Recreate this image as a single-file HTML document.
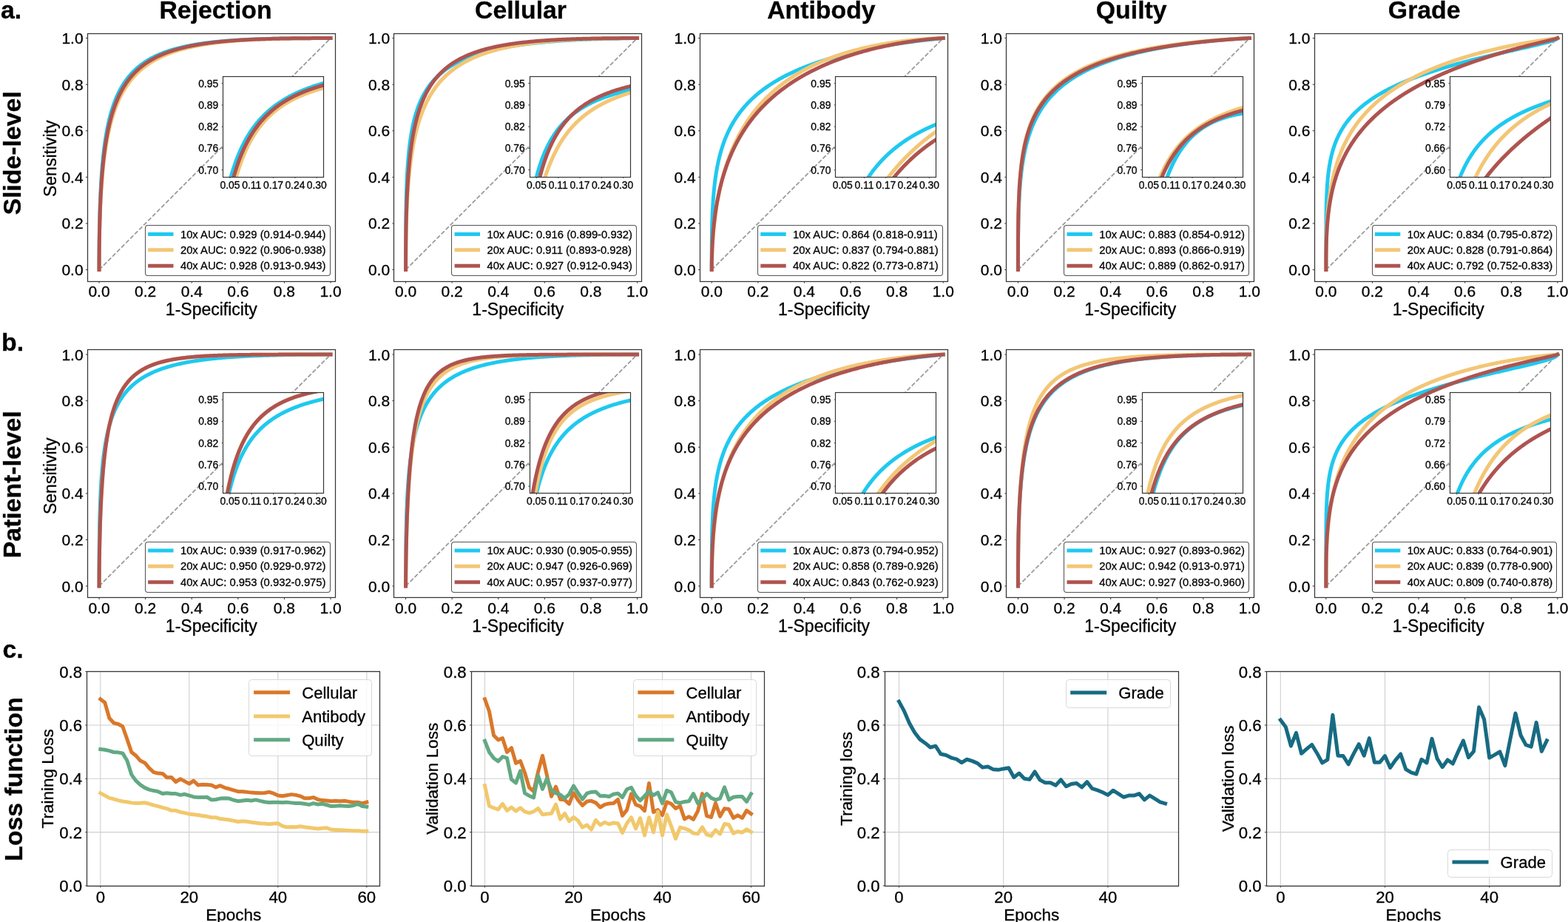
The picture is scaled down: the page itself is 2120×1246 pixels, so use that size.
<!DOCTYPE html>
<html><head><meta charset="utf-8"><title>Figure</title>
<style>html,body{margin:0;padding:0;background:#fff;}body{width:2120px;height:1246px;overflow:hidden;}svg{display:block;}</style>
</head><body>
<svg width="2120" height="1246" viewBox="0 0 2120 1246" font-family="'Liberation Sans', Arial, Helvetica, sans-serif">
<style>text{stroke:#000;stroke-width:0.3px;paint-order:stroke;}</style>
<rect width="2120" height="1246" fill="#fff"/>
<clipPath id="c00"><rect x="118.40" y="45.30" width="334.91" height="334.91"/></clipPath>
<line x1="134.05" y1="380.21" x2="134.05" y2="382.71" stroke="#363636" stroke-width="1"/>
<line x1="118.40" y1="364.56" x2="115.90" y2="364.56" stroke="#363636" stroke-width="1"/>
<text x="134.05" y="401.41" font-size="21" text-anchor="middle" fill="#000">0.0</text>
<text x="112.60" y="372.06" font-size="21" text-anchor="end" fill="#000">0.0</text>
<line x1="196.65" y1="380.21" x2="196.65" y2="382.71" stroke="#363636" stroke-width="1"/>
<line x1="118.40" y1="301.96" x2="115.90" y2="301.96" stroke="#363636" stroke-width="1"/>
<text x="196.65" y="401.41" font-size="21" text-anchor="middle" fill="#000">0.2</text>
<text x="112.60" y="309.46" font-size="21" text-anchor="end" fill="#000">0.2</text>
<line x1="259.25" y1="380.21" x2="259.25" y2="382.71" stroke="#363636" stroke-width="1"/>
<line x1="118.40" y1="239.36" x2="115.90" y2="239.36" stroke="#363636" stroke-width="1"/>
<text x="259.25" y="401.41" font-size="21" text-anchor="middle" fill="#000">0.4</text>
<text x="112.60" y="246.86" font-size="21" text-anchor="end" fill="#000">0.4</text>
<line x1="321.85" y1="380.21" x2="321.85" y2="382.71" stroke="#363636" stroke-width="1"/>
<line x1="118.40" y1="176.76" x2="115.90" y2="176.76" stroke="#363636" stroke-width="1"/>
<text x="321.85" y="401.41" font-size="21" text-anchor="middle" fill="#000">0.6</text>
<text x="112.60" y="184.26" font-size="21" text-anchor="end" fill="#000">0.6</text>
<line x1="384.45" y1="380.21" x2="384.45" y2="382.71" stroke="#363636" stroke-width="1"/>
<line x1="118.40" y1="114.16" x2="115.90" y2="114.16" stroke="#363636" stroke-width="1"/>
<text x="384.45" y="401.41" font-size="21" text-anchor="middle" fill="#000">0.8</text>
<text x="112.60" y="121.66" font-size="21" text-anchor="end" fill="#000">0.8</text>
<line x1="447.05" y1="380.21" x2="447.05" y2="382.71" stroke="#363636" stroke-width="1"/>
<line x1="118.40" y1="51.56" x2="115.90" y2="51.56" stroke="#363636" stroke-width="1"/>
<text x="447.05" y="401.41" font-size="21" text-anchor="middle" fill="#000">1.0</text>
<text x="112.60" y="59.06" font-size="21" text-anchor="end" fill="#000">1.0</text>
<text x="285.86" y="426.21" font-size="23" text-anchor="middle" fill="#000">1-Specificity</text>
<text x="76.40" y="214.26" font-size="23" text-anchor="middle" transform="rotate(-90 76.40 214.26)" fill="#000">Sensitivity</text>
<line x1="134.05" y1="364.56" x2="447.05" y2="51.56" stroke="#9a9a9a" stroke-width="1.75" stroke-dasharray="5.9,2.6"/>
<polyline points="134.05,364.56 134.05,363.58 134.05,363.43 134.05,363.25 134.05,363.04 134.05,362.80 134.05,362.53 134.05,362.22 134.05,361.86 134.05,361.45 134.05,360.98 134.05,360.44 134.05,359.82 134.06,359.13 134.06,358.33 134.06,357.43 134.06,356.41 134.06,355.25 134.07,353.94 134.07,352.46 134.08,350.79 134.09,348.91 134.09,346.81 134.11,344.45 134.12,341.81 134.14,338.87 134.16,335.60 134.20,331.96 134.23,327.93 134.28,323.47 134.35,318.57 134.42,313.17 134.52,307.26 134.65,300.81 134.81,293.79 135.01,286.18 135.27,277.96 135.59,269.12 136.00,259.66 136.52,249.57 137.18,238.88 137.24,237.96 138.28,224.43 139.31,213.37 140.35,204.00 141.39,195.87 142.42,188.70 143.46,182.29 144.50,176.51 145.53,171.23 146.57,166.40 147.60,161.94 148.64,157.81 149.68,153.96 150.71,150.36 151.75,146.99 152.78,143.82 153.82,140.83 154.86,138.00 155.89,135.32 156.93,132.78 157.97,130.37 159.00,128.06 160.04,125.87 161.07,123.77 162.11,121.77 163.15,119.85 164.18,118.00 165.22,116.24 166.25,114.54 167.29,112.91 168.33,111.34 169.36,109.82 170.40,108.37 171.44,106.96 172.47,105.60 173.51,104.29 174.54,103.02 175.58,101.80 176.62,100.61 177.65,99.46 178.69,98.35 179.72,97.27 180.76,96.23 181.80,95.21 182.83,94.23 183.87,93.27 184.91,92.34 185.94,91.44 186.98,90.56 188.01,89.71 189.05,88.88 190.09,88.08 191.12,87.29 192.16,86.53 193.19,85.78 194.23,85.06 195.27,84.35 196.30,83.66 197.34,82.99 198.38,82.34 199.41,81.70 200.45,81.08 201.48,80.47 202.52,79.87 203.56,79.30 204.59,78.73 205.63,78.18 206.66,77.64 207.70,77.11 208.74,76.60 209.77,76.09 210.81,75.60 211.85,75.12 212.88,74.65 213.92,74.19 214.95,73.74 215.99,73.30 217.03,72.87 218.06,72.45 219.10,72.04 220.13,71.63 221.17,71.24 222.21,70.85 223.24,70.47 224.28,70.10 225.31,69.74 226.35,69.39 227.39,69.04 228.42,68.70 229.46,68.36 230.50,68.03 231.53,67.71 232.57,67.40 233.60,67.09 234.64,66.79 235.68,66.49 236.71,66.20 237.75,65.92 238.78,65.64 239.82,65.37 240.86,65.10 241.89,64.84 242.93,64.58 243.97,64.33 245.00,64.08 246.04,63.83 247.07,63.59 248.11,63.36 249.15,63.13 250.18,62.91 251.22,62.68 252.25,62.47 253.29,62.25 254.33,62.05 255.36,61.84 256.40,61.64 257.44,61.44 258.47,61.25 259.51,61.06 260.54,60.87 261.58,60.69 262.62,60.51 263.65,60.33 264.69,60.16 265.72,59.99 266.76,59.82 267.80,59.66 268.83,59.49 269.87,59.34 270.91,59.18 271.94,59.03 272.98,58.88 274.01,58.73 275.05,58.59 276.09,58.44 277.12,58.31 278.16,58.17 279.19,58.03 280.23,57.90 281.27,57.77 282.30,57.65 283.34,57.52 284.38,57.40 285.41,57.28 286.45,57.16 287.48,57.04 288.52,56.93 289.56,56.82 290.59,56.71 291.63,56.60 292.66,56.49 293.70,56.39 294.74,56.29 295.77,56.19 296.81,56.09 297.85,55.99 298.88,55.90 299.92,55.80 300.95,55.71 301.99,55.62 303.03,55.53 304.06,55.45 305.10,55.36 306.13,55.28 307.17,55.19 308.21,55.11 309.24,55.03 310.28,54.96 311.31,54.88 312.35,54.80 313.39,54.73 314.42,54.66 315.46,54.59 316.50,54.52 317.53,54.45 318.57,54.38 319.60,54.32 320.64,54.25 321.68,54.19 322.71,54.13 323.75,54.07 324.78,54.01 325.82,53.95 326.86,53.89 327.89,53.83 328.93,53.78 329.97,53.72 331.00,53.67 332.04,53.62 333.07,53.57 334.11,53.52 335.15,53.47 336.18,53.42 337.22,53.37 338.25,53.32 339.29,53.28 340.33,53.23 341.36,53.19 342.40,53.15 343.44,53.10 344.47,53.06 345.51,53.02 346.54,52.98 347.58,52.94 348.62,52.90 349.65,52.87 350.69,52.83 351.72,52.79 352.76,52.76 353.80,52.73 354.83,52.69 355.87,52.66 356.91,52.63 357.94,52.59 358.98,52.56 360.01,52.53 361.05,52.50 362.09,52.48 363.12,52.45 364.16,52.42 365.19,52.39 366.23,52.37 367.27,52.34 368.30,52.31 369.34,52.29 370.38,52.27 371.41,52.24 372.45,52.22 373.48,52.20 374.52,52.17 375.56,52.15 376.59,52.13 377.63,52.11 378.66,52.09 379.70,52.07 380.74,52.05 381.77,52.04 382.81,52.02 383.85,52.00 384.88,51.98 385.92,51.97 386.95,51.95 387.99,51.93 389.03,51.92 390.06,51.90 391.10,51.89 392.13,51.87 393.17,51.86 394.21,51.85 395.24,51.83 396.28,51.82 397.32,51.81 398.35,51.80 399.39,51.79 400.42,51.78 401.46,51.77 402.50,51.75 403.53,51.74 404.57,51.73 405.60,51.73 406.64,51.72 407.68,51.71 408.71,51.70 409.75,51.69 410.78,51.68 411.82,51.68 412.86,51.67 413.89,51.66 414.93,51.65 415.97,51.65 417.00,51.64 418.04,51.64 419.07,51.63 420.11,51.62 421.15,51.62 422.18,51.61 423.22,51.61 424.25,51.61 425.29,51.60 426.33,51.60 427.36,51.59 428.40,51.59 429.44,51.59 430.47,51.58 431.51,51.58 432.54,51.58 433.58,51.58 434.62,51.57 435.65,51.57 436.69,51.57 437.72,51.57 438.76,51.57 439.80,51.56 440.83,51.56 441.87,51.56 442.91,51.56 443.94,51.56 444.98,51.56 446.01,51.56 447.05,51.56" fill="none" stroke="#1fc9ef" stroke-width="5.0" stroke-linejoin="round" stroke-linecap="square" clip-path="url(#c00)"/>
<polyline points="134.05,364.56 134.05,363.93 134.05,363.83 134.05,363.70 134.05,363.56 134.05,363.39 134.05,363.20 134.05,362.98 134.05,362.72 134.05,362.43 134.05,362.08 134.05,361.69 134.05,361.23 134.06,360.71 134.06,360.11 134.06,359.42 134.06,358.64 134.06,357.74 134.07,356.71 134.07,355.54 134.08,354.22 134.09,352.71 134.09,351.00 134.11,349.07 134.12,346.89 134.14,344.43 134.16,341.68 134.20,338.58 134.23,335.12 134.28,331.26 134.35,326.96 134.42,322.19 134.52,316.92 134.65,311.10 134.81,304.71 135.01,297.70 135.27,290.06 135.59,281.76 136.00,272.77 136.52,263.10 137.18,252.73 137.24,251.83 138.28,238.54 139.31,227.54 140.35,218.14 141.39,209.92 142.42,202.61 143.46,196.05 144.50,190.08 145.53,184.62 146.57,179.59 147.60,174.93 148.64,170.60 149.68,166.54 150.71,162.74 151.75,159.17 152.78,155.80 153.82,152.61 154.86,149.58 155.89,146.71 156.93,143.98 157.97,141.38 159.00,138.89 160.04,136.51 161.07,134.24 162.11,132.05 163.15,129.96 164.18,127.95 165.22,126.02 166.25,124.16 167.29,122.37 168.33,120.64 169.36,118.97 170.40,117.36 171.44,115.80 172.47,114.30 173.51,112.85 174.54,111.44 175.58,110.07 176.62,108.75 177.65,107.47 178.69,106.23 179.72,105.02 180.76,103.85 181.80,102.71 182.83,101.60 183.87,100.53 184.91,99.48 185.94,98.46 186.98,97.47 188.01,96.51 189.05,95.57 190.09,94.66 191.12,93.77 192.16,92.90 193.19,92.05 194.23,91.23 195.27,90.42 196.30,89.64 197.34,88.87 198.38,88.12 199.41,87.39 200.45,86.68 201.48,85.98 202.52,85.30 203.56,84.63 204.59,83.98 205.63,83.34 206.66,82.72 207.70,82.11 208.74,81.52 209.77,80.94 210.81,80.37 211.85,79.81 212.88,79.27 213.92,78.73 214.95,78.21 215.99,77.70 217.03,77.20 218.06,76.71 219.10,76.23 220.13,75.76 221.17,75.30 222.21,74.85 223.24,74.40 224.28,73.97 225.31,73.55 226.35,73.13 227.39,72.72 228.42,72.32 229.46,71.93 230.50,71.54 231.53,71.17 232.57,70.80 233.60,70.43 234.64,70.08 235.68,69.73 236.71,69.38 237.75,69.05 238.78,68.72 239.82,68.40 240.86,68.08 241.89,67.77 242.93,67.46 243.97,67.16 245.00,66.86 246.04,66.58 247.07,66.29 248.11,66.01 249.15,65.74 250.18,65.47 251.22,65.21 252.25,64.95 253.29,64.69 254.33,64.44 255.36,64.20 256.40,63.96 257.44,63.72 258.47,63.49 259.51,63.26 260.54,63.04 261.58,62.82 262.62,62.60 263.65,62.39 264.69,62.18 265.72,61.97 266.76,61.77 267.80,61.57 268.83,61.38 269.87,61.19 270.91,61.00 271.94,60.82 272.98,60.63 274.01,60.46 275.05,60.28 276.09,60.11 277.12,59.94 278.16,59.78 279.19,59.61 280.23,59.45 281.27,59.29 282.30,59.14 283.34,58.99 284.38,58.84 285.41,58.69 286.45,58.55 287.48,58.41 288.52,58.27 289.56,58.13 290.59,58.00 291.63,57.86 292.66,57.73 293.70,57.61 294.74,57.48 295.77,57.36 296.81,57.24 297.85,57.12 298.88,57.00 299.92,56.89 300.95,56.77 301.99,56.66 303.03,56.55 304.06,56.45 305.10,56.34 306.13,56.24 307.17,56.14 308.21,56.04 309.24,55.94 310.28,55.84 311.31,55.75 312.35,55.66 313.39,55.57 314.42,55.48 315.46,55.39 316.50,55.30 317.53,55.22 318.57,55.13 319.60,55.05 320.64,54.97 321.68,54.89 322.71,54.82 323.75,54.74 324.78,54.67 325.82,54.59 326.86,54.52 327.89,54.45 328.93,54.38 329.97,54.31 331.00,54.25 332.04,54.18 333.07,54.12 334.11,54.05 335.15,53.99 336.18,53.93 337.22,53.87 338.25,53.81 339.29,53.75 340.33,53.70 341.36,53.64 342.40,53.59 343.44,53.54 344.47,53.48 345.51,53.43 346.54,53.38 347.58,53.33 348.62,53.28 349.65,53.24 350.69,53.19 351.72,53.15 352.76,53.10 353.80,53.06 354.83,53.02 355.87,52.97 356.91,52.93 357.94,52.89 358.98,52.85 360.01,52.82 361.05,52.78 362.09,52.74 363.12,52.71 364.16,52.67 365.19,52.64 366.23,52.60 367.27,52.57 368.30,52.54 369.34,52.51 370.38,52.47 371.41,52.44 372.45,52.41 373.48,52.39 374.52,52.36 375.56,52.33 376.59,52.30 377.63,52.28 378.66,52.25 379.70,52.23 380.74,52.20 381.77,52.18 382.81,52.16 383.85,52.13 384.88,52.11 385.92,52.09 386.95,52.07 387.99,52.05 389.03,52.03 390.06,52.01 391.10,51.99 392.13,51.97 393.17,51.95 394.21,51.94 395.24,51.92 396.28,51.90 397.32,51.89 398.35,51.87 399.39,51.86 400.42,51.84 401.46,51.83 402.50,51.82 403.53,51.80 404.57,51.79 405.60,51.78 406.64,51.77 407.68,51.75 408.71,51.74 409.75,51.73 410.78,51.72 411.82,51.71 412.86,51.70 413.89,51.69 414.93,51.69 415.97,51.68 417.00,51.67 418.04,51.66 419.07,51.65 420.11,51.65 421.15,51.64 422.18,51.63 423.22,51.63 424.25,51.62 425.29,51.62 426.33,51.61 427.36,51.60 428.40,51.60 429.44,51.60 430.47,51.59 431.51,51.59 432.54,51.58 433.58,51.58 434.62,51.58 435.65,51.58 436.69,51.57 437.72,51.57 438.76,51.57 439.80,51.57 440.83,51.56 441.87,51.56 442.91,51.56 443.94,51.56 444.98,51.56 446.01,51.56 447.05,51.56" fill="none" stroke="#f3c676" stroke-width="5.0" stroke-linejoin="round" stroke-linecap="square" clip-path="url(#c00)"/>
<polyline points="134.05,364.56 134.05,363.87 134.05,363.75 134.05,363.62 134.05,363.46 134.05,363.28 134.05,363.07 134.05,362.83 134.05,362.55 134.05,362.22 134.05,361.85 134.05,361.42 134.05,360.93 134.06,360.36 134.06,359.71 134.06,358.96 134.06,358.11 134.06,357.14 134.07,356.03 134.07,354.78 134.08,353.35 134.09,351.73 134.09,349.90 134.11,347.83 134.12,345.50 134.14,342.88 134.16,339.94 134.20,336.65 134.23,332.98 134.28,328.89 134.35,324.36 134.42,319.34 134.52,313.79 134.65,307.70 134.81,301.02 135.01,293.72 135.27,285.78 135.59,277.18 136.00,267.91 136.52,257.97 137.18,247.35 137.24,246.43 138.28,232.88 139.31,221.72 140.35,212.22 141.39,203.94 142.42,196.60 143.46,190.02 144.50,184.06 145.53,178.62 146.57,173.62 147.60,168.99 148.64,164.70 149.68,160.69 150.71,156.94 151.75,153.41 152.78,150.09 153.82,146.96 154.86,143.99 155.89,141.18 156.93,138.51 157.97,135.96 159.00,133.54 160.04,131.22 161.07,129.01 162.11,126.89 163.15,124.86 164.18,122.91 165.22,121.03 166.25,119.23 167.29,117.50 168.33,115.83 169.36,114.23 170.40,112.67 171.44,111.18 172.47,109.73 173.51,108.33 174.54,106.98 175.58,105.68 176.62,104.41 177.65,103.18 178.69,101.99 179.72,100.84 180.76,99.72 181.80,98.64 182.83,97.59 183.87,96.56 184.91,95.57 185.94,94.60 186.98,93.66 188.01,92.75 189.05,91.86 190.09,90.99 191.12,90.15 192.16,89.33 193.19,88.53 194.23,87.75 195.27,86.99 196.30,86.25 197.34,85.53 198.38,84.82 199.41,84.14 200.45,83.47 201.48,82.81 202.52,82.17 203.56,81.55 204.59,80.94 205.63,80.34 206.66,79.76 207.70,79.19 208.74,78.64 209.77,78.10 210.81,77.57 211.85,77.05 212.88,76.54 213.92,76.04 214.95,75.56 215.99,75.08 217.03,74.62 218.06,74.16 219.10,73.72 220.13,73.28 221.17,72.85 222.21,72.44 223.24,72.03 224.28,71.63 225.31,71.23 226.35,70.85 227.39,70.47 228.42,70.10 229.46,69.74 230.50,69.39 231.53,69.04 232.57,68.70 233.60,68.37 234.64,68.04 235.68,67.72 236.71,67.41 237.75,67.10 238.78,66.80 239.82,66.50 240.86,66.21 241.89,65.92 242.93,65.64 243.97,65.37 245.00,65.10 246.04,64.84 247.07,64.58 248.11,64.32 249.15,64.08 250.18,63.83 251.22,63.59 252.25,63.36 253.29,63.13 254.33,62.90 255.36,62.68 256.40,62.46 257.44,62.24 258.47,62.03 259.51,61.83 260.54,61.62 261.58,61.43 262.62,61.23 263.65,61.04 264.69,60.85 265.72,60.67 266.76,60.48 267.80,60.31 268.83,60.13 269.87,59.96 270.91,59.79 271.94,59.63 272.98,59.46 274.01,59.30 275.05,59.15 276.09,58.99 277.12,58.84 278.16,58.69 279.19,58.55 280.23,58.41 281.27,58.26 282.30,58.13 283.34,57.99 284.38,57.86 285.41,57.73 286.45,57.60 287.48,57.47 288.52,57.35 289.56,57.23 290.59,57.11 291.63,56.99 292.66,56.88 293.70,56.76 294.74,56.65 295.77,56.54 296.81,56.44 297.85,56.33 298.88,56.23 299.92,56.13 300.95,56.03 301.99,55.93 303.03,55.83 304.06,55.74 305.10,55.65 306.13,55.56 307.17,55.47 308.21,55.38 309.24,55.30 310.28,55.21 311.31,55.13 312.35,55.05 313.39,54.97 314.42,54.89 315.46,54.81 316.50,54.74 317.53,54.66 318.57,54.59 319.60,54.52 320.64,54.45 321.68,54.38 322.71,54.31 323.75,54.25 324.78,54.18 325.82,54.12 326.86,54.06 327.89,54.00 328.93,53.94 329.97,53.88 331.00,53.82 332.04,53.76 333.07,53.71 334.11,53.65 335.15,53.60 336.18,53.55 337.22,53.50 338.25,53.44 339.29,53.40 340.33,53.35 341.36,53.30 342.40,53.25 343.44,53.21 344.47,53.16 345.51,53.12 346.54,53.08 347.58,53.03 348.62,52.99 349.65,52.95 350.69,52.91 351.72,52.88 352.76,52.84 353.80,52.80 354.83,52.76 355.87,52.73 356.91,52.69 357.94,52.66 358.98,52.63 360.01,52.59 361.05,52.56 362.09,52.53 363.12,52.50 364.16,52.47 365.19,52.44 366.23,52.41 367.27,52.39 368.30,52.36 369.34,52.33 370.38,52.31 371.41,52.28 372.45,52.26 373.48,52.23 374.52,52.21 375.56,52.19 376.59,52.16 377.63,52.14 378.66,52.12 379.70,52.10 380.74,52.08 381.77,52.06 382.81,52.04 383.85,52.02 384.88,52.00 385.92,51.99 386.95,51.97 387.99,51.95 389.03,51.94 390.06,51.92 391.10,51.91 392.13,51.89 393.17,51.88 394.21,51.86 395.24,51.85 396.28,51.83 397.32,51.82 398.35,51.81 399.39,51.80 400.42,51.79 401.46,51.77 402.50,51.76 403.53,51.75 404.57,51.74 405.60,51.73 406.64,51.72 407.68,51.71 408.71,51.70 409.75,51.70 410.78,51.69 411.82,51.68 412.86,51.67 413.89,51.66 414.93,51.66 415.97,51.65 417.00,51.64 418.04,51.64 419.07,51.63 420.11,51.63 421.15,51.62 422.18,51.62 423.22,51.61 424.25,51.61 425.29,51.60 426.33,51.60 427.36,51.59 428.40,51.59 429.44,51.59 430.47,51.58 431.51,51.58 432.54,51.58 433.58,51.58 434.62,51.57 435.65,51.57 436.69,51.57 437.72,51.57 438.76,51.57 439.80,51.56 440.83,51.56 441.87,51.56 442.91,51.56 443.94,51.56 444.98,51.56 446.01,51.56 447.05,51.56" fill="none" stroke="#ae5450" stroke-width="5.0" stroke-linejoin="round" stroke-linecap="square" clip-path="url(#c00)"/>
<rect x="118.50" y="45.50" width="335.00" height="335.00" fill="none" stroke="#363636" stroke-width="1.25"/>
<rect x="301.60" y="103.30" width="136.00" height="135.70" fill="#fff" stroke="none"/>
<clipPath id="i00"><rect x="301.60" y="103.30" width="136.00" height="135.70"/></clipPath>
<polyline points="296.91,324.75 297.66,318.07 298.42,311.81 299.17,305.94 299.93,300.40 300.68,295.17 301.44,290.22 302.19,285.51 302.94,281.03 303.70,276.76 304.45,272.68 305.21,268.78 305.96,265.04 306.71,261.45 307.47,258.00 308.22,254.69 308.98,251.50 309.73,248.42 310.48,245.45 311.24,242.59 311.99,239.81 312.75,237.14 313.50,234.54 314.25,232.03 315.01,229.59 315.76,227.23 316.52,224.94 317.27,222.71 318.03,220.54 318.78,218.44 319.53,216.39 320.29,214.40 321.04,212.46 321.80,210.57 322.55,208.73 323.30,206.93 324.06,205.18 324.81,203.47 325.57,201.81 326.32,200.18 327.07,198.59 327.83,197.03 328.58,195.51 329.34,194.03 330.09,192.57 330.85,191.15 331.60,189.76 332.35,188.40 333.11,187.07 333.86,185.76 334.62,184.48 335.37,183.23 336.12,182.00 336.88,180.80 337.63,179.62 338.39,178.46 339.14,177.33 339.89,176.21 340.65,175.12 341.40,174.05 342.16,173.00 342.91,171.96 343.67,170.95 344.42,169.95 345.17,168.97 345.93,168.01 346.68,167.06 347.44,166.13 348.19,165.22 348.94,164.32 349.70,163.44 350.45,162.57 351.21,161.72 351.96,160.88 352.71,160.05 353.47,159.24 354.22,158.44 354.98,157.65 355.73,156.87 356.49,156.11 357.24,155.36 357.99,154.62 358.75,153.89 359.50,153.17 360.26,152.47 361.01,151.77 361.76,151.09 362.52,150.41 363.27,149.74 364.03,149.09 364.78,148.44 365.53,147.80 366.29,147.18 367.04,146.56 367.80,145.95 368.55,145.34 369.31,144.75 370.06,144.16 370.81,143.59 371.57,143.02 372.32,142.46 373.08,141.90 373.83,141.35 374.58,140.81 375.34,140.28 376.09,139.76 376.85,139.24 377.60,138.73 378.35,138.22 379.11,137.72 379.86,137.23 380.62,136.75 381.37,136.27 382.13,135.79 382.88,135.33 383.63,134.86 384.39,134.41 385.14,133.96 385.90,133.51 386.65,133.07 387.40,132.64 388.16,132.21 388.91,131.79 389.67,131.37 390.42,130.96 391.17,130.55 391.93,130.14 392.68,129.75 393.44,129.35 394.19,128.96 394.95,128.58 395.70,128.20 396.45,127.82 397.21,127.45 397.96,127.08 398.72,126.72 399.47,126.36 400.22,126.01 400.98,125.65 401.73,125.31 402.49,124.96 403.24,124.63 403.99,124.29 404.75,123.96 405.50,123.63 406.26,123.31 407.01,122.99 407.77,122.67 408.52,122.35 409.27,122.04 410.03,121.74 410.78,121.43 411.54,121.13 412.29,120.84 413.04,120.54 413.80,120.25 414.55,119.96 415.31,119.68 416.06,119.40 416.81,119.12 417.57,118.84 418.32,118.57 419.08,118.30 419.83,118.03 420.59,117.77 421.34,117.50 422.09,117.25 422.85,116.99 423.60,116.73 424.36,116.48 425.11,116.23 425.86,115.99 426.62,115.74 427.37,115.50 428.13,115.26 428.88,115.03 429.63,114.79 430.39,114.56 431.14,114.33 431.90,114.11 432.65,113.88 433.41,113.66 434.16,113.44 434.91,113.22 435.67,113.00 436.42,112.79 437.18,112.58 437.93,112.37 438.68,112.16 439.44,111.95 440.19,111.75 440.95,111.55 441.70,111.35 442.45,111.15 443.21,110.95 443.96,110.76 444.72,110.56 445.47,110.37 446.23,110.19 446.98,110.00" fill="none" stroke="#1fc9ef" stroke-width="5.0" stroke-linejoin="round" stroke-linecap="square" clip-path="url(#i00)"/>
<polyline points="296.91,385.51 297.66,376.59 298.42,368.19 299.17,360.24 299.93,352.73 300.68,345.60 301.44,338.83 302.19,332.39 302.94,326.25 303.70,320.40 304.45,314.81 305.21,309.47 305.96,304.35 306.71,299.45 307.47,294.74 308.22,290.23 308.98,285.89 309.73,281.72 310.48,277.70 311.24,273.83 311.99,270.10 312.75,266.50 313.50,263.02 314.25,259.67 315.01,256.42 315.76,253.28 316.52,250.24 317.27,247.30 318.03,244.45 318.78,241.69 319.53,239.01 320.29,236.42 321.04,233.89 321.80,231.45 322.55,229.07 323.30,226.75 324.06,224.51 324.81,222.32 325.57,220.19 326.32,218.12 327.07,216.10 327.83,214.14 328.58,212.22 329.34,210.36 330.09,208.54 330.85,206.77 331.60,205.04 332.35,203.35 333.11,201.70 333.86,200.09 334.62,198.52 335.37,196.98 336.12,195.48 336.88,194.02 337.63,192.58 338.39,191.18 339.14,189.81 339.89,188.47 340.65,187.16 341.40,185.87 342.16,184.61 342.91,183.38 343.67,182.18 344.42,181.00 345.17,179.84 345.93,178.71 346.68,177.59 347.44,176.51 348.19,175.44 348.94,174.39 349.70,173.36 350.45,172.36 351.21,171.37 351.96,170.40 352.71,169.45 353.47,168.52 354.22,167.60 354.98,166.70 355.73,165.82 356.49,164.95 357.24,164.10 357.99,163.26 358.75,162.44 359.50,161.63 360.26,160.83 361.01,160.05 361.76,159.29 362.52,158.53 363.27,157.79 364.03,157.06 364.78,156.34 365.53,155.64 366.29,154.94 367.04,154.26 367.80,153.59 368.55,152.93 369.31,152.28 370.06,151.64 370.81,151.01 371.57,150.39 372.32,149.78 373.08,149.18 373.83,148.58 374.58,148.00 375.34,147.43 376.09,146.86 376.85,146.30 377.60,145.76 378.35,145.22 379.11,144.68 379.86,144.16 380.62,143.64 381.37,143.13 382.13,142.63 382.88,142.13 383.63,141.64 384.39,141.16 385.14,140.69 385.90,140.22 386.65,139.76 387.40,139.30 388.16,138.85 388.91,138.41 389.67,137.97 390.42,137.54 391.17,137.12 391.93,136.70 392.68,136.28 393.44,135.87 394.19,135.47 394.95,135.07 395.70,134.68 396.45,134.29 397.21,133.91 397.96,133.53 398.72,133.16 399.47,132.79 400.22,132.43 400.98,132.07 401.73,131.72 402.49,131.37 403.24,131.02 403.99,130.68 404.75,130.34 405.50,130.01 406.26,129.68 407.01,129.35 407.77,129.03 408.52,128.72 409.27,128.40 410.03,128.09 410.78,127.79 411.54,127.48 412.29,127.19 413.04,126.89 413.80,126.60 414.55,126.31 415.31,126.02 416.06,125.74 416.81,125.46 417.57,125.19 418.32,124.92 419.08,124.65 419.83,124.38 420.59,124.12 421.34,123.86 422.09,123.60 422.85,123.35 423.60,123.09 424.36,122.85 425.11,122.60 425.86,122.36 426.62,122.11 427.37,121.88 428.13,121.64 428.88,121.41 429.63,121.18 430.39,120.95 431.14,120.72 431.90,120.50 432.65,120.28 433.41,120.06 434.16,119.84 434.91,119.63 435.67,119.42 436.42,119.21 437.18,119.00 437.93,118.80 438.68,118.59 439.44,118.39 440.19,118.19 440.95,117.99 441.70,117.80 442.45,117.61 443.21,117.42 443.96,117.23 444.72,117.04 445.47,116.85 446.23,116.67 446.98,116.49" fill="none" stroke="#f3c676" stroke-width="5.0" stroke-linejoin="round" stroke-linecap="square" clip-path="url(#i00)"/>
<polyline points="296.91,355.39 297.66,347.47 298.42,340.04 299.17,333.05 299.93,326.46 300.68,320.23 301.44,314.32 302.19,308.71 302.94,303.38 303.70,298.29 304.45,293.44 305.21,288.80 305.96,284.36 306.71,280.10 307.47,276.02 308.22,272.10 308.98,268.33 309.73,264.70 310.48,261.21 311.24,257.84 311.99,254.58 312.75,251.44 313.50,248.41 314.25,245.47 315.01,242.63 315.76,239.88 316.52,237.22 317.27,234.64 318.03,232.13 318.78,229.70 319.53,227.34 320.29,225.04 321.04,222.81 321.80,220.64 322.55,218.53 323.30,216.48 324.06,214.48 324.81,212.53 325.57,210.63 326.32,208.78 327.07,206.98 327.83,205.22 328.58,203.51 329.34,201.83 330.09,200.19 330.85,198.60 331.60,197.04 332.35,195.51 333.11,194.02 333.86,192.56 334.62,191.14 335.37,189.74 336.12,188.38 336.88,187.04 337.63,185.73 338.39,184.45 339.14,183.20 339.89,181.97 340.65,180.77 341.40,179.59 342.16,178.43 342.91,177.30 343.67,176.18 344.42,175.09 345.17,174.03 345.93,172.98 346.68,171.95 347.44,170.94 348.19,169.94 348.94,168.97 349.70,168.01 350.45,167.08 351.21,166.15 351.96,165.25 352.71,164.36 353.47,163.48 354.22,162.62 354.98,161.78 355.73,160.95 356.49,160.13 357.24,159.33 357.99,158.54 358.75,157.76 359.50,156.99 360.26,156.24 361.01,155.50 361.76,154.77 362.52,154.06 363.27,153.35 364.03,152.66 364.78,151.97 365.53,151.30 366.29,150.64 367.04,149.99 367.80,149.34 368.55,148.71 369.31,148.09 370.06,147.47 370.81,146.87 371.57,146.27 372.32,145.68 373.08,145.10 373.83,144.53 374.58,143.97 375.34,143.42 376.09,142.87 376.85,142.33 377.60,141.80 378.35,141.27 379.11,140.76 379.86,140.25 380.62,139.74 381.37,139.25 382.13,138.76 382.88,138.27 383.63,137.80 384.39,137.33 385.14,136.86 385.90,136.41 386.65,135.95 387.40,135.51 388.16,135.07 388.91,134.63 389.67,134.20 390.42,133.78 391.17,133.36 391.93,132.95 392.68,132.54 393.44,132.14 394.19,131.74 394.95,131.35 395.70,130.96 396.45,130.58 397.21,130.20 397.96,129.82 398.72,129.45 399.47,129.09 400.22,128.73 400.98,128.37 401.73,128.02 402.49,127.67 403.24,127.33 403.99,126.99 404.75,126.65 405.50,126.32 406.26,125.99 407.01,125.67 407.77,125.35 408.52,125.03 409.27,124.72 410.03,124.41 410.78,124.10 411.54,123.80 412.29,123.50 413.04,123.20 413.80,122.91 414.55,122.62 415.31,122.33 416.06,122.05 416.81,121.77 417.57,121.49 418.32,121.22 419.08,120.95 419.83,120.68 420.59,120.41 421.34,120.15 422.09,119.89 422.85,119.64 423.60,119.38 424.36,119.13 425.11,118.88 425.86,118.63 426.62,118.39 427.37,118.15 428.13,117.91 428.88,117.67 429.63,117.44 430.39,117.21 431.14,116.98 431.90,116.75 432.65,116.53 433.41,116.31 434.16,116.09 434.91,115.87 435.67,115.65 436.42,115.44 437.18,115.23 437.93,115.02 438.68,114.81 439.44,114.61 440.19,114.40 440.95,114.20 441.70,114.00 442.45,113.81 443.21,113.61 443.96,113.42 444.72,113.23 445.47,113.04 446.23,112.85 446.98,112.66" fill="none" stroke="#ae5450" stroke-width="5.0" stroke-linejoin="round" stroke-linecap="square" clip-path="url(#i00)"/>
<rect x="301.50" y="103.50" width="136.00" height="136.00" fill="none" stroke="#363636" stroke-width="1.2"/>
<line x1="310.98" y1="239.00" x2="310.98" y2="241.00" stroke="#363636" stroke-width="0.9"/>
<text x="310.98" y="254.50" font-size="13.9" text-anchor="middle" fill="#000">0.05</text>
<line x1="340.29" y1="239.00" x2="340.29" y2="241.00" stroke="#363636" stroke-width="0.9"/>
<text x="340.29" y="254.50" font-size="13.9" text-anchor="middle" fill="#000">0.11</text>
<line x1="369.60" y1="239.00" x2="369.60" y2="241.00" stroke="#363636" stroke-width="0.9"/>
<text x="369.60" y="254.50" font-size="13.9" text-anchor="middle" fill="#000">0.17</text>
<line x1="398.91" y1="239.00" x2="398.91" y2="241.00" stroke="#363636" stroke-width="0.9"/>
<text x="398.91" y="254.50" font-size="13.9" text-anchor="middle" fill="#000">0.24</text>
<line x1="428.22" y1="239.00" x2="428.22" y2="241.00" stroke="#363636" stroke-width="0.9"/>
<text x="428.22" y="254.50" font-size="13.9" text-anchor="middle" fill="#000">0.30</text>
<line x1="301.60" y1="229.64" x2="299.60" y2="229.64" stroke="#363636" stroke-width="0.9"/>
<text x="295.20" y="234.54" font-size="13.9" text-anchor="end" fill="#000">0.70</text>
<line x1="301.60" y1="200.40" x2="299.60" y2="200.40" stroke="#363636" stroke-width="0.9"/>
<text x="295.20" y="205.30" font-size="13.9" text-anchor="end" fill="#000">0.76</text>
<line x1="301.60" y1="171.15" x2="299.60" y2="171.15" stroke="#363636" stroke-width="0.9"/>
<text x="295.20" y="176.05" font-size="13.9" text-anchor="end" fill="#000">0.82</text>
<line x1="301.60" y1="141.90" x2="299.60" y2="141.90" stroke="#363636" stroke-width="0.9"/>
<text x="295.20" y="146.80" font-size="13.9" text-anchor="end" fill="#000">0.89</text>
<line x1="301.60" y1="112.66" x2="299.60" y2="112.66" stroke="#363636" stroke-width="0.9"/>
<text x="295.20" y="117.56" font-size="13.9" text-anchor="end" fill="#000">0.95</text>
<rect x="196.50" y="304.50" width="250.00" height="68.00" rx="3.5" fill="#fff" fill-opacity="0.85" stroke="#555" stroke-width="1.05"/>
<line x1="200.11" y1="316.51" x2="234.51" y2="316.51" stroke="#1fc9ef" stroke-width="5"/>
<text x="243.91" y="321.51" font-size="14.8" text-anchor="start" fill="#000">10x AUC: 0.929 (0.914-0.944)</text>
<line x1="200.11" y1="337.86" x2="234.51" y2="337.86" stroke="#f3c676" stroke-width="5"/>
<text x="243.91" y="342.86" font-size="14.8" text-anchor="start" fill="#000">20x AUC: 0.922 (0.906-0.938)</text>
<line x1="200.11" y1="359.21" x2="234.51" y2="359.21" stroke="#ae5450" stroke-width="5"/>
<text x="243.91" y="364.21" font-size="14.8" text-anchor="start" fill="#000">40x AUC: 0.928 (0.913-0.943)</text>
<clipPath id="c01"><rect x="532.90" y="45.30" width="334.91" height="334.91"/></clipPath>
<line x1="548.55" y1="380.21" x2="548.55" y2="382.71" stroke="#363636" stroke-width="1"/>
<line x1="532.90" y1="364.56" x2="530.40" y2="364.56" stroke="#363636" stroke-width="1"/>
<text x="548.55" y="401.41" font-size="21" text-anchor="middle" fill="#000">0.0</text>
<text x="527.10" y="372.06" font-size="21" text-anchor="end" fill="#000">0.0</text>
<line x1="611.15" y1="380.21" x2="611.15" y2="382.71" stroke="#363636" stroke-width="1"/>
<line x1="532.90" y1="301.96" x2="530.40" y2="301.96" stroke="#363636" stroke-width="1"/>
<text x="611.15" y="401.41" font-size="21" text-anchor="middle" fill="#000">0.2</text>
<text x="527.10" y="309.46" font-size="21" text-anchor="end" fill="#000">0.2</text>
<line x1="673.75" y1="380.21" x2="673.75" y2="382.71" stroke="#363636" stroke-width="1"/>
<line x1="532.90" y1="239.36" x2="530.40" y2="239.36" stroke="#363636" stroke-width="1"/>
<text x="673.75" y="401.41" font-size="21" text-anchor="middle" fill="#000">0.4</text>
<text x="527.10" y="246.86" font-size="21" text-anchor="end" fill="#000">0.4</text>
<line x1="736.35" y1="380.21" x2="736.35" y2="382.71" stroke="#363636" stroke-width="1"/>
<line x1="532.90" y1="176.76" x2="530.40" y2="176.76" stroke="#363636" stroke-width="1"/>
<text x="736.35" y="401.41" font-size="21" text-anchor="middle" fill="#000">0.6</text>
<text x="527.10" y="184.26" font-size="21" text-anchor="end" fill="#000">0.6</text>
<line x1="798.95" y1="380.21" x2="798.95" y2="382.71" stroke="#363636" stroke-width="1"/>
<line x1="532.90" y1="114.16" x2="530.40" y2="114.16" stroke="#363636" stroke-width="1"/>
<text x="798.95" y="401.41" font-size="21" text-anchor="middle" fill="#000">0.8</text>
<text x="527.10" y="121.66" font-size="21" text-anchor="end" fill="#000">0.8</text>
<line x1="861.55" y1="380.21" x2="861.55" y2="382.71" stroke="#363636" stroke-width="1"/>
<line x1="532.90" y1="51.56" x2="530.40" y2="51.56" stroke="#363636" stroke-width="1"/>
<text x="861.55" y="401.41" font-size="21" text-anchor="middle" fill="#000">1.0</text>
<text x="527.10" y="59.06" font-size="21" text-anchor="end" fill="#000">1.0</text>
<text x="700.36" y="426.21" font-size="23" text-anchor="middle" fill="#000">1-Specificity</text>
<line x1="548.55" y1="364.56" x2="861.55" y2="51.56" stroke="#9a9a9a" stroke-width="1.75" stroke-dasharray="5.9,2.6"/>
<polyline points="548.55,364.56 548.55,359.56 548.55,359.03 548.55,358.44 548.55,357.80 548.55,357.09 548.55,356.31 548.55,355.45 548.55,354.51 548.55,353.48 548.55,352.36 548.55,351.13 548.55,349.78 548.56,348.31 548.56,346.71 548.56,344.97 548.56,343.07 548.56,341.00 548.57,338.76 548.57,336.32 548.58,333.68 548.59,330.83 548.59,327.74 548.61,324.41 548.62,320.81 548.64,316.94 548.66,312.79 548.70,308.33 548.73,303.54 548.78,298.43 548.85,292.97 548.92,287.16 549.02,280.98 549.15,274.42 549.31,267.47 549.51,260.14 549.77,252.41 550.09,244.30 550.50,235.80 551.02,226.93 551.68,217.71 551.74,216.92 552.78,205.47 553.81,196.24 554.85,188.51 555.89,181.85 556.92,176.00 557.96,170.79 559.00,166.09 560.03,161.82 561.07,157.91 562.10,154.30 563.14,150.95 564.18,147.83 565.21,144.92 566.25,142.18 567.28,139.60 568.32,137.16 569.36,134.86 570.39,132.67 571.43,130.59 572.47,128.60 573.50,126.71 574.54,124.90 575.57,123.16 576.61,121.50 577.65,119.90 578.68,118.37 579.72,116.89 580.75,115.47 581.79,114.10 582.83,112.77 583.86,111.50 584.90,110.26 585.94,109.06 586.97,107.90 588.01,106.78 589.04,105.69 590.08,104.64 591.12,103.61 592.15,102.62 593.19,101.65 594.22,100.71 595.26,99.80 596.30,98.91 597.33,98.04 598.37,97.20 599.41,96.38 600.44,95.57 601.48,94.79 602.51,94.03 603.55,93.29 604.59,92.56 605.62,91.85 606.66,91.16 607.69,90.48 608.73,89.82 609.77,89.17 610.80,88.54 611.84,87.92 612.88,87.31 613.91,86.72 614.95,86.14 615.98,85.57 617.02,85.01 618.06,84.47 619.09,83.93 620.13,83.41 621.16,82.90 622.20,82.39 623.24,81.90 624.27,81.42 625.31,80.94 626.35,80.48 627.38,80.02 628.42,79.57 629.45,79.13 630.49,78.70 631.53,78.27 632.56,77.86 633.60,77.45 634.63,77.04 635.67,76.65 636.71,76.26 637.74,75.88 638.78,75.50 639.81,75.14 640.85,74.77 641.89,74.42 642.92,74.07 643.96,73.72 645.00,73.38 646.03,73.05 647.07,72.72 648.10,72.40 649.14,72.08 650.18,71.77 651.21,71.47 652.25,71.16 653.28,70.87 654.32,70.57 655.36,70.28 656.39,70.00 657.43,69.72 658.47,69.45 659.50,69.18 660.54,68.91 661.57,68.65 662.61,68.39 663.65,68.13 664.68,67.88 665.72,67.63 666.75,67.39 667.79,67.15 668.83,66.91 669.86,66.68 670.90,66.45 671.94,66.23 672.97,66.00 674.01,65.78 675.04,65.57 676.08,65.35 677.12,65.14 678.15,64.93 679.19,64.73 680.22,64.53 681.26,64.33 682.30,64.13 683.33,63.94 684.37,63.75 685.41,63.56 686.44,63.38 687.48,63.19 688.51,63.01 689.55,62.84 690.59,62.66 691.62,62.49 692.66,62.32 693.69,62.15 694.73,61.98 695.77,61.82 696.80,61.66 697.84,61.50 698.88,61.34 699.91,61.19 700.95,61.03 701.98,60.88 703.02,60.74 704.06,60.59 705.09,60.44 706.13,60.30 707.16,60.16 708.20,60.02 709.24,59.88 710.27,59.75 711.31,59.61 712.35,59.48 713.38,59.35 714.42,59.22 715.45,59.10 716.49,58.97 717.53,58.85 718.56,58.73 719.60,58.61 720.63,58.49 721.67,58.37 722.71,58.26 723.74,58.14 724.78,58.03 725.81,57.92 726.85,57.81 727.89,57.70 728.92,57.60 729.96,57.49 731.00,57.39 732.03,57.29 733.07,57.18 734.10,57.08 735.14,56.99 736.18,56.89 737.21,56.79 738.25,56.70 739.28,56.61 740.32,56.51 741.36,56.42 742.39,56.33 743.43,56.24 744.47,56.16 745.50,56.07 746.54,55.99 747.57,55.90 748.61,55.82 749.65,55.74 750.68,55.66 751.72,55.58 752.75,55.50 753.79,55.42 754.83,55.35 755.86,55.27 756.90,55.20 757.94,55.12 758.97,55.05 760.01,54.98 761.04,54.91 762.08,54.84 763.12,54.77 764.15,54.71 765.19,54.64 766.22,54.57 767.26,54.51 768.30,54.45 769.33,54.38 770.37,54.32 771.41,54.26 772.44,54.20 773.48,54.14 774.51,54.08 775.55,54.02 776.59,53.97 777.62,53.91 778.66,53.86 779.69,53.80 780.73,53.75 781.77,53.70 782.80,53.64 783.84,53.59 784.88,53.54 785.91,53.49 786.95,53.44 787.98,53.39 789.02,53.35 790.06,53.30 791.09,53.25 792.13,53.21 793.16,53.16 794.20,53.12 795.24,53.08 796.27,53.04 797.31,52.99 798.35,52.95 799.38,52.91 800.42,52.87 801.45,52.83 802.49,52.79 803.53,52.76 804.56,52.72 805.60,52.68 806.63,52.65 807.67,52.61 808.71,52.58 809.74,52.54 810.78,52.51 811.82,52.48 812.85,52.44 813.89,52.41 814.92,52.38 815.96,52.35 817.00,52.32 818.03,52.29 819.07,52.26 820.10,52.23 821.14,52.21 822.18,52.18 823.21,52.15 824.25,52.13 825.28,52.10 826.32,52.08 827.36,52.05 828.39,52.03 829.43,52.01 830.47,51.98 831.50,51.96 832.54,51.94 833.57,51.92 834.61,51.90 835.65,51.88 836.68,51.86 837.72,51.84 838.75,51.82 839.79,51.80 840.83,51.79 841.86,51.77 842.90,51.75 843.94,51.74 844.97,51.72 846.01,51.71 847.04,51.69 848.08,51.68 849.12,51.67 850.15,51.65 851.19,51.64 852.22,51.63 853.26,51.62 854.30,51.61 855.33,51.60 856.37,51.59 857.41,51.58 858.44,51.58 859.48,51.57 860.51,51.56 861.55,51.56" fill="none" stroke="#1fc9ef" stroke-width="5.0" stroke-linejoin="round" stroke-linecap="square" clip-path="url(#c01)"/>
<polyline points="548.55,364.56 548.55,363.66 548.55,363.52 548.55,363.36 548.55,363.18 548.55,362.97 548.55,362.73 548.55,362.46 548.55,362.14 548.55,361.79 548.55,361.38 548.55,360.91 548.55,360.39 548.56,359.79 548.56,359.10 548.56,358.33 548.56,357.45 548.56,356.46 548.57,355.35 548.57,354.08 548.58,352.66 548.59,351.07 548.59,349.27 548.61,347.26 548.62,345.01 548.64,342.50 548.66,339.70 548.70,336.58 548.73,333.12 548.78,329.28 548.85,325.05 548.92,320.37 549.02,315.23 549.15,309.60 549.31,303.43 549.51,296.71 549.77,289.41 550.09,281.50 550.50,272.96 551.02,263.79 551.68,253.98 551.74,253.13 552.78,240.57 553.81,230.16 554.85,221.26 555.89,213.47 556.92,206.53 557.96,200.29 559.00,194.60 560.03,189.39 561.07,184.58 562.10,180.11 563.14,175.95 564.18,172.05 565.21,168.38 566.25,164.93 567.28,161.66 568.32,158.56 569.36,155.62 570.39,152.83 571.43,150.16 572.47,147.61 573.50,145.17 574.54,142.84 575.57,140.60 576.61,138.45 577.65,136.38 578.68,134.39 579.72,132.48 580.75,130.63 581.79,128.84 582.83,127.12 583.86,125.45 584.90,123.84 585.94,122.28 586.97,120.77 588.01,119.31 589.04,117.89 590.08,116.51 591.12,115.17 592.15,113.87 593.19,112.60 594.22,111.38 595.26,110.18 596.30,109.02 597.33,107.89 598.37,106.78 599.41,105.71 600.44,104.66 601.48,103.64 602.51,102.65 603.55,101.68 604.59,100.73 605.62,99.80 606.66,98.90 607.69,98.02 608.73,97.16 609.77,96.32 610.80,95.49 611.84,94.69 612.88,93.90 613.91,93.13 614.95,92.38 615.98,91.64 617.02,90.92 618.06,90.22 619.09,89.52 620.13,88.85 621.16,88.19 622.20,87.54 623.24,86.90 624.27,86.28 625.31,85.67 626.35,85.07 627.38,84.48 628.42,83.91 629.45,83.34 630.49,82.79 631.53,82.25 632.56,81.71 633.60,81.19 634.63,80.68 635.67,80.17 636.71,79.68 637.74,79.20 638.78,78.72 639.81,78.25 640.85,77.79 641.89,77.34 642.92,76.90 643.96,76.47 645.00,76.04 646.03,75.62 647.07,75.21 648.10,74.80 649.14,74.41 650.18,74.02 651.21,73.63 652.25,73.26 653.28,72.88 654.32,72.52 655.36,72.16 656.39,71.81 657.43,71.46 658.47,71.12 659.50,70.79 660.54,70.46 661.57,70.13 662.61,69.82 663.65,69.50 664.68,69.19 665.72,68.89 666.75,68.59 667.79,68.30 668.83,68.01 669.86,67.73 670.90,67.45 671.94,67.17 672.97,66.90 674.01,66.64 675.04,66.38 676.08,66.12 677.12,65.87 678.15,65.62 679.19,65.37 680.22,65.13 681.26,64.89 682.30,64.66 683.33,64.43 684.37,64.20 685.41,63.98 686.44,63.76 687.48,63.54 688.51,63.33 689.55,63.12 690.59,62.92 691.62,62.71 692.66,62.51 693.69,62.32 694.73,62.12 695.77,61.93 696.80,61.74 697.84,61.56 698.88,61.38 699.91,61.20 700.95,61.02 701.98,60.85 703.02,60.68 704.06,60.51 705.09,60.34 706.13,60.18 707.16,60.02 708.20,59.86 709.24,59.71 710.27,59.55 711.31,59.40 712.35,59.25 713.38,59.11 714.42,58.96 715.45,58.82 716.49,58.68 717.53,58.55 718.56,58.41 719.60,58.28 720.63,58.15 721.67,58.02 722.71,57.89 723.74,57.77 724.78,57.64 725.81,57.52 726.85,57.40 727.89,57.28 728.92,57.17 729.96,57.06 731.00,56.94 732.03,56.83 733.07,56.72 734.10,56.62 735.14,56.51 736.18,56.41 737.21,56.31 738.25,56.21 739.28,56.11 740.32,56.01 741.36,55.92 742.39,55.82 743.43,55.73 744.47,55.64 745.50,55.55 746.54,55.46 747.57,55.38 748.61,55.29 749.65,55.21 750.68,55.12 751.72,55.04 752.75,54.96 753.79,54.89 754.83,54.81 755.86,54.73 756.90,54.66 757.94,54.58 758.97,54.51 760.01,54.44 761.04,54.37 762.08,54.30 763.12,54.24 764.15,54.17 765.19,54.11 766.22,54.04 767.26,53.98 768.30,53.92 769.33,53.86 770.37,53.80 771.41,53.74 772.44,53.68 773.48,53.63 774.51,53.57 775.55,53.52 776.59,53.46 777.62,53.41 778.66,53.36 779.69,53.31 780.73,53.26 781.77,53.21 782.80,53.16 783.84,53.12 784.88,53.07 785.91,53.03 786.95,52.98 787.98,52.94 789.02,52.90 790.06,52.85 791.09,52.81 792.13,52.77 793.16,52.73 794.20,52.70 795.24,52.66 796.27,52.62 797.31,52.59 798.35,52.55 799.38,52.52 800.42,52.48 801.45,52.45 802.49,52.42 803.53,52.39 804.56,52.36 805.60,52.33 806.63,52.30 807.67,52.27 808.71,52.24 809.74,52.21 810.78,52.19 811.82,52.16 812.85,52.13 813.89,52.11 814.92,52.09 815.96,52.06 817.00,52.04 818.03,52.02 819.07,52.00 820.10,51.97 821.14,51.95 822.18,51.93 823.21,51.92 824.25,51.90 825.28,51.88 826.32,51.86 827.36,51.84 828.39,51.83 829.43,51.81 830.47,51.80 831.50,51.78 832.54,51.77 833.57,51.75 834.61,51.74 835.65,51.73 836.68,51.71 837.72,51.70 838.75,51.69 839.79,51.68 840.83,51.67 841.86,51.66 842.90,51.65 843.94,51.64 844.97,51.63 846.01,51.63 847.04,51.62 848.08,51.61 849.12,51.60 850.15,51.60 851.19,51.59 852.22,51.59 853.26,51.58 854.30,51.58 855.33,51.57 856.37,51.57 857.41,51.57 858.44,51.56 859.48,51.56 860.51,51.56 861.55,51.56" fill="none" stroke="#f3c676" stroke-width="5.0" stroke-linejoin="round" stroke-linecap="square" clip-path="url(#c01)"/>
<polyline points="548.55,364.56 548.55,363.48 548.55,363.32 548.55,363.12 548.55,362.91 548.55,362.65 548.55,362.37 548.55,362.04 548.55,361.66 548.55,361.23 548.55,360.75 548.55,360.19 548.55,359.56 548.56,358.85 548.56,358.03 548.56,357.12 548.56,356.08 548.56,354.90 548.57,353.58 548.57,352.10 548.58,350.42 548.59,348.55 548.59,346.45 548.61,344.11 548.62,341.49 548.64,338.58 548.66,335.34 548.70,331.76 548.73,327.79 548.78,323.42 548.85,318.61 548.92,313.33 549.02,307.55 549.15,301.25 549.31,294.40 549.51,286.98 549.77,278.97 550.09,270.36 550.50,261.13 551.02,251.30 551.68,240.87 551.74,239.97 552.78,226.76 553.81,215.93 554.85,206.75 555.89,198.77 556.92,191.73 557.96,185.42 559.00,179.71 560.03,174.51 561.07,169.73 562.10,165.32 563.14,161.22 564.18,157.40 565.21,153.83 566.25,150.47 567.28,147.31 568.32,144.33 569.36,141.51 570.39,138.83 571.43,136.29 572.47,133.86 573.50,131.56 574.54,129.35 575.57,127.24 576.61,125.22 577.65,123.29 578.68,121.43 579.72,119.65 580.75,117.93 581.79,116.28 582.83,114.69 583.86,113.16 584.90,111.68 585.94,110.25 586.97,108.87 588.01,107.53 589.04,106.24 590.08,104.99 591.12,103.78 592.15,102.61 593.19,101.47 594.22,100.37 595.26,99.30 596.30,98.26 597.33,97.25 598.37,96.27 599.41,95.31 600.44,94.38 601.48,93.48 602.51,92.60 603.55,91.75 604.59,90.91 605.62,90.10 606.66,89.31 607.69,88.54 608.73,87.79 609.77,87.06 610.80,86.34 611.84,85.64 612.88,84.96 613.91,84.30 614.95,83.65 615.98,83.02 617.02,82.40 618.06,81.79 619.09,81.20 620.13,80.62 621.16,80.06 622.20,79.51 623.24,78.97 624.27,78.44 625.31,77.92 626.35,77.42 627.38,76.92 628.42,76.44 629.45,75.96 630.49,75.50 631.53,75.05 632.56,74.60 633.60,74.16 634.63,73.74 635.67,73.32 636.71,72.91 637.74,72.51 638.78,72.12 639.81,71.73 640.85,71.35 641.89,70.98 642.92,70.62 643.96,70.26 645.00,69.91 646.03,69.57 647.07,69.23 648.10,68.90 649.14,68.58 650.18,68.26 651.21,67.95 652.25,67.65 653.28,67.35 654.32,67.05 655.36,66.77 656.39,66.48 657.43,66.21 658.47,65.93 659.50,65.67 660.54,65.40 661.57,65.14 662.61,64.89 663.65,64.64 664.68,64.40 665.72,64.16 666.75,63.92 667.79,63.69 668.83,63.46 669.86,63.24 670.90,63.02 671.94,62.81 672.97,62.59 674.01,62.39 675.04,62.18 676.08,61.98 677.12,61.79 678.15,61.59 679.19,61.40 680.22,61.21 681.26,61.03 682.30,60.85 683.33,60.67 684.37,60.50 685.41,60.33 686.44,60.16 687.48,59.99 688.51,59.83 689.55,59.67 690.59,59.52 691.62,59.36 692.66,59.21 693.69,59.06 694.73,58.91 695.77,58.77 696.80,58.63 697.84,58.49 698.88,58.35 699.91,58.22 700.95,58.09 701.98,57.96 703.02,57.83 704.06,57.70 705.09,57.58 706.13,57.46 707.16,57.34 708.20,57.22 709.24,57.11 710.27,57.00 711.31,56.89 712.35,56.78 713.38,56.67 714.42,56.56 715.45,56.46 716.49,56.36 717.53,56.26 718.56,56.16 719.60,56.06 720.63,55.97 721.67,55.87 722.71,55.78 723.74,55.69 724.78,55.60 725.81,55.52 726.85,55.43 727.89,55.35 728.92,55.26 729.96,55.18 731.00,55.10 732.03,55.02 733.07,54.95 734.10,54.87 735.14,54.80 736.18,54.72 737.21,54.65 738.25,54.58 739.28,54.51 740.32,54.44 741.36,54.38 742.39,54.31 743.43,54.25 744.47,54.18 745.50,54.12 746.54,54.06 747.57,54.00 748.61,53.94 749.65,53.88 750.68,53.83 751.72,53.77 752.75,53.72 753.79,53.66 754.83,53.61 755.86,53.56 756.90,53.51 757.94,53.46 758.97,53.41 760.01,53.36 761.04,53.32 762.08,53.27 763.12,53.22 764.15,53.18 765.19,53.14 766.22,53.09 767.26,53.05 768.30,53.01 769.33,52.97 770.37,52.93 771.41,52.89 772.44,52.86 773.48,52.82 774.51,52.78 775.55,52.75 776.59,52.71 777.62,52.68 778.66,52.64 779.69,52.61 780.73,52.58 781.77,52.55 782.80,52.52 783.84,52.49 784.88,52.46 785.91,52.43 786.95,52.40 787.98,52.37 789.02,52.35 790.06,52.32 791.09,52.29 792.13,52.27 793.16,52.24 794.20,52.22 795.24,52.20 796.27,52.17 797.31,52.15 798.35,52.13 799.38,52.11 800.42,52.09 801.45,52.07 802.49,52.05 803.53,52.03 804.56,52.01 805.60,51.99 806.63,51.97 807.67,51.96 808.71,51.94 809.74,51.92 810.78,51.91 811.82,51.89 812.85,51.88 813.89,51.86 814.92,51.85 815.96,51.83 817.00,51.82 818.03,51.81 819.07,51.80 820.10,51.78 821.14,51.77 822.18,51.76 823.21,51.75 824.25,51.74 825.28,51.73 826.32,51.72 827.36,51.71 828.39,51.70 829.43,51.69 830.47,51.68 831.50,51.67 832.54,51.67 833.57,51.66 834.61,51.65 835.65,51.64 836.68,51.64 837.72,51.63 838.75,51.63 839.79,51.62 840.83,51.61 841.86,51.61 842.90,51.60 843.94,51.60 844.97,51.59 846.01,51.59 847.04,51.59 848.08,51.58 849.12,51.58 850.15,51.58 851.19,51.57 852.22,51.57 853.26,51.57 854.30,51.57 855.33,51.57 856.37,51.56 857.41,51.56 858.44,51.56 859.48,51.56 860.51,51.56 861.55,51.56" fill="none" stroke="#ae5450" stroke-width="5.0" stroke-linejoin="round" stroke-linecap="square" clip-path="url(#c01)"/>
<rect x="532.50" y="45.50" width="335.00" height="335.00" fill="none" stroke="#363636" stroke-width="1.25"/>
<rect x="716.10" y="103.30" width="136.00" height="135.70" fill="#fff" stroke="none"/>
<clipPath id="i01"><rect x="716.10" y="103.30" width="136.00" height="135.70"/></clipPath>
<polyline points="711.41,326.94 712.16,319.29 712.92,312.19 713.67,305.57 714.43,299.38 715.18,293.57 715.94,288.11 716.69,282.96 717.44,278.09 718.20,273.48 718.95,269.11 719.71,264.95 720.46,261.00 721.21,257.22 721.97,253.62 722.72,250.18 723.48,246.88 724.23,243.72 724.98,240.69 725.74,237.78 726.49,234.98 727.25,232.28 728.00,229.69 728.75,227.19 729.51,224.77 730.26,222.44 731.02,220.19 731.77,218.02 732.53,215.91 733.28,213.87 734.03,211.90 734.79,209.98 735.54,208.13 736.30,206.33 737.05,204.58 737.80,202.88 738.56,201.23 739.31,199.63 740.07,198.07 740.82,196.55 741.57,195.07 742.33,193.63 743.08,192.23 743.84,190.86 744.59,189.53 745.35,188.23 746.10,186.96 746.85,185.72 747.61,184.51 748.36,183.33 749.12,182.18 749.87,181.06 750.62,179.96 751.38,178.88 752.13,177.83 752.89,176.80 753.64,175.79 754.39,174.80 755.15,173.84 755.90,172.89 756.66,171.97 757.41,171.06 758.17,170.17 758.92,169.30 759.67,168.45 760.43,167.61 761.18,166.79 761.94,165.98 762.69,165.19 763.44,164.42 764.20,163.66 764.95,162.91 765.71,162.18 766.46,161.46 767.21,160.75 767.97,160.06 768.72,159.37 769.48,158.70 770.23,158.04 770.99,157.40 771.74,156.76 772.49,156.13 773.25,155.52 774.00,154.91 774.76,154.32 775.51,153.73 776.26,153.15 777.02,152.59 777.77,152.03 778.53,151.48 779.28,150.94 780.03,150.41 780.79,149.88 781.54,149.37 782.30,148.86 783.05,148.36 783.81,147.86 784.56,147.38 785.31,146.90 786.07,146.43 786.82,145.96 787.58,145.50 788.33,145.05 789.08,144.61 789.84,144.17 790.59,143.73 791.35,143.31 792.10,142.89 792.85,142.47 793.61,142.06 794.36,141.66 795.12,141.26 795.87,140.87 796.63,140.48 797.38,140.10 798.13,139.72 798.89,139.34 799.64,138.98 800.40,138.61 801.15,138.25 801.90,137.90 802.66,137.55 803.41,137.21 804.17,136.87 804.92,136.53 805.67,136.20 806.43,135.87 807.18,135.54 807.94,135.22 808.69,134.91 809.45,134.59 810.20,134.29 810.95,133.98 811.71,133.68 812.46,133.38 813.22,133.09 813.97,132.79 814.72,132.51 815.48,132.22 816.23,131.94 816.99,131.66 817.74,131.39 818.49,131.12 819.25,130.85 820.00,130.58 820.76,130.32 821.51,130.06 822.27,129.80 823.02,129.55 823.77,129.30 824.53,129.05 825.28,128.80 826.04,128.56 826.79,128.32 827.54,128.08 828.30,127.84 829.05,127.61 829.81,127.38 830.56,127.15 831.31,126.93 832.07,126.70 832.82,126.48 833.58,126.26 834.33,126.04 835.09,125.83 835.84,125.62 836.59,125.41 837.35,125.20 838.10,124.99 838.86,124.79 839.61,124.59 840.36,124.39 841.12,124.19 841.87,123.99 842.63,123.80 843.38,123.61 844.13,123.42 844.89,123.23 845.64,123.04 846.40,122.86 847.15,122.67 847.91,122.49 848.66,122.31 849.41,122.13 850.17,121.96 850.92,121.78 851.68,121.61 852.43,121.44 853.18,121.27 853.94,121.10 854.69,120.93 855.45,120.77 856.20,120.60 856.95,120.44 857.71,120.28 858.46,120.12 859.22,119.96 859.97,119.80 860.73,119.65 861.48,119.50" fill="none" stroke="#1fc9ef" stroke-width="5.0" stroke-linejoin="round" stroke-linecap="square" clip-path="url(#i01)"/>
<polyline points="711.41,390.26 712.16,381.78 712.92,373.78 713.67,366.21 714.43,359.05 715.18,352.24 715.94,345.77 716.69,339.61 717.44,333.74 718.20,328.13 718.95,322.76 719.71,317.62 720.46,312.70 721.21,307.97 721.97,303.44 722.72,299.08 723.48,294.88 724.23,290.84 724.98,286.94 725.74,283.18 726.49,279.55 727.25,276.05 728.00,272.66 728.75,269.39 729.51,266.22 730.26,263.15 731.02,260.17 731.77,257.29 732.53,254.49 733.28,251.78 734.03,249.14 734.79,246.58 735.54,244.09 736.30,241.67 737.05,239.32 737.80,237.03 738.56,234.80 739.31,232.63 740.07,230.52 740.82,228.46 741.57,226.45 742.33,224.49 743.08,222.58 743.84,220.72 744.59,218.90 745.35,217.12 746.10,215.39 746.85,213.69 747.61,212.04 748.36,210.42 749.12,208.84 749.87,207.29 750.62,205.78 751.38,204.30 752.13,202.85 752.89,201.43 753.64,200.04 754.39,198.68 755.15,197.35 755.90,196.05 756.66,194.77 757.41,193.51 758.17,192.29 758.92,191.08 759.67,189.90 760.43,188.74 761.18,187.61 761.94,186.49 762.69,185.40 763.44,184.32 764.20,183.27 764.95,182.24 765.71,181.22 766.46,180.22 767.21,179.24 767.97,178.28 768.72,177.33 769.48,176.40 770.23,175.49 770.99,174.59 771.74,173.71 772.49,172.84 773.25,171.99 774.00,171.15 774.76,170.32 775.51,169.51 776.26,168.71 777.02,167.93 777.77,167.15 778.53,166.39 779.28,165.64 780.03,164.91 780.79,164.18 781.54,163.46 782.30,162.76 783.05,162.07 783.81,161.39 784.56,160.71 785.31,160.05 786.07,159.40 786.82,158.75 787.58,158.12 788.33,157.50 789.08,156.88 789.84,156.27 790.59,155.68 791.35,155.09 792.10,154.51 792.85,153.93 793.61,153.37 794.36,152.81 795.12,152.26 795.87,151.72 796.63,151.18 797.38,150.66 798.13,150.14 798.89,149.62 799.64,149.12 800.40,148.62 801.15,148.12 801.90,147.64 802.66,147.16 803.41,146.68 804.17,146.21 804.92,145.75 805.67,145.30 806.43,144.85 807.18,144.40 807.94,143.96 808.69,143.53 809.45,143.10 810.20,142.68 810.95,142.26 811.71,141.84 812.46,141.44 813.22,141.03 813.97,140.64 814.72,140.24 815.48,139.85 816.23,139.47 816.99,139.09 817.74,138.72 818.49,138.35 819.25,137.98 820.00,137.62 820.76,137.26 821.51,136.91 822.27,136.56 823.02,136.21 823.77,135.87 824.53,135.53 825.28,135.20 826.04,134.87 826.79,134.54 827.54,134.22 828.30,133.90 829.05,133.58 829.81,133.27 830.56,132.96 831.31,132.65 832.07,132.35 832.82,132.05 833.58,131.76 834.33,131.46 835.09,131.17 835.84,130.89 836.59,130.60 837.35,130.32 838.10,130.05 838.86,129.77 839.61,129.50 840.36,129.23 841.12,128.96 841.87,128.70 842.63,128.44 843.38,128.18 844.13,127.92 844.89,127.67 845.64,127.42 846.40,127.17 847.15,126.93 847.91,126.68 848.66,126.44 849.41,126.21 850.17,125.97 850.92,125.74 851.68,125.50 852.43,125.28 853.18,125.05 853.94,124.82 854.69,124.60 855.45,124.38 856.20,124.16 856.95,123.95 857.71,123.73 858.46,123.52 859.22,123.31 859.97,123.10 860.73,122.90 861.48,122.69" fill="none" stroke="#f3c676" stroke-width="5.0" stroke-linejoin="round" stroke-linecap="square" clip-path="url(#i01)"/>
<polyline points="711.41,365.46 712.16,356.54 712.92,348.19 713.67,340.34 714.43,332.94 715.18,325.96 715.94,319.36 716.69,313.10 717.44,307.17 718.20,301.53 718.95,296.15 719.71,291.03 720.46,286.14 721.21,281.47 721.97,277.00 722.72,272.72 723.48,268.62 724.23,264.68 724.98,260.89 725.74,257.25 726.49,253.75 727.25,250.38 728.00,247.13 728.75,244.00 729.51,240.98 730.26,238.06 731.02,235.23 731.77,232.51 732.53,229.87 733.28,227.31 734.03,224.84 734.79,222.44 735.54,220.11 736.30,217.86 737.05,215.67 737.80,213.55 738.56,211.48 739.31,209.48 740.07,207.53 740.82,205.64 741.57,203.79 742.33,202.00 743.08,200.25 743.84,198.55 744.59,196.89 745.35,195.28 746.10,193.70 746.85,192.17 747.61,190.67 748.36,189.21 749.12,187.78 749.87,186.39 750.62,185.03 751.38,183.71 752.13,182.41 752.89,181.14 753.64,179.90 754.39,178.69 755.15,177.50 755.90,176.35 756.66,175.21 757.41,174.10 758.17,173.02 758.92,171.95 759.67,170.91 760.43,169.89 761.18,168.89 761.94,167.91 762.69,166.95 763.44,166.01 764.20,165.09 764.95,164.19 765.71,163.30 766.46,162.43 767.21,161.58 767.97,160.74 768.72,159.92 769.48,159.12 770.23,158.33 770.99,157.55 771.74,156.79 772.49,156.04 773.25,155.30 774.00,154.58 774.76,153.87 775.51,153.17 776.26,152.49 777.02,151.81 777.77,151.15 778.53,150.50 779.28,149.86 780.03,149.23 780.79,148.61 781.54,148.01 782.30,147.41 783.05,146.82 783.81,146.24 784.56,145.67 785.31,145.11 786.07,144.55 786.82,144.01 787.58,143.48 788.33,142.95 789.08,142.43 789.84,141.92 790.59,141.42 791.35,140.92 792.10,140.43 792.85,139.95 793.61,139.48 794.36,139.01 795.12,138.55 795.87,138.10 796.63,137.65 797.38,137.21 798.13,136.78 798.89,136.35 799.64,135.93 800.40,135.51 801.15,135.10 801.90,134.70 802.66,134.30 803.41,133.91 804.17,133.52 804.92,133.14 805.67,132.76 806.43,132.39 807.18,132.02 807.94,131.66 808.69,131.30 809.45,130.95 810.20,130.60 810.95,130.26 811.71,129.92 812.46,129.58 813.22,129.25 813.97,128.93 814.72,128.60 815.48,128.29 816.23,127.97 816.99,127.66 817.74,127.36 818.49,127.05 819.25,126.75 820.00,126.46 820.76,126.17 821.51,125.88 822.27,125.60 823.02,125.31 823.77,125.04 824.53,124.76 825.28,124.49 826.04,124.22 826.79,123.96 827.54,123.70 828.30,123.44 829.05,123.18 829.81,122.93 830.56,122.68 831.31,122.44 832.07,122.19 832.82,121.95 833.58,121.71 834.33,121.48 835.09,121.24 835.84,121.01 836.59,120.79 837.35,120.56 838.10,120.34 838.86,120.12 839.61,119.90 840.36,119.68 841.12,119.47 841.87,119.26 842.63,119.05 843.38,118.84 844.13,118.64 844.89,118.44 845.64,118.24 846.40,118.04 847.15,117.85 847.91,117.65 848.66,117.46 849.41,117.27 850.17,117.08 850.92,116.90 851.68,116.71 852.43,116.53 853.18,116.35 853.94,116.17 854.69,116.00 855.45,115.82 856.20,115.65 856.95,115.48 857.71,115.31 858.46,115.14 859.22,114.98 859.97,114.81 860.73,114.65 861.48,114.49" fill="none" stroke="#ae5450" stroke-width="5.0" stroke-linejoin="round" stroke-linecap="square" clip-path="url(#i01)"/>
<rect x="716.50" y="103.50" width="136.00" height="136.00" fill="none" stroke="#363636" stroke-width="1.2"/>
<line x1="725.48" y1="239.00" x2="725.48" y2="241.00" stroke="#363636" stroke-width="0.9"/>
<text x="725.48" y="254.50" font-size="13.9" text-anchor="middle" fill="#000">0.05</text>
<line x1="754.79" y1="239.00" x2="754.79" y2="241.00" stroke="#363636" stroke-width="0.9"/>
<text x="754.79" y="254.50" font-size="13.9" text-anchor="middle" fill="#000">0.11</text>
<line x1="784.10" y1="239.00" x2="784.10" y2="241.00" stroke="#363636" stroke-width="0.9"/>
<text x="784.10" y="254.50" font-size="13.9" text-anchor="middle" fill="#000">0.17</text>
<line x1="813.41" y1="239.00" x2="813.41" y2="241.00" stroke="#363636" stroke-width="0.9"/>
<text x="813.41" y="254.50" font-size="13.9" text-anchor="middle" fill="#000">0.24</text>
<line x1="842.72" y1="239.00" x2="842.72" y2="241.00" stroke="#363636" stroke-width="0.9"/>
<text x="842.72" y="254.50" font-size="13.9" text-anchor="middle" fill="#000">0.30</text>
<line x1="716.10" y1="229.64" x2="714.10" y2="229.64" stroke="#363636" stroke-width="0.9"/>
<text x="709.70" y="234.54" font-size="13.9" text-anchor="end" fill="#000">0.70</text>
<line x1="716.10" y1="200.40" x2="714.10" y2="200.40" stroke="#363636" stroke-width="0.9"/>
<text x="709.70" y="205.30" font-size="13.9" text-anchor="end" fill="#000">0.76</text>
<line x1="716.10" y1="171.15" x2="714.10" y2="171.15" stroke="#363636" stroke-width="0.9"/>
<text x="709.70" y="176.05" font-size="13.9" text-anchor="end" fill="#000">0.82</text>
<line x1="716.10" y1="141.90" x2="714.10" y2="141.90" stroke="#363636" stroke-width="0.9"/>
<text x="709.70" y="146.80" font-size="13.9" text-anchor="end" fill="#000">0.89</text>
<line x1="716.10" y1="112.66" x2="714.10" y2="112.66" stroke="#363636" stroke-width="0.9"/>
<text x="709.70" y="117.56" font-size="13.9" text-anchor="end" fill="#000">0.95</text>
<rect x="610.50" y="304.50" width="250.00" height="68.00" rx="3.5" fill="#fff" fill-opacity="0.85" stroke="#555" stroke-width="1.05"/>
<line x1="614.61" y1="316.51" x2="649.01" y2="316.51" stroke="#1fc9ef" stroke-width="5"/>
<text x="658.41" y="321.51" font-size="14.8" text-anchor="start" fill="#000">10x AUC: 0.916 (0.899-0.932)</text>
<line x1="614.61" y1="337.86" x2="649.01" y2="337.86" stroke="#f3c676" stroke-width="5"/>
<text x="658.41" y="342.86" font-size="14.8" text-anchor="start" fill="#000">20x AUC: 0.911 (0.893-0.928)</text>
<line x1="614.61" y1="359.21" x2="649.01" y2="359.21" stroke="#ae5450" stroke-width="5"/>
<text x="658.41" y="364.21" font-size="14.8" text-anchor="start" fill="#000">40x AUC: 0.927 (0.912-0.943)</text>
<clipPath id="c02"><rect x="946.60" y="45.30" width="334.91" height="334.91"/></clipPath>
<line x1="962.25" y1="380.21" x2="962.25" y2="382.71" stroke="#363636" stroke-width="1"/>
<line x1="946.60" y1="364.56" x2="944.10" y2="364.56" stroke="#363636" stroke-width="1"/>
<text x="962.25" y="401.41" font-size="21" text-anchor="middle" fill="#000">0.0</text>
<text x="940.80" y="372.06" font-size="21" text-anchor="end" fill="#000">0.0</text>
<line x1="1024.85" y1="380.21" x2="1024.85" y2="382.71" stroke="#363636" stroke-width="1"/>
<line x1="946.60" y1="301.96" x2="944.10" y2="301.96" stroke="#363636" stroke-width="1"/>
<text x="1024.85" y="401.41" font-size="21" text-anchor="middle" fill="#000">0.2</text>
<text x="940.80" y="309.46" font-size="21" text-anchor="end" fill="#000">0.2</text>
<line x1="1087.45" y1="380.21" x2="1087.45" y2="382.71" stroke="#363636" stroke-width="1"/>
<line x1="946.60" y1="239.36" x2="944.10" y2="239.36" stroke="#363636" stroke-width="1"/>
<text x="1087.45" y="401.41" font-size="21" text-anchor="middle" fill="#000">0.4</text>
<text x="940.80" y="246.86" font-size="21" text-anchor="end" fill="#000">0.4</text>
<line x1="1150.05" y1="380.21" x2="1150.05" y2="382.71" stroke="#363636" stroke-width="1"/>
<line x1="946.60" y1="176.76" x2="944.10" y2="176.76" stroke="#363636" stroke-width="1"/>
<text x="1150.05" y="401.41" font-size="21" text-anchor="middle" fill="#000">0.6</text>
<text x="940.80" y="184.26" font-size="21" text-anchor="end" fill="#000">0.6</text>
<line x1="1212.65" y1="380.21" x2="1212.65" y2="382.71" stroke="#363636" stroke-width="1"/>
<line x1="946.60" y1="114.16" x2="944.10" y2="114.16" stroke="#363636" stroke-width="1"/>
<text x="1212.65" y="401.41" font-size="21" text-anchor="middle" fill="#000">0.8</text>
<text x="940.80" y="121.66" font-size="21" text-anchor="end" fill="#000">0.8</text>
<line x1="1275.25" y1="380.21" x2="1275.25" y2="382.71" stroke="#363636" stroke-width="1"/>
<line x1="946.60" y1="51.56" x2="944.10" y2="51.56" stroke="#363636" stroke-width="1"/>
<text x="1275.25" y="401.41" font-size="21" text-anchor="middle" fill="#000">1.0</text>
<text x="940.80" y="59.06" font-size="21" text-anchor="end" fill="#000">1.0</text>
<text x="1114.06" y="426.21" font-size="23" text-anchor="middle" fill="#000">1-Specificity</text>
<line x1="962.25" y1="364.56" x2="1275.25" y2="51.56" stroke="#9a9a9a" stroke-width="1.75" stroke-dasharray="5.9,2.6"/>
<polyline points="962.25,364.56 962.25,360.33 962.25,359.92 962.25,359.48 962.25,359.00 962.25,358.48 962.25,357.90 962.25,357.28 962.25,356.60 962.25,355.86 962.25,355.06 962.25,354.18 962.25,353.23 962.26,352.20 962.26,351.07 962.26,349.85 962.26,348.53 962.26,347.09 962.27,345.54 962.27,343.85 962.28,342.03 962.29,340.05 962.29,337.92 962.31,335.61 962.32,333.12 962.34,330.44 962.36,327.55 962.40,324.43 962.43,321.07 962.48,317.47 962.55,313.60 962.62,309.44 962.72,304.99 962.85,300.22 963.01,295.12 963.21,289.67 963.47,283.87 963.79,277.68 964.20,271.10 964.72,264.11 965.38,256.70 965.44,256.06 966.48,246.64 967.51,238.87 968.55,232.20 969.59,226.36 970.62,221.13 971.66,216.40 972.70,212.08 973.73,208.09 974.77,204.38 975.80,200.92 976.84,197.67 977.88,194.61 978.91,191.71 979.95,188.96 980.98,186.35 982.02,183.85 983.06,181.46 984.09,179.18 985.13,176.98 986.17,174.87 987.20,172.84 988.24,170.87 989.27,168.98 990.31,167.15 991.35,165.38 992.38,163.66 993.42,161.99 994.45,160.38 995.49,158.80 996.53,157.28 997.56,155.79 998.60,154.34 999.64,152.93 1000.67,151.55 1001.71,150.21 1002.74,148.90 1003.78,147.62 1004.82,146.37 1005.85,145.14 1006.89,143.95 1007.92,142.78 1008.96,141.63 1010.00,140.51 1011.03,139.41 1012.07,138.33 1013.11,137.27 1014.14,136.23 1015.18,135.22 1016.21,134.22 1017.25,133.24 1018.29,132.27 1019.32,131.33 1020.36,130.40 1021.39,129.48 1022.43,128.58 1023.47,127.70 1024.50,126.83 1025.54,125.98 1026.58,125.13 1027.61,124.31 1028.65,123.49 1029.68,122.69 1030.72,121.90 1031.76,121.12 1032.79,120.35 1033.83,119.59 1034.86,118.85 1035.90,118.11 1036.94,117.39 1037.97,116.67 1039.01,115.97 1040.05,115.27 1041.08,114.59 1042.12,113.91 1043.15,113.24 1044.19,112.58 1045.23,111.93 1046.26,111.29 1047.30,110.66 1048.33,110.03 1049.37,109.41 1050.41,108.80 1051.44,108.20 1052.48,107.60 1053.51,107.01 1054.55,106.43 1055.59,105.86 1056.62,105.29 1057.66,104.73 1058.70,104.17 1059.73,103.62 1060.77,103.08 1061.80,102.55 1062.84,102.01 1063.88,101.49 1064.91,100.97 1065.95,100.46 1066.98,99.95 1068.02,99.45 1069.06,98.95 1070.09,98.46 1071.13,97.97 1072.17,97.49 1073.20,97.01 1074.24,96.54 1075.27,96.08 1076.31,95.61 1077.35,95.16 1078.38,94.70 1079.42,94.26 1080.45,93.81 1081.49,93.37 1082.53,92.94 1083.56,92.51 1084.60,92.08 1085.64,91.66 1086.67,91.24 1087.71,90.82 1088.74,90.41 1089.78,90.01 1090.82,89.60 1091.85,89.20 1092.89,88.81 1093.92,88.42 1094.96,88.03 1096.00,87.64 1097.03,87.26 1098.07,86.88 1099.11,86.51 1100.14,86.14 1101.18,85.77 1102.21,85.41 1103.25,85.04 1104.29,84.69 1105.32,84.33 1106.36,83.98 1107.39,83.63 1108.43,83.28 1109.47,82.94 1110.50,82.60 1111.54,82.26 1112.58,81.93 1113.61,81.60 1114.65,81.27 1115.68,80.94 1116.72,80.62 1117.76,80.30 1118.79,79.98 1119.83,79.66 1120.86,79.35 1121.90,79.04 1122.94,78.73 1123.97,78.43 1125.01,78.13 1126.05,77.82 1127.08,77.53 1128.12,77.23 1129.15,76.94 1130.19,76.65 1131.23,76.36 1132.26,76.07 1133.30,75.79 1134.33,75.51 1135.37,75.23 1136.41,74.95 1137.44,74.67 1138.48,74.40 1139.51,74.13 1140.55,73.86 1141.59,73.59 1142.62,73.33 1143.66,73.07 1144.70,72.81 1145.73,72.55 1146.77,72.29 1147.80,72.04 1148.84,71.78 1149.88,71.53 1150.91,71.28 1151.95,71.04 1152.98,70.79 1154.02,70.55 1155.06,70.31 1156.09,70.07 1157.13,69.83 1158.17,69.59 1159.20,69.36 1160.24,69.12 1161.27,68.89 1162.31,68.66 1163.35,68.44 1164.38,68.21 1165.42,67.99 1166.45,67.76 1167.49,67.54 1168.53,67.32 1169.56,67.11 1170.60,66.89 1171.64,66.67 1172.67,66.46 1173.71,66.25 1174.74,66.04 1175.78,65.83 1176.82,65.62 1177.85,65.42 1178.89,65.22 1179.92,65.01 1180.96,64.81 1182.00,64.61 1183.03,64.41 1184.07,64.22 1185.11,64.02 1186.14,63.83 1187.18,63.64 1188.21,63.45 1189.25,63.26 1190.29,63.07 1191.32,62.88 1192.36,62.69 1193.39,62.51 1194.43,62.33 1195.47,62.15 1196.50,61.97 1197.54,61.79 1198.58,61.61 1199.61,61.43 1200.65,61.26 1201.68,61.08 1202.72,60.91 1203.76,60.74 1204.79,60.57 1205.83,60.40 1206.86,60.23 1207.90,60.07 1208.94,59.90 1209.97,59.74 1211.01,59.58 1212.05,59.41 1213.08,59.25 1214.12,59.09 1215.15,58.94 1216.19,58.78 1217.23,58.62 1218.26,58.47 1219.30,58.32 1220.33,58.16 1221.37,58.01 1222.41,57.86 1223.44,57.71 1224.48,57.57 1225.52,57.42 1226.55,57.27 1227.59,57.13 1228.62,56.99 1229.66,56.84 1230.70,56.70 1231.73,56.56 1232.77,56.42 1233.80,56.29 1234.84,56.15 1235.88,56.01 1236.91,55.88 1237.95,55.74 1238.98,55.61 1240.02,55.48 1241.06,55.35 1242.09,55.22 1243.13,55.09 1244.17,54.96 1245.20,54.84 1246.24,54.71 1247.27,54.59 1248.31,54.46 1249.35,54.34 1250.38,54.22 1251.42,54.10 1252.45,53.98 1253.49,53.86 1254.53,53.75 1255.56,53.63 1256.60,53.51 1257.64,53.40 1258.67,53.29 1259.71,53.17 1260.74,53.06 1261.78,52.95 1262.82,52.84 1263.85,52.73 1264.89,52.63 1265.92,52.52 1266.96,52.41 1268.00,52.31 1269.03,52.20 1270.07,52.10 1271.11,51.99 1272.14,51.89 1273.18,51.79 1274.21,51.68 1275.25,51.56" fill="none" stroke="#1fc9ef" stroke-width="5.0" stroke-linejoin="round" stroke-linecap="square" clip-path="url(#c02)"/>
<polyline points="962.25,364.56 962.25,364.34 962.25,364.30 962.25,364.26 962.25,364.21 962.25,364.15 962.25,364.08 962.25,364.00 962.25,363.91 962.25,363.80 962.25,363.67 962.25,363.53 962.25,363.36 962.26,363.16 962.26,362.94 962.26,362.67 962.26,362.37 962.26,362.02 962.27,361.61 962.27,361.15 962.28,360.61 962.29,359.99 962.29,359.28 962.31,358.46 962.32,357.52 962.34,356.45 962.36,355.22 962.40,353.82 962.43,352.21 962.48,350.39 962.55,348.31 962.62,345.96 962.72,343.28 962.85,340.25 963.01,336.83 963.21,332.98 963.47,328.64 963.79,323.77 964.20,318.32 964.72,312.23 965.38,305.45 965.44,304.85 966.48,295.72 967.51,287.81 968.55,280.77 969.59,274.40 970.62,268.57 971.66,263.17 972.70,258.13 973.73,253.41 974.77,248.96 975.80,244.76 976.84,240.76 977.88,236.95 978.91,233.31 979.95,229.83 980.98,226.48 982.02,223.27 983.06,220.17 984.09,217.19 985.13,214.31 986.17,211.52 987.20,208.82 988.24,206.20 989.27,203.67 990.31,201.20 991.35,198.81 992.38,196.48 993.42,194.21 994.45,192.00 995.49,189.85 996.53,187.75 997.56,185.70 998.60,183.70 999.64,181.75 1000.67,179.84 1001.71,177.97 1002.74,176.14 1003.78,174.36 1004.82,172.61 1005.85,170.89 1006.89,169.21 1007.92,167.57 1008.96,165.95 1010.00,164.37 1011.03,162.82 1012.07,161.30 1013.11,159.80 1014.14,158.33 1015.18,156.89 1016.21,155.48 1017.25,154.08 1018.29,152.72 1019.32,151.37 1020.36,150.05 1021.39,148.75 1022.43,147.47 1023.47,146.22 1024.50,144.98 1025.54,143.76 1026.58,142.56 1027.61,141.38 1028.65,140.22 1029.68,139.08 1030.72,137.95 1031.76,136.84 1032.79,135.75 1033.83,134.67 1034.86,133.61 1035.90,132.56 1036.94,131.53 1037.97,130.51 1039.01,129.51 1040.05,128.52 1041.08,127.55 1042.12,126.59 1043.15,125.64 1044.19,124.70 1045.23,123.78 1046.26,122.87 1047.30,121.97 1048.33,121.08 1049.37,120.21 1050.41,119.34 1051.44,118.49 1052.48,117.65 1053.51,116.82 1054.55,116.00 1055.59,115.19 1056.62,114.39 1057.66,113.60 1058.70,112.82 1059.73,112.05 1060.77,111.29 1061.80,110.54 1062.84,109.79 1063.88,109.06 1064.91,108.33 1065.95,107.62 1066.98,106.91 1068.02,106.21 1069.06,105.52 1070.09,104.84 1071.13,104.16 1072.17,103.49 1073.20,102.83 1074.24,102.18 1075.27,101.54 1076.31,100.90 1077.35,100.27 1078.38,99.65 1079.42,99.03 1080.45,98.43 1081.49,97.82 1082.53,97.23 1083.56,96.64 1084.60,96.06 1085.64,95.48 1086.67,94.92 1087.71,94.35 1088.74,93.80 1089.78,93.25 1090.82,92.70 1091.85,92.16 1092.89,91.63 1093.92,91.11 1094.96,90.58 1096.00,90.07 1097.03,89.56 1098.07,89.06 1099.11,88.56 1100.14,88.06 1101.18,87.58 1102.21,87.09 1103.25,86.62 1104.29,86.14 1105.32,85.68 1106.36,85.21 1107.39,84.76 1108.43,84.30 1109.47,83.85 1110.50,83.41 1111.54,82.97 1112.58,82.54 1113.61,82.11 1114.65,81.69 1115.68,81.26 1116.72,80.85 1117.76,80.44 1118.79,80.03 1119.83,79.63 1120.86,79.23 1121.90,78.83 1122.94,78.44 1123.97,78.06 1125.01,77.68 1126.05,77.30 1127.08,76.92 1128.12,76.55 1129.15,76.19 1130.19,75.82 1131.23,75.46 1132.26,75.11 1133.30,74.76 1134.33,74.41 1135.37,74.07 1136.41,73.73 1137.44,73.39 1138.48,73.06 1139.51,72.73 1140.55,72.40 1141.59,72.08 1142.62,71.76 1143.66,71.44 1144.70,71.13 1145.73,70.82 1146.77,70.51 1147.80,70.21 1148.84,69.91 1149.88,69.61 1150.91,69.32 1151.95,69.03 1152.98,68.74 1154.02,68.46 1155.06,68.18 1156.09,67.90 1157.13,67.62 1158.17,67.35 1159.20,67.08 1160.24,66.82 1161.27,66.55 1162.31,66.29 1163.35,66.03 1164.38,65.78 1165.42,65.53 1166.45,65.28 1167.49,65.03 1168.53,64.79 1169.56,64.55 1170.60,64.31 1171.64,64.07 1172.67,63.84 1173.71,63.61 1174.74,63.38 1175.78,63.15 1176.82,62.93 1177.85,62.71 1178.89,62.49 1179.92,62.28 1180.96,62.07 1182.00,61.86 1183.03,61.65 1184.07,61.44 1185.11,61.24 1186.14,61.04 1187.18,60.84 1188.21,60.64 1189.25,60.45 1190.29,60.26 1191.32,60.07 1192.36,59.88 1193.39,59.70 1194.43,59.52 1195.47,59.34 1196.50,59.16 1197.54,58.98 1198.58,58.81 1199.61,58.64 1200.65,58.47 1201.68,58.30 1202.72,58.14 1203.76,57.98 1204.79,57.82 1205.83,57.66 1206.86,57.50 1207.90,57.35 1208.94,57.20 1209.97,57.05 1211.01,56.90 1212.05,56.75 1213.08,56.61 1214.12,56.47 1215.15,56.33 1216.19,56.19 1217.23,56.05 1218.26,55.92 1219.30,55.79 1220.33,55.66 1221.37,55.53 1222.41,55.40 1223.44,55.28 1224.48,55.16 1225.52,55.04 1226.55,54.92 1227.59,54.80 1228.62,54.69 1229.66,54.58 1230.70,54.47 1231.73,54.36 1232.77,54.25 1233.80,54.15 1234.84,54.04 1235.88,53.94 1236.91,53.84 1237.95,53.75 1238.98,53.65 1240.02,53.56 1241.06,53.47 1242.09,53.38 1243.13,53.29 1244.17,53.20 1245.20,53.12 1246.24,53.03 1247.27,52.95 1248.31,52.87 1249.35,52.80 1250.38,52.72 1251.42,52.65 1252.45,52.58 1253.49,52.51 1254.53,52.44 1255.56,52.38 1256.60,52.31 1257.64,52.25 1258.67,52.19 1259.71,52.13 1260.74,52.08 1261.78,52.03 1262.82,51.97 1263.85,51.93 1264.89,51.88 1265.92,51.83 1266.96,51.79 1268.00,51.75 1269.03,51.71 1270.07,51.68 1271.11,51.65 1272.14,51.62 1273.18,51.59 1274.21,51.57 1275.25,51.56" fill="none" stroke="#f3c676" stroke-width="5.0" stroke-linejoin="round" stroke-linecap="square" clip-path="url(#c02)"/>
<polyline points="962.25,364.56 962.25,364.15 962.25,364.09 962.25,364.02 962.25,363.93 962.25,363.84 962.25,363.73 962.25,363.61 962.25,363.47 962.25,363.31 962.25,363.13 962.25,362.93 962.25,362.69 962.26,362.42 962.26,362.11 962.26,361.76 962.26,361.36 962.26,360.91 962.27,360.40 962.27,359.81 962.28,359.15 962.29,358.40 962.29,357.54 962.31,356.58 962.32,355.49 962.34,354.26 962.36,352.87 962.40,351.30 962.43,349.54 962.48,347.55 962.55,345.32 962.62,342.82 962.72,340.02 962.85,336.89 963.01,333.38 963.21,329.48 963.47,325.13 963.79,320.30 964.20,314.93 964.72,309.00 965.38,302.45 965.44,301.87 966.48,293.13 967.51,285.60 968.55,278.95 969.59,272.94 970.62,267.46 971.66,262.39 972.70,257.68 973.73,253.27 974.77,249.11 975.80,245.18 976.84,241.45 977.88,237.90 978.91,234.51 979.95,231.26 980.98,228.15 982.02,225.15 983.06,222.27 984.09,219.48 985.13,216.79 986.17,214.19 987.20,211.67 988.24,209.23 989.27,206.86 990.31,204.55 991.35,202.31 992.38,200.13 993.42,198.01 994.45,195.94 995.49,193.92 996.53,191.95 997.56,190.03 998.60,188.15 999.64,186.31 1000.67,184.51 1001.71,182.76 1002.74,181.03 1003.78,179.35 1004.82,177.70 1005.85,176.08 1006.89,174.49 1007.92,172.93 1008.96,171.40 1010.00,169.90 1011.03,168.43 1012.07,166.98 1013.11,165.56 1014.14,164.16 1015.18,162.79 1016.21,161.44 1017.25,160.11 1018.29,158.80 1019.32,157.52 1020.36,156.25 1021.39,155.01 1022.43,153.78 1023.47,152.57 1024.50,151.38 1025.54,150.21 1026.58,149.06 1027.61,147.92 1028.65,146.80 1029.68,145.69 1030.72,144.60 1031.76,143.53 1032.79,142.47 1033.83,141.42 1034.86,140.39 1035.90,139.38 1036.94,138.37 1037.97,137.38 1039.01,136.40 1040.05,135.44 1041.08,134.49 1042.12,133.55 1043.15,132.62 1044.19,131.70 1045.23,130.79 1046.26,129.90 1047.30,129.01 1048.33,128.14 1049.37,127.28 1050.41,126.43 1051.44,125.58 1052.48,124.75 1053.51,123.93 1054.55,123.11 1055.59,122.31 1056.62,121.51 1057.66,120.73 1058.70,119.95 1059.73,119.18 1060.77,118.42 1061.80,117.67 1062.84,116.93 1063.88,116.19 1064.91,115.46 1065.95,114.74 1066.98,114.03 1068.02,113.33 1069.06,112.63 1070.09,111.94 1071.13,111.26 1072.17,110.58 1073.20,109.91 1074.24,109.25 1075.27,108.60 1076.31,107.95 1077.35,107.31 1078.38,106.68 1079.42,106.05 1080.45,105.42 1081.49,104.81 1082.53,104.20 1083.56,103.60 1084.60,103.00 1085.64,102.41 1086.67,101.82 1087.71,101.24 1088.74,100.67 1089.78,100.10 1090.82,99.53 1091.85,98.97 1092.89,98.42 1093.92,97.87 1094.96,97.33 1096.00,96.79 1097.03,96.26 1098.07,95.74 1099.11,95.21 1100.14,94.70 1101.18,94.18 1102.21,93.68 1103.25,93.17 1104.29,92.68 1105.32,92.18 1106.36,91.69 1107.39,91.21 1108.43,90.73 1109.47,90.25 1110.50,89.78 1111.54,89.31 1112.58,88.85 1113.61,88.39 1114.65,87.94 1115.68,87.49 1116.72,87.04 1117.76,86.60 1118.79,86.16 1119.83,85.73 1120.86,85.30 1121.90,84.87 1122.94,84.45 1123.97,84.03 1125.01,83.61 1126.05,83.20 1127.08,82.79 1128.12,82.39 1129.15,81.99 1130.19,81.59 1131.23,81.20 1132.26,80.81 1133.30,80.42 1134.33,80.04 1135.37,79.66 1136.41,79.28 1137.44,78.91 1138.48,78.54 1139.51,78.17 1140.55,77.81 1141.59,77.45 1142.62,77.09 1143.66,76.74 1144.70,76.39 1145.73,76.04 1146.77,75.70 1147.80,75.36 1148.84,75.02 1149.88,74.68 1150.91,74.35 1151.95,74.02 1152.98,73.69 1154.02,73.37 1155.06,73.05 1156.09,72.73 1157.13,72.42 1158.17,72.10 1159.20,71.79 1160.24,71.49 1161.27,71.18 1162.31,70.88 1163.35,70.58 1164.38,70.29 1165.42,69.99 1166.45,69.70 1167.49,69.42 1168.53,69.13 1169.56,68.85 1170.60,68.57 1171.64,68.29 1172.67,68.01 1173.71,67.74 1174.74,67.47 1175.78,67.20 1176.82,66.94 1177.85,66.67 1178.89,66.41 1179.92,66.16 1180.96,65.90 1182.00,65.65 1183.03,65.40 1184.07,65.15 1185.11,64.90 1186.14,64.66 1187.18,64.41 1188.21,64.18 1189.25,63.94 1190.29,63.70 1191.32,63.47 1192.36,63.24 1193.39,63.01 1194.43,62.79 1195.47,62.56 1196.50,62.34 1197.54,62.12 1198.58,61.90 1199.61,61.69 1200.65,61.48 1201.68,61.26 1202.72,61.06 1203.76,60.85 1204.79,60.64 1205.83,60.44 1206.86,60.24 1207.90,60.04 1208.94,59.85 1209.97,59.65 1211.01,59.46 1212.05,59.27 1213.08,59.08 1214.12,58.90 1215.15,58.71 1216.19,58.53 1217.23,58.35 1218.26,58.17 1219.30,58.00 1220.33,57.82 1221.37,57.65 1222.41,57.48 1223.44,57.31 1224.48,57.15 1225.52,56.98 1226.55,56.82 1227.59,56.66 1228.62,56.50 1229.66,56.35 1230.70,56.19 1231.73,56.04 1232.77,55.89 1233.80,55.74 1234.84,55.59 1235.88,55.45 1236.91,55.31 1237.95,55.17 1238.98,55.03 1240.02,54.89 1241.06,54.76 1242.09,54.62 1243.13,54.49 1244.17,54.36 1245.20,54.24 1246.24,54.11 1247.27,53.99 1248.31,53.87 1249.35,53.75 1250.38,53.63 1251.42,53.52 1252.45,53.41 1253.49,53.29 1254.53,53.19 1255.56,53.08 1256.60,52.98 1257.64,52.87 1258.67,52.77 1259.71,52.68 1260.74,52.58 1261.78,52.49 1262.82,52.40 1263.85,52.31 1264.89,52.23 1265.92,52.14 1266.96,52.06 1268.00,51.99 1269.03,51.91 1270.07,51.84 1271.11,51.78 1272.14,51.71 1273.18,51.66 1274.21,51.60 1275.25,51.56" fill="none" stroke="#ae5450" stroke-width="5.0" stroke-linejoin="round" stroke-linecap="square" clip-path="url(#c02)"/>
<rect x="946.50" y="45.50" width="335.00" height="335.00" fill="none" stroke="#363636" stroke-width="1.25"/>
<rect x="1129.80" y="103.30" width="136.00" height="135.70" fill="#fff" stroke="none"/>
<clipPath id="i02"><rect x="1129.80" y="103.30" width="136.00" height="135.70"/></clipPath>
<polyline points="1125.11,405.89 1125.86,399.42 1126.62,393.30 1127.37,387.52 1128.13,382.02 1128.88,376.80 1129.64,371.81 1130.39,367.05 1131.14,362.50 1131.90,358.14 1132.65,353.95 1133.41,349.93 1134.16,346.05 1134.91,342.32 1135.67,338.73 1136.42,335.25 1137.18,331.90 1137.93,328.66 1138.68,325.52 1139.44,322.47 1140.19,319.52 1140.95,316.66 1141.70,313.89 1142.45,311.19 1143.21,308.57 1143.96,306.01 1144.72,303.53 1145.47,301.12 1146.23,298.76 1146.98,296.47 1147.73,294.23 1148.49,292.05 1149.24,289.92 1150.00,287.84 1150.75,285.81 1151.50,283.82 1152.26,281.88 1153.01,279.98 1153.77,278.13 1154.52,276.31 1155.27,274.53 1156.03,272.79 1156.78,271.09 1157.54,269.42 1158.29,267.78 1159.05,266.17 1159.80,264.60 1160.55,263.06 1161.31,261.54 1162.06,260.06 1162.82,258.60 1163.57,257.17 1164.32,255.76 1165.08,254.38 1165.83,253.03 1166.59,251.69 1167.34,250.38 1168.09,249.10 1168.85,247.83 1169.60,246.59 1170.36,245.36 1171.11,244.16 1171.87,242.97 1172.62,241.81 1173.37,240.66 1174.13,239.53 1174.88,238.42 1175.64,237.32 1176.39,236.24 1177.14,235.18 1177.90,234.13 1178.65,233.10 1179.41,232.09 1180.16,231.09 1180.91,230.10 1181.67,229.13 1182.42,228.17 1183.18,227.22 1183.93,226.29 1184.69,225.37 1185.44,224.46 1186.19,223.57 1186.95,222.69 1187.70,221.81 1188.46,220.95 1189.21,220.11 1189.96,219.27 1190.72,218.44 1191.47,217.63 1192.23,216.82 1192.98,216.02 1193.73,215.24 1194.49,214.46 1195.24,213.70 1196.00,212.94 1196.75,212.19 1197.51,211.45 1198.26,210.72 1199.01,210.00 1199.77,209.29 1200.52,208.58 1201.28,207.89 1202.03,207.20 1202.78,206.52 1203.54,205.85 1204.29,205.18 1205.05,204.52 1205.80,203.87 1206.55,203.23 1207.31,202.59 1208.06,201.96 1208.82,201.34 1209.57,200.73 1210.33,200.12 1211.08,199.51 1211.83,198.92 1212.59,198.33 1213.34,197.74 1214.10,197.17 1214.85,196.60 1215.60,196.03 1216.36,195.47 1217.11,194.92 1217.87,194.37 1218.62,193.82 1219.37,193.29 1220.13,192.75 1220.88,192.23 1221.64,191.70 1222.39,191.19 1223.15,190.68 1223.90,190.17 1224.65,189.67 1225.41,189.17 1226.16,188.68 1226.92,188.19 1227.67,187.71 1228.42,187.23 1229.18,186.75 1229.93,186.28 1230.69,185.82 1231.44,185.36 1232.19,184.90 1232.95,184.45 1233.70,184.00 1234.46,183.55 1235.21,183.11 1235.97,182.68 1236.72,182.24 1237.47,181.81 1238.23,181.39 1238.98,180.97 1239.74,180.55 1240.49,180.14 1241.24,179.72 1242.00,179.32 1242.75,178.91 1243.51,178.51 1244.26,178.12 1245.01,177.72 1245.77,177.33 1246.52,176.95 1247.28,176.56 1248.03,176.18 1248.79,175.80 1249.54,175.43 1250.29,175.06 1251.05,174.69 1251.80,174.32 1252.56,173.96 1253.31,173.60 1254.06,173.25 1254.82,172.89 1255.57,172.54 1256.33,172.19 1257.08,171.85 1257.83,171.51 1258.59,171.17 1259.34,170.83 1260.10,170.49 1260.85,170.16 1261.61,169.83 1262.36,169.50 1263.11,169.18 1263.87,168.86 1264.62,168.54 1265.38,168.22 1266.13,167.91 1266.88,167.59 1267.64,167.28 1268.39,166.98 1269.15,166.67 1269.90,166.37 1270.65,166.07 1271.41,165.77 1272.16,165.47 1272.92,165.18 1273.67,164.88 1274.43,164.59 1275.18,164.30" fill="none" stroke="#1fc9ef" stroke-width="5.0" stroke-linejoin="round" stroke-linecap="square" clip-path="url(#i02)"/>
<polyline points="1125.11,441.96 1125.86,436.97 1126.62,432.19 1127.37,427.60 1128.13,423.19 1128.88,418.94 1129.64,414.84 1130.39,410.87 1131.14,407.03 1131.90,403.32 1132.65,399.71 1133.41,396.20 1134.16,392.79 1134.91,389.48 1135.67,386.25 1136.42,383.10 1137.18,380.03 1137.93,377.03 1138.68,374.10 1139.44,371.24 1140.19,368.44 1140.95,365.70 1141.70,363.02 1142.45,360.39 1143.21,357.82 1143.96,355.29 1144.72,352.82 1145.47,350.39 1146.23,348.01 1146.98,345.67 1147.73,343.37 1148.49,341.12 1149.24,338.90 1150.00,336.72 1150.75,334.57 1151.50,332.47 1152.26,330.39 1153.01,328.35 1153.77,326.34 1154.52,324.36 1155.27,322.41 1156.03,320.49 1156.78,318.60 1157.54,316.73 1158.29,314.90 1159.05,313.09 1159.80,311.30 1160.55,309.54 1161.31,307.80 1162.06,306.09 1162.82,304.40 1163.57,302.73 1164.32,301.08 1165.08,299.45 1165.83,297.85 1166.59,296.26 1167.34,294.70 1168.09,293.15 1168.85,291.62 1169.60,290.11 1170.36,288.62 1171.11,287.15 1171.87,285.69 1172.62,284.25 1173.37,282.83 1174.13,281.42 1174.88,280.03 1175.64,278.66 1176.39,277.30 1177.14,275.95 1177.90,274.62 1178.65,273.31 1179.41,272.00 1180.16,270.71 1180.91,269.44 1181.67,268.18 1182.42,266.93 1183.18,265.69 1183.93,264.47 1184.69,263.26 1185.44,262.06 1186.19,260.87 1186.95,259.70 1187.70,258.53 1188.46,257.38 1189.21,256.24 1189.96,255.11 1190.72,253.99 1191.47,252.88 1192.23,251.78 1192.98,250.69 1193.73,249.61 1194.49,248.54 1195.24,247.48 1196.00,246.43 1196.75,245.40 1197.51,244.36 1198.26,243.34 1199.01,242.33 1199.77,241.33 1200.52,240.33 1201.28,239.35 1202.03,238.37 1202.78,237.40 1203.54,236.44 1204.29,235.49 1205.05,234.54 1205.80,233.60 1206.55,232.68 1207.31,231.75 1208.06,230.84 1208.82,229.93 1209.57,229.04 1210.33,228.14 1211.08,227.26 1211.83,226.38 1212.59,225.51 1213.34,224.65 1214.10,223.79 1214.85,222.94 1215.60,222.10 1216.36,221.26 1217.11,220.43 1217.87,219.61 1218.62,218.79 1219.37,217.98 1220.13,217.18 1220.88,216.38 1221.64,215.59 1222.39,214.80 1223.15,214.02 1223.90,213.24 1224.65,212.47 1225.41,211.71 1226.16,210.95 1226.92,210.20 1227.67,209.45 1228.42,208.71 1229.18,207.98 1229.93,207.24 1230.69,206.52 1231.44,205.80 1232.19,205.08 1232.95,204.37 1233.70,203.67 1234.46,202.97 1235.21,202.27 1235.97,201.58 1236.72,200.90 1237.47,200.21 1238.23,199.54 1238.98,198.87 1239.74,198.20 1240.49,197.54 1241.24,196.88 1242.00,196.23 1242.75,195.58 1243.51,194.93 1244.26,194.29 1245.01,193.66 1245.77,193.02 1246.52,192.40 1247.28,191.77 1248.03,191.15 1248.79,190.54 1249.54,189.93 1250.29,189.32 1251.05,188.71 1251.80,188.12 1252.56,187.52 1253.31,186.93 1254.06,186.34 1254.82,185.76 1255.57,185.17 1256.33,184.60 1257.08,184.02 1257.83,183.46 1258.59,182.89 1259.34,182.33 1260.10,181.77 1260.85,181.21 1261.61,180.66 1262.36,180.11 1263.11,179.57 1263.87,179.02 1264.62,178.49 1265.38,177.95 1266.13,177.42 1266.88,176.89 1267.64,176.37 1268.39,175.84 1269.15,175.32 1269.90,174.81 1270.65,174.30 1271.41,173.79 1272.16,173.28 1272.92,172.78 1273.67,172.28 1274.43,171.78 1275.18,171.28" fill="none" stroke="#f3c676" stroke-width="5.0" stroke-linejoin="round" stroke-linecap="square" clip-path="url(#i02)"/>
<polyline points="1125.11,481.28 1125.86,475.86 1126.62,470.60 1127.37,465.49 1128.13,460.52 1128.88,455.69 1129.64,451.00 1130.39,446.43 1131.14,441.99 1131.90,437.66 1132.65,433.44 1133.41,429.32 1134.16,425.31 1134.91,421.40 1135.67,417.57 1136.42,413.84 1137.18,410.20 1137.93,406.63 1138.68,403.15 1139.44,399.74 1140.19,396.41 1140.95,393.15 1141.70,389.95 1142.45,386.82 1143.21,383.76 1143.96,380.76 1144.72,377.81 1145.47,374.93 1146.23,372.10 1146.98,369.32 1147.73,366.60 1148.49,363.92 1149.24,361.30 1150.00,358.72 1150.75,356.19 1151.50,353.70 1152.26,351.26 1153.01,348.86 1153.77,346.50 1154.52,344.18 1155.27,341.90 1156.03,339.65 1156.78,337.45 1157.54,335.27 1158.29,333.14 1159.05,331.03 1159.80,328.96 1160.55,326.93 1161.31,324.92 1162.06,322.94 1162.82,321.00 1163.57,319.08 1164.32,317.19 1165.08,315.33 1165.83,313.50 1166.59,311.69 1167.34,309.91 1168.09,308.15 1168.85,306.42 1169.60,304.71 1170.36,303.03 1171.11,301.36 1171.87,299.73 1172.62,298.11 1173.37,296.51 1174.13,294.94 1174.88,293.39 1175.64,291.85 1176.39,290.34 1177.14,288.85 1177.90,287.37 1178.65,285.91 1179.41,284.48 1180.16,283.06 1180.91,281.65 1181.67,280.27 1182.42,278.90 1183.18,277.55 1183.93,276.21 1184.69,274.89 1185.44,273.59 1186.19,272.30 1186.95,271.02 1187.70,269.77 1188.46,268.52 1189.21,267.29 1189.96,266.08 1190.72,264.87 1191.47,263.68 1192.23,262.51 1192.98,261.35 1193.73,260.20 1194.49,259.06 1195.24,257.94 1196.00,256.82 1196.75,255.72 1197.51,254.63 1198.26,253.56 1199.01,252.49 1199.77,251.44 1200.52,250.39 1201.28,249.36 1202.03,248.34 1202.78,247.33 1203.54,246.33 1204.29,245.34 1205.05,244.36 1205.80,243.39 1206.55,242.43 1207.31,241.47 1208.06,240.53 1208.82,239.60 1209.57,238.68 1210.33,237.76 1211.08,236.86 1211.83,235.96 1212.59,235.07 1213.34,234.19 1214.10,233.32 1214.85,232.46 1215.60,231.60 1216.36,230.75 1217.11,229.92 1217.87,229.08 1218.62,228.26 1219.37,227.44 1220.13,226.64 1220.88,225.84 1221.64,225.04 1222.39,224.25 1223.15,223.48 1223.90,222.70 1224.65,221.94 1225.41,221.18 1226.16,220.43 1226.92,219.68 1227.67,218.94 1228.42,218.21 1229.18,217.48 1229.93,216.76 1230.69,216.05 1231.44,215.34 1232.19,214.64 1232.95,213.94 1233.70,213.25 1234.46,212.57 1235.21,211.89 1235.97,211.22 1236.72,210.55 1237.47,209.89 1238.23,209.23 1238.98,208.58 1239.74,207.94 1240.49,207.30 1241.24,206.66 1242.00,206.03 1242.75,205.41 1243.51,204.79 1244.26,204.18 1245.01,203.57 1245.77,202.96 1246.52,202.36 1247.28,201.77 1248.03,201.18 1248.79,200.59 1249.54,200.01 1250.29,199.43 1251.05,198.86 1251.80,198.29 1252.56,197.73 1253.31,197.17 1254.06,196.61 1254.82,196.06 1255.57,195.51 1256.33,194.97 1257.08,194.43 1257.83,193.90 1258.59,193.37 1259.34,192.84 1260.10,192.32 1260.85,191.80 1261.61,191.29 1262.36,190.77 1263.11,190.27 1263.87,189.76 1264.62,189.26 1265.38,188.77 1266.13,188.27 1266.88,187.79 1267.64,187.30 1268.39,186.82 1269.15,186.34 1269.90,185.86 1270.65,185.39 1271.41,184.92 1272.16,184.46 1272.92,183.99 1273.67,183.54 1274.43,183.08 1275.18,182.63" fill="none" stroke="#ae5450" stroke-width="5.0" stroke-linejoin="round" stroke-linecap="square" clip-path="url(#i02)"/>
<rect x="1129.50" y="103.50" width="136.00" height="136.00" fill="none" stroke="#363636" stroke-width="1.2"/>
<line x1="1139.18" y1="239.00" x2="1139.18" y2="241.00" stroke="#363636" stroke-width="0.9"/>
<text x="1139.18" y="254.50" font-size="13.9" text-anchor="middle" fill="#000">0.05</text>
<line x1="1168.49" y1="239.00" x2="1168.49" y2="241.00" stroke="#363636" stroke-width="0.9"/>
<text x="1168.49" y="254.50" font-size="13.9" text-anchor="middle" fill="#000">0.11</text>
<line x1="1197.80" y1="239.00" x2="1197.80" y2="241.00" stroke="#363636" stroke-width="0.9"/>
<text x="1197.80" y="254.50" font-size="13.9" text-anchor="middle" fill="#000">0.17</text>
<line x1="1227.11" y1="239.00" x2="1227.11" y2="241.00" stroke="#363636" stroke-width="0.9"/>
<text x="1227.11" y="254.50" font-size="13.9" text-anchor="middle" fill="#000">0.24</text>
<line x1="1256.42" y1="239.00" x2="1256.42" y2="241.00" stroke="#363636" stroke-width="0.9"/>
<text x="1256.42" y="254.50" font-size="13.9" text-anchor="middle" fill="#000">0.30</text>
<line x1="1129.80" y1="229.64" x2="1127.80" y2="229.64" stroke="#363636" stroke-width="0.9"/>
<text x="1123.40" y="234.54" font-size="13.9" text-anchor="end" fill="#000">0.70</text>
<line x1="1129.80" y1="200.40" x2="1127.80" y2="200.40" stroke="#363636" stroke-width="0.9"/>
<text x="1123.40" y="205.30" font-size="13.9" text-anchor="end" fill="#000">0.76</text>
<line x1="1129.80" y1="171.15" x2="1127.80" y2="171.15" stroke="#363636" stroke-width="0.9"/>
<text x="1123.40" y="176.05" font-size="13.9" text-anchor="end" fill="#000">0.82</text>
<line x1="1129.80" y1="141.90" x2="1127.80" y2="141.90" stroke="#363636" stroke-width="0.9"/>
<text x="1123.40" y="146.80" font-size="13.9" text-anchor="end" fill="#000">0.89</text>
<line x1="1129.80" y1="112.66" x2="1127.80" y2="112.66" stroke="#363636" stroke-width="0.9"/>
<text x="1123.40" y="117.56" font-size="13.9" text-anchor="end" fill="#000">0.95</text>
<rect x="1024.50" y="304.50" width="250.00" height="68.00" rx="3.5" fill="#fff" fill-opacity="0.85" stroke="#555" stroke-width="1.05"/>
<line x1="1028.31" y1="316.51" x2="1062.71" y2="316.51" stroke="#1fc9ef" stroke-width="5"/>
<text x="1072.11" y="321.51" font-size="14.8" text-anchor="start" fill="#000">10x AUC: 0.864 (0.818-0.911)</text>
<line x1="1028.31" y1="337.86" x2="1062.71" y2="337.86" stroke="#f3c676" stroke-width="5"/>
<text x="1072.11" y="342.86" font-size="14.8" text-anchor="start" fill="#000">20x AUC: 0.837 (0.794-0.881)</text>
<line x1="1028.31" y1="359.21" x2="1062.71" y2="359.21" stroke="#ae5450" stroke-width="5"/>
<text x="1072.11" y="364.21" font-size="14.8" text-anchor="start" fill="#000">40x AUC: 0.822 (0.773-0.871)</text>
<clipPath id="c03"><rect x="1360.80" y="45.30" width="334.91" height="334.91"/></clipPath>
<line x1="1376.45" y1="380.21" x2="1376.45" y2="382.71" stroke="#363636" stroke-width="1"/>
<line x1="1360.80" y1="364.56" x2="1358.30" y2="364.56" stroke="#363636" stroke-width="1"/>
<text x="1376.45" y="401.41" font-size="21" text-anchor="middle" fill="#000">0.0</text>
<text x="1355.00" y="372.06" font-size="21" text-anchor="end" fill="#000">0.0</text>
<line x1="1439.05" y1="380.21" x2="1439.05" y2="382.71" stroke="#363636" stroke-width="1"/>
<line x1="1360.80" y1="301.96" x2="1358.30" y2="301.96" stroke="#363636" stroke-width="1"/>
<text x="1439.05" y="401.41" font-size="21" text-anchor="middle" fill="#000">0.2</text>
<text x="1355.00" y="309.46" font-size="21" text-anchor="end" fill="#000">0.2</text>
<line x1="1501.65" y1="380.21" x2="1501.65" y2="382.71" stroke="#363636" stroke-width="1"/>
<line x1="1360.80" y1="239.36" x2="1358.30" y2="239.36" stroke="#363636" stroke-width="1"/>
<text x="1501.65" y="401.41" font-size="21" text-anchor="middle" fill="#000">0.4</text>
<text x="1355.00" y="246.86" font-size="21" text-anchor="end" fill="#000">0.4</text>
<line x1="1564.25" y1="380.21" x2="1564.25" y2="382.71" stroke="#363636" stroke-width="1"/>
<line x1="1360.80" y1="176.76" x2="1358.30" y2="176.76" stroke="#363636" stroke-width="1"/>
<text x="1564.25" y="401.41" font-size="21" text-anchor="middle" fill="#000">0.6</text>
<text x="1355.00" y="184.26" font-size="21" text-anchor="end" fill="#000">0.6</text>
<line x1="1626.85" y1="380.21" x2="1626.85" y2="382.71" stroke="#363636" stroke-width="1"/>
<line x1="1360.80" y1="114.16" x2="1358.30" y2="114.16" stroke="#363636" stroke-width="1"/>
<text x="1626.85" y="401.41" font-size="21" text-anchor="middle" fill="#000">0.8</text>
<text x="1355.00" y="121.66" font-size="21" text-anchor="end" fill="#000">0.8</text>
<line x1="1689.45" y1="380.21" x2="1689.45" y2="382.71" stroke="#363636" stroke-width="1"/>
<line x1="1360.80" y1="51.56" x2="1358.30" y2="51.56" stroke="#363636" stroke-width="1"/>
<text x="1689.45" y="401.41" font-size="21" text-anchor="middle" fill="#000">1.0</text>
<text x="1355.00" y="59.06" font-size="21" text-anchor="end" fill="#000">1.0</text>
<text x="1528.26" y="426.21" font-size="23" text-anchor="middle" fill="#000">1-Specificity</text>
<line x1="1376.45" y1="364.56" x2="1689.45" y2="51.56" stroke="#9a9a9a" stroke-width="1.75" stroke-dasharray="5.9,2.6"/>
<polyline points="1376.45,364.56 1376.45,360.12 1376.45,359.69 1376.45,359.21 1376.45,358.68 1376.45,358.11 1376.45,357.48 1376.45,356.80 1376.45,356.05 1376.45,355.24 1376.45,354.35 1376.45,353.38 1376.45,352.32 1376.46,351.18 1376.46,349.93 1376.46,348.57 1376.46,347.10 1376.46,345.50 1376.47,343.76 1376.47,341.88 1376.48,339.84 1376.49,337.63 1376.49,335.25 1376.51,332.67 1376.52,329.89 1376.54,326.89 1376.56,323.65 1376.60,320.17 1376.63,316.43 1376.68,312.42 1376.75,308.11 1376.82,303.49 1376.92,298.56 1377.05,293.28 1377.21,287.66 1377.41,281.67 1377.67,275.30 1377.99,268.53 1378.40,261.37 1378.92,253.80 1379.58,245.81 1379.64,245.12 1380.68,235.02 1381.71,226.74 1382.75,219.68 1383.79,213.52 1384.82,208.04 1385.86,203.09 1386.90,198.59 1387.93,194.45 1388.97,190.63 1390.00,187.06 1391.04,183.73 1392.08,180.59 1393.11,177.64 1394.15,174.84 1395.18,172.18 1396.22,169.66 1397.26,167.25 1398.29,164.95 1399.33,162.74 1400.37,160.62 1401.40,158.59 1402.44,156.64 1403.47,154.75 1404.51,152.93 1405.55,151.18 1406.58,149.48 1407.62,147.84 1408.65,146.24 1409.69,144.70 1410.73,143.20 1411.76,141.74 1412.80,140.33 1413.84,138.95 1414.87,137.62 1415.91,136.31 1416.94,135.04 1417.98,133.80 1419.02,132.59 1420.05,131.41 1421.09,130.26 1422.12,129.14 1423.16,128.04 1424.20,126.96 1425.23,125.91 1426.27,124.88 1427.31,123.87 1428.34,122.89 1429.38,121.92 1430.41,120.97 1431.45,120.05 1432.49,119.13 1433.52,118.24 1434.56,117.37 1435.59,116.51 1436.63,115.66 1437.67,114.83 1438.70,114.02 1439.74,113.22 1440.78,112.44 1441.81,111.66 1442.85,110.90 1443.88,110.16 1444.92,109.42 1445.96,108.70 1446.99,107.99 1448.03,107.29 1449.06,106.61 1450.10,105.93 1451.14,105.26 1452.17,104.61 1453.21,103.96 1454.25,103.33 1455.28,102.70 1456.32,102.08 1457.35,101.47 1458.39,100.87 1459.43,100.28 1460.46,99.70 1461.50,99.12 1462.53,98.56 1463.57,98.00 1464.61,97.45 1465.64,96.90 1466.68,96.37 1467.71,95.84 1468.75,95.31 1469.79,94.80 1470.82,94.29 1471.86,93.79 1472.90,93.29 1473.93,92.80 1474.97,92.32 1476.00,91.84 1477.04,91.37 1478.08,90.91 1479.11,90.45 1480.15,89.99 1481.18,89.55 1482.22,89.10 1483.26,88.66 1484.29,88.23 1485.33,87.80 1486.37,87.38 1487.40,86.97 1488.44,86.55 1489.47,86.14 1490.51,85.74 1491.55,85.34 1492.58,84.95 1493.62,84.56 1494.65,84.17 1495.69,83.79 1496.73,83.42 1497.76,83.04 1498.80,82.68 1499.84,82.31 1500.87,81.95 1501.91,81.60 1502.94,81.24 1503.98,80.89 1505.02,80.55 1506.05,80.21 1507.09,79.87 1508.12,79.53 1509.16,79.20 1510.20,78.88 1511.23,78.55 1512.27,78.23 1513.31,77.91 1514.34,77.60 1515.38,77.29 1516.41,76.98 1517.45,76.68 1518.49,76.38 1519.52,76.08 1520.56,75.78 1521.59,75.49 1522.63,75.20 1523.67,74.91 1524.70,74.63 1525.74,74.35 1526.78,74.07 1527.81,73.80 1528.85,73.52 1529.88,73.25 1530.92,72.98 1531.96,72.72 1532.99,72.46 1534.03,72.20 1535.06,71.94 1536.10,71.68 1537.14,71.43 1538.17,71.18 1539.21,70.93 1540.25,70.69 1541.28,70.45 1542.32,70.21 1543.35,69.97 1544.39,69.73 1545.43,69.50 1546.46,69.26 1547.50,69.03 1548.53,68.81 1549.57,68.58 1550.61,68.36 1551.64,68.14 1552.68,67.92 1553.71,67.70 1554.75,67.49 1555.79,67.27 1556.82,67.06 1557.86,66.85 1558.90,66.64 1559.93,66.44 1560.97,66.23 1562.00,66.03 1563.04,65.83 1564.08,65.63 1565.11,65.44 1566.15,65.24 1567.18,65.05 1568.22,64.86 1569.26,64.67 1570.29,64.48 1571.33,64.30 1572.37,64.11 1573.40,63.93 1574.44,63.75 1575.47,63.57 1576.51,63.39 1577.55,63.22 1578.58,63.04 1579.62,62.87 1580.65,62.70 1581.69,62.53 1582.73,62.36 1583.76,62.19 1584.80,62.03 1585.84,61.86 1586.87,61.70 1587.91,61.54 1588.94,61.38 1589.98,61.22 1591.02,61.07 1592.05,60.91 1593.09,60.76 1594.12,60.60 1595.16,60.45 1596.20,60.30 1597.23,60.16 1598.27,60.01 1599.31,59.86 1600.34,59.72 1601.38,59.58 1602.41,59.43 1603.45,59.29 1604.49,59.15 1605.52,59.02 1606.56,58.88 1607.59,58.75 1608.63,58.61 1609.67,58.48 1610.70,58.35 1611.74,58.22 1612.78,58.09 1613.81,57.96 1614.85,57.83 1615.88,57.71 1616.92,57.58 1617.96,57.46 1618.99,57.34 1620.03,57.22 1621.06,57.10 1622.10,56.98 1623.14,56.86 1624.17,56.75 1625.21,56.63 1626.25,56.52 1627.28,56.40 1628.32,56.29 1629.35,56.18 1630.39,56.07 1631.43,55.96 1632.46,55.86 1633.50,55.75 1634.53,55.64 1635.57,55.54 1636.61,55.44 1637.64,55.34 1638.68,55.23 1639.72,55.13 1640.75,55.04 1641.79,54.94 1642.82,54.84 1643.86,54.75 1644.90,54.65 1645.93,54.56 1646.97,54.46 1648.00,54.37 1649.04,54.28 1650.08,54.19 1651.11,54.10 1652.15,54.02 1653.18,53.93 1654.22,53.84 1655.26,53.76 1656.29,53.68 1657.33,53.59 1658.37,53.51 1659.40,53.43 1660.44,53.35 1661.47,53.27 1662.51,53.19 1663.55,53.12 1664.58,53.04 1665.62,52.97 1666.65,52.89 1667.69,52.82 1668.73,52.75 1669.76,52.68 1670.80,52.61 1671.84,52.54 1672.87,52.48 1673.91,52.41 1674.94,52.34 1675.98,52.28 1677.02,52.22 1678.05,52.16 1679.09,52.10 1680.12,52.04 1681.16,51.98 1682.20,51.92 1683.23,51.87 1684.27,51.81 1685.31,51.76 1686.34,51.71 1687.38,51.66 1688.41,51.61 1689.45,51.56" fill="none" stroke="#1fc9ef" stroke-width="5.0" stroke-linejoin="round" stroke-linecap="square" clip-path="url(#c03)"/>
<polyline points="1376.45,364.56 1376.45,358.75 1376.45,358.20 1376.45,357.61 1376.45,356.97 1376.45,356.27 1376.45,355.50 1376.45,354.68 1376.45,353.78 1376.45,352.80 1376.45,351.74 1376.45,350.59 1376.45,349.35 1376.46,348.00 1376.46,346.54 1376.46,344.96 1376.46,343.26 1376.46,341.42 1376.47,339.43 1376.47,337.29 1376.48,334.98 1376.49,332.49 1376.49,329.82 1376.51,326.95 1376.52,323.86 1376.54,320.56 1376.56,317.01 1376.60,313.22 1376.63,309.16 1376.68,304.83 1376.75,300.21 1376.82,295.28 1376.92,290.05 1377.05,284.48 1377.21,278.58 1377.41,272.33 1377.67,265.72 1377.99,258.75 1378.40,251.41 1378.92,243.69 1379.58,235.60 1379.64,234.90 1380.68,224.75 1381.71,216.47 1382.75,209.46 1383.79,203.36 1384.82,197.95 1385.86,193.10 1386.90,188.69 1387.93,184.64 1388.97,180.91 1390.00,177.44 1391.04,174.21 1392.08,171.17 1393.11,168.31 1394.15,165.61 1395.18,163.06 1396.22,160.63 1397.26,158.31 1398.29,156.10 1399.33,153.99 1400.37,151.97 1401.40,150.03 1402.44,148.16 1403.47,146.36 1404.51,144.63 1405.55,142.96 1406.58,141.35 1407.62,139.79 1408.65,138.28 1409.69,136.82 1410.73,135.40 1411.76,134.02 1412.80,132.69 1413.84,131.39 1414.87,130.13 1415.91,128.90 1416.94,127.70 1417.98,126.54 1419.02,125.40 1420.05,124.29 1421.09,123.21 1422.12,122.16 1423.16,121.12 1424.20,120.12 1425.23,119.13 1426.27,118.17 1427.31,117.23 1428.34,116.31 1429.38,115.40 1430.41,114.52 1431.45,113.66 1432.49,112.81 1433.52,111.98 1434.56,111.16 1435.59,110.36 1436.63,109.58 1437.67,108.81 1438.70,108.05 1439.74,107.31 1440.78,106.58 1441.81,105.86 1442.85,105.16 1443.88,104.47 1444.92,103.79 1445.96,103.12 1446.99,102.47 1448.03,101.82 1449.06,101.19 1450.10,100.56 1451.14,99.95 1452.17,99.34 1453.21,98.74 1454.25,98.16 1455.28,97.58 1456.32,97.01 1457.35,96.45 1458.39,95.90 1459.43,95.36 1460.46,94.82 1461.50,94.29 1462.53,93.77 1463.57,93.26 1464.61,92.75 1465.64,92.25 1466.68,91.76 1467.71,91.28 1468.75,90.80 1469.79,90.33 1470.82,89.86 1471.86,89.40 1472.90,88.95 1473.93,88.50 1474.97,88.06 1476.00,87.62 1477.04,87.19 1478.08,86.77 1479.11,86.35 1480.15,85.93 1481.18,85.52 1482.22,85.12 1483.26,84.72 1484.29,84.33 1485.33,83.94 1486.37,83.55 1487.40,83.17 1488.44,82.80 1489.47,82.43 1490.51,82.06 1491.55,81.70 1492.58,81.34 1493.62,80.99 1494.65,80.64 1495.69,80.29 1496.73,79.95 1497.76,79.61 1498.80,79.28 1499.84,78.95 1500.87,78.62 1501.91,78.30 1502.94,77.98 1503.98,77.66 1505.02,77.35 1506.05,77.04 1507.09,76.74 1508.12,76.43 1509.16,76.13 1510.20,75.84 1511.23,75.55 1512.27,75.26 1513.31,74.97 1514.34,74.69 1515.38,74.41 1516.41,74.13 1517.45,73.85 1518.49,73.58 1519.52,73.31 1520.56,73.05 1521.59,72.78 1522.63,72.52 1523.67,72.26 1524.70,72.01 1525.74,71.76 1526.78,71.51 1527.81,71.26 1528.85,71.01 1529.88,70.77 1530.92,70.53 1531.96,70.29 1532.99,70.06 1534.03,69.82 1535.06,69.59 1536.10,69.36 1537.14,69.14 1538.17,68.91 1539.21,68.69 1540.25,68.47 1541.28,68.25 1542.32,68.04 1543.35,67.82 1544.39,67.61 1545.43,67.40 1546.46,67.19 1547.50,66.99 1548.53,66.78 1549.57,66.58 1550.61,66.38 1551.64,66.19 1552.68,65.99 1553.71,65.80 1554.75,65.60 1555.79,65.41 1556.82,65.22 1557.86,65.04 1558.90,64.85 1559.93,64.67 1560.97,64.49 1562.00,64.31 1563.04,64.13 1564.08,63.95 1565.11,63.78 1566.15,63.60 1567.18,63.43 1568.22,63.26 1569.26,63.09 1570.29,62.93 1571.33,62.76 1572.37,62.60 1573.40,62.44 1574.44,62.27 1575.47,62.12 1576.51,61.96 1577.55,61.80 1578.58,61.65 1579.62,61.49 1580.65,61.34 1581.69,61.19 1582.73,61.04 1583.76,60.89 1584.80,60.75 1585.84,60.60 1586.87,60.46 1587.91,60.31 1588.94,60.17 1589.98,60.03 1591.02,59.89 1592.05,59.76 1593.09,59.62 1594.12,59.49 1595.16,59.35 1596.20,59.22 1597.23,59.09 1598.27,58.96 1599.31,58.83 1600.34,58.70 1601.38,58.58 1602.41,58.45 1603.45,58.33 1604.49,58.21 1605.52,58.08 1606.56,57.96 1607.59,57.84 1608.63,57.73 1609.67,57.61 1610.70,57.49 1611.74,57.38 1612.78,57.27 1613.81,57.15 1614.85,57.04 1615.88,56.93 1616.92,56.82 1617.96,56.71 1618.99,56.61 1620.03,56.50 1621.06,56.39 1622.10,56.29 1623.14,56.19 1624.17,56.08 1625.21,55.98 1626.25,55.88 1627.28,55.78 1628.32,55.69 1629.35,55.59 1630.39,55.49 1631.43,55.40 1632.46,55.30 1633.50,55.21 1634.53,55.12 1635.57,55.03 1636.61,54.94 1637.64,54.85 1638.68,54.76 1639.72,54.67 1640.75,54.59 1641.79,54.50 1642.82,54.41 1643.86,54.33 1644.90,54.25 1645.93,54.17 1646.97,54.09 1648.00,54.01 1649.04,53.93 1650.08,53.85 1651.11,53.77 1652.15,53.69 1653.18,53.62 1654.22,53.54 1655.26,53.47 1656.29,53.40 1657.33,53.33 1658.37,53.25 1659.40,53.18 1660.44,53.11 1661.47,53.05 1662.51,52.98 1663.55,52.91 1664.58,52.85 1665.62,52.78 1666.65,52.72 1667.69,52.65 1668.73,52.59 1669.76,52.53 1670.80,52.47 1671.84,52.41 1672.87,52.35 1673.91,52.30 1674.94,52.24 1675.98,52.18 1677.02,52.13 1678.05,52.08 1679.09,52.02 1680.12,51.97 1681.16,51.92 1682.20,51.87 1683.23,51.82 1684.27,51.78 1685.31,51.73 1686.34,51.69 1687.38,51.64 1688.41,51.60 1689.45,51.56" fill="none" stroke="#f3c676" stroke-width="5.0" stroke-linejoin="round" stroke-linecap="square" clip-path="url(#c03)"/>
<polyline points="1376.45,364.56 1376.45,358.32 1376.45,357.75 1376.45,357.13 1376.45,356.47 1376.45,355.74 1376.45,354.96 1376.45,354.10 1376.45,353.18 1376.45,352.18 1376.45,351.10 1376.45,349.93 1376.45,348.66 1376.46,347.29 1376.46,345.81 1376.46,344.22 1376.46,342.50 1376.46,340.65 1376.47,338.65 1376.47,336.50 1376.48,334.19 1376.49,331.71 1376.49,329.04 1376.51,326.18 1376.52,323.11 1376.54,319.83 1376.56,316.31 1376.60,312.56 1376.63,308.55 1376.68,304.27 1376.75,299.71 1376.82,294.86 1376.92,289.71 1377.05,284.24 1377.21,278.44 1377.41,272.31 1377.67,265.83 1377.99,258.99 1378.40,251.80 1378.92,244.23 1379.58,236.30 1379.64,235.62 1380.68,225.67 1381.71,217.56 1382.75,210.68 1383.79,204.69 1384.82,199.39 1385.86,194.62 1386.90,190.28 1387.93,186.31 1388.97,182.63 1390.00,179.22 1391.04,176.04 1392.08,173.04 1393.11,170.23 1394.15,167.56 1395.18,165.04 1396.22,162.64 1397.26,160.35 1398.29,158.17 1399.33,156.08 1400.37,154.08 1401.40,152.16 1402.44,150.31 1403.47,148.53 1404.51,146.82 1405.55,145.16 1406.58,143.56 1407.62,142.01 1408.65,140.51 1409.69,139.06 1410.73,137.65 1411.76,136.28 1412.80,134.95 1413.84,133.66 1414.87,132.40 1415.91,131.18 1416.94,129.99 1417.98,128.82 1419.02,127.69 1420.05,126.59 1421.09,125.51 1422.12,124.45 1423.16,123.42 1424.20,122.42 1425.23,121.43 1426.27,120.47 1427.31,119.53 1428.34,118.60 1429.38,117.70 1430.41,116.81 1431.45,115.95 1432.49,115.10 1433.52,114.26 1434.56,113.44 1435.59,112.64 1436.63,111.85 1437.67,111.08 1438.70,110.32 1439.74,109.57 1440.78,108.84 1441.81,108.12 1442.85,107.41 1443.88,106.72 1444.92,106.03 1445.96,105.36 1446.99,104.70 1448.03,104.05 1449.06,103.40 1450.10,102.77 1451.14,102.15 1452.17,101.54 1453.21,100.94 1454.25,100.34 1455.28,99.76 1456.32,99.18 1457.35,98.62 1458.39,98.06 1459.43,97.51 1460.46,96.96 1461.50,96.43 1462.53,95.90 1463.57,95.38 1464.61,94.87 1465.64,94.36 1466.68,93.86 1467.71,93.37 1468.75,92.88 1469.79,92.40 1470.82,91.93 1471.86,91.46 1472.90,91.00 1473.93,90.54 1474.97,90.09 1476.00,89.65 1477.04,89.21 1478.08,88.77 1479.11,88.35 1480.15,87.92 1481.18,87.51 1482.22,87.09 1483.26,86.69 1484.29,86.28 1485.33,85.88 1486.37,85.49 1487.40,85.10 1488.44,84.72 1489.47,84.34 1490.51,83.96 1491.55,83.59 1492.58,83.22 1493.62,82.86 1494.65,82.50 1495.69,82.15 1496.73,81.79 1497.76,81.45 1498.80,81.10 1499.84,80.76 1500.87,80.43 1501.91,80.09 1502.94,79.77 1503.98,79.44 1505.02,79.12 1506.05,78.80 1507.09,78.48 1508.12,78.17 1509.16,77.86 1510.20,77.56 1511.23,77.26 1512.27,76.96 1513.31,76.66 1514.34,76.37 1515.38,76.08 1516.41,75.79 1517.45,75.50 1518.49,75.22 1519.52,74.94 1520.56,74.67 1521.59,74.39 1522.63,74.12 1523.67,73.86 1524.70,73.59 1525.74,73.33 1526.78,73.07 1527.81,72.81 1528.85,72.55 1529.88,72.30 1530.92,72.05 1531.96,71.80 1532.99,71.56 1534.03,71.31 1535.06,71.07 1536.10,70.83 1537.14,70.60 1538.17,70.36 1539.21,70.13 1540.25,69.90 1541.28,69.67 1542.32,69.45 1543.35,69.22 1544.39,69.00 1545.43,68.78 1546.46,68.56 1547.50,68.35 1548.53,68.13 1549.57,67.92 1550.61,67.71 1551.64,67.51 1552.68,67.30 1553.71,67.10 1554.75,66.89 1555.79,66.69 1556.82,66.49 1557.86,66.30 1558.90,66.10 1559.93,65.91 1560.97,65.72 1562.00,65.53 1563.04,65.34 1564.08,65.15 1565.11,64.97 1566.15,64.78 1567.18,64.60 1568.22,64.42 1569.26,64.24 1570.29,64.07 1571.33,63.89 1572.37,63.72 1573.40,63.54 1574.44,63.37 1575.47,63.20 1576.51,63.04 1577.55,62.87 1578.58,62.70 1579.62,62.54 1580.65,62.38 1581.69,62.22 1582.73,62.06 1583.76,61.90 1584.80,61.74 1585.84,61.59 1586.87,61.43 1587.91,61.28 1588.94,61.13 1589.98,60.98 1591.02,60.83 1592.05,60.69 1593.09,60.54 1594.12,60.39 1595.16,60.25 1596.20,60.11 1597.23,59.97 1598.27,59.83 1599.31,59.69 1600.34,59.55 1601.38,59.42 1602.41,59.28 1603.45,59.15 1604.49,59.02 1605.52,58.88 1606.56,58.75 1607.59,58.62 1608.63,58.50 1609.67,58.37 1610.70,58.24 1611.74,58.12 1612.78,58.00 1613.81,57.87 1614.85,57.75 1615.88,57.63 1616.92,57.51 1617.96,57.39 1618.99,57.28 1620.03,57.16 1621.06,57.05 1622.10,56.93 1623.14,56.82 1624.17,56.71 1625.21,56.60 1626.25,56.49 1627.28,56.38 1628.32,56.27 1629.35,56.16 1630.39,56.06 1631.43,55.95 1632.46,55.85 1633.50,55.75 1634.53,55.64 1635.57,55.54 1636.61,55.44 1637.64,55.34 1638.68,55.25 1639.72,55.15 1640.75,55.05 1641.79,54.96 1642.82,54.86 1643.86,54.77 1644.90,54.68 1645.93,54.59 1646.97,54.50 1648.00,54.41 1649.04,54.32 1650.08,54.23 1651.11,54.14 1652.15,54.06 1653.18,53.97 1654.22,53.89 1655.26,53.80 1656.29,53.72 1657.33,53.64 1658.37,53.56 1659.40,53.48 1660.44,53.40 1661.47,53.32 1662.51,53.24 1663.55,53.17 1664.58,53.09 1665.62,53.02 1666.65,52.95 1667.69,52.87 1668.73,52.80 1669.76,52.73 1670.80,52.66 1671.84,52.59 1672.87,52.52 1673.91,52.46 1674.94,52.39 1675.98,52.32 1677.02,52.26 1678.05,52.20 1679.09,52.13 1680.12,52.07 1681.16,52.01 1682.20,51.95 1683.23,51.89 1684.27,51.84 1685.31,51.78 1686.34,51.73 1687.38,51.67 1688.41,51.62 1689.45,51.56" fill="none" stroke="#ae5450" stroke-width="5.0" stroke-linejoin="round" stroke-linecap="square" clip-path="url(#c03)"/>
<rect x="1360.50" y="45.50" width="335.00" height="335.00" fill="none" stroke="#363636" stroke-width="1.25"/>
<rect x="1544.00" y="103.30" width="136.00" height="135.70" fill="#fff" stroke="none"/>
<clipPath id="i03"><rect x="1544.00" y="103.30" width="136.00" height="135.70"/></clipPath>
<polyline points="1539.31,482.35 1540.06,473.38 1540.82,464.53 1541.57,455.85 1542.33,447.35 1543.08,439.05 1543.84,430.97 1544.59,423.11 1545.34,415.49 1546.10,408.09 1546.85,400.93 1547.61,393.99 1548.36,387.27 1549.11,380.77 1549.87,374.48 1550.62,368.40 1551.38,362.52 1552.13,356.84 1552.88,351.33 1553.64,346.01 1554.39,340.87 1555.15,335.89 1555.90,331.07 1556.65,326.41 1557.41,321.90 1558.16,317.53 1558.92,313.31 1559.67,309.21 1560.43,305.24 1561.18,301.40 1561.93,297.67 1562.69,294.06 1563.44,290.56 1564.20,287.16 1564.95,283.86 1565.70,280.66 1566.46,277.56 1567.21,274.54 1567.97,271.62 1568.72,268.77 1569.47,266.01 1570.23,263.33 1570.98,260.72 1571.74,258.18 1572.49,255.71 1573.25,253.31 1574.00,250.98 1574.75,248.70 1575.51,246.49 1576.26,244.34 1577.02,242.24 1577.77,240.20 1578.52,238.21 1579.28,236.27 1580.03,234.38 1580.79,232.54 1581.54,230.74 1582.29,228.99 1583.05,227.28 1583.80,225.62 1584.56,223.99 1585.31,222.41 1586.07,220.86 1586.82,219.35 1587.57,217.87 1588.33,216.43 1589.08,215.02 1589.84,213.65 1590.59,212.30 1591.34,210.99 1592.10,209.71 1592.85,208.46 1593.61,207.23 1594.36,206.03 1595.11,204.86 1595.87,203.71 1596.62,202.59 1597.38,201.50 1598.13,200.43 1598.89,199.38 1599.64,198.35 1600.39,197.34 1601.15,196.36 1601.90,195.40 1602.66,194.45 1603.41,193.53 1604.16,192.63 1604.92,191.74 1605.67,190.88 1606.43,190.03 1607.18,189.19 1607.93,188.38 1608.69,187.58 1609.44,186.80 1610.20,186.03 1610.95,185.28 1611.71,184.54 1612.46,183.82 1613.21,183.11 1613.97,182.42 1614.72,181.74 1615.48,181.07 1616.23,180.42 1616.98,179.78 1617.74,179.15 1618.49,178.53 1619.25,177.92 1620.00,177.33 1620.75,176.75 1621.51,176.18 1622.26,175.62 1623.02,175.07 1623.77,174.53 1624.53,174.00 1625.28,173.48 1626.03,172.97 1626.79,172.47 1627.54,171.98 1628.30,171.50 1629.05,171.03 1629.80,170.56 1630.56,170.11 1631.31,169.66 1632.07,169.22 1632.82,168.79 1633.57,168.37 1634.33,167.96 1635.08,167.55 1635.84,167.15 1636.59,166.76 1637.35,166.37 1638.10,166.00 1638.85,165.63 1639.61,165.26 1640.36,164.91 1641.12,164.56 1641.87,164.21 1642.62,163.87 1643.38,163.54 1644.13,163.22 1644.89,162.90 1645.64,162.59 1646.39,162.28 1647.15,161.98 1647.90,161.68 1648.66,161.39 1649.41,161.11 1650.17,160.83 1650.92,160.56 1651.67,160.29 1652.43,160.03 1653.18,159.77 1653.94,159.52 1654.69,159.27 1655.44,159.02 1656.20,158.79 1656.95,158.55 1657.71,158.32 1658.46,158.10 1659.21,157.88 1659.97,157.66 1660.72,157.45 1661.48,157.24 1662.23,157.04 1662.99,156.84 1663.74,156.65 1664.49,156.46 1665.25,156.27 1666.00,156.09 1666.76,155.91 1667.51,155.74 1668.26,155.57 1669.02,155.40 1669.77,155.24 1670.53,155.08 1671.28,154.92 1672.03,154.77 1672.79,154.62 1673.54,154.47 1674.30,154.33 1675.05,154.19 1675.81,154.06 1676.56,153.93 1677.31,153.80 1678.07,153.68 1678.82,153.55 1679.58,153.44 1680.33,153.32 1681.08,153.21 1681.84,153.10 1682.59,152.99 1683.35,152.89 1684.10,152.79 1684.85,152.70 1685.61,152.60 1686.36,152.51 1687.12,152.42 1687.87,152.34 1688.63,152.26 1689.38,152.18" fill="none" stroke="#1fc9ef" stroke-width="5.0" stroke-linejoin="round" stroke-linecap="square" clip-path="url(#i03)"/>
<polyline points="1539.31,381.36 1540.06,373.64 1540.82,366.39 1541.57,359.57 1542.33,353.14 1543.08,347.06 1543.84,341.29 1544.59,335.82 1545.34,330.62 1546.10,325.66 1546.85,320.93 1547.61,316.41 1548.36,312.08 1549.11,307.94 1549.87,303.96 1550.62,300.15 1551.38,296.48 1552.13,292.95 1552.88,289.55 1553.64,286.28 1554.39,283.11 1555.15,280.06 1555.90,277.11 1556.65,274.26 1557.41,271.50 1558.16,268.83 1558.92,266.25 1559.67,263.74 1560.43,261.30 1561.18,258.94 1561.93,256.65 1562.69,254.42 1563.44,252.26 1564.20,250.15 1564.95,248.10 1565.70,246.11 1566.46,244.17 1567.21,242.28 1567.97,240.44 1568.72,238.64 1569.47,236.89 1570.23,235.18 1570.98,233.51 1571.74,231.88 1572.49,230.29 1573.25,228.74 1574.00,227.22 1574.75,225.74 1575.51,224.29 1576.26,222.87 1577.02,221.48 1577.77,220.12 1578.52,218.79 1579.28,217.49 1580.03,216.22 1580.79,214.97 1581.54,213.74 1582.29,212.55 1583.05,211.37 1583.80,210.22 1584.56,209.09 1585.31,207.98 1586.07,206.89 1586.82,205.83 1587.57,204.78 1588.33,203.75 1589.08,202.75 1589.84,201.76 1590.59,200.78 1591.34,199.83 1592.10,198.89 1592.85,197.97 1593.61,197.06 1594.36,196.17 1595.11,195.29 1595.87,194.43 1596.62,193.59 1597.38,192.75 1598.13,191.94 1598.89,191.13 1599.64,190.34 1600.39,189.56 1601.15,188.79 1601.90,188.04 1602.66,187.29 1603.41,186.56 1604.16,185.84 1604.92,185.13 1605.67,184.43 1606.43,183.74 1607.18,183.06 1607.93,182.39 1608.69,181.74 1609.44,181.09 1610.20,180.45 1610.95,179.82 1611.71,179.19 1612.46,178.58 1613.21,177.98 1613.97,177.38 1614.72,176.80 1615.48,176.22 1616.23,175.64 1616.98,175.08 1617.74,174.53 1618.49,173.98 1619.25,173.44 1620.00,172.90 1620.75,172.38 1621.51,171.86 1622.26,171.34 1623.02,170.84 1623.77,170.34 1624.53,169.84 1625.28,169.36 1626.03,168.87 1626.79,168.40 1627.54,167.93 1628.30,167.47 1629.05,167.01 1629.80,166.56 1630.56,166.11 1631.31,165.67 1632.07,165.23 1632.82,164.80 1633.57,164.38 1634.33,163.96 1635.08,163.54 1635.84,163.13 1636.59,162.73 1637.35,162.33 1638.10,161.93 1638.85,161.54 1639.61,161.15 1640.36,160.77 1641.12,160.39 1641.87,160.02 1642.62,159.65 1643.38,159.28 1644.13,158.92 1644.89,158.56 1645.64,158.21 1646.39,157.86 1647.15,157.51 1647.90,157.17 1648.66,156.83 1649.41,156.50 1650.17,156.16 1650.92,155.84 1651.67,155.51 1652.43,155.19 1653.18,154.87 1653.94,154.56 1654.69,154.25 1655.44,153.94 1656.20,153.64 1656.95,153.34 1657.71,153.04 1658.46,152.74 1659.21,152.45 1659.97,152.16 1660.72,151.88 1661.48,151.59 1662.23,151.31 1662.99,151.04 1663.74,150.76 1664.49,150.49 1665.25,150.22 1666.00,149.95 1666.76,149.69 1667.51,149.43 1668.26,149.17 1669.02,148.91 1669.77,148.66 1670.53,148.41 1671.28,148.16 1672.03,147.91 1672.79,147.67 1673.54,147.43 1674.30,147.19 1675.05,146.95 1675.81,146.71 1676.56,146.48 1677.31,146.25 1678.07,146.02 1678.82,145.80 1679.58,145.57 1680.33,145.35 1681.08,145.13 1681.84,144.91 1682.59,144.69 1683.35,144.48 1684.10,144.27 1684.85,144.06 1685.61,143.85 1686.36,143.64 1687.12,143.44 1687.87,143.24 1688.63,143.04 1689.38,142.84" fill="none" stroke="#f3c676" stroke-width="5.0" stroke-linejoin="round" stroke-linecap="square" clip-path="url(#i03)"/>
<polyline points="1539.31,403.62 1540.06,395.18 1540.82,387.21 1541.57,379.68 1542.33,372.55 1543.08,365.79 1543.84,359.37 1544.59,353.26 1545.34,347.45 1546.10,341.90 1546.85,336.60 1547.61,331.53 1548.36,326.68 1549.11,322.03 1549.87,317.57 1550.62,313.29 1551.38,309.18 1552.13,305.23 1552.88,301.42 1553.64,297.75 1554.39,294.21 1555.15,290.80 1555.90,287.51 1556.65,284.32 1557.41,281.25 1558.16,278.27 1558.92,275.39 1559.67,272.60 1560.43,269.90 1561.18,267.28 1561.93,264.74 1562.69,262.27 1563.44,259.88 1564.20,257.55 1564.95,255.29 1565.70,253.10 1566.46,250.96 1567.21,248.88 1567.97,246.86 1568.72,244.89 1569.47,242.97 1570.23,241.10 1570.98,239.28 1571.74,237.51 1572.49,235.77 1573.25,234.09 1574.00,232.44 1574.75,230.83 1575.51,229.26 1576.26,227.72 1577.02,226.22 1577.77,224.76 1578.52,223.32 1579.28,221.92 1580.03,220.55 1580.79,219.21 1581.54,217.90 1582.29,216.62 1583.05,215.36 1583.80,214.14 1584.56,212.93 1585.31,211.75 1586.07,210.60 1586.82,209.46 1587.57,208.36 1588.33,207.27 1589.08,206.20 1589.84,205.16 1590.59,204.13 1591.34,203.13 1592.10,202.14 1592.85,201.17 1593.61,200.22 1594.36,199.29 1595.11,198.37 1595.87,197.47 1596.62,196.59 1597.38,195.72 1598.13,194.87 1598.89,194.03 1599.64,193.21 1600.39,192.40 1601.15,191.61 1601.90,190.83 1602.66,190.06 1603.41,189.31 1604.16,188.56 1604.92,187.84 1605.67,187.12 1606.43,186.41 1607.18,185.72 1607.93,185.03 1608.69,184.36 1609.44,183.70 1610.20,183.05 1610.95,182.41 1611.71,181.78 1612.46,181.16 1613.21,180.54 1613.97,179.94 1614.72,179.35 1615.48,178.76 1616.23,178.19 1616.98,177.62 1617.74,177.06 1618.49,176.51 1619.25,175.97 1620.00,175.44 1620.75,174.91 1621.51,174.39 1622.26,173.88 1623.02,173.38 1623.77,172.88 1624.53,172.39 1625.28,171.91 1626.03,171.43 1626.79,170.96 1627.54,170.50 1628.30,170.04 1629.05,169.59 1629.80,169.15 1630.56,168.71 1631.31,168.28 1632.07,167.85 1632.82,167.43 1633.57,167.02 1634.33,166.61 1635.08,166.20 1635.84,165.80 1636.59,165.41 1637.35,165.02 1638.10,164.64 1638.85,164.26 1639.61,163.89 1640.36,163.52 1641.12,163.15 1641.87,162.79 1642.62,162.44 1643.38,162.09 1644.13,161.74 1644.89,161.40 1645.64,161.06 1646.39,160.73 1647.15,160.40 1647.90,160.08 1648.66,159.76 1649.41,159.44 1650.17,159.13 1650.92,158.82 1651.67,158.51 1652.43,158.21 1653.18,157.91 1653.94,157.62 1654.69,157.33 1655.44,157.04 1656.20,156.76 1656.95,156.48 1657.71,156.20 1658.46,155.93 1659.21,155.66 1659.97,155.39 1660.72,155.12 1661.48,154.86 1662.23,154.61 1662.99,154.35 1663.74,154.10 1664.49,153.85 1665.25,153.60 1666.00,153.36 1666.76,153.12 1667.51,152.88 1668.26,152.65 1669.02,152.42 1669.77,152.19 1670.53,151.96 1671.28,151.74 1672.03,151.51 1672.79,151.30 1673.54,151.08 1674.30,150.87 1675.05,150.65 1675.81,150.44 1676.56,150.24 1677.31,150.03 1678.07,149.83 1678.82,149.63 1679.58,149.43 1680.33,149.24 1681.08,149.05 1681.84,148.86 1682.59,148.67 1683.35,148.48 1684.10,148.30 1684.85,148.11 1685.61,147.93 1686.36,147.76 1687.12,147.58 1687.87,147.41 1688.63,147.23 1689.38,147.06" fill="none" stroke="#ae5450" stroke-width="5.0" stroke-linejoin="round" stroke-linecap="square" clip-path="url(#i03)"/>
<rect x="1544.50" y="103.50" width="136.00" height="136.00" fill="none" stroke="#363636" stroke-width="1.2"/>
<line x1="1553.38" y1="239.00" x2="1553.38" y2="241.00" stroke="#363636" stroke-width="0.9"/>
<text x="1553.38" y="254.50" font-size="13.9" text-anchor="middle" fill="#000">0.05</text>
<line x1="1582.69" y1="239.00" x2="1582.69" y2="241.00" stroke="#363636" stroke-width="0.9"/>
<text x="1582.69" y="254.50" font-size="13.9" text-anchor="middle" fill="#000">0.11</text>
<line x1="1612.00" y1="239.00" x2="1612.00" y2="241.00" stroke="#363636" stroke-width="0.9"/>
<text x="1612.00" y="254.50" font-size="13.9" text-anchor="middle" fill="#000">0.17</text>
<line x1="1641.31" y1="239.00" x2="1641.31" y2="241.00" stroke="#363636" stroke-width="0.9"/>
<text x="1641.31" y="254.50" font-size="13.9" text-anchor="middle" fill="#000">0.24</text>
<line x1="1670.62" y1="239.00" x2="1670.62" y2="241.00" stroke="#363636" stroke-width="0.9"/>
<text x="1670.62" y="254.50" font-size="13.9" text-anchor="middle" fill="#000">0.30</text>
<line x1="1544.00" y1="229.64" x2="1542.00" y2="229.64" stroke="#363636" stroke-width="0.9"/>
<text x="1537.60" y="234.54" font-size="13.9" text-anchor="end" fill="#000">0.70</text>
<line x1="1544.00" y1="200.40" x2="1542.00" y2="200.40" stroke="#363636" stroke-width="0.9"/>
<text x="1537.60" y="205.30" font-size="13.9" text-anchor="end" fill="#000">0.76</text>
<line x1="1544.00" y1="171.15" x2="1542.00" y2="171.15" stroke="#363636" stroke-width="0.9"/>
<text x="1537.60" y="176.05" font-size="13.9" text-anchor="end" fill="#000">0.82</text>
<line x1="1544.00" y1="141.90" x2="1542.00" y2="141.90" stroke="#363636" stroke-width="0.9"/>
<text x="1537.60" y="146.80" font-size="13.9" text-anchor="end" fill="#000">0.89</text>
<line x1="1544.00" y1="112.66" x2="1542.00" y2="112.66" stroke="#363636" stroke-width="0.9"/>
<text x="1537.60" y="117.56" font-size="13.9" text-anchor="end" fill="#000">0.95</text>
<rect x="1438.50" y="304.50" width="250.00" height="68.00" rx="3.5" fill="#fff" fill-opacity="0.85" stroke="#555" stroke-width="1.05"/>
<line x1="1442.51" y1="316.51" x2="1476.91" y2="316.51" stroke="#1fc9ef" stroke-width="5"/>
<text x="1486.31" y="321.51" font-size="14.8" text-anchor="start" fill="#000">10x AUC: 0.883 (0.854-0.912)</text>
<line x1="1442.51" y1="337.86" x2="1476.91" y2="337.86" stroke="#f3c676" stroke-width="5"/>
<text x="1486.31" y="342.86" font-size="14.8" text-anchor="start" fill="#000">20x AUC: 0.893 (0.866-0.919)</text>
<line x1="1442.51" y1="359.21" x2="1476.91" y2="359.21" stroke="#ae5450" stroke-width="5"/>
<text x="1486.31" y="364.21" font-size="14.8" text-anchor="start" fill="#000">40x AUC: 0.889 (0.862-0.917)</text>
<clipPath id="c04"><rect x="1777.20" y="45.30" width="334.91" height="334.91"/></clipPath>
<line x1="1792.85" y1="380.21" x2="1792.85" y2="382.71" stroke="#363636" stroke-width="1"/>
<line x1="1777.20" y1="364.56" x2="1774.70" y2="364.56" stroke="#363636" stroke-width="1"/>
<text x="1792.85" y="401.41" font-size="21" text-anchor="middle" fill="#000">0.0</text>
<text x="1771.40" y="372.06" font-size="21" text-anchor="end" fill="#000">0.0</text>
<line x1="1855.45" y1="380.21" x2="1855.45" y2="382.71" stroke="#363636" stroke-width="1"/>
<line x1="1777.20" y1="301.96" x2="1774.70" y2="301.96" stroke="#363636" stroke-width="1"/>
<text x="1855.45" y="401.41" font-size="21" text-anchor="middle" fill="#000">0.2</text>
<text x="1771.40" y="309.46" font-size="21" text-anchor="end" fill="#000">0.2</text>
<line x1="1918.05" y1="380.21" x2="1918.05" y2="382.71" stroke="#363636" stroke-width="1"/>
<line x1="1777.20" y1="239.36" x2="1774.70" y2="239.36" stroke="#363636" stroke-width="1"/>
<text x="1918.05" y="401.41" font-size="21" text-anchor="middle" fill="#000">0.4</text>
<text x="1771.40" y="246.86" font-size="21" text-anchor="end" fill="#000">0.4</text>
<line x1="1980.65" y1="380.21" x2="1980.65" y2="382.71" stroke="#363636" stroke-width="1"/>
<line x1="1777.20" y1="176.76" x2="1774.70" y2="176.76" stroke="#363636" stroke-width="1"/>
<text x="1980.65" y="401.41" font-size="21" text-anchor="middle" fill="#000">0.6</text>
<text x="1771.40" y="184.26" font-size="21" text-anchor="end" fill="#000">0.6</text>
<line x1="2043.25" y1="380.21" x2="2043.25" y2="382.71" stroke="#363636" stroke-width="1"/>
<line x1="1777.20" y1="114.16" x2="1774.70" y2="114.16" stroke="#363636" stroke-width="1"/>
<text x="2043.25" y="401.41" font-size="21" text-anchor="middle" fill="#000">0.8</text>
<text x="1771.40" y="121.66" font-size="21" text-anchor="end" fill="#000">0.8</text>
<line x1="2105.85" y1="380.21" x2="2105.85" y2="382.71" stroke="#363636" stroke-width="1"/>
<line x1="1777.20" y1="51.56" x2="1774.70" y2="51.56" stroke="#363636" stroke-width="1"/>
<text x="2105.85" y="401.41" font-size="21" text-anchor="middle" fill="#000">1.0</text>
<text x="1771.40" y="59.06" font-size="21" text-anchor="end" fill="#000">1.0</text>
<text x="1944.66" y="426.21" font-size="23" text-anchor="middle" fill="#000">1-Specificity</text>
<line x1="1792.85" y1="364.56" x2="2105.85" y2="51.56" stroke="#9a9a9a" stroke-width="1.75" stroke-dasharray="5.9,2.6"/>
<polyline points="1792.85,364.56 1792.85,347.57 1792.85,346.60 1792.85,345.58 1792.85,344.50 1792.85,343.37 1792.85,342.17 1792.85,340.91 1792.85,339.58 1792.85,338.18 1792.85,336.71 1792.85,335.15 1792.85,333.52 1792.86,331.80 1792.86,329.99 1792.86,328.09 1792.86,326.09 1792.86,323.99 1792.87,321.78 1792.87,319.45 1792.88,317.01 1792.89,314.45 1792.89,311.76 1792.91,308.93 1792.92,305.97 1792.94,302.86 1792.96,299.60 1793.00,296.18 1793.03,292.60 1793.08,288.85 1793.15,284.92 1793.22,280.80 1793.32,276.50 1793.45,272.00 1793.61,267.29 1793.81,262.38 1794.07,257.24 1794.39,251.88 1794.80,246.29 1795.32,240.45 1795.98,234.37 1796.04,233.85 1797.08,226.26 1798.11,220.08 1799.15,214.84 1800.19,210.28 1801.22,206.24 1802.26,202.59 1803.30,199.26 1804.33,196.20 1805.37,193.37 1806.40,190.73 1807.44,188.25 1808.48,185.92 1809.51,183.71 1810.55,181.62 1811.58,179.63 1812.62,177.73 1813.66,175.92 1814.69,174.18 1815.73,172.51 1816.77,170.90 1817.80,169.35 1818.84,167.85 1819.87,166.41 1820.91,165.01 1821.95,163.65 1822.98,162.34 1824.02,161.06 1825.05,159.82 1826.09,158.62 1827.13,157.44 1828.16,156.30 1829.20,155.18 1830.24,154.09 1831.27,153.03 1832.31,151.99 1833.34,150.97 1834.38,149.98 1835.42,149.00 1836.45,148.05 1837.49,147.12 1838.52,146.20 1839.56,145.30 1840.60,144.42 1841.63,143.56 1842.67,142.71 1843.71,141.88 1844.74,141.06 1845.78,140.25 1846.81,139.46 1847.85,138.68 1848.89,137.92 1849.92,137.16 1850.96,136.42 1851.99,135.69 1853.03,134.97 1854.07,134.26 1855.10,133.56 1856.14,132.88 1857.18,132.20 1858.21,131.53 1859.25,130.87 1860.28,130.21 1861.32,129.57 1862.36,128.94 1863.39,128.31 1864.43,127.69 1865.46,127.08 1866.50,126.48 1867.54,125.88 1868.57,125.29 1869.61,124.71 1870.65,124.13 1871.68,123.56 1872.72,123.00 1873.75,122.44 1874.79,121.89 1875.83,121.35 1876.86,120.81 1877.90,120.28 1878.93,119.75 1879.97,119.23 1881.01,118.71 1882.04,118.20 1883.08,117.70 1884.11,117.19 1885.15,116.70 1886.19,116.21 1887.22,115.72 1888.26,115.24 1889.30,114.76 1890.33,114.29 1891.37,113.82 1892.40,113.35 1893.44,112.89 1894.48,112.43 1895.51,111.98 1896.55,111.53 1897.58,111.09 1898.62,110.65 1899.66,110.21 1900.69,109.77 1901.73,109.34 1902.77,108.92 1903.80,108.49 1904.84,108.07 1905.87,107.66 1906.91,107.24 1907.95,106.83 1908.98,106.42 1910.02,106.02 1911.05,105.62 1912.09,105.22 1913.13,104.82 1914.16,104.43 1915.20,104.04 1916.24,103.65 1917.27,103.27 1918.31,102.89 1919.34,102.51 1920.38,102.13 1921.42,101.76 1922.45,101.39 1923.49,101.02 1924.52,100.65 1925.56,100.29 1926.60,99.93 1927.63,99.57 1928.67,99.21 1929.71,98.86 1930.74,98.51 1931.78,98.16 1932.81,97.81 1933.85,97.46 1934.89,97.12 1935.92,96.78 1936.96,96.44 1937.99,96.10 1939.03,95.76 1940.07,95.43 1941.10,95.10 1942.14,94.77 1943.18,94.44 1944.21,94.11 1945.25,93.79 1946.28,93.47 1947.32,93.14 1948.36,92.83 1949.39,92.51 1950.43,92.19 1951.46,91.88 1952.50,91.57 1953.54,91.25 1954.57,90.95 1955.61,90.64 1956.65,90.33 1957.68,90.03 1958.72,89.72 1959.75,89.42 1960.79,89.12 1961.83,88.82 1962.86,88.53 1963.90,88.23 1964.93,87.94 1965.97,87.64 1967.01,87.35 1968.04,87.06 1969.08,86.77 1970.11,86.49 1971.15,86.20 1972.19,85.91 1973.22,85.63 1974.26,85.35 1975.30,85.07 1976.33,84.79 1977.37,84.51 1978.40,84.23 1979.44,83.95 1980.48,83.68 1981.51,83.40 1982.55,83.13 1983.58,82.86 1984.62,82.58 1985.66,82.31 1986.69,82.05 1987.73,81.78 1988.77,81.51 1989.80,81.24 1990.84,80.98 1991.87,80.72 1992.91,80.45 1993.95,80.19 1994.98,79.93 1996.02,79.67 1997.05,79.41 1998.09,79.15 1999.13,78.89 2000.16,78.64 2001.20,78.38 2002.24,78.12 2003.27,77.87 2004.31,77.62 2005.34,77.36 2006.38,77.11 2007.42,76.86 2008.45,76.61 2009.49,76.36 2010.52,76.11 2011.56,75.86 2012.60,75.61 2013.63,75.37 2014.67,75.12 2015.71,74.88 2016.74,74.63 2017.78,74.39 2018.81,74.14 2019.85,73.90 2020.89,73.66 2021.92,73.41 2022.96,73.17 2023.99,72.93 2025.03,72.69 2026.07,72.45 2027.10,72.21 2028.14,71.97 2029.18,71.74 2030.21,71.50 2031.25,71.26 2032.28,71.02 2033.32,70.79 2034.36,70.55 2035.39,70.31 2036.43,70.08 2037.46,69.84 2038.50,69.61 2039.54,69.37 2040.57,69.14 2041.61,68.90 2042.65,68.67 2043.68,68.44 2044.72,68.20 2045.75,67.97 2046.79,67.74 2047.83,67.50 2048.86,67.27 2049.90,67.04 2050.93,66.81 2051.97,66.57 2053.01,66.34 2054.04,66.11 2055.08,65.88 2056.12,65.64 2057.15,65.41 2058.19,65.18 2059.22,64.95 2060.26,64.71 2061.30,64.48 2062.33,64.25 2063.37,64.01 2064.40,63.78 2065.44,63.54 2066.48,63.31 2067.51,63.07 2068.55,62.84 2069.58,62.60 2070.62,62.36 2071.66,62.13 2072.69,61.89 2073.73,61.65 2074.77,61.41 2075.80,61.17 2076.84,60.92 2077.87,60.68 2078.91,60.43 2079.95,60.19 2080.98,59.94 2082.02,59.69 2083.05,59.44 2084.09,59.18 2085.13,58.93 2086.16,58.67 2087.20,58.41 2088.24,58.15 2089.27,57.88 2090.31,57.61 2091.34,57.33 2092.38,57.06 2093.42,56.77 2094.45,56.48 2095.49,56.18 2096.52,55.88 2097.56,55.56 2098.60,55.24 2099.63,54.90 2100.67,54.54 2101.71,54.16 2102.74,53.74 2103.78,53.28 2104.81,52.71 2105.85,51.56" fill="none" stroke="#1fc9ef" stroke-width="5.0" stroke-linejoin="round" stroke-linecap="square" clip-path="url(#c04)"/>
<polyline points="1792.85,364.56 1792.85,362.52 1792.85,362.30 1792.85,362.06 1792.85,361.78 1792.85,361.48 1792.85,361.15 1792.85,360.79 1792.85,360.38 1792.85,359.94 1792.85,359.45 1792.85,358.90 1792.85,358.31 1792.86,357.65 1792.86,356.92 1792.86,356.13 1792.86,355.25 1792.86,354.29 1792.87,353.23 1792.87,352.07 1792.88,350.79 1792.89,349.40 1792.89,347.86 1792.91,346.19 1792.92,344.35 1792.94,342.34 1792.96,340.14 1793.00,337.75 1793.03,335.13 1793.08,332.28 1793.15,329.17 1793.22,325.79 1793.32,322.11 1793.45,318.12 1793.61,313.79 1793.81,309.09 1794.07,304.01 1794.39,298.52 1794.80,292.59 1795.32,286.20 1795.98,279.33 1796.04,278.73 1797.08,269.83 1798.11,262.37 1799.15,255.89 1800.19,250.14 1801.22,244.96 1802.26,240.22 1803.30,235.86 1804.33,231.81 1805.37,228.03 1806.40,224.48 1807.44,221.12 1808.48,217.95 1809.51,214.93 1810.55,212.05 1811.58,209.30 1812.62,206.67 1813.66,204.14 1814.69,201.71 1815.73,199.37 1816.77,197.11 1817.80,194.93 1818.84,192.82 1819.87,190.78 1820.91,188.80 1821.95,186.87 1822.98,185.00 1824.02,183.19 1825.05,181.42 1826.09,179.70 1827.13,178.02 1828.16,176.39 1829.20,174.79 1830.24,173.23 1831.27,171.71 1832.31,170.22 1833.34,168.76 1834.38,167.34 1835.42,165.94 1836.45,164.57 1837.49,163.23 1838.52,161.92 1839.56,160.63 1840.60,159.37 1841.63,158.13 1842.67,156.91 1843.71,155.71 1844.74,154.54 1845.78,153.39 1846.81,152.25 1847.85,151.13 1848.89,150.04 1849.92,148.96 1850.96,147.90 1851.99,146.85 1853.03,145.82 1854.07,144.81 1855.10,143.81 1856.14,142.83 1857.18,141.86 1858.21,140.90 1859.25,139.96 1860.28,139.03 1861.32,138.12 1862.36,137.22 1863.39,136.32 1864.43,135.45 1865.46,134.58 1866.50,133.72 1867.54,132.88 1868.57,132.05 1869.61,131.22 1870.65,130.41 1871.68,129.61 1872.72,128.82 1873.75,128.03 1874.79,127.26 1875.83,126.50 1876.86,125.74 1877.90,125.00 1878.93,124.26 1879.97,123.53 1881.01,122.81 1882.04,122.10 1883.08,121.39 1884.11,120.69 1885.15,120.00 1886.19,119.32 1887.22,118.65 1888.26,117.98 1889.30,117.32 1890.33,116.67 1891.37,116.02 1892.40,115.38 1893.44,114.75 1894.48,114.12 1895.51,113.50 1896.55,112.89 1897.58,112.28 1898.62,111.68 1899.66,111.08 1900.69,110.49 1901.73,109.91 1902.77,109.33 1903.80,108.75 1904.84,108.19 1905.87,107.62 1906.91,107.07 1907.95,106.51 1908.98,105.97 1910.02,105.42 1911.05,104.89 1912.09,104.36 1913.13,103.83 1914.16,103.31 1915.20,102.79 1916.24,102.27 1917.27,101.77 1918.31,101.26 1919.34,100.76 1920.38,100.27 1921.42,99.78 1922.45,99.29 1923.49,98.81 1924.52,98.33 1925.56,97.85 1926.60,97.38 1927.63,96.91 1928.67,96.45 1929.71,95.99 1930.74,95.54 1931.78,95.09 1932.81,94.64 1933.85,94.19 1934.89,93.75 1935.92,93.32 1936.96,92.88 1937.99,92.45 1939.03,92.03 1940.07,91.60 1941.10,91.18 1942.14,90.77 1943.18,90.35 1944.21,89.94 1945.25,89.54 1946.28,89.13 1947.32,88.73 1948.36,88.34 1949.39,87.94 1950.43,87.55 1951.46,87.16 1952.50,86.78 1953.54,86.39 1954.57,86.01 1955.61,85.64 1956.65,85.26 1957.68,84.89 1958.72,84.52 1959.75,84.16 1960.79,83.79 1961.83,83.43 1962.86,83.07 1963.90,82.72 1964.93,82.37 1965.97,82.02 1967.01,81.67 1968.04,81.32 1969.08,80.98 1970.11,80.64 1971.15,80.30 1972.19,79.97 1973.22,79.64 1974.26,79.31 1975.30,78.98 1976.33,78.65 1977.37,78.33 1978.40,78.01 1979.44,77.69 1980.48,77.37 1981.51,77.06 1982.55,76.75 1983.58,76.44 1984.62,76.13 1985.66,75.82 1986.69,75.52 1987.73,75.22 1988.77,74.92 1989.80,74.62 1990.84,74.33 1991.87,74.03 1992.91,73.74 1993.95,73.45 1994.98,73.17 1996.02,72.88 1997.05,72.60 1998.09,72.32 1999.13,72.04 2000.16,71.76 2001.20,71.48 2002.24,71.21 2003.27,70.94 2004.31,70.67 2005.34,70.40 2006.38,70.13 2007.42,69.87 2008.45,69.61 2009.49,69.34 2010.52,69.08 2011.56,68.83 2012.60,68.57 2013.63,68.32 2014.67,68.07 2015.71,67.81 2016.74,67.57 2017.78,67.32 2018.81,67.07 2019.85,66.83 2020.89,66.59 2021.92,66.35 2022.96,66.11 2023.99,65.87 2025.03,65.63 2026.07,65.40 2027.10,65.17 2028.14,64.94 2029.18,64.71 2030.21,64.48 2031.25,64.25 2032.28,64.03 2033.32,63.81 2034.36,63.58 2035.39,63.36 2036.43,63.14 2037.46,62.93 2038.50,62.71 2039.54,62.50 2040.57,62.28 2041.61,62.07 2042.65,61.86 2043.68,61.66 2044.72,61.45 2045.75,61.24 2046.79,61.04 2047.83,60.84 2048.86,60.63 2049.90,60.43 2050.93,60.24 2051.97,60.04 2053.01,59.84 2054.04,59.65 2055.08,59.46 2056.12,59.26 2057.15,59.07 2058.19,58.89 2059.22,58.70 2060.26,58.51 2061.30,58.33 2062.33,58.14 2063.37,57.96 2064.40,57.78 2065.44,57.60 2066.48,57.42 2067.51,57.25 2068.55,57.07 2069.58,56.90 2070.62,56.72 2071.66,56.55 2072.69,56.38 2073.73,56.21 2074.77,56.04 2075.80,55.88 2076.84,55.71 2077.87,55.55 2078.91,55.39 2079.95,55.22 2080.98,55.06 2082.02,54.91 2083.05,54.75 2084.09,54.59 2085.13,54.44 2086.16,54.28 2087.20,54.13 2088.24,53.98 2089.27,53.83 2090.31,53.68 2091.34,53.53 2092.38,53.39 2093.42,53.24 2094.45,53.10 2095.49,52.96 2096.52,52.82 2097.56,52.68 2098.60,52.54 2099.63,52.40 2100.67,52.26 2101.71,52.12 2102.74,51.99 2103.78,51.85 2104.81,51.71 2105.85,51.56" fill="none" stroke="#f3c676" stroke-width="5.0" stroke-linejoin="round" stroke-linecap="square" clip-path="url(#c04)"/>
<polyline points="1792.85,364.56 1792.85,362.55 1792.85,362.34 1792.85,362.11 1792.85,361.86 1792.85,361.58 1792.85,361.27 1792.85,360.93 1792.85,360.56 1792.85,360.16 1792.85,359.71 1792.85,359.22 1792.85,358.67 1792.86,358.08 1792.86,357.43 1792.86,356.71 1792.86,355.93 1792.86,355.07 1792.87,354.13 1792.87,353.10 1792.88,351.97 1792.89,350.73 1792.89,349.38 1792.91,347.90 1792.92,346.28 1792.94,344.51 1792.96,342.58 1793.00,340.48 1793.03,338.18 1793.08,335.68 1793.15,332.95 1793.22,329.98 1793.32,326.76 1793.45,323.25 1793.61,319.44 1793.81,315.30 1794.07,310.82 1794.39,305.96 1794.80,300.71 1795.32,295.02 1795.98,288.89 1796.04,288.35 1797.08,280.36 1798.11,273.63 1799.15,267.76 1800.19,262.52 1801.22,257.79 1802.26,253.45 1803.30,249.43 1804.33,245.69 1805.37,242.19 1806.40,238.88 1807.44,235.76 1808.48,232.79 1809.51,229.96 1810.55,227.26 1811.58,224.67 1812.62,222.18 1813.66,219.78 1814.69,217.48 1815.73,215.25 1816.77,213.10 1817.80,211.01 1818.84,208.99 1819.87,207.03 1820.91,205.12 1821.95,203.27 1822.98,201.47 1824.02,199.71 1825.05,197.99 1826.09,196.32 1827.13,194.69 1828.16,193.09 1829.20,191.53 1830.24,190.00 1831.27,188.51 1832.31,187.05 1833.34,185.61 1834.38,184.20 1835.42,182.83 1836.45,181.47 1837.49,180.14 1838.52,178.84 1839.56,177.56 1840.60,176.30 1841.63,175.06 1842.67,173.84 1843.71,172.64 1844.74,171.46 1845.78,170.30 1846.81,169.16 1847.85,168.04 1848.89,166.93 1849.92,165.84 1850.96,164.76 1851.99,163.70 1853.03,162.65 1854.07,161.62 1855.10,160.60 1856.14,159.60 1857.18,158.61 1858.21,157.63 1859.25,156.66 1860.28,155.71 1861.32,154.77 1862.36,153.84 1863.39,152.92 1864.43,152.01 1865.46,151.11 1866.50,150.23 1867.54,149.35 1868.57,148.48 1869.61,147.63 1870.65,146.78 1871.68,145.94 1872.72,145.11 1873.75,144.29 1874.79,143.48 1875.83,142.68 1876.86,141.88 1877.90,141.10 1878.93,140.32 1879.97,139.55 1881.01,138.79 1882.04,138.03 1883.08,137.28 1884.11,136.54 1885.15,135.81 1886.19,135.08 1887.22,134.36 1888.26,133.65 1889.30,132.94 1890.33,132.24 1891.37,131.55 1892.40,130.86 1893.44,130.18 1894.48,129.50 1895.51,128.83 1896.55,128.17 1897.58,127.51 1898.62,126.86 1899.66,126.21 1900.69,125.57 1901.73,124.93 1902.77,124.30 1903.80,123.68 1904.84,123.06 1905.87,122.44 1906.91,121.83 1907.95,121.23 1908.98,120.62 1910.02,120.03 1911.05,119.44 1912.09,118.85 1913.13,118.27 1914.16,117.69 1915.20,117.11 1916.24,116.54 1917.27,115.98 1918.31,115.42 1919.34,114.86 1920.38,114.31 1921.42,113.76 1922.45,113.21 1923.49,112.67 1924.52,112.13 1925.56,111.60 1926.60,111.07 1927.63,110.54 1928.67,110.02 1929.71,109.50 1930.74,108.99 1931.78,108.48 1932.81,107.97 1933.85,107.46 1934.89,106.96 1935.92,106.46 1936.96,105.97 1937.99,105.48 1939.03,104.99 1940.07,104.50 1941.10,104.02 1942.14,103.54 1943.18,103.07 1944.21,102.59 1945.25,102.12 1946.28,101.66 1947.32,101.19 1948.36,100.73 1949.39,100.27 1950.43,99.82 1951.46,99.36 1952.50,98.91 1953.54,98.47 1954.57,98.02 1955.61,97.58 1956.65,97.14 1957.68,96.70 1958.72,96.27 1959.75,95.84 1960.79,95.41 1961.83,94.98 1962.86,94.56 1963.90,94.14 1964.93,93.72 1965.97,93.30 1967.01,92.89 1968.04,92.48 1969.08,92.07 1970.11,91.66 1971.15,91.25 1972.19,90.85 1973.22,90.45 1974.26,90.05 1975.30,89.66 1976.33,89.26 1977.37,88.87 1978.40,88.48 1979.44,88.09 1980.48,87.71 1981.51,87.33 1982.55,86.94 1983.58,86.57 1984.62,86.19 1985.66,85.81 1986.69,85.44 1987.73,85.07 1988.77,84.70 1989.80,84.33 1990.84,83.97 1991.87,83.60 1992.91,83.24 1993.95,82.88 1994.98,82.52 1996.02,82.17 1997.05,81.81 1998.09,81.46 1999.13,81.11 2000.16,80.76 2001.20,80.41 2002.24,80.07 2003.27,79.72 2004.31,79.38 2005.34,79.04 2006.38,78.70 2007.42,78.36 2008.45,78.03 2009.49,77.70 2010.52,77.36 2011.56,77.03 2012.60,76.70 2013.63,76.38 2014.67,76.05 2015.71,75.73 2016.74,75.40 2017.78,75.08 2018.81,74.76 2019.85,74.44 2020.89,74.13 2021.92,73.81 2022.96,73.50 2023.99,73.19 2025.03,72.87 2026.07,72.56 2027.10,72.26 2028.14,71.95 2029.18,71.64 2030.21,71.34 2031.25,71.04 2032.28,70.74 2033.32,70.44 2034.36,70.14 2035.39,69.84 2036.43,69.54 2037.46,69.25 2038.50,68.96 2039.54,68.66 2040.57,68.37 2041.61,68.08 2042.65,67.80 2043.68,67.51 2044.72,67.22 2045.75,66.94 2046.79,66.65 2047.83,66.37 2048.86,66.09 2049.90,65.81 2050.93,65.53 2051.97,65.25 2053.01,64.98 2054.04,64.70 2055.08,64.43 2056.12,64.15 2057.15,63.88 2058.19,63.61 2059.22,63.34 2060.26,63.07 2061.30,62.80 2062.33,62.54 2063.37,62.27 2064.40,62.01 2065.44,61.74 2066.48,61.48 2067.51,61.22 2068.55,60.95 2069.58,60.69 2070.62,60.43 2071.66,60.18 2072.69,59.92 2073.73,59.66 2074.77,59.40 2075.80,59.15 2076.84,58.89 2077.87,58.64 2078.91,58.39 2079.95,58.13 2080.98,57.88 2082.02,57.63 2083.05,57.38 2084.09,57.13 2085.13,56.88 2086.16,56.63 2087.20,56.38 2088.24,56.13 2089.27,55.88 2090.31,55.63 2091.34,55.38 2092.38,55.13 2093.42,54.88 2094.45,54.63 2095.49,54.38 2096.52,54.13 2097.56,53.88 2098.60,53.62 2099.63,53.36 2100.67,53.10 2101.71,52.83 2102.74,52.56 2103.78,52.27 2104.81,51.97 2105.85,51.56" fill="none" stroke="#ae5450" stroke-width="5.0" stroke-linejoin="round" stroke-linecap="square" clip-path="url(#c04)"/>
<rect x="1777.50" y="45.50" width="335.00" height="335.00" fill="none" stroke="#363636" stroke-width="1.25"/>
<rect x="1960.40" y="103.30" width="136.00" height="135.70" fill="#fff" stroke="none"/>
<clipPath id="i04"><rect x="1960.40" y="103.30" width="136.00" height="135.70"/></clipPath>
<polyline points="1955.71,314.72 1956.46,309.42 1957.22,304.46 1957.97,299.82 1958.73,295.45 1959.48,291.33 1960.24,287.43 1960.99,283.73 1961.74,280.21 1962.50,276.86 1963.25,273.66 1964.01,270.60 1964.76,267.66 1965.51,264.85 1966.27,262.15 1967.02,259.55 1967.78,257.04 1968.53,254.63 1969.28,252.29 1970.04,250.04 1970.79,247.86 1971.55,245.75 1972.30,243.71 1973.05,241.73 1973.81,239.80 1974.56,237.93 1975.32,236.12 1976.07,234.35 1976.83,232.64 1977.58,230.97 1978.33,229.34 1979.09,227.75 1979.84,226.20 1980.60,224.70 1981.35,223.22 1982.10,221.78 1982.86,220.38 1983.61,219.01 1984.37,217.66 1985.12,216.35 1985.87,215.07 1986.63,213.81 1987.38,212.58 1988.14,211.37 1988.89,210.19 1989.65,209.03 1990.40,207.90 1991.15,206.78 1991.91,205.69 1992.66,204.62 1993.42,203.57 1994.17,202.54 1994.92,201.52 1995.68,200.53 1996.43,199.55 1997.19,198.59 1997.94,197.64 1998.69,196.72 1999.45,195.80 2000.20,194.91 2000.96,194.02 2001.71,193.15 2002.47,192.30 2003.22,191.46 2003.97,190.63 2004.73,189.81 2005.48,189.01 2006.24,188.22 2006.99,187.44 2007.74,186.67 2008.50,185.91 2009.25,185.17 2010.01,184.43 2010.76,183.71 2011.51,182.99 2012.27,182.29 2013.02,181.59 2013.78,180.91 2014.53,180.23 2015.29,179.56 2016.04,178.91 2016.79,178.26 2017.55,177.62 2018.30,176.98 2019.06,176.36 2019.81,175.74 2020.56,175.13 2021.32,174.53 2022.07,173.94 2022.83,173.35 2023.58,172.77 2024.33,172.20 2025.09,171.63 2025.84,171.07 2026.60,170.52 2027.35,169.97 2028.11,169.43 2028.86,168.90 2029.61,168.37 2030.37,167.85 2031.12,167.33 2031.88,166.82 2032.63,166.32 2033.38,165.82 2034.14,165.32 2034.89,164.84 2035.65,164.35 2036.40,163.87 2037.15,163.40 2037.91,162.93 2038.66,162.47 2039.42,162.01 2040.17,161.56 2040.93,161.11 2041.68,160.67 2042.43,160.23 2043.19,159.79 2043.94,159.36 2044.70,158.93 2045.45,158.51 2046.20,158.09 2046.96,157.68 2047.71,157.27 2048.47,156.86 2049.22,156.46 2049.97,156.06 2050.73,155.66 2051.48,155.27 2052.24,154.89 2052.99,154.50 2053.75,154.12 2054.50,153.74 2055.25,153.37 2056.01,153.00 2056.76,152.63 2057.52,152.27 2058.27,151.91 2059.02,151.55 2059.78,151.20 2060.53,150.85 2061.29,150.50 2062.04,150.15 2062.79,149.81 2063.55,149.47 2064.30,149.14 2065.06,148.80 2065.81,148.47 2066.57,148.15 2067.32,147.82 2068.07,147.50 2068.83,147.18 2069.58,146.86 2070.34,146.55 2071.09,146.24 2071.84,145.93 2072.60,145.62 2073.35,145.32 2074.11,145.02 2074.86,144.72 2075.61,144.42 2076.37,144.13 2077.12,143.83 2077.88,143.54 2078.63,143.26 2079.39,142.97 2080.14,142.69 2080.89,142.41 2081.65,142.13 2082.40,141.85 2083.16,141.58 2083.91,141.30 2084.66,141.03 2085.42,140.77 2086.17,140.50 2086.93,140.23 2087.68,139.97 2088.43,139.71 2089.19,139.45 2089.94,139.20 2090.70,138.94 2091.45,138.69 2092.21,138.44 2092.96,138.19 2093.71,137.94 2094.47,137.70 2095.22,137.45 2095.98,137.21 2096.73,136.97 2097.48,136.73 2098.24,136.49 2098.99,136.26 2099.75,136.02 2100.50,135.79 2101.25,135.56 2102.01,135.33 2102.76,135.10 2103.52,134.88 2104.27,134.65 2105.03,134.43 2105.78,134.21" fill="none" stroke="#1fc9ef" stroke-width="5.0" stroke-linejoin="round" stroke-linecap="square" clip-path="url(#i04)"/>
<polyline points="1955.71,400.52 1956.46,394.18 1957.22,388.13 1957.97,382.34 1958.73,376.80 1959.48,371.48 1960.24,366.37 1960.99,361.45 1961.74,356.72 1962.50,352.16 1963.25,347.76 1964.01,343.51 1964.76,339.40 1965.51,335.43 1966.27,331.58 1967.02,327.85 1967.78,324.24 1968.53,320.73 1969.28,317.33 1970.04,314.02 1970.79,310.80 1971.55,307.68 1972.30,304.63 1973.05,301.67 1973.81,298.79 1974.56,295.98 1975.32,293.23 1976.07,290.56 1976.83,287.95 1977.58,285.40 1978.33,282.92 1979.09,280.49 1979.84,278.11 1980.60,275.79 1981.35,273.52 1982.10,271.30 1982.86,269.12 1983.61,267.00 1984.37,264.91 1985.12,262.87 1985.87,260.87 1986.63,258.91 1987.38,256.99 1988.14,255.11 1988.89,253.26 1989.65,251.45 1990.40,249.68 1991.15,247.93 1991.91,246.22 1992.66,244.54 1993.42,242.89 1994.17,241.27 1994.92,239.67 1995.68,238.11 1996.43,236.57 1997.19,235.06 1997.94,233.57 1998.69,232.11 1999.45,230.67 2000.20,229.26 2000.96,227.87 2001.71,226.50 2002.47,225.15 2003.22,223.83 2003.97,222.52 2004.73,221.24 2005.48,219.97 2006.24,218.73 2006.99,217.50 2007.74,216.29 2008.50,215.10 2009.25,213.92 2010.01,212.77 2010.76,211.63 2011.51,210.50 2012.27,209.40 2013.02,208.30 2013.78,207.23 2014.53,206.16 2015.29,205.12 2016.04,204.08 2016.79,203.06 2017.55,202.06 2018.30,201.07 2019.06,200.09 2019.81,199.12 2020.56,198.17 2021.32,197.23 2022.07,196.30 2022.83,195.38 2023.58,194.47 2024.33,193.58 2025.09,192.70 2025.84,191.82 2026.60,190.96 2027.35,190.11 2028.11,189.27 2028.86,188.44 2029.61,187.62 2030.37,186.81 2031.12,186.01 2031.88,185.22 2032.63,184.43 2033.38,183.66 2034.14,182.90 2034.89,182.14 2035.65,181.39 2036.40,180.66 2037.15,179.92 2037.91,179.20 2038.66,178.49 2039.42,177.78 2040.17,177.08 2040.93,176.39 2041.68,175.71 2042.43,175.04 2043.19,174.37 2043.94,173.71 2044.70,173.05 2045.45,172.40 2046.20,171.76 2046.96,171.13 2047.71,170.50 2048.47,169.88 2049.22,169.27 2049.97,168.66 2050.73,168.06 2051.48,167.46 2052.24,166.87 2052.99,166.29 2053.75,165.71 2054.50,165.14 2055.25,164.58 2056.01,164.01 2056.76,163.46 2057.52,162.91 2058.27,162.37 2059.02,161.83 2059.78,161.29 2060.53,160.76 2061.29,160.24 2062.04,159.72 2062.79,159.21 2063.55,158.70 2064.30,158.20 2065.06,157.70 2065.81,157.20 2066.57,156.71 2067.32,156.23 2068.07,155.74 2068.83,155.27 2069.58,154.80 2070.34,154.33 2071.09,153.86 2071.84,153.40 2072.60,152.95 2073.35,152.50 2074.11,152.05 2074.86,151.61 2075.61,151.17 2076.37,150.73 2077.12,150.30 2077.88,149.87 2078.63,149.45 2079.39,149.03 2080.14,148.61 2080.89,148.20 2081.65,147.79 2082.40,147.38 2083.16,146.98 2083.91,146.58 2084.66,146.18 2085.42,145.79 2086.17,145.40 2086.93,145.02 2087.68,144.63 2088.43,144.25 2089.19,143.88 2089.94,143.50 2090.70,143.13 2091.45,142.77 2092.21,142.40 2092.96,142.04 2093.71,141.68 2094.47,141.33 2095.22,140.97 2095.98,140.62 2096.73,140.28 2097.48,139.93 2098.24,139.59 2098.99,139.25 2099.75,138.92 2100.50,138.58 2101.25,138.25 2102.01,137.93 2102.76,137.60 2103.52,137.28 2104.27,136.96 2105.03,136.64 2105.78,136.32" fill="none" stroke="#f3c676" stroke-width="5.0" stroke-linejoin="round" stroke-linecap="square" clip-path="url(#i04)"/>
<polyline points="1955.71,357.31 1956.46,353.77 1957.22,350.41 1957.97,347.20 1958.73,344.13 1959.48,341.19 1960.24,338.36 1960.99,335.63 1961.74,333.00 1962.50,330.45 1963.25,327.98 1964.01,325.59 1964.76,323.27 1965.51,321.01 1966.27,318.81 1967.02,316.66 1967.78,314.57 1968.53,312.53 1969.28,310.54 1970.04,308.59 1970.79,306.69 1971.55,304.82 1972.30,302.99 1973.05,301.20 1973.81,299.44 1974.56,297.72 1975.32,296.02 1976.07,294.36 1976.83,292.72 1977.58,291.12 1978.33,289.54 1979.09,287.98 1979.84,286.45 1980.60,284.95 1981.35,283.46 1982.10,282.00 1982.86,280.56 1983.61,279.14 1984.37,277.74 1985.12,276.36 1985.87,275.00 1986.63,273.66 1987.38,272.33 1988.14,271.02 1988.89,269.72 1989.65,268.45 1990.40,267.19 1991.15,265.94 1991.91,264.71 1992.66,263.49 1993.42,262.28 1994.17,261.09 1994.92,259.91 1995.68,258.75 1996.43,257.60 1997.19,256.45 1997.94,255.33 1998.69,254.21 1999.45,253.10 2000.20,252.01 2000.96,250.92 2001.71,249.85 2002.47,248.79 2003.22,247.73 2003.97,246.69 2004.73,245.66 2005.48,244.63 2006.24,243.62 2006.99,242.61 2007.74,241.61 2008.50,240.62 2009.25,239.64 2010.01,238.67 2010.76,237.71 2011.51,236.75 2012.27,235.81 2013.02,234.87 2013.78,233.93 2014.53,233.01 2015.29,232.09 2016.04,231.18 2016.79,230.28 2017.55,229.38 2018.30,228.49 2019.06,227.61 2019.81,226.73 2020.56,225.86 2021.32,225.00 2022.07,224.14 2022.83,223.29 2023.58,222.44 2024.33,221.60 2025.09,220.77 2025.84,219.94 2026.60,219.12 2027.35,218.30 2028.11,217.49 2028.86,216.68 2029.61,215.88 2030.37,215.09 2031.12,214.30 2031.88,213.51 2032.63,212.73 2033.38,211.96 2034.14,211.19 2034.89,210.43 2035.65,209.66 2036.40,208.91 2037.15,208.16 2037.91,207.41 2038.66,206.67 2039.42,205.93 2040.17,205.20 2040.93,204.47 2041.68,203.75 2042.43,203.03 2043.19,202.31 2043.94,201.60 2044.70,200.89 2045.45,200.18 2046.20,199.48 2046.96,198.79 2047.71,198.10 2048.47,197.41 2049.22,196.72 2049.97,196.04 2050.73,195.36 2051.48,194.69 2052.24,194.02 2052.99,193.35 2053.75,192.69 2054.50,192.03 2055.25,191.38 2056.01,190.72 2056.76,190.07 2057.52,189.43 2058.27,188.78 2059.02,188.15 2059.78,187.51 2060.53,186.88 2061.29,186.25 2062.04,185.62 2062.79,185.00 2063.55,184.37 2064.30,183.76 2065.06,183.14 2065.81,182.53 2066.57,181.92 2067.32,181.32 2068.07,180.71 2068.83,180.11 2069.58,179.52 2070.34,178.92 2071.09,178.33 2071.84,177.74 2072.60,177.15 2073.35,176.57 2074.11,175.99 2074.86,175.41 2075.61,174.83 2076.37,174.26 2077.12,173.69 2077.88,173.12 2078.63,172.56 2079.39,171.99 2080.14,171.43 2080.89,170.87 2081.65,170.32 2082.40,169.76 2083.16,169.21 2083.91,168.66 2084.66,168.12 2085.42,167.57 2086.17,167.03 2086.93,166.49 2087.68,165.96 2088.43,165.42 2089.19,164.89 2089.94,164.36 2090.70,163.83 2091.45,163.30 2092.21,162.78 2092.96,162.26 2093.71,161.74 2094.47,161.22 2095.22,160.70 2095.98,160.19 2096.73,159.68 2097.48,159.17 2098.24,158.66 2098.99,158.15 2099.75,157.65 2100.50,157.15 2101.25,156.65 2102.01,156.15 2102.76,155.66 2103.52,155.16 2104.27,154.67 2105.03,154.18 2105.78,153.69" fill="none" stroke="#ae5450" stroke-width="5.0" stroke-linejoin="round" stroke-linecap="square" clip-path="url(#i04)"/>
<rect x="1960.50" y="103.50" width="136.00" height="136.00" fill="none" stroke="#363636" stroke-width="1.2"/>
<line x1="1969.78" y1="239.00" x2="1969.78" y2="241.00" stroke="#363636" stroke-width="0.9"/>
<text x="1969.78" y="254.50" font-size="13.9" text-anchor="middle" fill="#000">0.05</text>
<line x1="1999.09" y1="239.00" x2="1999.09" y2="241.00" stroke="#363636" stroke-width="0.9"/>
<text x="1999.09" y="254.50" font-size="13.9" text-anchor="middle" fill="#000">0.11</text>
<line x1="2028.40" y1="239.00" x2="2028.40" y2="241.00" stroke="#363636" stroke-width="0.9"/>
<text x="2028.40" y="254.50" font-size="13.9" text-anchor="middle" fill="#000">0.17</text>
<line x1="2057.71" y1="239.00" x2="2057.71" y2="241.00" stroke="#363636" stroke-width="0.9"/>
<text x="2057.71" y="254.50" font-size="13.9" text-anchor="middle" fill="#000">0.24</text>
<line x1="2087.02" y1="239.00" x2="2087.02" y2="241.00" stroke="#363636" stroke-width="0.9"/>
<text x="2087.02" y="254.50" font-size="13.9" text-anchor="middle" fill="#000">0.30</text>
<line x1="1960.40" y1="229.64" x2="1958.40" y2="229.64" stroke="#363636" stroke-width="0.9"/>
<text x="1954.00" y="234.54" font-size="13.9" text-anchor="end" fill="#000">0.60</text>
<line x1="1960.40" y1="200.40" x2="1958.40" y2="200.40" stroke="#363636" stroke-width="0.9"/>
<text x="1954.00" y="205.30" font-size="13.9" text-anchor="end" fill="#000">0.66</text>
<line x1="1960.40" y1="171.15" x2="1958.40" y2="171.15" stroke="#363636" stroke-width="0.9"/>
<text x="1954.00" y="176.05" font-size="13.9" text-anchor="end" fill="#000">0.72</text>
<line x1="1960.40" y1="141.90" x2="1958.40" y2="141.90" stroke="#363636" stroke-width="0.9"/>
<text x="1954.00" y="146.80" font-size="13.9" text-anchor="end" fill="#000">0.79</text>
<line x1="1960.40" y1="112.66" x2="1958.40" y2="112.66" stroke="#363636" stroke-width="0.9"/>
<text x="1954.00" y="117.56" font-size="13.9" text-anchor="end" fill="#000">0.85</text>
<rect x="1855.50" y="304.50" width="249.00" height="68.00" rx="3.5" fill="#fff" fill-opacity="0.85" stroke="#555" stroke-width="1.05"/>
<line x1="1858.91" y1="316.51" x2="1893.31" y2="316.51" stroke="#1fc9ef" stroke-width="5"/>
<text x="1902.71" y="321.51" font-size="14.8" text-anchor="start" fill="#000">10x AUC: 0.834 (0.795-0.872)</text>
<line x1="1858.91" y1="337.86" x2="1893.31" y2="337.86" stroke="#f3c676" stroke-width="5"/>
<text x="1902.71" y="342.86" font-size="14.8" text-anchor="start" fill="#000">20x AUC: 0.828 (0.791-0.864)</text>
<line x1="1858.91" y1="359.21" x2="1893.31" y2="359.21" stroke="#ae5450" stroke-width="5"/>
<text x="1902.71" y="364.21" font-size="14.8" text-anchor="start" fill="#000">40x AUC: 0.792 (0.752-0.833)</text>
<clipPath id="c10"><rect x="118.40" y="472.80" width="334.91" height="334.91"/></clipPath>
<line x1="134.05" y1="807.71" x2="134.05" y2="810.21" stroke="#363636" stroke-width="1"/>
<line x1="118.40" y1="792.06" x2="115.90" y2="792.06" stroke="#363636" stroke-width="1"/>
<text x="134.05" y="828.91" font-size="21" text-anchor="middle" fill="#000">0.0</text>
<text x="112.60" y="799.56" font-size="21" text-anchor="end" fill="#000">0.0</text>
<line x1="196.65" y1="807.71" x2="196.65" y2="810.21" stroke="#363636" stroke-width="1"/>
<line x1="118.40" y1="729.46" x2="115.90" y2="729.46" stroke="#363636" stroke-width="1"/>
<text x="196.65" y="828.91" font-size="21" text-anchor="middle" fill="#000">0.2</text>
<text x="112.60" y="736.96" font-size="21" text-anchor="end" fill="#000">0.2</text>
<line x1="259.25" y1="807.71" x2="259.25" y2="810.21" stroke="#363636" stroke-width="1"/>
<line x1="118.40" y1="666.86" x2="115.90" y2="666.86" stroke="#363636" stroke-width="1"/>
<text x="259.25" y="828.91" font-size="21" text-anchor="middle" fill="#000">0.4</text>
<text x="112.60" y="674.36" font-size="21" text-anchor="end" fill="#000">0.4</text>
<line x1="321.85" y1="807.71" x2="321.85" y2="810.21" stroke="#363636" stroke-width="1"/>
<line x1="118.40" y1="604.26" x2="115.90" y2="604.26" stroke="#363636" stroke-width="1"/>
<text x="321.85" y="828.91" font-size="21" text-anchor="middle" fill="#000">0.6</text>
<text x="112.60" y="611.76" font-size="21" text-anchor="end" fill="#000">0.6</text>
<line x1="384.45" y1="807.71" x2="384.45" y2="810.21" stroke="#363636" stroke-width="1"/>
<line x1="118.40" y1="541.66" x2="115.90" y2="541.66" stroke="#363636" stroke-width="1"/>
<text x="384.45" y="828.91" font-size="21" text-anchor="middle" fill="#000">0.8</text>
<text x="112.60" y="549.16" font-size="21" text-anchor="end" fill="#000">0.8</text>
<line x1="447.05" y1="807.71" x2="447.05" y2="810.21" stroke="#363636" stroke-width="1"/>
<line x1="118.40" y1="479.06" x2="115.90" y2="479.06" stroke="#363636" stroke-width="1"/>
<text x="447.05" y="828.91" font-size="21" text-anchor="middle" fill="#000">1.0</text>
<text x="112.60" y="486.56" font-size="21" text-anchor="end" fill="#000">1.0</text>
<text x="285.86" y="853.71" font-size="23" text-anchor="middle" fill="#000">1-Specificity</text>
<text x="76.40" y="643.25" font-size="23" text-anchor="middle" transform="rotate(-90 76.40 643.25)" fill="#000">Sensitivity</text>
<line x1="134.05" y1="792.06" x2="447.05" y2="479.06" stroke="#9a9a9a" stroke-width="1.75" stroke-dasharray="5.9,2.6"/>
<polyline points="134.05,792.06 134.05,789.37 134.05,789.02 134.05,788.63 134.05,788.19 134.05,787.69 134.05,787.14 134.05,786.52 134.05,785.83 134.05,785.05 134.05,784.19 134.05,783.23 134.05,782.16 134.06,780.97 134.06,779.66 134.06,778.19 134.06,776.58 134.06,774.79 134.07,772.81 134.07,770.63 134.08,768.24 134.09,765.60 134.09,762.71 134.11,759.55 134.12,756.09 134.14,752.31 134.16,748.20 134.20,743.73 134.23,738.89 134.28,733.64 134.35,727.99 134.42,721.90 134.52,715.36 134.65,708.36 134.81,700.89 135.01,692.94 135.27,684.51 135.59,675.61 136.00,666.24 136.52,656.43 137.18,646.19 137.24,645.32 138.28,632.60 139.31,622.35 140.35,613.78 141.39,606.41 142.42,599.95 143.46,594.22 144.50,589.07 145.53,584.40 146.57,580.13 147.60,576.21 148.64,572.58 149.68,569.21 150.71,566.07 151.75,563.13 152.78,560.38 153.82,557.78 154.86,555.33 155.89,553.01 156.93,550.81 157.97,548.72 159.00,546.74 160.04,544.84 161.07,543.03 162.11,541.31 163.15,539.65 164.18,538.07 165.22,536.55 166.25,535.09 167.29,533.68 168.33,532.33 169.36,531.03 170.40,529.78 171.44,528.57 172.47,527.40 173.51,526.27 174.54,525.18 175.58,524.13 176.62,523.11 177.65,522.12 178.69,521.16 179.72,520.24 180.76,519.33 181.80,518.46 182.83,517.61 183.87,516.79 184.91,515.99 185.94,515.21 186.98,514.46 188.01,513.72 189.05,513.00 190.09,512.31 191.12,511.63 192.16,510.97 193.19,510.32 194.23,509.69 195.27,509.08 196.30,508.49 197.34,507.90 198.38,507.34 199.41,506.78 200.45,506.24 201.48,505.71 202.52,505.19 203.56,504.69 204.59,504.20 205.63,503.72 206.66,503.24 207.70,502.78 208.74,502.33 209.77,501.89 210.81,501.46 211.85,501.04 212.88,500.63 213.92,500.23 214.95,499.83 215.99,499.44 217.03,499.07 218.06,498.70 219.10,498.33 220.13,497.98 221.17,497.63 222.21,497.29 223.24,496.95 224.28,496.62 225.31,496.30 226.35,495.99 227.39,495.68 228.42,495.37 229.46,495.08 230.50,494.79 231.53,494.50 232.57,494.22 233.60,493.94 234.64,493.67 235.68,493.41 236.71,493.15 237.75,492.90 238.78,492.64 239.82,492.40 240.86,492.16 241.89,491.92 242.93,491.69 243.97,491.46 245.00,491.24 246.04,491.02 247.07,490.80 248.11,490.59 249.15,490.38 250.18,490.17 251.22,489.97 252.25,489.78 253.29,489.58 254.33,489.39 255.36,489.20 256.40,489.02 257.44,488.84 258.47,488.66 259.51,488.49 260.54,488.31 261.58,488.15 262.62,487.98 263.65,487.82 264.69,487.66 265.72,487.50 266.76,487.34 267.80,487.19 268.83,487.04 269.87,486.90 270.91,486.75 271.94,486.61 272.98,486.47 274.01,486.33 275.05,486.20 276.09,486.06 277.12,485.93 278.16,485.80 279.19,485.68 280.23,485.55 281.27,485.43 282.30,485.31 283.34,485.19 284.38,485.08 285.41,484.96 286.45,484.85 287.48,484.74 288.52,484.63 289.56,484.52 290.59,484.42 291.63,484.32 292.66,484.21 293.70,484.11 294.74,484.02 295.77,483.92 296.81,483.82 297.85,483.73 298.88,483.64 299.92,483.55 300.95,483.46 301.99,483.37 303.03,483.28 304.06,483.20 305.10,483.12 306.13,483.03 307.17,482.95 308.21,482.87 309.24,482.80 310.28,482.72 311.31,482.64 312.35,482.57 313.39,482.50 314.42,482.43 315.46,482.36 316.50,482.29 317.53,482.22 318.57,482.15 319.60,482.08 320.64,482.02 321.68,481.96 322.71,481.89 323.75,481.83 324.78,481.77 325.82,481.71 326.86,481.65 327.89,481.60 328.93,481.54 329.97,481.48 331.00,481.43 332.04,481.37 333.07,481.32 334.11,481.27 335.15,481.22 336.18,481.17 337.22,481.12 338.25,481.07 339.29,481.02 340.33,480.98 341.36,480.93 342.40,480.89 343.44,480.84 344.47,480.80 345.51,480.76 346.54,480.71 347.58,480.67 348.62,480.63 349.65,480.59 350.69,480.55 351.72,480.51 352.76,480.48 353.80,480.44 354.83,480.40 355.87,480.37 356.91,480.33 357.94,480.30 358.98,480.27 360.01,480.23 361.05,480.20 362.09,480.17 363.12,480.14 364.16,480.11 365.19,480.08 366.23,480.05 367.27,480.02 368.30,479.99 369.34,479.96 370.38,479.94 371.41,479.91 372.45,479.88 373.48,479.86 374.52,479.83 375.56,479.81 376.59,479.78 377.63,479.76 378.66,479.74 379.70,479.72 380.74,479.69 381.77,479.67 382.81,479.65 383.85,479.63 384.88,479.61 385.92,479.59 386.95,479.57 387.99,479.55 389.03,479.53 390.06,479.52 391.10,479.50 392.13,479.48 393.17,479.47 394.21,479.45 395.24,479.43 396.28,479.42 397.32,479.40 398.35,479.39 399.39,479.37 400.42,479.36 401.46,479.35 402.50,479.33 403.53,479.32 404.57,479.31 405.60,479.30 406.64,479.28 407.68,479.27 408.71,479.26 409.75,479.25 410.78,479.24 411.82,479.23 412.86,479.22 413.89,479.21 414.93,479.20 415.97,479.19 417.00,479.19 418.04,479.18 419.07,479.17 420.11,479.16 421.15,479.15 422.18,479.15 423.22,479.14 424.25,479.13 425.29,479.13 426.33,479.12 427.36,479.12 428.40,479.11 429.44,479.11 430.47,479.10 431.51,479.10 432.54,479.09 433.58,479.09 434.62,479.08 435.65,479.08 436.69,479.08 437.72,479.08 438.76,479.07 439.80,479.07 440.83,479.07 441.87,479.07 442.91,479.06 443.94,479.06 444.98,479.06 446.01,479.06 447.05,479.06" fill="none" stroke="#1fc9ef" stroke-width="5.0" stroke-linejoin="round" stroke-linecap="square" clip-path="url(#c10)"/>
<polyline points="134.05,792.06 134.05,791.88 134.05,791.84 134.05,791.79 134.05,791.72 134.05,791.65 134.05,791.56 134.05,791.45 134.05,791.31 134.05,791.15 134.05,790.96 134.05,790.73 134.05,790.44 134.06,790.11 134.06,789.71 134.06,789.23 134.06,788.66 134.06,787.98 134.07,787.18 134.07,786.24 134.08,785.13 134.09,783.82 134.09,782.29 134.11,780.51 134.12,778.43 134.14,776.02 134.16,773.23 134.20,770.03 134.23,766.35 134.28,762.15 134.35,757.37 134.42,751.96 134.52,745.87 134.65,739.04 134.81,731.42 135.01,722.97 135.27,713.67 135.59,703.48 136.00,692.41 136.52,680.47 137.18,667.70 137.24,666.59 138.28,650.33 139.31,637.01 140.35,625.76 141.39,616.04 142.42,607.51 143.46,599.93 144.50,593.14 145.53,587.00 146.57,581.41 147.60,576.29 148.64,571.59 149.68,567.24 150.71,563.21 151.75,559.47 152.78,555.97 153.82,552.70 154.86,549.64 155.89,546.76 156.93,544.05 157.97,541.49 159.00,539.08 160.04,536.80 161.07,534.63 162.11,532.58 163.15,530.63 164.18,528.77 165.22,527.01 166.25,525.32 167.29,523.72 168.33,522.18 169.36,520.72 170.40,519.32 171.44,517.98 172.47,516.69 173.51,515.46 174.54,514.28 175.58,513.15 176.62,512.06 177.65,511.02 178.69,510.01 179.72,509.05 180.76,508.12 181.80,507.22 182.83,506.36 183.87,505.53 184.91,504.73 185.94,503.96 186.98,503.21 188.01,502.49 189.05,501.80 190.09,501.13 191.12,500.48 192.16,499.86 193.19,499.25 194.23,498.67 195.27,498.10 196.30,497.55 197.34,497.02 198.38,496.51 199.41,496.02 200.45,495.54 201.48,495.07 202.52,494.62 203.56,494.18 204.59,493.76 205.63,493.35 206.66,492.95 207.70,492.57 208.74,492.19 209.77,491.83 210.81,491.48 211.85,491.13 212.88,490.80 213.92,490.48 214.95,490.17 215.99,489.86 217.03,489.57 218.06,489.28 219.10,489.00 220.13,488.73 221.17,488.47 222.21,488.21 223.24,487.97 224.28,487.73 225.31,487.49 226.35,487.26 227.39,487.04 228.42,486.83 229.46,486.62 230.50,486.41 231.53,486.21 232.57,486.02 233.60,485.83 234.64,485.65 235.68,485.47 236.71,485.30 237.75,485.13 238.78,484.97 239.82,484.81 240.86,484.65 241.89,484.50 242.93,484.36 243.97,484.21 245.00,484.07 246.04,483.94 247.07,483.81 248.11,483.68 249.15,483.55 250.18,483.43 251.22,483.31 252.25,483.20 253.29,483.08 254.33,482.97 255.36,482.87 256.40,482.76 257.44,482.66 258.47,482.56 259.51,482.47 260.54,482.38 261.58,482.28 262.62,482.20 263.65,482.11 264.69,482.02 265.72,481.94 266.76,481.86 267.80,481.79 268.83,481.71 269.87,481.64 270.91,481.56 271.94,481.49 272.98,481.43 274.01,481.36 275.05,481.29 276.09,481.23 277.12,481.17 278.16,481.11 279.19,481.05 280.23,481.00 281.27,480.94 282.30,480.89 283.34,480.83 284.38,480.78 285.41,480.73 286.45,480.68 287.48,480.64 288.52,480.59 289.56,480.55 290.59,480.50 291.63,480.46 292.66,480.42 293.70,480.38 294.74,480.34 295.77,480.30 296.81,480.26 297.85,480.23 298.88,480.19 299.92,480.16 300.95,480.13 301.99,480.09 303.03,480.06 304.06,480.03 305.10,480.00 306.13,479.97 307.17,479.94 308.21,479.92 309.24,479.89 310.28,479.86 311.31,479.84 312.35,479.81 313.39,479.79 314.42,479.77 315.46,479.74 316.50,479.72 317.53,479.70 318.57,479.68 319.60,479.66 320.64,479.64 321.68,479.62 322.71,479.60 323.75,479.58 324.78,479.57 325.82,479.55 326.86,479.53 327.89,479.52 328.93,479.50 329.97,479.48 331.00,479.47 332.04,479.46 333.07,479.44 334.11,479.43 335.15,479.41 336.18,479.40 337.22,479.39 338.25,479.38 339.29,479.37 340.33,479.35 341.36,479.34 342.40,479.33 343.44,479.32 344.47,479.31 345.51,479.30 346.54,479.29 347.58,479.29 348.62,479.28 349.65,479.27 350.69,479.26 351.72,479.25 352.76,479.24 353.80,479.24 354.83,479.23 355.87,479.22 356.91,479.22 357.94,479.21 358.98,479.20 360.01,479.20 361.05,479.19 362.09,479.19 363.12,479.18 364.16,479.17 365.19,479.17 366.23,479.16 367.27,479.16 368.30,479.16 369.34,479.15 370.38,479.15 371.41,479.14 372.45,479.14 373.48,479.13 374.52,479.13 375.56,479.13 376.59,479.12 377.63,479.12 378.66,479.12 379.70,479.11 380.74,479.11 381.77,479.11 382.81,479.11 383.85,479.10 384.88,479.10 385.92,479.10 386.95,479.10 387.99,479.10 389.03,479.09 390.06,479.09 391.10,479.09 392.13,479.09 393.17,479.09 394.21,479.08 395.24,479.08 396.28,479.08 397.32,479.08 398.35,479.08 399.39,479.08 400.42,479.08 401.46,479.07 402.50,479.07 403.53,479.07 404.57,479.07 405.60,479.07 406.64,479.07 407.68,479.07 408.71,479.07 409.75,479.07 410.78,479.07 411.82,479.07 412.86,479.07 413.89,479.07 414.93,479.06 415.97,479.06 417.00,479.06 418.04,479.06 419.07,479.06 420.11,479.06 421.15,479.06 422.18,479.06 423.22,479.06 424.25,479.06 425.29,479.06 426.33,479.06 427.36,479.06 428.40,479.06 429.44,479.06 430.47,479.06 431.51,479.06 432.54,479.06 433.58,479.06 434.62,479.06 435.65,479.06 436.69,479.06 437.72,479.06 438.76,479.06 439.80,479.06 440.83,479.06 441.87,479.06 442.91,479.06 443.94,479.06 444.98,479.06 446.01,479.06 447.05,479.06" fill="none" stroke="#f3c676" stroke-width="5.0" stroke-linejoin="round" stroke-linecap="square" clip-path="url(#c10)"/>
<polyline points="134.05,792.06 134.05,791.88 134.05,791.84 134.05,791.79 134.05,791.72 134.05,791.65 134.05,791.56 134.05,791.45 134.05,791.31 134.05,791.15 134.05,790.96 134.05,790.73 134.05,790.44 134.06,790.11 134.06,789.71 134.06,789.23 134.06,788.66 134.06,787.98 134.07,787.18 134.07,786.24 134.08,785.13 134.09,783.82 134.09,782.29 134.11,780.51 134.12,778.43 134.14,776.02 134.16,773.23 134.20,770.03 134.23,766.35 134.28,762.15 134.35,757.37 134.42,751.96 134.52,745.87 134.65,739.04 134.81,731.42 135.01,722.97 135.27,713.67 135.59,703.48 136.00,692.41 136.52,680.47 137.18,667.70 137.24,666.59 138.28,650.33 139.31,637.01 140.35,625.76 141.39,616.04 142.42,607.51 143.46,599.93 144.50,593.14 145.53,587.00 146.57,581.41 147.60,576.29 148.64,571.59 149.68,567.24 150.71,563.21 151.75,559.47 152.78,555.97 153.82,552.70 154.86,549.64 155.89,546.76 156.93,544.05 157.97,541.49 159.00,539.08 160.04,536.80 161.07,534.63 162.11,532.58 163.15,530.63 164.18,528.77 165.22,527.01 166.25,525.32 167.29,523.72 168.33,522.18 169.36,520.72 170.40,519.32 171.44,517.98 172.47,516.69 173.51,515.46 174.54,514.28 175.58,513.15 176.62,512.06 177.65,511.02 178.69,510.01 179.72,509.05 180.76,508.12 181.80,507.22 182.83,506.36 183.87,505.53 184.91,504.73 185.94,503.96 186.98,503.21 188.01,502.49 189.05,501.80 190.09,501.13 191.12,500.48 192.16,499.86 193.19,499.25 194.23,498.67 195.27,498.10 196.30,497.55 197.34,497.02 198.38,496.51 199.41,496.02 200.45,495.54 201.48,495.07 202.52,494.62 203.56,494.18 204.59,493.76 205.63,493.35 206.66,492.95 207.70,492.57 208.74,492.19 209.77,491.83 210.81,491.48 211.85,491.13 212.88,490.80 213.92,490.48 214.95,490.17 215.99,489.86 217.03,489.57 218.06,489.28 219.10,489.00 220.13,488.73 221.17,488.47 222.21,488.21 223.24,487.97 224.28,487.73 225.31,487.49 226.35,487.26 227.39,487.04 228.42,486.83 229.46,486.62 230.50,486.41 231.53,486.21 232.57,486.02 233.60,485.83 234.64,485.65 235.68,485.47 236.71,485.30 237.75,485.13 238.78,484.97 239.82,484.81 240.86,484.65 241.89,484.50 242.93,484.36 243.97,484.21 245.00,484.07 246.04,483.94 247.07,483.81 248.11,483.68 249.15,483.55 250.18,483.43 251.22,483.31 252.25,483.20 253.29,483.08 254.33,482.97 255.36,482.87 256.40,482.76 257.44,482.66 258.47,482.56 259.51,482.47 260.54,482.38 261.58,482.28 262.62,482.20 263.65,482.11 264.69,482.02 265.72,481.94 266.76,481.86 267.80,481.79 268.83,481.71 269.87,481.64 270.91,481.56 271.94,481.49 272.98,481.43 274.01,481.36 275.05,481.29 276.09,481.23 277.12,481.17 278.16,481.11 279.19,481.05 280.23,481.00 281.27,480.94 282.30,480.89 283.34,480.83 284.38,480.78 285.41,480.73 286.45,480.68 287.48,480.64 288.52,480.59 289.56,480.55 290.59,480.50 291.63,480.46 292.66,480.42 293.70,480.38 294.74,480.34 295.77,480.30 296.81,480.26 297.85,480.23 298.88,480.19 299.92,480.16 300.95,480.13 301.99,480.09 303.03,480.06 304.06,480.03 305.10,480.00 306.13,479.97 307.17,479.94 308.21,479.92 309.24,479.89 310.28,479.86 311.31,479.84 312.35,479.81 313.39,479.79 314.42,479.77 315.46,479.74 316.50,479.72 317.53,479.70 318.57,479.68 319.60,479.66 320.64,479.64 321.68,479.62 322.71,479.60 323.75,479.58 324.78,479.57 325.82,479.55 326.86,479.53 327.89,479.52 328.93,479.50 329.97,479.48 331.00,479.47 332.04,479.46 333.07,479.44 334.11,479.43 335.15,479.41 336.18,479.40 337.22,479.39 338.25,479.38 339.29,479.37 340.33,479.35 341.36,479.34 342.40,479.33 343.44,479.32 344.47,479.31 345.51,479.30 346.54,479.29 347.58,479.29 348.62,479.28 349.65,479.27 350.69,479.26 351.72,479.25 352.76,479.24 353.80,479.24 354.83,479.23 355.87,479.22 356.91,479.22 357.94,479.21 358.98,479.20 360.01,479.20 361.05,479.19 362.09,479.19 363.12,479.18 364.16,479.17 365.19,479.17 366.23,479.16 367.27,479.16 368.30,479.16 369.34,479.15 370.38,479.15 371.41,479.14 372.45,479.14 373.48,479.13 374.52,479.13 375.56,479.13 376.59,479.12 377.63,479.12 378.66,479.12 379.70,479.11 380.74,479.11 381.77,479.11 382.81,479.11 383.85,479.10 384.88,479.10 385.92,479.10 386.95,479.10 387.99,479.10 389.03,479.09 390.06,479.09 391.10,479.09 392.13,479.09 393.17,479.09 394.21,479.08 395.24,479.08 396.28,479.08 397.32,479.08 398.35,479.08 399.39,479.08 400.42,479.08 401.46,479.07 402.50,479.07 403.53,479.07 404.57,479.07 405.60,479.07 406.64,479.07 407.68,479.07 408.71,479.07 409.75,479.07 410.78,479.07 411.82,479.07 412.86,479.07 413.89,479.07 414.93,479.06 415.97,479.06 417.00,479.06 418.04,479.06 419.07,479.06 420.11,479.06 421.15,479.06 422.18,479.06 423.22,479.06 424.25,479.06 425.29,479.06 426.33,479.06 427.36,479.06 428.40,479.06 429.44,479.06 430.47,479.06 431.51,479.06 432.54,479.06 433.58,479.06 434.62,479.06 435.65,479.06 436.69,479.06 437.72,479.06 438.76,479.06 439.80,479.06 440.83,479.06 441.87,479.06 442.91,479.06 443.94,479.06 444.98,479.06 446.01,479.06 447.05,479.06" fill="none" stroke="#ae5450" stroke-width="5.0" stroke-linejoin="round" stroke-linecap="square" clip-path="url(#c10)"/>
<rect x="118.50" y="472.50" width="335.00" height="335.00" fill="none" stroke="#363636" stroke-width="1.25"/>
<rect x="301.60" y="530.80" width="136.00" height="135.70" fill="#fff" stroke="none"/>
<clipPath id="i10"><rect x="301.60" y="530.80" width="136.00" height="135.70"/></clipPath>
<polyline points="296.91,752.16 297.66,744.32 298.42,737.02 299.17,730.21 299.93,723.83 300.68,717.84 301.44,712.19 302.19,706.86 302.94,701.82 303.70,697.03 304.45,692.49 305.21,688.17 305.96,684.05 306.71,680.12 307.47,676.36 308.22,672.77 308.98,669.33 309.73,666.03 310.48,662.86 311.24,659.81 311.99,656.88 312.75,654.06 313.50,651.35 314.25,648.73 315.01,646.20 315.76,643.76 316.52,641.40 317.27,639.11 318.03,636.90 318.78,634.77 319.53,632.69 320.29,630.68 321.04,628.74 321.80,626.85 322.55,625.01 323.30,623.23 324.06,621.50 324.81,619.81 325.57,618.17 326.32,616.58 327.07,615.03 327.83,613.52 328.58,612.04 329.34,610.61 330.09,609.21 330.85,607.85 331.60,606.52 332.35,605.22 333.11,603.95 333.86,602.72 334.62,601.51 335.37,600.33 336.12,599.18 336.88,598.05 337.63,596.95 338.39,595.87 339.14,594.81 339.89,593.78 340.65,592.77 341.40,591.78 342.16,590.82 342.91,589.87 343.67,588.94 344.42,588.03 345.17,587.14 345.93,586.26 346.68,585.41 347.44,584.57 348.19,583.74 348.94,582.94 349.70,582.14 350.45,581.36 351.21,580.60 351.96,579.85 352.71,579.12 353.47,578.39 354.22,577.69 354.98,576.99 355.73,576.30 356.49,575.63 357.24,574.97 357.99,574.32 358.75,573.68 359.50,573.06 360.26,572.44 361.01,571.83 361.76,571.24 362.52,570.65 363.27,570.07 364.03,569.51 364.78,568.95 365.53,568.40 366.29,567.86 367.04,567.32 367.80,566.80 368.55,566.28 369.31,565.78 370.06,565.28 370.81,564.78 371.57,564.30 372.32,563.82 373.08,563.35 373.83,562.89 374.58,562.43 375.34,561.98 376.09,561.54 376.85,561.10 377.60,560.67 378.35,560.24 379.11,559.83 379.86,559.41 380.62,559.01 381.37,558.60 382.13,558.21 382.88,557.82 383.63,557.43 384.39,557.05 385.14,556.68 385.90,556.31 386.65,555.95 387.40,555.59 388.16,555.23 388.91,554.88 389.67,554.53 390.42,554.19 391.17,553.86 391.93,553.52 392.68,553.20 393.44,552.87 394.19,552.55 394.95,552.24 395.70,551.92 396.45,551.62 397.21,551.31 397.96,551.01 398.72,550.72 399.47,550.42 400.22,550.13 400.98,549.85 401.73,549.56 402.49,549.28 403.24,549.01 403.99,548.74 404.75,548.47 405.50,548.20 406.26,547.94 407.01,547.68 407.77,547.42 408.52,547.17 409.27,546.92 410.03,546.67 410.78,546.42 411.54,546.18 412.29,545.94 413.04,545.70 413.80,545.47 414.55,545.24 415.31,545.01 416.06,544.78 416.81,544.56 417.57,544.33 418.32,544.11 419.08,543.90 419.83,543.68 420.59,543.47 421.34,543.26 422.09,543.05 422.85,542.85 423.60,542.64 424.36,542.44 425.11,542.24 425.86,542.05 426.62,541.85 427.37,541.66 428.13,541.47 428.88,541.28 429.63,541.09 430.39,540.91 431.14,540.72 431.90,540.54 432.65,540.36 433.41,540.18 434.16,540.01 434.91,539.83 435.67,539.66 436.42,539.49 437.18,539.32 437.93,539.16 438.68,538.99 439.44,538.83 440.19,538.66 440.95,538.50 441.70,538.34 442.45,538.18 443.21,538.03 443.96,537.87 444.72,537.72 445.47,537.57 446.23,537.42 446.98,537.27" fill="none" stroke="#1fc9ef" stroke-width="5.0" stroke-linejoin="round" stroke-linecap="square" clip-path="url(#i10)"/>
<polyline points="296.91,741.86 297.66,733.95 298.42,726.57 299.17,719.65 299.93,713.15 300.68,707.04 301.44,701.26 302.19,695.79 302.94,690.61 303.70,685.69 304.45,681.00 305.21,676.54 305.96,672.28 306.71,668.21 307.47,664.31 308.22,660.58 308.98,657.00 309.73,653.57 310.48,650.27 311.24,647.10 311.99,644.04 312.75,641.10 313.50,638.26 314.25,635.52 315.01,632.88 315.76,630.33 316.52,627.86 317.27,625.48 318.03,623.17 318.78,620.93 319.53,618.76 320.29,616.66 321.04,614.63 321.80,612.65 322.55,610.74 323.30,608.87 324.06,607.06 324.81,605.31 325.57,603.60 326.32,601.94 327.07,600.32 327.83,598.75 328.58,597.21 329.34,595.72 330.09,594.27 330.85,592.85 331.60,591.47 332.35,590.13 333.11,588.82 333.86,587.54 334.62,586.29 335.37,585.07 336.12,583.88 336.88,582.72 337.63,581.58 338.39,580.47 339.14,579.39 339.89,578.33 340.65,577.29 341.40,576.28 342.16,575.29 342.91,574.32 343.67,573.38 344.42,572.45 345.17,571.54 345.93,570.66 346.68,569.79 347.44,568.94 348.19,568.10 348.94,567.29 349.70,566.49 350.45,565.70 351.21,564.94 351.96,564.18 352.71,563.45 353.47,562.72 354.22,562.02 354.98,561.32 355.73,560.64 356.49,559.97 357.24,559.32 357.99,558.67 358.75,558.04 359.50,557.42 360.26,556.82 361.01,556.22 361.76,555.63 362.52,555.06 363.27,554.49 364.03,553.94 364.78,553.40 365.53,552.86 366.29,552.34 367.04,551.82 367.80,551.31 368.55,550.82 369.31,550.33 370.06,549.85 370.81,549.37 371.57,548.91 372.32,548.45 373.08,548.00 373.83,547.56 374.58,547.13 375.34,546.70 376.09,546.28 376.85,545.87 377.60,545.47 378.35,545.07 379.11,544.67 379.86,544.29 380.62,543.91 381.37,543.53 382.13,543.17 382.88,542.81 383.63,542.45 384.39,542.10 385.14,541.75 385.90,541.42 386.65,541.08 387.40,540.75 388.16,540.43 388.91,540.11 389.67,539.80 390.42,539.49 391.17,539.18 391.93,538.88 392.68,538.59 393.44,538.30 394.19,538.01 394.95,537.73 395.70,537.45 396.45,537.18 397.21,536.91 397.96,536.65 398.72,536.38 399.47,536.13 400.22,535.87 400.98,535.62 401.73,535.38 402.49,535.13 403.24,534.89 403.99,534.66 404.75,534.43 405.50,534.20 406.26,533.97 407.01,533.75 407.77,533.53 408.52,533.31 409.27,533.10 410.03,532.89 410.78,532.68 411.54,532.48 412.29,532.28 413.04,532.08 413.80,531.88 414.55,531.69 415.31,531.50 416.06,531.31 416.81,531.13 417.57,530.94 418.32,530.76 419.08,530.59 419.83,530.41 420.59,530.24 421.34,530.07 422.09,529.90 422.85,529.73 423.60,529.57 424.36,529.41 425.11,529.25 425.86,529.09 426.62,528.94 427.37,528.78 428.13,528.63 428.88,528.48 429.63,528.34 430.39,528.19 431.14,528.05 431.90,527.91 432.65,527.77 433.41,527.63 434.16,527.50 434.91,527.36 435.67,527.23 436.42,527.10 437.18,526.97 437.93,526.84 438.68,526.72 439.44,526.59 440.19,526.47 440.95,526.35 441.70,526.23 442.45,526.12 443.21,526.00 443.96,525.89 444.72,525.77 445.47,525.66 446.23,525.55 446.98,525.44" fill="none" stroke="#f3c676" stroke-width="5.0" stroke-linejoin="round" stroke-linecap="square" clip-path="url(#i10)"/>
<polyline points="296.91,747.74 297.66,739.43 298.42,731.69 299.17,724.43 299.93,717.62 300.68,711.22 301.44,705.17 302.19,699.45 302.94,694.04 303.70,688.90 304.45,684.01 305.21,679.36 305.96,674.92 306.71,670.69 307.47,666.64 308.22,662.76 308.98,659.05 309.73,655.49 310.48,652.07 311.24,648.79 311.99,645.63 312.75,642.59 313.50,639.67 314.25,636.84 315.01,634.12 315.76,631.50 316.52,628.96 317.27,626.51 318.03,624.13 318.78,621.84 319.53,619.62 320.29,617.47 321.04,615.39 321.80,613.37 322.55,611.41 323.30,609.51 324.06,607.66 324.81,605.87 325.57,604.13 326.32,602.43 327.07,600.79 327.83,599.19 328.58,597.63 329.34,596.12 330.09,594.64 330.85,593.21 331.60,591.81 332.35,590.45 333.11,589.12 333.86,587.82 334.62,586.56 335.37,585.33 336.12,584.13 336.88,582.95 337.63,581.81 338.39,580.69 339.14,579.60 339.89,578.53 340.65,577.49 341.40,576.47 342.16,575.48 342.91,574.50 343.67,573.55 344.42,572.62 345.17,571.71 345.93,570.82 346.68,569.95 347.44,569.10 348.19,568.26 348.94,567.44 349.70,566.64 350.45,565.86 351.21,565.09 351.96,564.34 352.71,563.60 353.47,562.88 354.22,562.17 354.98,561.48 355.73,560.80 356.49,560.13 357.24,559.48 357.99,558.84 358.75,558.21 359.50,557.59 360.26,556.98 361.01,556.39 361.76,555.81 362.52,555.23 363.27,554.67 364.03,554.12 364.78,553.58 365.53,553.05 366.29,552.53 367.04,552.01 367.80,551.51 368.55,551.02 369.31,550.53 370.06,550.05 370.81,549.58 371.57,549.12 372.32,548.67 373.08,548.22 373.83,547.79 374.58,547.36 375.34,546.93 376.09,546.52 376.85,546.11 377.60,545.71 378.35,545.31 379.11,544.92 379.86,544.54 380.62,544.17 381.37,543.80 382.13,543.43 382.88,543.07 383.63,542.72 384.39,542.37 385.14,542.03 385.90,541.70 386.65,541.37 387.40,541.04 388.16,540.72 388.91,540.41 389.67,540.10 390.42,539.79 391.17,539.49 391.93,539.19 392.68,538.90 393.44,538.61 394.19,538.33 394.95,538.05 395.70,537.78 396.45,537.51 397.21,537.24 397.96,536.98 398.72,536.72 399.47,536.47 400.22,536.22 400.98,535.97 401.73,535.72 402.49,535.48 403.24,535.25 403.99,535.01 404.75,534.78 405.50,534.56 406.26,534.34 407.01,534.12 407.77,533.90 408.52,533.68 409.27,533.47 410.03,533.27 410.78,533.06 411.54,532.86 412.29,532.66 413.04,532.46 413.80,532.27 414.55,532.08 415.31,531.89 416.06,531.70 416.81,531.52 417.57,531.34 418.32,531.16 419.08,530.99 419.83,530.81 420.59,530.64 421.34,530.47 422.09,530.31 422.85,530.14 423.60,529.98 424.36,529.82 425.11,529.66 425.86,529.51 426.62,529.35 427.37,529.20 428.13,529.05 428.88,528.90 429.63,528.76 430.39,528.61 431.14,528.47 431.90,528.33 432.65,528.19 433.41,528.06 434.16,527.92 434.91,527.79 435.67,527.66 436.42,527.53 437.18,527.40 437.93,527.28 438.68,527.15 439.44,527.03 440.19,526.91 440.95,526.79 441.70,526.67 442.45,526.55 443.21,526.44 443.96,526.32 444.72,526.21 445.47,526.10 446.23,525.99 446.98,525.88" fill="none" stroke="#ae5450" stroke-width="5.0" stroke-linejoin="round" stroke-linecap="square" clip-path="url(#i10)"/>
<rect x="301.50" y="530.50" width="136.00" height="136.00" fill="none" stroke="#363636" stroke-width="1.2"/>
<line x1="310.98" y1="666.50" x2="310.98" y2="668.50" stroke="#363636" stroke-width="0.9"/>
<text x="310.98" y="682.00" font-size="13.9" text-anchor="middle" fill="#000">0.05</text>
<line x1="340.29" y1="666.50" x2="340.29" y2="668.50" stroke="#363636" stroke-width="0.9"/>
<text x="340.29" y="682.00" font-size="13.9" text-anchor="middle" fill="#000">0.11</text>
<line x1="369.60" y1="666.50" x2="369.60" y2="668.50" stroke="#363636" stroke-width="0.9"/>
<text x="369.60" y="682.00" font-size="13.9" text-anchor="middle" fill="#000">0.17</text>
<line x1="398.91" y1="666.50" x2="398.91" y2="668.50" stroke="#363636" stroke-width="0.9"/>
<text x="398.91" y="682.00" font-size="13.9" text-anchor="middle" fill="#000">0.24</text>
<line x1="428.22" y1="666.50" x2="428.22" y2="668.50" stroke="#363636" stroke-width="0.9"/>
<text x="428.22" y="682.00" font-size="13.9" text-anchor="middle" fill="#000">0.30</text>
<line x1="301.60" y1="657.14" x2="299.60" y2="657.14" stroke="#363636" stroke-width="0.9"/>
<text x="295.20" y="662.04" font-size="13.9" text-anchor="end" fill="#000">0.70</text>
<line x1="301.60" y1="627.90" x2="299.60" y2="627.90" stroke="#363636" stroke-width="0.9"/>
<text x="295.20" y="632.80" font-size="13.9" text-anchor="end" fill="#000">0.76</text>
<line x1="301.60" y1="598.65" x2="299.60" y2="598.65" stroke="#363636" stroke-width="0.9"/>
<text x="295.20" y="603.55" font-size="13.9" text-anchor="end" fill="#000">0.82</text>
<line x1="301.60" y1="569.40" x2="299.60" y2="569.40" stroke="#363636" stroke-width="0.9"/>
<text x="295.20" y="574.30" font-size="13.9" text-anchor="end" fill="#000">0.89</text>
<line x1="301.60" y1="540.16" x2="299.60" y2="540.16" stroke="#363636" stroke-width="0.9"/>
<text x="295.20" y="545.06" font-size="13.9" text-anchor="end" fill="#000">0.95</text>
<rect x="196.50" y="732.50" width="250.00" height="68.00" rx="3.5" fill="#fff" fill-opacity="0.85" stroke="#555" stroke-width="1.05"/>
<line x1="200.11" y1="744.01" x2="234.51" y2="744.01" stroke="#1fc9ef" stroke-width="5"/>
<text x="243.91" y="749.01" font-size="14.8" text-anchor="start" fill="#000">10x AUC: 0.939 (0.917-0.962)</text>
<line x1="200.11" y1="765.36" x2="234.51" y2="765.36" stroke="#f3c676" stroke-width="5"/>
<text x="243.91" y="770.36" font-size="14.8" text-anchor="start" fill="#000">20x AUC: 0.950 (0.929-0.972)</text>
<line x1="200.11" y1="786.71" x2="234.51" y2="786.71" stroke="#ae5450" stroke-width="5"/>
<text x="243.91" y="791.71" font-size="14.8" text-anchor="start" fill="#000">40x AUC: 0.953 (0.932-0.975)</text>
<clipPath id="c11"><rect x="532.90" y="472.80" width="334.91" height="334.91"/></clipPath>
<line x1="548.55" y1="807.71" x2="548.55" y2="810.21" stroke="#363636" stroke-width="1"/>
<line x1="532.90" y1="792.06" x2="530.40" y2="792.06" stroke="#363636" stroke-width="1"/>
<text x="548.55" y="828.91" font-size="21" text-anchor="middle" fill="#000">0.0</text>
<text x="527.10" y="799.56" font-size="21" text-anchor="end" fill="#000">0.0</text>
<line x1="611.15" y1="807.71" x2="611.15" y2="810.21" stroke="#363636" stroke-width="1"/>
<line x1="532.90" y1="729.46" x2="530.40" y2="729.46" stroke="#363636" stroke-width="1"/>
<text x="611.15" y="828.91" font-size="21" text-anchor="middle" fill="#000">0.2</text>
<text x="527.10" y="736.96" font-size="21" text-anchor="end" fill="#000">0.2</text>
<line x1="673.75" y1="807.71" x2="673.75" y2="810.21" stroke="#363636" stroke-width="1"/>
<line x1="532.90" y1="666.86" x2="530.40" y2="666.86" stroke="#363636" stroke-width="1"/>
<text x="673.75" y="828.91" font-size="21" text-anchor="middle" fill="#000">0.4</text>
<text x="527.10" y="674.36" font-size="21" text-anchor="end" fill="#000">0.4</text>
<line x1="736.35" y1="807.71" x2="736.35" y2="810.21" stroke="#363636" stroke-width="1"/>
<line x1="532.90" y1="604.26" x2="530.40" y2="604.26" stroke="#363636" stroke-width="1"/>
<text x="736.35" y="828.91" font-size="21" text-anchor="middle" fill="#000">0.6</text>
<text x="527.10" y="611.76" font-size="21" text-anchor="end" fill="#000">0.6</text>
<line x1="798.95" y1="807.71" x2="798.95" y2="810.21" stroke="#363636" stroke-width="1"/>
<line x1="532.90" y1="541.66" x2="530.40" y2="541.66" stroke="#363636" stroke-width="1"/>
<text x="798.95" y="828.91" font-size="21" text-anchor="middle" fill="#000">0.8</text>
<text x="527.10" y="549.16" font-size="21" text-anchor="end" fill="#000">0.8</text>
<line x1="861.55" y1="807.71" x2="861.55" y2="810.21" stroke="#363636" stroke-width="1"/>
<line x1="532.90" y1="479.06" x2="530.40" y2="479.06" stroke="#363636" stroke-width="1"/>
<text x="861.55" y="828.91" font-size="21" text-anchor="middle" fill="#000">1.0</text>
<text x="527.10" y="486.56" font-size="21" text-anchor="end" fill="#000">1.0</text>
<text x="700.36" y="853.71" font-size="23" text-anchor="middle" fill="#000">1-Specificity</text>
<line x1="548.55" y1="792.06" x2="861.55" y2="479.06" stroke="#9a9a9a" stroke-width="1.75" stroke-dasharray="5.9,2.6"/>
<polyline points="548.55,792.06 548.55,790.15 548.55,789.88 548.55,789.58 548.55,789.24 548.55,788.86 548.55,788.42 548.55,787.93 548.55,787.38 548.55,786.76 548.55,786.06 548.55,785.28 548.55,784.40 548.56,783.41 548.56,782.31 548.56,781.08 548.56,779.70 548.56,778.17 548.57,776.46 548.57,774.57 548.58,772.47 548.59,770.15 548.59,767.57 548.61,764.74 548.62,761.61 548.64,758.18 548.66,754.41 548.70,750.28 548.73,745.77 548.78,740.86 548.85,735.52 548.92,729.73 549.02,723.47 549.15,716.72 549.31,709.46 549.51,701.69 549.77,693.40 550.09,684.57 550.50,675.23 551.02,665.37 551.68,655.03 551.74,654.14 552.78,641.19 553.81,630.69 554.85,621.86 555.89,614.24 556.92,607.54 557.96,601.57 559.00,596.20 560.03,591.31 561.07,586.84 562.10,582.72 563.14,578.91 564.18,575.37 565.21,572.05 566.25,568.95 567.28,566.04 568.32,563.29 569.36,560.69 570.39,558.23 571.43,555.90 572.47,553.68 573.50,551.57 574.54,549.55 575.57,547.63 576.61,545.79 577.65,544.03 578.68,542.34 579.72,540.71 580.75,539.15 581.79,537.65 582.83,536.21 583.86,534.82 584.90,533.48 585.94,532.18 586.97,530.93 588.01,529.73 589.04,528.56 590.08,527.43 591.12,526.33 592.15,525.27 593.19,524.25 594.22,523.25 595.26,522.29 596.30,521.35 597.33,520.44 598.37,519.55 599.41,518.69 600.44,517.86 601.48,517.04 602.51,516.25 603.55,515.48 604.59,514.73 605.62,514.00 606.66,513.29 607.69,512.60 608.73,511.92 609.77,511.26 610.80,510.62 611.84,509.99 612.88,509.38 613.91,508.79 614.95,508.20 615.98,507.63 617.02,507.08 618.06,506.53 619.09,506.00 620.13,505.48 621.16,504.98 622.20,504.48 623.24,504.00 624.27,503.52 625.31,503.06 626.35,502.60 627.38,502.16 628.42,501.72 629.45,501.30 630.49,500.88 631.53,500.47 632.56,500.07 633.60,499.68 634.63,499.30 635.67,498.92 636.71,498.55 637.74,498.19 638.78,497.84 639.81,497.49 640.85,497.15 641.89,496.82 642.92,496.49 643.96,496.17 645.00,495.86 646.03,495.55 647.07,495.25 648.10,494.95 649.14,494.66 650.18,494.38 651.21,494.10 652.25,493.82 653.28,493.55 654.32,493.29 655.36,493.03 656.39,492.77 657.43,492.52 658.47,492.28 659.50,492.04 660.54,491.80 661.57,491.57 662.61,491.34 663.65,491.11 664.68,490.89 665.72,490.68 666.75,490.46 667.79,490.25 668.83,490.05 669.86,489.85 670.90,489.65 671.94,489.46 672.97,489.26 674.01,489.08 675.04,488.89 676.08,488.71 677.12,488.53 678.15,488.36 679.19,488.18 680.22,488.02 681.26,487.85 682.30,487.69 683.33,487.52 684.37,487.37 685.41,487.21 686.44,487.06 687.48,486.91 688.51,486.76 689.55,486.62 690.59,486.47 691.62,486.33 692.66,486.20 693.69,486.06 694.73,485.93 695.77,485.80 696.80,485.67 697.84,485.54 698.88,485.42 699.91,485.29 700.95,485.17 701.98,485.05 703.02,484.94 704.06,484.82 705.09,484.71 706.13,484.60 707.16,484.49 708.20,484.38 709.24,484.28 710.27,484.18 711.31,484.07 712.35,483.97 713.38,483.88 714.42,483.78 715.45,483.68 716.49,483.59 717.53,483.50 718.56,483.41 719.60,483.32 720.63,483.23 721.67,483.15 722.71,483.06 723.74,482.98 724.78,482.90 725.81,482.82 726.85,482.74 727.89,482.66 728.92,482.58 729.96,482.51 731.00,482.43 732.03,482.36 733.07,482.29 734.10,482.22 735.14,482.15 736.18,482.08 737.21,482.02 738.25,481.95 739.28,481.89 740.32,481.82 741.36,481.76 742.39,481.70 743.43,481.64 744.47,481.58 745.50,481.53 746.54,481.47 747.57,481.41 748.61,481.36 749.65,481.30 750.68,481.25 751.72,481.20 752.75,481.15 753.79,481.10 754.83,481.05 755.86,481.00 756.90,480.95 757.94,480.90 758.97,480.86 760.01,480.81 761.04,480.77 762.08,480.73 763.12,480.68 764.15,480.64 765.19,480.60 766.22,480.56 767.26,480.52 768.30,480.48 769.33,480.44 770.37,480.41 771.41,480.37 772.44,480.33 773.48,480.30 774.51,480.26 775.55,480.23 776.59,480.20 777.62,480.16 778.66,480.13 779.69,480.10 780.73,480.07 781.77,480.04 782.80,480.01 783.84,479.98 784.88,479.95 785.91,479.93 786.95,479.90 787.98,479.87 789.02,479.85 790.06,479.82 791.09,479.80 792.13,479.77 793.16,479.75 794.20,479.73 795.24,479.70 796.27,479.68 797.31,479.66 798.35,479.64 799.38,479.62 800.42,479.60 801.45,479.58 802.49,479.56 803.53,479.54 804.56,479.52 805.60,479.50 806.63,479.48 807.67,479.47 808.71,479.45 809.74,479.43 810.78,479.42 811.82,479.40 812.85,479.39 813.89,479.37 814.92,479.36 815.96,479.35 817.00,479.33 818.03,479.32 819.07,479.31 820.10,479.29 821.14,479.28 822.18,479.27 823.21,479.26 824.25,479.25 825.28,479.24 826.32,479.23 827.36,479.22 828.39,479.21 829.43,479.20 830.47,479.19 831.50,479.18 832.54,479.17 833.57,479.17 834.61,479.16 835.65,479.15 836.68,479.14 837.72,479.14 838.75,479.13 839.79,479.13 840.83,479.12 841.86,479.11 842.90,479.11 843.94,479.10 844.97,479.10 846.01,479.09 847.04,479.09 848.08,479.09 849.12,479.08 850.15,479.08 851.19,479.08 852.22,479.07 853.26,479.07 854.30,479.07 855.33,479.07 856.37,479.07 857.41,479.06 858.44,479.06 859.48,479.06 860.51,479.06 861.55,479.06" fill="none" stroke="#1fc9ef" stroke-width="5.0" stroke-linejoin="round" stroke-linecap="square" clip-path="url(#c11)"/>
<polyline points="548.55,792.06 548.55,791.94 548.55,791.91 548.55,791.88 548.55,791.83 548.55,791.78 548.55,791.71 548.55,791.63 548.55,791.53 548.55,791.41 548.55,791.26 548.55,791.08 548.55,790.87 548.56,790.60 548.56,790.28 548.56,789.90 548.56,789.44 548.56,788.88 548.57,788.22 548.57,787.42 548.58,786.48 548.59,785.36 548.59,784.04 548.61,782.48 548.62,780.65 548.64,778.50 548.66,776.00 548.70,773.09 548.73,769.72 548.78,765.84 548.85,761.38 548.92,756.29 549.02,750.50 549.15,743.97 549.31,736.61 549.51,728.40 549.77,719.28 550.09,709.23 550.50,698.22 551.02,686.27 551.68,673.41 551.74,672.29 552.78,655.79 553.81,642.20 554.85,630.67 555.89,620.68 556.92,611.89 557.96,604.07 559.00,597.04 560.03,590.68 561.07,584.88 562.10,579.57 563.14,574.68 564.18,570.16 565.21,565.97 566.25,562.07 567.28,558.43 568.32,555.03 569.36,551.84 570.39,548.84 571.43,546.01 572.47,543.35 573.50,540.83 574.54,538.45 575.57,536.20 576.61,534.06 577.65,532.02 578.68,530.09 579.72,528.25 580.75,526.50 581.79,524.83 582.83,523.23 583.86,521.71 584.90,520.25 585.94,518.85 586.97,517.52 588.01,516.24 589.04,515.01 590.08,513.83 591.12,512.70 592.15,511.62 593.19,510.58 594.22,509.57 595.26,508.61 596.30,507.68 597.33,506.79 598.37,505.93 599.41,505.10 600.44,504.30 601.48,503.53 602.51,502.79 603.55,502.07 604.59,501.38 605.62,500.71 606.66,500.06 607.69,499.44 608.73,498.84 609.77,498.25 610.80,497.69 611.84,497.15 612.88,496.62 613.91,496.11 614.95,495.61 615.98,495.14 617.02,494.67 618.06,494.22 619.09,493.79 620.13,493.37 621.16,492.96 622.20,492.57 623.24,492.18 624.27,491.81 625.31,491.45 626.35,491.10 627.38,490.76 628.42,490.43 629.45,490.11 630.49,489.80 631.53,489.50 632.56,489.21 633.60,488.93 634.63,488.65 635.67,488.39 636.71,488.13 637.74,487.87 638.78,487.63 639.81,487.39 640.85,487.16 641.89,486.94 642.92,486.72 643.96,486.51 645.00,486.30 646.03,486.10 647.07,485.90 648.10,485.72 649.14,485.53 650.18,485.35 651.21,485.18 652.25,485.01 653.28,484.84 654.32,484.68 655.36,484.53 656.39,484.38 657.43,484.23 658.47,484.09 659.50,483.95 660.54,483.81 661.57,483.68 662.61,483.55 663.65,483.42 664.68,483.30 665.72,483.18 666.75,483.07 667.79,482.96 668.83,482.85 669.86,482.74 670.90,482.64 671.94,482.54 672.97,482.44 674.01,482.35 675.04,482.25 676.08,482.16 677.12,482.07 678.15,481.99 679.19,481.91 680.22,481.83 681.26,481.75 682.30,481.67 683.33,481.59 684.37,481.52 685.41,481.45 686.44,481.38 687.48,481.32 688.51,481.25 689.55,481.19 690.59,481.13 691.62,481.07 692.66,481.01 693.69,480.95 694.73,480.89 695.77,480.84 696.80,480.79 697.84,480.74 698.88,480.69 699.91,480.64 700.95,480.59 701.98,480.55 703.02,480.50 704.06,480.46 705.09,480.42 706.13,480.37 707.16,480.33 708.20,480.30 709.24,480.26 710.27,480.22 711.31,480.18 712.35,480.15 713.38,480.12 714.42,480.08 715.45,480.05 716.49,480.02 717.53,479.99 718.56,479.96 719.60,479.93 720.63,479.90 721.67,479.88 722.71,479.85 723.74,479.83 724.78,479.80 725.81,479.78 726.85,479.75 727.89,479.73 728.92,479.71 729.96,479.69 731.00,479.67 732.03,479.65 733.07,479.63 734.10,479.61 735.14,479.59 736.18,479.57 737.21,479.55 738.25,479.54 739.28,479.52 740.32,479.50 741.36,479.49 742.39,479.47 743.43,479.46 744.47,479.44 745.50,479.43 746.54,479.42 747.57,479.40 748.61,479.39 749.65,479.38 750.68,479.37 751.72,479.36 752.75,479.34 753.79,479.33 754.83,479.32 755.86,479.31 756.90,479.30 757.94,479.29 758.97,479.28 760.01,479.28 761.04,479.27 762.08,479.26 763.12,479.25 764.15,479.24 765.19,479.24 766.22,479.23 767.26,479.22 768.30,479.21 769.33,479.21 770.37,479.20 771.41,479.20 772.44,479.19 773.48,479.18 774.51,479.18 775.55,479.17 776.59,479.17 777.62,479.16 778.66,479.16 779.69,479.15 780.73,479.15 781.77,479.15 782.80,479.14 783.84,479.14 784.88,479.13 785.91,479.13 786.95,479.13 787.98,479.12 789.02,479.12 790.06,479.12 791.09,479.11 792.13,479.11 793.16,479.11 794.20,479.11 795.24,479.10 796.27,479.10 797.31,479.10 798.35,479.10 799.38,479.09 800.42,479.09 801.45,479.09 802.49,479.09 803.53,479.09 804.56,479.09 805.60,479.08 806.63,479.08 807.67,479.08 808.71,479.08 809.74,479.08 810.78,479.08 811.82,479.08 812.85,479.07 813.89,479.07 814.92,479.07 815.96,479.07 817.00,479.07 818.03,479.07 819.07,479.07 820.10,479.07 821.14,479.07 822.18,479.07 823.21,479.07 824.25,479.07 825.28,479.07 826.32,479.07 827.36,479.06 828.39,479.06 829.43,479.06 830.47,479.06 831.50,479.06 832.54,479.06 833.57,479.06 834.61,479.06 835.65,479.06 836.68,479.06 837.72,479.06 838.75,479.06 839.79,479.06 840.83,479.06 841.86,479.06 842.90,479.06 843.94,479.06 844.97,479.06 846.01,479.06 847.04,479.06 848.08,479.06 849.12,479.06 850.15,479.06 851.19,479.06 852.22,479.06 853.26,479.06 854.30,479.06 855.33,479.06 856.37,479.06 857.41,479.06 858.44,479.06 859.48,479.06 860.51,479.06 861.55,479.06" fill="none" stroke="#f3c676" stroke-width="5.0" stroke-linejoin="round" stroke-linecap="square" clip-path="url(#c11)"/>
<polyline points="548.55,792.06 548.55,791.99 548.55,791.98 548.55,791.95 548.55,791.92 548.55,791.89 548.55,791.84 548.55,791.79 548.55,791.71 548.55,791.63 548.55,791.52 548.55,791.38 548.55,791.21 548.56,791.00 548.56,790.75 548.56,790.43 548.56,790.05 548.56,789.58 548.57,789.01 548.57,788.31 548.58,787.47 548.59,786.46 548.59,785.25 548.61,783.79 548.62,782.06 548.64,780.00 548.66,777.56 548.70,774.70 548.73,771.35 548.78,767.43 548.85,762.90 548.92,757.67 549.02,751.67 549.15,744.84 549.31,737.10 549.51,728.41 549.77,718.70 550.09,707.96 550.50,696.18 551.02,683.37 551.68,669.58 551.74,668.38 552.78,650.73 553.81,636.25 554.85,624.02 555.89,613.48 556.92,604.25 557.96,596.09 559.00,588.79 560.03,582.21 561.07,576.25 562.10,570.82 563.14,565.85 564.18,561.28 565.21,557.06 566.25,553.15 567.28,549.52 568.32,546.14 569.36,542.99 570.39,540.04 571.43,537.28 572.47,534.69 573.50,532.25 574.54,529.95 575.57,527.79 576.61,525.74 577.65,523.81 578.68,521.97 579.72,520.24 580.75,518.59 581.79,517.03 582.83,515.54 583.86,514.13 584.90,512.78 585.94,511.50 586.97,510.27 588.01,509.11 589.04,507.99 590.08,506.93 591.12,505.91 592.15,504.93 593.19,504.00 594.22,503.11 595.26,502.25 596.30,501.44 597.33,500.65 598.37,499.90 599.41,499.17 600.44,498.48 601.48,497.81 602.51,497.17 603.55,496.55 604.59,495.96 605.62,495.39 606.66,494.84 607.69,494.31 608.73,493.80 609.77,493.31 610.80,492.84 611.84,492.39 612.88,491.95 613.91,491.53 614.95,491.12 615.98,490.73 617.02,490.35 618.06,489.98 619.09,489.63 620.13,489.29 621.16,488.96 622.20,488.64 623.24,488.34 624.27,488.04 625.31,487.76 626.35,487.48 627.38,487.21 628.42,486.95 629.45,486.70 630.49,486.46 631.53,486.23 632.56,486.00 633.60,485.78 634.63,485.57 635.67,485.37 636.71,485.17 637.74,484.98 638.78,484.79 639.81,484.61 640.85,484.44 641.89,484.27 642.92,484.11 643.96,483.95 645.00,483.80 646.03,483.65 647.07,483.51 648.10,483.37 649.14,483.23 650.18,483.10 651.21,482.98 652.25,482.85 653.28,482.73 654.32,482.62 655.36,482.51 656.39,482.40 657.43,482.30 658.47,482.19 659.50,482.10 660.54,482.00 661.57,481.91 662.61,481.82 663.65,481.73 664.68,481.65 665.72,481.57 666.75,481.49 667.79,481.41 668.83,481.34 669.86,481.26 670.90,481.19 671.94,481.13 672.97,481.06 674.01,481.00 675.04,480.94 676.08,480.88 677.12,480.82 678.15,480.76 679.19,480.71 680.22,480.65 681.26,480.60 682.30,480.55 683.33,480.50 684.37,480.46 685.41,480.41 686.44,480.37 687.48,480.33 688.51,480.28 689.55,480.24 690.59,480.21 691.62,480.17 692.66,480.13 693.69,480.10 694.73,480.06 695.77,480.03 696.80,480.00 697.84,479.96 698.88,479.93 699.91,479.91 700.95,479.88 701.98,479.85 703.02,479.82 704.06,479.80 705.09,479.77 706.13,479.75 707.16,479.72 708.20,479.70 709.24,479.68 710.27,479.66 711.31,479.64 712.35,479.62 713.38,479.60 714.42,479.58 715.45,479.56 716.49,479.54 717.53,479.52 718.56,479.51 719.60,479.49 720.63,479.48 721.67,479.46 722.71,479.45 723.74,479.43 724.78,479.42 725.81,479.41 726.85,479.39 727.89,479.38 728.92,479.37 729.96,479.36 731.00,479.35 732.03,479.33 733.07,479.32 734.10,479.31 735.14,479.30 736.18,479.30 737.21,479.29 738.25,479.28 739.28,479.27 740.32,479.26 741.36,479.25 742.39,479.24 743.43,479.24 744.47,479.23 745.50,479.22 746.54,479.22 747.57,479.21 748.61,479.20 749.65,479.20 750.68,479.19 751.72,479.19 752.75,479.18 753.79,479.18 754.83,479.17 755.86,479.17 756.90,479.16 757.94,479.16 758.97,479.15 760.01,479.15 761.04,479.14 762.08,479.14 763.12,479.14 764.15,479.13 765.19,479.13 766.22,479.13 767.26,479.12 768.30,479.12 769.33,479.12 770.37,479.12 771.41,479.11 772.44,479.11 773.48,479.11 774.51,479.11 775.55,479.10 776.59,479.10 777.62,479.10 778.66,479.10 779.69,479.09 780.73,479.09 781.77,479.09 782.80,479.09 783.84,479.09 784.88,479.09 785.91,479.09 786.95,479.08 787.98,479.08 789.02,479.08 790.06,479.08 791.09,479.08 792.13,479.08 793.16,479.08 794.20,479.08 795.24,479.07 796.27,479.07 797.31,479.07 798.35,479.07 799.38,479.07 800.42,479.07 801.45,479.07 802.49,479.07 803.53,479.07 804.56,479.07 805.60,479.07 806.63,479.07 807.67,479.07 808.71,479.07 809.74,479.07 810.78,479.07 811.82,479.06 812.85,479.06 813.89,479.06 814.92,479.06 815.96,479.06 817.00,479.06 818.03,479.06 819.07,479.06 820.10,479.06 821.14,479.06 822.18,479.06 823.21,479.06 824.25,479.06 825.28,479.06 826.32,479.06 827.36,479.06 828.39,479.06 829.43,479.06 830.47,479.06 831.50,479.06 832.54,479.06 833.57,479.06 834.61,479.06 835.65,479.06 836.68,479.06 837.72,479.06 838.75,479.06 839.79,479.06 840.83,479.06 841.86,479.06 842.90,479.06 843.94,479.06 844.97,479.06 846.01,479.06 847.04,479.06 848.08,479.06 849.12,479.06 850.15,479.06 851.19,479.06 852.22,479.06 853.26,479.06 854.30,479.06 855.33,479.06 856.37,479.06 857.41,479.06 858.44,479.06 859.48,479.06 860.51,479.06 861.55,479.06" fill="none" stroke="#ae5450" stroke-width="5.0" stroke-linejoin="round" stroke-linecap="square" clip-path="url(#c11)"/>
<rect x="532.50" y="472.50" width="335.00" height="335.00" fill="none" stroke="#363636" stroke-width="1.25"/>
<rect x="716.10" y="530.80" width="136.00" height="135.70" fill="#fff" stroke="none"/>
<clipPath id="i11"><rect x="716.10" y="530.80" width="136.00" height="135.70"/></clipPath>
<polyline points="711.41,759.72 712.16,751.72 712.92,744.27 713.67,737.31 714.43,730.78 715.18,724.65 715.94,718.86 716.69,713.40 717.44,708.23 718.20,703.32 718.95,698.66 719.71,694.23 720.46,690.00 721.21,685.96 721.97,682.11 722.72,678.41 723.48,674.88 724.23,671.48 724.98,668.23 725.74,665.10 726.49,662.09 727.25,659.19 728.00,656.39 728.75,653.70 729.51,651.10 730.26,648.58 731.02,646.16 731.77,643.81 732.53,641.54 733.28,639.33 734.03,637.20 734.79,635.14 735.54,633.13 736.30,631.19 737.05,629.30 737.80,627.46 738.56,625.68 739.31,623.95 740.07,622.26 740.82,620.62 741.57,619.03 742.33,617.47 743.08,615.96 743.84,614.48 744.59,613.04 745.35,611.64 746.10,610.27 746.85,608.94 747.61,607.63 748.36,606.36 749.12,605.12 749.87,603.90 750.62,602.71 751.38,601.55 752.13,600.42 752.89,599.31 753.64,598.23 754.39,597.16 755.15,596.13 755.90,595.11 756.66,594.11 757.41,593.14 758.17,592.18 758.92,591.25 759.67,590.33 760.43,589.43 761.18,588.55 761.94,587.68 762.69,586.84 763.44,586.00 764.20,585.19 764.95,584.39 765.71,583.60 766.46,582.83 767.21,582.08 767.97,581.33 768.72,580.60 769.48,579.89 770.23,579.18 770.99,578.49 771.74,577.81 772.49,577.14 773.25,576.49 774.00,575.84 774.76,575.21 775.51,574.58 776.26,573.97 777.02,573.37 777.77,572.77 778.53,572.19 779.28,571.61 780.03,571.05 780.79,570.49 781.54,569.94 782.30,569.40 783.05,568.87 783.81,568.35 784.56,567.84 785.31,567.33 786.07,566.83 786.82,566.34 787.58,565.86 788.33,565.38 789.08,564.91 789.84,564.45 790.59,563.99 791.35,563.54 792.10,563.10 792.85,562.66 793.61,562.23 794.36,561.80 795.12,561.38 795.87,560.97 796.63,560.56 797.38,560.16 798.13,559.77 798.89,559.38 799.64,558.99 800.40,558.61 801.15,558.23 801.90,557.86 802.66,557.50 803.41,557.14 804.17,556.78 804.92,556.43 805.67,556.08 806.43,555.74 807.18,555.40 807.94,555.07 808.69,554.74 809.45,554.42 810.20,554.09 810.95,553.78 811.71,553.46 812.46,553.15 813.22,552.85 813.97,552.55 814.72,552.25 815.48,551.95 816.23,551.66 816.99,551.38 817.74,551.09 818.49,550.81 819.25,550.53 820.00,550.26 820.76,549.99 821.51,549.72 822.27,549.46 823.02,549.19 823.77,548.94 824.53,548.68 825.28,548.43 826.04,548.18 826.79,547.93 827.54,547.69 828.30,547.44 829.05,547.20 829.81,546.97 830.56,546.73 831.31,546.50 832.07,546.27 832.82,546.05 833.58,545.82 834.33,545.60 835.09,545.38 835.84,545.17 836.59,544.95 837.35,544.74 838.10,544.53 838.86,544.32 839.61,544.12 840.36,543.92 841.12,543.71 841.87,543.52 842.63,543.32 843.38,543.12 844.13,542.93 844.89,542.74 845.64,542.55 846.40,542.36 847.15,542.18 847.91,542.00 848.66,541.81 849.41,541.63 850.17,541.46 850.92,541.28 851.68,541.10 852.43,540.93 853.18,540.76 853.94,540.59 854.69,540.42 855.45,540.26 856.20,540.09 856.95,539.93 857.71,539.77 858.46,539.61 859.22,539.45 859.97,539.29 860.73,539.14 861.48,538.98" fill="none" stroke="#1fc9ef" stroke-width="5.0" stroke-linejoin="round" stroke-linecap="square" clip-path="url(#i11)"/>
<polyline points="711.41,779.34 712.16,768.95 712.92,759.23 713.67,750.12 714.43,741.57 715.18,733.53 715.94,725.96 716.69,718.80 717.44,712.04 718.20,705.65 718.95,699.58 719.71,693.82 720.46,688.35 721.21,683.15 721.97,678.19 722.72,673.47 723.48,668.96 724.23,664.65 724.98,660.53 725.74,656.59 726.49,652.81 727.25,649.19 728.00,645.72 728.75,642.39 729.51,639.19 730.26,636.11 731.02,633.15 731.77,630.31 732.53,627.56 733.28,624.92 734.03,622.37 734.79,619.92 735.54,617.54 736.30,615.25 737.05,613.04 737.80,610.90 738.56,608.83 739.31,606.83 740.07,604.89 740.82,603.02 741.57,601.20 742.33,599.44 743.08,597.74 743.84,596.08 744.59,594.48 745.35,592.92 746.10,591.41 746.85,589.94 747.61,588.52 748.36,587.13 749.12,585.79 749.87,584.48 750.62,583.20 751.38,581.97 752.13,580.76 752.89,579.59 753.64,578.45 754.39,577.33 755.15,576.25 755.90,575.19 756.66,574.17 757.41,573.16 758.17,572.19 758.92,571.23 759.67,570.30 760.43,569.39 761.18,568.51 761.94,567.64 762.69,566.80 763.44,565.98 764.20,565.17 764.95,564.39 765.71,563.62 766.46,562.87 767.21,562.13 767.97,561.42 768.72,560.71 769.48,560.03 770.23,559.36 770.99,558.70 771.74,558.06 772.49,557.43 773.25,556.82 774.00,556.22 774.76,555.63 775.51,555.05 776.26,554.48 777.02,553.93 777.77,553.39 778.53,552.86 779.28,552.34 780.03,551.83 780.79,551.33 781.54,550.84 782.30,550.36 783.05,549.89 783.81,549.43 784.56,548.97 785.31,548.53 786.07,548.09 786.82,547.66 787.58,547.25 788.33,546.83 789.08,546.43 789.84,546.03 790.59,545.64 791.35,545.26 792.10,544.89 792.85,544.52 793.61,544.16 794.36,543.80 795.12,543.45 795.87,543.11 796.63,542.77 797.38,542.44 798.13,542.12 798.89,541.80 799.64,541.48 800.40,541.17 801.15,540.87 801.90,540.57 802.66,540.28 803.41,539.99 804.17,539.71 804.92,539.43 805.67,539.15 806.43,538.88 807.18,538.62 807.94,538.36 808.69,538.10 809.45,537.85 810.20,537.60 810.95,537.35 811.71,537.11 812.46,536.88 813.22,536.64 813.97,536.41 814.72,536.19 815.48,535.96 816.23,535.74 816.99,535.53 817.74,535.32 818.49,535.11 819.25,534.90 820.00,534.70 820.76,534.50 821.51,534.30 822.27,534.11 823.02,533.92 823.77,533.73 824.53,533.54 825.28,533.36 826.04,533.18 826.79,533.00 827.54,532.83 828.30,532.65 829.05,532.48 829.81,532.32 830.56,532.15 831.31,531.99 832.07,531.83 832.82,531.67 833.58,531.51 834.33,531.36 835.09,531.21 835.84,531.06 836.59,530.91 837.35,530.76 838.10,530.62 838.86,530.48 839.61,530.34 840.36,530.20 841.12,530.07 841.87,529.93 842.63,529.80 843.38,529.67 844.13,529.54 844.89,529.41 845.64,529.29 846.40,529.16 847.15,529.04 847.91,528.92 848.66,528.80 849.41,528.68 850.17,528.57 850.92,528.45 851.68,528.34 852.43,528.23 853.18,528.12 853.94,528.01 854.69,527.90 855.45,527.79 856.20,527.69 856.95,527.59 857.71,527.48 858.46,527.38 859.22,527.28 859.97,527.19 860.73,527.09 861.48,526.99" fill="none" stroke="#f3c676" stroke-width="5.0" stroke-linejoin="round" stroke-linecap="square" clip-path="url(#i11)"/>
<polyline points="711.41,739.44 712.16,730.94 712.92,723.02 713.67,715.61 714.43,708.66 715.18,702.12 715.94,695.95 716.69,690.12 717.44,684.61 718.20,679.38 718.95,674.41 719.71,669.68 720.46,665.18 721.21,660.89 721.97,656.79 722.72,652.87 723.48,649.11 724.23,645.52 724.98,642.07 725.74,638.76 726.49,635.58 727.25,632.52 728.00,629.58 728.75,626.75 729.51,624.02 730.26,621.39 731.02,618.86 731.77,616.41 732.53,614.04 733.28,611.76 734.03,609.55 734.79,607.41 735.54,605.34 736.30,603.34 737.05,601.40 737.80,599.52 738.56,597.70 739.31,595.93 740.07,594.22 740.82,592.55 741.57,590.94 742.33,589.37 743.08,587.84 743.84,586.36 744.59,584.92 745.35,583.52 746.10,582.16 746.85,580.83 747.61,579.54 748.36,578.28 749.12,577.06 749.87,575.87 750.62,574.71 751.38,573.57 752.13,572.47 752.89,571.39 753.64,570.35 754.39,569.32 755.15,568.32 755.90,567.35 756.66,566.40 757.41,565.47 758.17,564.57 758.92,563.68 759.67,562.82 760.43,561.97 761.18,561.15 761.94,560.34 762.69,559.55 763.44,558.78 764.20,558.03 764.95,557.29 765.71,556.57 766.46,555.87 767.21,555.18 767.97,554.50 768.72,553.84 769.48,553.20 770.23,552.57 770.99,551.95 771.74,551.34 772.49,550.75 773.25,550.17 774.00,549.60 774.76,549.04 775.51,548.50 776.26,547.96 777.02,547.44 777.77,546.92 778.53,546.42 779.28,545.92 780.03,545.44 780.79,544.97 781.54,544.50 782.30,544.05 783.05,543.60 783.81,543.16 784.56,542.73 785.31,542.31 786.07,541.89 786.82,541.49 787.58,541.09 788.33,540.70 789.08,540.31 789.84,539.94 790.59,539.57 791.35,539.20 792.10,538.85 792.85,538.50 793.61,538.15 794.36,537.82 795.12,537.48 795.87,537.16 796.63,536.84 797.38,536.53 798.13,536.22 798.89,535.92 799.64,535.62 800.40,535.33 801.15,535.04 801.90,534.76 802.66,534.48 803.41,534.21 804.17,533.94 804.92,533.68 805.67,533.42 806.43,533.16 807.18,532.91 807.94,532.67 808.69,532.43 809.45,532.19 810.20,531.95 810.95,531.73 811.71,531.50 812.46,531.28 813.22,531.06 813.97,530.84 814.72,530.63 815.48,530.43 816.23,530.22 816.99,530.02 817.74,529.82 818.49,529.63 819.25,529.44 820.00,529.25 820.76,529.06 821.51,528.88 822.27,528.70 823.02,528.53 823.77,528.35 824.53,528.18 825.28,528.01 826.04,527.85 826.79,527.69 827.54,527.53 828.30,527.37 829.05,527.21 829.81,527.06 830.56,526.91 831.31,526.76 832.07,526.62 832.82,526.47 833.58,526.33 834.33,526.19 835.09,526.06 835.84,525.92 836.59,525.79 837.35,525.66 838.10,525.53 838.86,525.40 839.61,525.28 840.36,525.15 841.12,525.03 841.87,524.91 842.63,524.80 843.38,524.68 844.13,524.57 844.89,524.45 845.64,524.34 846.40,524.23 847.15,524.13 847.91,524.02 848.66,523.92 849.41,523.82 850.17,523.71 850.92,523.61 851.68,523.52 852.43,523.42 853.18,523.32 853.94,523.23 854.69,523.14 855.45,523.05 856.20,522.96 856.95,522.87 857.71,522.78 858.46,522.70 859.22,522.61 859.97,522.53 860.73,522.45 861.48,522.37" fill="none" stroke="#ae5450" stroke-width="5.0" stroke-linejoin="round" stroke-linecap="square" clip-path="url(#i11)"/>
<rect x="716.50" y="530.50" width="136.00" height="136.00" fill="none" stroke="#363636" stroke-width="1.2"/>
<line x1="725.48" y1="666.50" x2="725.48" y2="668.50" stroke="#363636" stroke-width="0.9"/>
<text x="725.48" y="682.00" font-size="13.9" text-anchor="middle" fill="#000">0.05</text>
<line x1="754.79" y1="666.50" x2="754.79" y2="668.50" stroke="#363636" stroke-width="0.9"/>
<text x="754.79" y="682.00" font-size="13.9" text-anchor="middle" fill="#000">0.11</text>
<line x1="784.10" y1="666.50" x2="784.10" y2="668.50" stroke="#363636" stroke-width="0.9"/>
<text x="784.10" y="682.00" font-size="13.9" text-anchor="middle" fill="#000">0.17</text>
<line x1="813.41" y1="666.50" x2="813.41" y2="668.50" stroke="#363636" stroke-width="0.9"/>
<text x="813.41" y="682.00" font-size="13.9" text-anchor="middle" fill="#000">0.24</text>
<line x1="842.72" y1="666.50" x2="842.72" y2="668.50" stroke="#363636" stroke-width="0.9"/>
<text x="842.72" y="682.00" font-size="13.9" text-anchor="middle" fill="#000">0.30</text>
<line x1="716.10" y1="657.14" x2="714.10" y2="657.14" stroke="#363636" stroke-width="0.9"/>
<text x="709.70" y="662.04" font-size="13.9" text-anchor="end" fill="#000">0.70</text>
<line x1="716.10" y1="627.90" x2="714.10" y2="627.90" stroke="#363636" stroke-width="0.9"/>
<text x="709.70" y="632.80" font-size="13.9" text-anchor="end" fill="#000">0.76</text>
<line x1="716.10" y1="598.65" x2="714.10" y2="598.65" stroke="#363636" stroke-width="0.9"/>
<text x="709.70" y="603.55" font-size="13.9" text-anchor="end" fill="#000">0.82</text>
<line x1="716.10" y1="569.40" x2="714.10" y2="569.40" stroke="#363636" stroke-width="0.9"/>
<text x="709.70" y="574.30" font-size="13.9" text-anchor="end" fill="#000">0.89</text>
<line x1="716.10" y1="540.16" x2="714.10" y2="540.16" stroke="#363636" stroke-width="0.9"/>
<text x="709.70" y="545.06" font-size="13.9" text-anchor="end" fill="#000">0.95</text>
<rect x="610.50" y="732.50" width="250.00" height="68.00" rx="3.5" fill="#fff" fill-opacity="0.85" stroke="#555" stroke-width="1.05"/>
<line x1="614.61" y1="744.01" x2="649.01" y2="744.01" stroke="#1fc9ef" stroke-width="5"/>
<text x="658.41" y="749.01" font-size="14.8" text-anchor="start" fill="#000">10x AUC: 0.930 (0.905-0.955)</text>
<line x1="614.61" y1="765.36" x2="649.01" y2="765.36" stroke="#f3c676" stroke-width="5"/>
<text x="658.41" y="770.36" font-size="14.8" text-anchor="start" fill="#000">20x AUC: 0.947 (0.926-0.969)</text>
<line x1="614.61" y1="786.71" x2="649.01" y2="786.71" stroke="#ae5450" stroke-width="5"/>
<text x="658.41" y="791.71" font-size="14.8" text-anchor="start" fill="#000">40x AUC: 0.957 (0.937-0.977)</text>
<clipPath id="c12"><rect x="946.60" y="472.80" width="334.91" height="334.91"/></clipPath>
<line x1="962.25" y1="807.71" x2="962.25" y2="810.21" stroke="#363636" stroke-width="1"/>
<line x1="946.60" y1="792.06" x2="944.10" y2="792.06" stroke="#363636" stroke-width="1"/>
<text x="962.25" y="828.91" font-size="21" text-anchor="middle" fill="#000">0.0</text>
<text x="940.80" y="799.56" font-size="21" text-anchor="end" fill="#000">0.0</text>
<line x1="1024.85" y1="807.71" x2="1024.85" y2="810.21" stroke="#363636" stroke-width="1"/>
<line x1="946.60" y1="729.46" x2="944.10" y2="729.46" stroke="#363636" stroke-width="1"/>
<text x="1024.85" y="828.91" font-size="21" text-anchor="middle" fill="#000">0.2</text>
<text x="940.80" y="736.96" font-size="21" text-anchor="end" fill="#000">0.2</text>
<line x1="1087.45" y1="807.71" x2="1087.45" y2="810.21" stroke="#363636" stroke-width="1"/>
<line x1="946.60" y1="666.86" x2="944.10" y2="666.86" stroke="#363636" stroke-width="1"/>
<text x="1087.45" y="828.91" font-size="21" text-anchor="middle" fill="#000">0.4</text>
<text x="940.80" y="674.36" font-size="21" text-anchor="end" fill="#000">0.4</text>
<line x1="1150.05" y1="807.71" x2="1150.05" y2="810.21" stroke="#363636" stroke-width="1"/>
<line x1="946.60" y1="604.26" x2="944.10" y2="604.26" stroke="#363636" stroke-width="1"/>
<text x="1150.05" y="828.91" font-size="21" text-anchor="middle" fill="#000">0.6</text>
<text x="940.80" y="611.76" font-size="21" text-anchor="end" fill="#000">0.6</text>
<line x1="1212.65" y1="807.71" x2="1212.65" y2="810.21" stroke="#363636" stroke-width="1"/>
<line x1="946.60" y1="541.66" x2="944.10" y2="541.66" stroke="#363636" stroke-width="1"/>
<text x="1212.65" y="828.91" font-size="21" text-anchor="middle" fill="#000">0.8</text>
<text x="940.80" y="549.16" font-size="21" text-anchor="end" fill="#000">0.8</text>
<line x1="1275.25" y1="807.71" x2="1275.25" y2="810.21" stroke="#363636" stroke-width="1"/>
<line x1="946.60" y1="479.06" x2="944.10" y2="479.06" stroke="#363636" stroke-width="1"/>
<text x="1275.25" y="828.91" font-size="21" text-anchor="middle" fill="#000">1.0</text>
<text x="940.80" y="486.56" font-size="21" text-anchor="end" fill="#000">1.0</text>
<text x="1114.06" y="853.71" font-size="23" text-anchor="middle" fill="#000">1-Specificity</text>
<line x1="962.25" y1="792.06" x2="1275.25" y2="479.06" stroke="#9a9a9a" stroke-width="1.75" stroke-dasharray="5.9,2.6"/>
<polyline points="962.25,792.06 962.25,785.72 962.25,785.17 962.25,784.58 962.25,783.94 962.25,783.25 962.25,782.50 962.25,781.69 962.25,780.82 962.25,779.87 962.25,778.86 962.25,777.76 962.25,776.57 962.26,775.29 962.26,773.92 962.26,772.44 962.26,770.84 962.26,769.13 962.27,767.28 962.27,765.30 962.28,763.17 962.29,760.89 962.29,758.44 962.31,755.82 962.32,753.01 962.34,750.00 962.36,746.79 962.40,743.35 962.43,739.68 962.48,735.77 962.55,731.60 962.62,727.16 962.72,722.44 962.85,717.43 963.01,712.10 963.21,706.46 963.47,700.49 963.79,694.17 964.20,687.50 964.72,680.47 965.38,673.07 965.44,672.43 966.48,663.10 967.51,655.45 968.55,648.93 969.59,643.24 970.62,638.18 971.66,633.61 972.70,629.44 973.73,625.60 974.77,622.05 975.80,618.74 976.84,615.64 977.88,612.72 978.91,609.96 979.95,607.35 980.98,604.87 982.02,602.51 983.06,600.25 984.09,598.09 985.13,596.01 986.17,594.02 987.20,592.11 988.24,590.26 989.27,588.48 990.31,586.76 991.35,585.09 992.38,583.48 993.42,581.92 994.45,580.41 995.49,578.93 996.53,577.50 997.56,576.11 998.60,574.76 999.64,573.44 1000.67,572.16 1001.71,570.91 1002.74,569.68 1003.78,568.49 1004.82,567.32 1005.85,566.19 1006.89,565.07 1007.92,563.98 1008.96,562.92 1010.00,561.87 1011.03,560.85 1012.07,559.85 1013.11,558.87 1014.14,557.90 1015.18,556.96 1016.21,556.03 1017.25,555.12 1018.29,554.23 1019.32,553.35 1020.36,552.49 1021.39,551.64 1022.43,550.81 1023.47,549.99 1024.50,549.19 1025.54,548.40 1026.58,547.62 1027.61,546.85 1028.65,546.10 1029.68,545.35 1030.72,544.62 1031.76,543.90 1032.79,543.19 1033.83,542.49 1034.86,541.80 1035.90,541.13 1036.94,540.46 1037.97,539.80 1039.01,539.15 1040.05,538.50 1041.08,537.87 1042.12,537.25 1043.15,536.63 1044.19,536.02 1045.23,535.42 1046.26,534.83 1047.30,534.24 1048.33,533.67 1049.37,533.10 1050.41,532.53 1051.44,531.98 1052.48,531.43 1053.51,530.89 1054.55,530.35 1055.59,529.82 1056.62,529.30 1057.66,528.78 1058.70,528.27 1059.73,527.76 1060.77,527.26 1061.80,526.77 1062.84,526.28 1063.88,525.79 1064.91,525.31 1065.95,524.84 1066.98,524.37 1068.02,523.91 1069.06,523.45 1070.09,523.00 1071.13,522.55 1072.17,522.11 1073.20,521.67 1074.24,521.23 1075.27,520.80 1076.31,520.38 1077.35,519.96 1078.38,519.54 1079.42,519.13 1080.45,518.72 1081.49,518.31 1082.53,517.91 1083.56,517.51 1084.60,517.12 1085.64,516.73 1086.67,516.35 1087.71,515.96 1088.74,515.59 1089.78,515.21 1090.82,514.84 1091.85,514.47 1092.89,514.11 1093.92,513.74 1094.96,513.39 1096.00,513.03 1097.03,512.68 1098.07,512.33 1099.11,511.99 1100.14,511.64 1101.18,511.30 1102.21,510.97 1103.25,510.63 1104.29,510.30 1105.32,509.97 1106.36,509.65 1107.39,509.33 1108.43,509.01 1109.47,508.69 1110.50,508.38 1111.54,508.07 1112.58,507.76 1113.61,507.45 1114.65,507.15 1115.68,506.85 1116.72,506.55 1117.76,506.25 1118.79,505.96 1119.83,505.67 1120.86,505.38 1121.90,505.09 1122.94,504.81 1123.97,504.52 1125.01,504.24 1126.05,503.97 1127.08,503.69 1128.12,503.42 1129.15,503.14 1130.19,502.88 1131.23,502.61 1132.26,502.34 1133.30,502.08 1134.33,501.82 1135.37,501.56 1136.41,501.30 1137.44,501.05 1138.48,500.80 1139.51,500.54 1140.55,500.30 1141.59,500.05 1142.62,499.80 1143.66,499.56 1144.70,499.32 1145.73,499.08 1146.77,498.84 1147.80,498.60 1148.84,498.37 1149.88,498.13 1150.91,497.90 1151.95,497.67 1152.98,497.44 1154.02,497.22 1155.06,496.99 1156.09,496.77 1157.13,496.55 1158.17,496.33 1159.20,496.11 1160.24,495.89 1161.27,495.68 1162.31,495.47 1163.35,495.25 1164.38,495.04 1165.42,494.83 1166.45,494.63 1167.49,494.42 1168.53,494.22 1169.56,494.01 1170.60,493.81 1171.64,493.61 1172.67,493.41 1173.71,493.21 1174.74,493.02 1175.78,492.82 1176.82,492.63 1177.85,492.44 1178.89,492.25 1179.92,492.06 1180.96,491.87 1182.00,491.68 1183.03,491.50 1184.07,491.31 1185.11,491.13 1186.14,490.95 1187.18,490.77 1188.21,490.59 1189.25,490.41 1190.29,490.23 1191.32,490.06 1192.36,489.88 1193.39,489.71 1194.43,489.54 1195.47,489.36 1196.50,489.20 1197.54,489.03 1198.58,488.86 1199.61,488.69 1200.65,488.53 1201.68,488.36 1202.72,488.20 1203.76,488.04 1204.79,487.88 1205.83,487.72 1206.86,487.56 1207.90,487.40 1208.94,487.25 1209.97,487.09 1211.01,486.94 1212.05,486.78 1213.08,486.63 1214.12,486.48 1215.15,486.33 1216.19,486.18 1217.23,486.03 1218.26,485.88 1219.30,485.74 1220.33,485.59 1221.37,485.45 1222.41,485.31 1223.44,485.16 1224.48,485.02 1225.52,484.88 1226.55,484.74 1227.59,484.60 1228.62,484.47 1229.66,484.33 1230.70,484.19 1231.73,484.06 1232.77,483.93 1233.80,483.79 1234.84,483.66 1235.88,483.53 1236.91,483.40 1237.95,483.27 1238.98,483.14 1240.02,483.01 1241.06,482.89 1242.09,482.76 1243.13,482.64 1244.17,482.51 1245.20,482.39 1246.24,482.27 1247.27,482.14 1248.31,482.02 1249.35,481.90 1250.38,481.78 1251.42,481.67 1252.45,481.55 1253.49,481.43 1254.53,481.32 1255.56,481.20 1256.60,481.09 1257.64,480.97 1258.67,480.86 1259.71,480.75 1260.74,480.63 1261.78,480.52 1262.82,480.41 1263.85,480.30 1264.89,480.19 1265.92,480.08 1266.96,479.98 1268.00,479.87 1269.03,479.76 1270.07,479.65 1271.11,479.54 1272.14,479.43 1273.18,479.32 1274.21,479.20 1275.25,479.06" fill="none" stroke="#1fc9ef" stroke-width="5.0" stroke-linejoin="round" stroke-linecap="square" clip-path="url(#c12)"/>
<polyline points="962.25,792.06 962.25,791.41 962.25,791.32 962.25,791.21 962.25,791.09 962.25,790.95 962.25,790.79 962.25,790.62 962.25,790.41 962.25,790.18 962.25,789.92 962.25,789.62 962.25,789.28 962.26,788.89 962.26,788.46 962.26,787.96 962.26,787.40 962.26,786.77 962.27,786.06 962.27,785.26 962.28,784.36 962.29,783.34 962.29,782.19 962.31,780.90 962.32,779.46 962.34,777.84 962.36,776.03 962.40,774.00 962.43,771.73 962.48,769.20 962.55,766.39 962.62,763.26 962.72,759.78 962.85,755.92 963.01,751.66 963.21,746.94 963.47,741.75 963.79,736.04 964.20,729.77 964.72,722.91 965.38,715.41 965.44,714.76 966.48,704.90 967.51,696.53 968.55,689.21 969.59,682.66 970.62,676.73 971.66,671.30 972.70,666.28 973.73,661.60 974.77,657.23 975.80,653.11 976.84,649.23 977.88,645.55 978.91,642.05 979.95,638.71 980.98,635.52 982.02,632.47 983.06,629.54 984.09,626.72 985.13,624.01 986.17,621.40 987.20,618.88 988.24,616.44 989.27,614.08 990.31,611.80 991.35,609.59 992.38,607.44 993.42,605.35 994.45,603.32 995.49,601.35 996.53,599.43 997.56,597.56 998.60,595.74 999.64,593.96 1000.67,592.23 1001.71,590.53 1002.74,588.88 1003.78,587.26 1004.82,585.68 1005.85,584.14 1006.89,582.63 1007.92,581.15 1008.96,579.70 1010.00,578.28 1011.03,576.89 1012.07,575.53 1013.11,574.19 1014.14,572.88 1015.18,571.60 1016.21,570.34 1017.25,569.10 1018.29,567.89 1019.32,566.69 1020.36,565.52 1021.39,564.37 1022.43,563.24 1023.47,562.12 1024.50,561.03 1025.54,559.95 1026.58,558.90 1027.61,557.86 1028.65,556.83 1029.68,555.83 1030.72,554.83 1031.76,553.86 1032.79,552.90 1033.83,551.95 1034.86,551.02 1035.90,550.10 1036.94,549.20 1037.97,548.31 1039.01,547.43 1040.05,546.56 1041.08,545.71 1042.12,544.87 1043.15,544.04 1044.19,543.22 1045.23,542.42 1046.26,541.62 1047.30,540.84 1048.33,540.07 1049.37,539.31 1050.41,538.55 1051.44,537.81 1052.48,537.08 1053.51,536.36 1054.55,535.64 1055.59,534.94 1056.62,534.24 1057.66,533.56 1058.70,532.88 1059.73,532.21 1060.77,531.55 1061.80,530.90 1062.84,530.25 1063.88,529.62 1064.91,528.99 1065.95,528.37 1066.98,527.75 1068.02,527.15 1069.06,526.55 1070.09,525.96 1071.13,525.37 1072.17,524.79 1073.20,524.22 1074.24,523.66 1075.27,523.10 1076.31,522.55 1077.35,522.01 1078.38,521.47 1079.42,520.94 1080.45,520.41 1081.49,519.89 1082.53,519.38 1083.56,518.87 1084.60,518.36 1085.64,517.87 1086.67,517.38 1087.71,516.89 1088.74,516.41 1089.78,515.93 1090.82,515.46 1091.85,515.00 1092.89,514.54 1093.92,514.08 1094.96,513.63 1096.00,513.19 1097.03,512.75 1098.07,512.31 1099.11,511.88 1100.14,511.45 1101.18,511.03 1102.21,510.62 1103.25,510.20 1104.29,509.79 1105.32,509.39 1106.36,508.99 1107.39,508.60 1108.43,508.20 1109.47,507.82 1110.50,507.43 1111.54,507.05 1112.58,506.68 1113.61,506.31 1114.65,505.94 1115.68,505.58 1116.72,505.22 1117.76,504.86 1118.79,504.51 1119.83,504.16 1120.86,503.81 1121.90,503.47 1122.94,503.13 1123.97,502.80 1125.01,502.47 1126.05,502.14 1127.08,501.82 1128.12,501.50 1129.15,501.18 1130.19,500.86 1131.23,500.55 1132.26,500.24 1133.30,499.94 1134.33,499.64 1135.37,499.34 1136.41,499.04 1137.44,498.75 1138.48,498.46 1139.51,498.17 1140.55,497.89 1141.59,497.61 1142.62,497.33 1143.66,497.05 1144.70,496.78 1145.73,496.51 1146.77,496.25 1147.80,495.98 1148.84,495.72 1149.88,495.46 1150.91,495.21 1151.95,494.95 1152.98,494.70 1154.02,494.45 1155.06,494.21 1156.09,493.96 1157.13,493.72 1158.17,493.48 1159.20,493.25 1160.24,493.02 1161.27,492.78 1162.31,492.56 1163.35,492.33 1164.38,492.11 1165.42,491.88 1166.45,491.67 1167.49,491.45 1168.53,491.23 1169.56,491.02 1170.60,490.81 1171.64,490.60 1172.67,490.40 1173.71,490.19 1174.74,489.99 1175.78,489.79 1176.82,489.60 1177.85,489.40 1178.89,489.21 1179.92,489.02 1180.96,488.83 1182.00,488.64 1183.03,488.46 1184.07,488.28 1185.11,488.10 1186.14,487.92 1187.18,487.74 1188.21,487.57 1189.25,487.39 1190.29,487.22 1191.32,487.05 1192.36,486.89 1193.39,486.72 1194.43,486.56 1195.47,486.40 1196.50,486.24 1197.54,486.08 1198.58,485.93 1199.61,485.77 1200.65,485.62 1201.68,485.47 1202.72,485.32 1203.76,485.17 1204.79,485.03 1205.83,484.89 1206.86,484.74 1207.90,484.60 1208.94,484.47 1209.97,484.33 1211.01,484.20 1212.05,484.06 1213.08,483.93 1214.12,483.80 1215.15,483.67 1216.19,483.55 1217.23,483.42 1218.26,483.30 1219.30,483.18 1220.33,483.06 1221.37,482.94 1222.41,482.83 1223.44,482.71 1224.48,482.60 1225.52,482.49 1226.55,482.38 1227.59,482.27 1228.62,482.16 1229.66,482.06 1230.70,481.95 1231.73,481.85 1232.77,481.75 1233.80,481.65 1234.84,481.56 1235.88,481.46 1236.91,481.37 1237.95,481.27 1238.98,481.18 1240.02,481.09 1241.06,481.00 1242.09,480.92 1243.13,480.83 1244.17,480.75 1245.20,480.67 1246.24,480.59 1247.27,480.51 1248.31,480.43 1249.35,480.36 1250.38,480.28 1251.42,480.21 1252.45,480.14 1253.49,480.07 1254.53,480.00 1255.56,479.94 1256.60,479.88 1257.64,479.81 1258.67,479.75 1259.71,479.69 1260.74,479.64 1261.78,479.58 1262.82,479.53 1263.85,479.48 1264.89,479.43 1265.92,479.38 1266.96,479.33 1268.00,479.29 1269.03,479.25 1270.07,479.21 1271.11,479.17 1272.14,479.14 1273.18,479.11 1274.21,479.08 1275.25,479.06" fill="none" stroke="#f3c676" stroke-width="5.0" stroke-linejoin="round" stroke-linecap="square" clip-path="url(#c12)"/>
<polyline points="962.25,792.06 962.25,790.82 962.25,790.67 962.25,790.49 962.25,790.30 962.25,790.08 962.25,789.84 962.25,789.57 962.25,789.27 962.25,788.93 962.25,788.55 962.25,788.13 962.25,787.66 962.26,787.13 962.26,786.54 962.26,785.89 962.26,785.17 962.26,784.36 962.27,783.46 962.27,782.47 962.28,781.36 962.29,780.13 962.29,778.77 962.31,777.27 962.32,775.60 962.34,773.76 962.36,771.72 962.40,769.48 962.43,767.01 962.48,764.28 962.55,761.29 962.62,758.00 962.72,754.39 962.85,750.44 963.01,746.11 963.21,741.38 963.47,736.22 963.79,730.61 964.20,724.50 964.72,717.88 965.38,710.71 965.44,710.08 966.48,700.74 967.51,692.85 968.55,685.99 969.59,679.88 970.62,674.35 971.66,669.31 972.70,664.65 973.73,660.32 974.77,656.27 975.80,652.46 976.84,648.87 977.88,645.47 978.91,642.24 979.95,639.15 980.98,636.21 982.02,633.39 983.06,630.68 984.09,628.08 985.13,625.57 986.17,623.15 987.20,620.82 988.24,618.56 989.27,616.38 990.31,614.26 991.35,612.21 992.38,610.21 993.42,608.27 994.45,606.39 995.49,604.55 996.53,602.77 997.56,601.02 998.60,599.33 999.64,597.67 1000.67,596.05 1001.71,594.47 1002.74,592.92 1003.78,591.41 1004.82,589.93 1005.85,588.48 1006.89,587.06 1007.92,585.67 1008.96,584.31 1010.00,582.97 1011.03,581.66 1012.07,580.38 1013.11,579.12 1014.14,577.88 1015.18,576.67 1016.21,575.47 1017.25,574.30 1018.29,573.15 1019.32,572.01 1020.36,570.90 1021.39,569.80 1022.43,568.73 1023.47,567.66 1024.50,566.62 1025.54,565.59 1026.58,564.58 1027.61,563.59 1028.65,562.60 1029.68,561.64 1030.72,560.69 1031.76,559.75 1032.79,558.82 1033.83,557.91 1034.86,557.01 1035.90,556.13 1036.94,555.25 1037.97,554.39 1039.01,553.54 1040.05,552.70 1041.08,551.87 1042.12,551.05 1043.15,550.25 1044.19,549.45 1045.23,548.67 1046.26,547.89 1047.30,547.12 1048.33,546.37 1049.37,545.62 1050.41,544.88 1051.44,544.15 1052.48,543.43 1053.51,542.72 1054.55,542.02 1055.59,541.32 1056.62,540.63 1057.66,539.95 1058.70,539.28 1059.73,538.62 1060.77,537.96 1061.80,537.32 1062.84,536.67 1063.88,536.04 1064.91,535.41 1065.95,534.79 1066.98,534.18 1068.02,533.57 1069.06,532.97 1070.09,532.38 1071.13,531.79 1072.17,531.21 1073.20,530.63 1074.24,530.06 1075.27,529.50 1076.31,528.94 1077.35,528.39 1078.38,527.84 1079.42,527.30 1080.45,526.77 1081.49,526.24 1082.53,525.71 1083.56,525.19 1084.60,524.68 1085.64,524.17 1086.67,523.67 1087.71,523.17 1088.74,522.67 1089.78,522.18 1090.82,521.70 1091.85,521.22 1092.89,520.74 1093.92,520.27 1094.96,519.81 1096.00,519.34 1097.03,518.89 1098.07,518.43 1099.11,517.98 1100.14,517.54 1101.18,517.10 1102.21,516.66 1103.25,516.23 1104.29,515.80 1105.32,515.37 1106.36,514.95 1107.39,514.54 1108.43,514.12 1109.47,513.71 1110.50,513.31 1111.54,512.91 1112.58,512.51 1113.61,512.11 1114.65,511.72 1115.68,511.33 1116.72,510.95 1117.76,510.57 1118.79,510.19 1119.83,509.81 1120.86,509.44 1121.90,509.07 1122.94,508.71 1123.97,508.35 1125.01,507.99 1126.05,507.63 1127.08,507.28 1128.12,506.93 1129.15,506.59 1130.19,506.24 1131.23,505.90 1132.26,505.56 1133.30,505.23 1134.33,504.90 1135.37,504.57 1136.41,504.24 1137.44,503.92 1138.48,503.60 1139.51,503.28 1140.55,502.97 1141.59,502.65 1142.62,502.34 1143.66,502.04 1144.70,501.73 1145.73,501.43 1146.77,501.13 1147.80,500.83 1148.84,500.54 1149.88,500.25 1150.91,499.96 1151.95,499.67 1152.98,499.39 1154.02,499.10 1155.06,498.82 1156.09,498.55 1157.13,498.27 1158.17,498.00 1159.20,497.73 1160.24,497.46 1161.27,497.19 1162.31,496.93 1163.35,496.67 1164.38,496.41 1165.42,496.15 1166.45,495.90 1167.49,495.64 1168.53,495.39 1169.56,495.14 1170.60,494.90 1171.64,494.65 1172.67,494.41 1173.71,494.17 1174.74,493.93 1175.78,493.69 1176.82,493.46 1177.85,493.23 1178.89,493.00 1179.92,492.77 1180.96,492.54 1182.00,492.32 1183.03,492.10 1184.07,491.87 1185.11,491.66 1186.14,491.44 1187.18,491.22 1188.21,491.01 1189.25,490.80 1190.29,490.59 1191.32,490.38 1192.36,490.18 1193.39,489.97 1194.43,489.77 1195.47,489.57 1196.50,489.37 1197.54,489.17 1198.58,488.98 1199.61,488.78 1200.65,488.59 1201.68,488.40 1202.72,488.21 1203.76,488.03 1204.79,487.84 1205.83,487.66 1206.86,487.48 1207.90,487.30 1208.94,487.12 1209.97,486.94 1211.01,486.77 1212.05,486.59 1213.08,486.42 1214.12,486.25 1215.15,486.08 1216.19,485.91 1217.23,485.75 1218.26,485.59 1219.30,485.42 1220.33,485.26 1221.37,485.10 1222.41,484.95 1223.44,484.79 1224.48,484.64 1225.52,484.48 1226.55,484.33 1227.59,484.18 1228.62,484.03 1229.66,483.89 1230.70,483.74 1231.73,483.60 1232.77,483.46 1233.80,483.32 1234.84,483.18 1235.88,483.04 1236.91,482.91 1237.95,482.77 1238.98,482.64 1240.02,482.51 1241.06,482.38 1242.09,482.25 1243.13,482.12 1244.17,482.00 1245.20,481.88 1246.24,481.75 1247.27,481.63 1248.31,481.52 1249.35,481.40 1250.38,481.28 1251.42,481.17 1252.45,481.06 1253.49,480.95 1254.53,480.84 1255.56,480.73 1256.60,480.62 1257.64,480.52 1258.67,480.42 1259.71,480.32 1260.74,480.22 1261.78,480.12 1262.82,480.03 1263.85,479.93 1264.89,479.84 1265.92,479.75 1266.96,479.67 1268.00,479.58 1269.03,479.50 1270.07,479.42 1271.11,479.34 1272.14,479.26 1273.18,479.19 1274.21,479.12 1275.25,479.06" fill="none" stroke="#ae5450" stroke-width="5.0" stroke-linejoin="round" stroke-linecap="square" clip-path="url(#c12)"/>
<rect x="946.50" y="472.50" width="335.00" height="335.00" fill="none" stroke="#363636" stroke-width="1.25"/>
<rect x="1129.80" y="530.80" width="136.00" height="135.70" fill="#fff" stroke="none"/>
<clipPath id="i12"><rect x="1129.80" y="530.80" width="136.00" height="135.70"/></clipPath>
<polyline points="1125.11,815.57 1125.86,809.04 1126.62,802.90 1127.37,797.11 1128.13,791.64 1128.88,786.46 1129.64,781.53 1130.39,776.83 1131.14,772.36 1131.90,768.08 1132.65,763.99 1133.41,760.06 1134.16,756.30 1134.91,752.67 1135.67,749.19 1136.42,745.83 1137.18,742.60 1137.93,739.47 1138.68,736.45 1139.44,733.53 1140.19,730.71 1140.95,727.97 1141.70,725.32 1142.45,722.74 1143.21,720.25 1143.96,717.82 1144.72,715.46 1145.47,713.17 1146.23,710.94 1146.98,708.77 1147.73,706.65 1148.49,704.59 1149.24,702.58 1150.00,700.62 1150.75,698.71 1151.50,696.84 1152.26,695.02 1153.01,693.24 1153.77,691.50 1154.52,689.80 1155.27,688.13 1156.03,686.51 1156.78,684.91 1157.54,683.35 1158.29,681.83 1159.05,680.33 1159.80,678.86 1160.55,677.43 1161.31,676.02 1162.06,674.64 1162.82,673.28 1163.57,671.96 1164.32,670.65 1165.08,669.37 1165.83,668.12 1166.59,666.88 1167.34,665.67 1168.09,664.48 1168.85,663.31 1169.60,662.16 1170.36,661.03 1171.11,659.92 1171.87,658.83 1172.62,657.75 1173.37,656.69 1174.13,655.65 1174.88,654.63 1175.64,653.62 1176.39,652.63 1177.14,651.66 1177.90,650.70 1178.65,649.75 1179.41,648.82 1180.16,647.90 1180.91,647.00 1181.67,646.10 1182.42,645.23 1183.18,644.36 1183.93,643.51 1184.69,642.66 1185.44,641.84 1186.19,641.02 1186.95,640.21 1187.70,639.41 1188.46,638.63 1189.21,637.86 1189.96,637.09 1190.72,636.34 1191.47,635.59 1192.23,634.86 1192.98,634.13 1193.73,633.42 1194.49,632.71 1195.24,632.01 1196.00,631.33 1196.75,630.65 1197.51,629.97 1198.26,629.31 1199.01,628.65 1199.77,628.01 1200.52,627.37 1201.28,626.73 1202.03,626.11 1202.78,625.49 1203.54,624.88 1204.29,624.28 1205.05,623.68 1205.80,623.09 1206.55,622.51 1207.31,621.93 1208.06,621.36 1208.82,620.80 1209.57,620.24 1210.33,619.69 1211.08,619.15 1211.83,618.61 1212.59,618.08 1213.34,617.55 1214.10,617.03 1214.85,616.51 1215.60,616.00 1216.36,615.49 1217.11,614.99 1217.87,614.50 1218.62,614.01 1219.37,613.52 1220.13,613.04 1220.88,612.57 1221.64,612.10 1222.39,611.63 1223.15,611.17 1223.90,610.71 1224.65,610.26 1225.41,609.81 1226.16,609.37 1226.92,608.93 1227.67,608.50 1228.42,608.07 1229.18,607.64 1229.93,607.22 1230.69,606.80 1231.44,606.38 1232.19,605.97 1232.95,605.57 1233.70,605.16 1234.46,604.76 1235.21,604.37 1235.97,603.98 1236.72,603.59 1237.47,603.20 1238.23,602.82 1238.98,602.44 1239.74,602.07 1240.49,601.70 1241.24,601.33 1242.00,600.96 1242.75,600.60 1243.51,600.24 1244.26,599.89 1245.01,599.54 1245.77,599.19 1246.52,598.84 1247.28,598.50 1248.03,598.16 1248.79,597.82 1249.54,597.48 1250.29,597.15 1251.05,596.82 1251.80,596.49 1252.56,596.17 1253.31,595.85 1254.06,595.53 1254.82,595.21 1255.57,594.90 1256.33,594.59 1257.08,594.28 1257.83,593.98 1258.59,593.67 1259.34,593.37 1260.10,593.07 1260.85,592.78 1261.61,592.48 1262.36,592.19 1263.11,591.90 1263.87,591.61 1264.62,591.33 1265.38,591.05 1266.13,590.76 1266.88,590.49 1267.64,590.21 1268.39,589.94 1269.15,589.66 1269.90,589.39 1270.65,589.13 1271.41,588.86 1272.16,588.60 1272.92,588.33 1273.67,588.07 1274.43,587.81 1275.18,587.56" fill="none" stroke="#1fc9ef" stroke-width="5.0" stroke-linejoin="round" stroke-linecap="square" clip-path="url(#i12)"/>
<polyline points="1125.11,862.29 1125.86,856.39 1126.62,850.76 1127.37,845.38 1128.13,840.22 1128.88,835.27 1129.64,830.51 1130.39,825.93 1131.14,821.51 1131.90,817.24 1132.65,813.12 1133.41,809.13 1134.16,805.26 1134.91,801.51 1135.67,797.88 1136.42,794.34 1137.18,790.91 1137.93,787.57 1138.68,784.32 1139.44,781.16 1140.19,778.08 1140.95,775.07 1141.70,772.14 1142.45,769.28 1143.21,766.48 1143.96,763.75 1144.72,761.08 1145.47,758.47 1146.23,755.92 1146.98,753.42 1147.73,750.97 1148.49,748.58 1149.24,746.23 1150.00,743.93 1150.75,741.68 1151.50,739.47 1152.26,737.30 1153.01,735.17 1153.77,733.09 1154.52,731.04 1155.27,729.02 1156.03,727.05 1156.78,725.10 1157.54,723.19 1158.29,721.32 1159.05,719.47 1159.80,717.66 1160.55,715.88 1161.31,714.12 1162.06,712.39 1162.82,710.70 1163.57,709.02 1164.32,707.38 1165.08,705.75 1165.83,704.16 1166.59,702.59 1167.34,701.04 1168.09,699.51 1168.85,698.00 1169.60,696.52 1170.36,695.06 1171.11,693.62 1171.87,692.20 1172.62,690.80 1173.37,689.42 1174.13,688.05 1174.88,686.71 1175.64,685.38 1176.39,684.07 1177.14,682.78 1177.90,681.50 1178.65,680.24 1179.41,679.00 1180.16,677.77 1180.91,676.56 1181.67,675.37 1182.42,674.18 1183.18,673.02 1183.93,671.86 1184.69,670.72 1185.44,669.60 1186.19,668.48 1186.95,667.38 1187.70,666.30 1188.46,665.22 1189.21,664.16 1189.96,663.11 1190.72,662.08 1191.47,661.05 1192.23,660.03 1192.98,659.03 1193.73,658.04 1194.49,657.06 1195.24,656.09 1196.00,655.13 1196.75,654.18 1197.51,653.24 1198.26,652.31 1199.01,651.39 1199.77,650.48 1200.52,649.58 1201.28,648.68 1202.03,647.80 1202.78,646.93 1203.54,646.06 1204.29,645.21 1205.05,644.36 1205.80,643.52 1206.55,642.69 1207.31,641.87 1208.06,641.05 1208.82,640.25 1209.57,639.45 1210.33,638.66 1211.08,637.87 1211.83,637.10 1212.59,636.33 1213.34,635.57 1214.10,634.81 1214.85,634.06 1215.60,633.32 1216.36,632.59 1217.11,631.86 1217.87,631.14 1218.62,630.43 1219.37,629.72 1220.13,629.02 1220.88,628.33 1221.64,627.64 1222.39,626.95 1223.15,626.28 1223.90,625.61 1224.65,624.94 1225.41,624.28 1226.16,623.63 1226.92,622.98 1227.67,622.34 1228.42,621.70 1229.18,621.07 1229.93,620.44 1230.69,619.82 1231.44,619.21 1232.19,618.59 1232.95,617.99 1233.70,617.39 1234.46,616.79 1235.21,616.20 1235.97,615.61 1236.72,615.03 1237.47,614.46 1238.23,613.88 1238.98,613.32 1239.74,612.75 1240.49,612.19 1241.24,611.64 1242.00,611.09 1242.75,610.54 1243.51,610.00 1244.26,609.46 1245.01,608.93 1245.77,608.40 1246.52,607.88 1247.28,607.36 1248.03,606.84 1248.79,606.33 1249.54,605.82 1250.29,605.31 1251.05,604.81 1251.80,604.31 1252.56,603.82 1253.31,603.33 1254.06,602.84 1254.82,602.35 1255.57,601.87 1256.33,601.40 1257.08,600.93 1257.83,600.46 1258.59,599.99 1259.34,599.53 1260.10,599.07 1260.85,598.61 1261.61,598.16 1262.36,597.71 1263.11,597.26 1263.87,596.82 1264.62,596.38 1265.38,595.94 1266.13,595.50 1266.88,595.07 1267.64,594.64 1268.39,594.22 1269.15,593.79 1269.90,593.37 1270.65,592.96 1271.41,592.54 1272.16,592.13 1272.92,591.72 1273.67,591.32 1274.43,590.91 1275.18,590.51" fill="none" stroke="#f3c676" stroke-width="5.0" stroke-linejoin="round" stroke-linecap="square" clip-path="url(#i12)"/>
<polyline points="1125.11,903.44 1125.86,897.03 1126.62,890.80 1127.37,884.76 1128.13,878.89 1128.88,873.21 1129.64,867.69 1130.39,862.34 1131.14,857.14 1131.90,852.10 1132.65,847.20 1133.41,842.43 1134.16,837.80 1134.91,833.30 1135.67,828.92 1136.42,824.66 1137.18,820.51 1137.93,816.47 1138.68,812.54 1139.44,808.71 1140.19,804.97 1140.95,801.32 1141.70,797.77 1142.45,794.30 1143.21,790.91 1143.96,787.61 1144.72,784.38 1145.47,781.22 1146.23,778.14 1146.98,775.13 1147.73,772.18 1148.49,769.30 1149.24,766.48 1150.00,763.72 1150.75,761.02 1151.50,758.38 1152.26,755.79 1153.01,753.26 1153.77,750.78 1154.52,748.34 1155.27,745.96 1156.03,743.62 1156.78,741.33 1157.54,739.08 1158.29,736.88 1159.05,734.71 1159.80,732.59 1160.55,730.51 1161.31,728.46 1162.06,726.45 1162.82,724.48 1163.57,722.55 1164.32,720.64 1165.08,718.78 1165.83,716.94 1166.59,715.14 1167.34,713.36 1168.09,711.62 1168.85,709.91 1169.60,708.22 1170.36,706.56 1171.11,704.93 1171.87,703.33 1172.62,701.75 1173.37,700.20 1174.13,698.67 1174.88,697.17 1175.64,695.69 1176.39,694.23 1177.14,692.79 1177.90,691.38 1178.65,689.99 1179.41,688.62 1180.16,687.27 1180.91,685.94 1181.67,684.63 1182.42,683.34 1183.18,682.07 1183.93,680.81 1184.69,679.58 1185.44,678.36 1186.19,677.16 1186.95,675.97 1187.70,674.80 1188.46,673.65 1189.21,672.52 1189.96,671.40 1190.72,670.29 1191.47,669.20 1192.23,668.13 1192.98,667.07 1193.73,666.02 1194.49,664.99 1195.24,663.97 1196.00,662.96 1196.75,661.97 1197.51,660.99 1198.26,660.02 1199.01,659.07 1199.77,658.12 1200.52,657.19 1201.28,656.27 1202.03,655.36 1202.78,654.47 1203.54,653.58 1204.29,652.70 1205.05,651.84 1205.80,650.99 1206.55,650.14 1207.31,649.31 1208.06,648.49 1208.82,647.67 1209.57,646.87 1210.33,646.07 1211.08,645.29 1211.83,644.51 1212.59,643.74 1213.34,642.99 1214.10,642.24 1214.85,641.49 1215.60,640.76 1216.36,640.04 1217.11,639.32 1217.87,638.61 1218.62,637.91 1219.37,637.22 1220.13,636.53 1220.88,635.86 1221.64,635.19 1222.39,634.52 1223.15,633.87 1223.90,633.22 1224.65,632.58 1225.41,631.94 1226.16,631.31 1226.92,630.69 1227.67,630.08 1228.42,629.47 1229.18,628.87 1229.93,628.27 1230.69,627.68 1231.44,627.10 1232.19,626.52 1232.95,625.95 1233.70,625.39 1234.46,624.83 1235.21,624.27 1235.97,623.72 1236.72,623.18 1237.47,622.64 1238.23,622.11 1238.98,621.58 1239.74,621.06 1240.49,620.55 1241.24,620.03 1242.00,619.53 1242.75,619.03 1243.51,618.53 1244.26,618.04 1245.01,617.55 1245.77,617.07 1246.52,616.59 1247.28,616.12 1248.03,615.65 1248.79,615.19 1249.54,614.73 1250.29,614.27 1251.05,613.82 1251.80,613.37 1252.56,612.93 1253.31,612.49 1254.06,612.06 1254.82,611.63 1255.57,611.20 1256.33,610.78 1257.08,610.36 1257.83,609.95 1258.59,609.53 1259.34,609.13 1260.10,608.72 1260.85,608.32 1261.61,607.93 1262.36,607.54 1263.11,607.15 1263.87,606.76 1264.62,606.38 1265.38,606.00 1266.13,605.62 1266.88,605.25 1267.64,604.88 1268.39,604.52 1269.15,604.16 1269.90,603.80 1270.65,603.44 1271.41,603.09 1272.16,602.74 1272.92,602.39 1273.67,602.05 1274.43,601.71 1275.18,601.37" fill="none" stroke="#ae5450" stroke-width="5.0" stroke-linejoin="round" stroke-linecap="square" clip-path="url(#i12)"/>
<rect x="1129.50" y="530.50" width="136.00" height="136.00" fill="none" stroke="#363636" stroke-width="1.2"/>
<line x1="1139.18" y1="666.50" x2="1139.18" y2="668.50" stroke="#363636" stroke-width="0.9"/>
<text x="1139.18" y="682.00" font-size="13.9" text-anchor="middle" fill="#000">0.05</text>
<line x1="1168.49" y1="666.50" x2="1168.49" y2="668.50" stroke="#363636" stroke-width="0.9"/>
<text x="1168.49" y="682.00" font-size="13.9" text-anchor="middle" fill="#000">0.11</text>
<line x1="1197.80" y1="666.50" x2="1197.80" y2="668.50" stroke="#363636" stroke-width="0.9"/>
<text x="1197.80" y="682.00" font-size="13.9" text-anchor="middle" fill="#000">0.17</text>
<line x1="1227.11" y1="666.50" x2="1227.11" y2="668.50" stroke="#363636" stroke-width="0.9"/>
<text x="1227.11" y="682.00" font-size="13.9" text-anchor="middle" fill="#000">0.24</text>
<line x1="1256.42" y1="666.50" x2="1256.42" y2="668.50" stroke="#363636" stroke-width="0.9"/>
<text x="1256.42" y="682.00" font-size="13.9" text-anchor="middle" fill="#000">0.30</text>
<line x1="1129.80" y1="657.14" x2="1127.80" y2="657.14" stroke="#363636" stroke-width="0.9"/>
<text x="1123.40" y="662.04" font-size="13.9" text-anchor="end" fill="#000">0.70</text>
<line x1="1129.80" y1="627.90" x2="1127.80" y2="627.90" stroke="#363636" stroke-width="0.9"/>
<text x="1123.40" y="632.80" font-size="13.9" text-anchor="end" fill="#000">0.76</text>
<line x1="1129.80" y1="598.65" x2="1127.80" y2="598.65" stroke="#363636" stroke-width="0.9"/>
<text x="1123.40" y="603.55" font-size="13.9" text-anchor="end" fill="#000">0.82</text>
<line x1="1129.80" y1="569.40" x2="1127.80" y2="569.40" stroke="#363636" stroke-width="0.9"/>
<text x="1123.40" y="574.30" font-size="13.9" text-anchor="end" fill="#000">0.89</text>
<line x1="1129.80" y1="540.16" x2="1127.80" y2="540.16" stroke="#363636" stroke-width="0.9"/>
<text x="1123.40" y="545.06" font-size="13.9" text-anchor="end" fill="#000">0.95</text>
<rect x="1024.50" y="732.50" width="250.00" height="68.00" rx="3.5" fill="#fff" fill-opacity="0.85" stroke="#555" stroke-width="1.05"/>
<line x1="1028.31" y1="744.01" x2="1062.71" y2="744.01" stroke="#1fc9ef" stroke-width="5"/>
<text x="1072.11" y="749.01" font-size="14.8" text-anchor="start" fill="#000">10x AUC: 0.873 (0.794-0.952)</text>
<line x1="1028.31" y1="765.36" x2="1062.71" y2="765.36" stroke="#f3c676" stroke-width="5"/>
<text x="1072.11" y="770.36" font-size="14.8" text-anchor="start" fill="#000">20x AUC: 0.858 (0.789-0.926)</text>
<line x1="1028.31" y1="786.71" x2="1062.71" y2="786.71" stroke="#ae5450" stroke-width="5"/>
<text x="1072.11" y="791.71" font-size="14.8" text-anchor="start" fill="#000">40x AUC: 0.843 (0.762-0.923)</text>
<clipPath id="c13"><rect x="1360.80" y="472.80" width="334.91" height="334.91"/></clipPath>
<line x1="1376.45" y1="807.71" x2="1376.45" y2="810.21" stroke="#363636" stroke-width="1"/>
<line x1="1360.80" y1="792.06" x2="1358.30" y2="792.06" stroke="#363636" stroke-width="1"/>
<text x="1376.45" y="828.91" font-size="21" text-anchor="middle" fill="#000">0.0</text>
<text x="1355.00" y="799.56" font-size="21" text-anchor="end" fill="#000">0.0</text>
<line x1="1439.05" y1="807.71" x2="1439.05" y2="810.21" stroke="#363636" stroke-width="1"/>
<line x1="1360.80" y1="729.46" x2="1358.30" y2="729.46" stroke="#363636" stroke-width="1"/>
<text x="1439.05" y="828.91" font-size="21" text-anchor="middle" fill="#000">0.2</text>
<text x="1355.00" y="736.96" font-size="21" text-anchor="end" fill="#000">0.2</text>
<line x1="1501.65" y1="807.71" x2="1501.65" y2="810.21" stroke="#363636" stroke-width="1"/>
<line x1="1360.80" y1="666.86" x2="1358.30" y2="666.86" stroke="#363636" stroke-width="1"/>
<text x="1501.65" y="828.91" font-size="21" text-anchor="middle" fill="#000">0.4</text>
<text x="1355.00" y="674.36" font-size="21" text-anchor="end" fill="#000">0.4</text>
<line x1="1564.25" y1="807.71" x2="1564.25" y2="810.21" stroke="#363636" stroke-width="1"/>
<line x1="1360.80" y1="604.26" x2="1358.30" y2="604.26" stroke="#363636" stroke-width="1"/>
<text x="1564.25" y="828.91" font-size="21" text-anchor="middle" fill="#000">0.6</text>
<text x="1355.00" y="611.76" font-size="21" text-anchor="end" fill="#000">0.6</text>
<line x1="1626.85" y1="807.71" x2="1626.85" y2="810.21" stroke="#363636" stroke-width="1"/>
<line x1="1360.80" y1="541.66" x2="1358.30" y2="541.66" stroke="#363636" stroke-width="1"/>
<text x="1626.85" y="828.91" font-size="21" text-anchor="middle" fill="#000">0.8</text>
<text x="1355.00" y="549.16" font-size="21" text-anchor="end" fill="#000">0.8</text>
<line x1="1689.45" y1="807.71" x2="1689.45" y2="810.21" stroke="#363636" stroke-width="1"/>
<line x1="1360.80" y1="479.06" x2="1358.30" y2="479.06" stroke="#363636" stroke-width="1"/>
<text x="1689.45" y="828.91" font-size="21" text-anchor="middle" fill="#000">1.0</text>
<text x="1355.00" y="486.56" font-size="21" text-anchor="end" fill="#000">1.0</text>
<text x="1528.26" y="853.71" font-size="23" text-anchor="middle" fill="#000">1-Specificity</text>
<line x1="1376.45" y1="792.06" x2="1689.45" y2="479.06" stroke="#9a9a9a" stroke-width="1.75" stroke-dasharray="5.9,2.6"/>
<polyline points="1376.45,792.06 1376.45,790.34 1376.45,790.10 1376.45,789.83 1376.45,789.53 1376.45,789.18 1376.45,788.79 1376.45,788.35 1376.45,787.86 1376.45,787.30 1376.45,786.67 1376.45,785.97 1376.45,785.18 1376.46,784.30 1376.46,783.31 1376.46,782.20 1376.46,780.96 1376.46,779.58 1376.47,778.04 1376.47,776.33 1376.48,774.43 1376.49,772.32 1376.49,769.99 1376.51,767.41 1376.52,764.56 1376.54,761.42 1376.56,757.97 1376.60,754.19 1376.63,750.04 1376.68,745.51 1376.75,740.57 1376.82,735.20 1376.92,729.37 1377.05,723.06 1377.21,716.26 1377.41,708.94 1377.67,701.09 1377.99,692.70 1378.40,683.77 1378.92,674.30 1379.58,664.31 1379.64,663.45 1380.68,650.84 1381.71,640.55 1382.75,631.84 1383.79,624.29 1384.82,617.61 1385.86,611.64 1386.90,606.24 1387.93,601.32 1388.97,596.79 1390.00,592.61 1391.04,588.73 1392.08,585.10 1393.11,581.71 1394.15,578.52 1395.18,575.52 1396.22,572.68 1397.26,569.99 1398.29,567.43 1399.33,565.01 1400.37,562.69 1401.40,560.48 1402.44,558.37 1403.47,556.35 1404.51,554.41 1405.55,552.56 1406.58,550.77 1407.62,549.05 1408.65,547.40 1409.69,545.81 1410.73,544.27 1411.76,542.79 1412.80,541.35 1413.84,539.97 1414.87,538.63 1415.91,537.33 1416.94,536.07 1417.98,534.86 1419.02,533.67 1420.05,532.53 1421.09,531.42 1422.12,530.34 1423.16,529.29 1424.20,528.27 1425.23,527.27 1426.27,526.31 1427.31,525.37 1428.34,524.45 1429.38,523.56 1430.41,522.69 1431.45,521.85 1432.49,521.02 1433.52,520.22 1434.56,519.43 1435.59,518.67 1436.63,517.92 1437.67,517.19 1438.70,516.47 1439.74,515.78 1440.78,515.09 1441.81,514.43 1442.85,513.78 1443.88,513.14 1444.92,512.52 1445.96,511.91 1446.99,511.31 1448.03,510.73 1449.06,510.16 1450.10,509.60 1451.14,509.05 1452.17,508.52 1453.21,507.99 1454.25,507.48 1455.28,506.98 1456.32,506.48 1457.35,506.00 1458.39,505.52 1459.43,505.06 1460.46,504.60 1461.50,504.16 1462.53,503.72 1463.57,503.29 1464.61,502.86 1465.64,502.45 1466.68,502.04 1467.71,501.65 1468.75,501.25 1469.79,500.87 1470.82,500.49 1471.86,500.12 1472.90,499.76 1473.93,499.40 1474.97,499.05 1476.00,498.71 1477.04,498.37 1478.08,498.04 1479.11,497.71 1480.15,497.39 1481.18,497.07 1482.22,496.77 1483.26,496.46 1484.29,496.16 1485.33,495.87 1486.37,495.58 1487.40,495.30 1488.44,495.02 1489.47,494.74 1490.51,494.47 1491.55,494.21 1492.58,493.95 1493.62,493.69 1494.65,493.44 1495.69,493.19 1496.73,492.95 1497.76,492.71 1498.80,492.47 1499.84,492.24 1500.87,492.01 1501.91,491.78 1502.94,491.56 1503.98,491.35 1505.02,491.13 1506.05,490.92 1507.09,490.71 1508.12,490.51 1509.16,490.31 1510.20,490.11 1511.23,489.92 1512.27,489.73 1513.31,489.54 1514.34,489.35 1515.38,489.17 1516.41,488.99 1517.45,488.82 1518.49,488.64 1519.52,488.47 1520.56,488.30 1521.59,488.14 1522.63,487.98 1523.67,487.82 1524.70,487.66 1525.74,487.50 1526.78,487.35 1527.81,487.20 1528.85,487.05 1529.88,486.90 1530.92,486.76 1531.96,486.62 1532.99,486.48 1534.03,486.34 1535.06,486.21 1536.10,486.07 1537.14,485.94 1538.17,485.81 1539.21,485.69 1540.25,485.56 1541.28,485.44 1542.32,485.32 1543.35,485.20 1544.39,485.08 1545.43,484.97 1546.46,484.85 1547.50,484.74 1548.53,484.63 1549.57,484.52 1550.61,484.42 1551.64,484.31 1552.68,484.21 1553.71,484.11 1554.75,484.01 1555.79,483.91 1556.82,483.81 1557.86,483.71 1558.90,483.62 1559.93,483.53 1560.97,483.44 1562.00,483.35 1563.04,483.26 1564.08,483.17 1565.11,483.09 1566.15,483.00 1567.18,482.92 1568.22,482.84 1569.26,482.76 1570.29,482.68 1571.33,482.60 1572.37,482.52 1573.40,482.45 1574.44,482.38 1575.47,482.30 1576.51,482.23 1577.55,482.16 1578.58,482.09 1579.62,482.02 1580.65,481.96 1581.69,481.89 1582.73,481.83 1583.76,481.76 1584.80,481.70 1585.84,481.64 1586.87,481.58 1587.91,481.52 1588.94,481.46 1589.98,481.40 1591.02,481.34 1592.05,481.29 1593.09,481.23 1594.12,481.18 1595.16,481.13 1596.20,481.07 1597.23,481.02 1598.27,480.97 1599.31,480.92 1600.34,480.88 1601.38,480.83 1602.41,480.78 1603.45,480.74 1604.49,480.69 1605.52,480.65 1606.56,480.60 1607.59,480.56 1608.63,480.52 1609.67,480.48 1610.70,480.44 1611.74,480.40 1612.78,480.36 1613.81,480.32 1614.85,480.28 1615.88,480.25 1616.92,480.21 1617.96,480.18 1618.99,480.14 1620.03,480.11 1621.06,480.07 1622.10,480.04 1623.14,480.01 1624.17,479.98 1625.21,479.95 1626.25,479.92 1627.28,479.89 1628.32,479.86 1629.35,479.83 1630.39,479.81 1631.43,479.78 1632.46,479.75 1633.50,479.73 1634.53,479.70 1635.57,479.68 1636.61,479.65 1637.64,479.63 1638.68,479.61 1639.72,479.58 1640.75,479.56 1641.79,479.54 1642.82,479.52 1643.86,479.50 1644.90,479.48 1645.93,479.46 1646.97,479.44 1648.00,479.43 1649.04,479.41 1650.08,479.39 1651.11,479.37 1652.15,479.36 1653.18,479.34 1654.22,479.33 1655.26,479.31 1656.29,479.30 1657.33,479.28 1658.37,479.27 1659.40,479.26 1660.44,479.25 1661.47,479.23 1662.51,479.22 1663.55,479.21 1664.58,479.20 1665.62,479.19 1666.65,479.18 1667.69,479.17 1668.73,479.16 1669.76,479.15 1670.80,479.14 1671.84,479.13 1672.87,479.13 1673.91,479.12 1674.94,479.11 1675.98,479.11 1677.02,479.10 1678.05,479.10 1679.09,479.09 1680.12,479.08 1681.16,479.08 1682.20,479.08 1683.23,479.07 1684.27,479.07 1685.31,479.07 1686.34,479.06 1687.38,479.06 1688.41,479.06 1689.45,479.06" fill="none" stroke="#1fc9ef" stroke-width="5.0" stroke-linejoin="round" stroke-linecap="square" clip-path="url(#c13)"/>
<polyline points="1376.45,792.06 1376.45,791.33 1376.45,791.20 1376.45,791.05 1376.45,790.88 1376.45,790.67 1376.45,790.44 1376.45,790.17 1376.45,789.85 1376.45,789.48 1376.45,789.06 1376.45,788.57 1376.45,788.01 1376.46,787.37 1376.46,786.62 1376.46,785.77 1376.46,784.80 1376.46,783.68 1376.47,782.41 1376.47,780.96 1376.48,779.32 1376.49,777.46 1376.49,775.35 1376.51,772.97 1376.52,770.29 1376.54,767.28 1376.56,763.91 1376.60,760.14 1376.63,755.94 1376.68,751.28 1376.75,746.12 1376.82,740.43 1376.92,734.17 1377.05,727.32 1377.21,719.84 1377.41,711.71 1377.67,702.93 1377.99,693.48 1378.40,683.36 1378.92,672.58 1379.58,661.19 1379.64,660.21 1380.68,645.84 1381.71,634.13 1382.75,624.27 1383.79,615.75 1384.82,608.26 1385.86,601.60 1386.90,595.61 1387.93,590.18 1388.97,585.21 1390.00,580.65 1391.04,576.44 1392.08,572.53 1393.11,568.89 1394.15,565.49 1395.18,562.30 1396.22,559.31 1397.26,556.48 1398.29,553.82 1399.33,551.30 1400.37,548.91 1401.40,546.64 1402.44,544.49 1403.47,542.44 1404.51,540.48 1405.55,538.61 1406.58,536.82 1407.62,535.11 1408.65,533.48 1409.69,531.91 1410.73,530.40 1411.76,528.95 1412.80,527.56 1413.84,526.22 1414.87,524.94 1415.91,523.70 1416.94,522.50 1417.98,521.35 1419.02,520.23 1420.05,519.16 1421.09,518.12 1422.12,517.12 1423.16,516.15 1424.20,515.21 1425.23,514.30 1426.27,513.42 1427.31,512.56 1428.34,511.74 1429.38,510.94 1430.41,510.16 1431.45,509.41 1432.49,508.67 1433.52,507.96 1434.56,507.27 1435.59,506.60 1436.63,505.95 1437.67,505.32 1438.70,504.70 1439.74,504.11 1440.78,503.52 1441.81,502.96 1442.85,502.41 1443.88,501.87 1444.92,501.35 1445.96,500.84 1446.99,500.34 1448.03,499.86 1449.06,499.39 1450.10,498.93 1451.14,498.48 1452.17,498.05 1453.21,497.62 1454.25,497.21 1455.28,496.80 1456.32,496.41 1457.35,496.02 1458.39,495.65 1459.43,495.28 1460.46,494.92 1461.50,494.57 1462.53,494.23 1463.57,493.90 1464.61,493.57 1465.64,493.25 1466.68,492.94 1467.71,492.64 1468.75,492.34 1469.79,492.05 1470.82,491.77 1471.86,491.49 1472.90,491.22 1473.93,490.96 1474.97,490.70 1476.00,490.45 1477.04,490.20 1478.08,489.96 1479.11,489.72 1480.15,489.49 1481.18,489.26 1482.22,489.04 1483.26,488.82 1484.29,488.61 1485.33,488.40 1486.37,488.20 1487.40,488.00 1488.44,487.81 1489.47,487.62 1490.51,487.43 1491.55,487.25 1492.58,487.07 1493.62,486.90 1494.65,486.73 1495.69,486.56 1496.73,486.39 1497.76,486.23 1498.80,486.08 1499.84,485.92 1500.87,485.77 1501.91,485.63 1502.94,485.48 1503.98,485.34 1505.02,485.20 1506.05,485.07 1507.09,484.93 1508.12,484.80 1509.16,484.68 1510.20,484.55 1511.23,484.43 1512.27,484.31 1513.31,484.19 1514.34,484.08 1515.38,483.96 1516.41,483.85 1517.45,483.75 1518.49,483.64 1519.52,483.54 1520.56,483.43 1521.59,483.34 1522.63,483.24 1523.67,483.14 1524.70,483.05 1525.74,482.96 1526.78,482.87 1527.81,482.78 1528.85,482.69 1529.88,482.61 1530.92,482.53 1531.96,482.45 1532.99,482.37 1534.03,482.29 1535.06,482.21 1536.10,482.14 1537.14,482.07 1538.17,481.99 1539.21,481.92 1540.25,481.86 1541.28,481.79 1542.32,481.72 1543.35,481.66 1544.39,481.60 1545.43,481.53 1546.46,481.47 1547.50,481.41 1548.53,481.36 1549.57,481.30 1550.61,481.24 1551.64,481.19 1552.68,481.14 1553.71,481.08 1554.75,481.03 1555.79,480.98 1556.82,480.93 1557.86,480.89 1558.90,480.84 1559.93,480.79 1560.97,480.75 1562.00,480.70 1563.04,480.66 1564.08,480.62 1565.11,480.58 1566.15,480.54 1567.18,480.50 1568.22,480.46 1569.26,480.42 1570.29,480.38 1571.33,480.35 1572.37,480.31 1573.40,480.28 1574.44,480.24 1575.47,480.21 1576.51,480.18 1577.55,480.15 1578.58,480.12 1579.62,480.09 1580.65,480.06 1581.69,480.03 1582.73,480.00 1583.76,479.97 1584.80,479.94 1585.84,479.92 1586.87,479.89 1587.91,479.87 1588.94,479.84 1589.98,479.82 1591.02,479.80 1592.05,479.77 1593.09,479.75 1594.12,479.73 1595.16,479.71 1596.20,479.69 1597.23,479.67 1598.27,479.65 1599.31,479.63 1600.34,479.61 1601.38,479.59 1602.41,479.57 1603.45,479.55 1604.49,479.54 1605.52,479.52 1606.56,479.51 1607.59,479.49 1608.63,479.47 1609.67,479.46 1610.70,479.45 1611.74,479.43 1612.78,479.42 1613.81,479.40 1614.85,479.39 1615.88,479.38 1616.92,479.37 1617.96,479.35 1618.99,479.34 1620.03,479.33 1621.06,479.32 1622.10,479.31 1623.14,479.30 1624.17,479.29 1625.21,479.28 1626.25,479.27 1627.28,479.26 1628.32,479.25 1629.35,479.24 1630.39,479.24 1631.43,479.23 1632.46,479.22 1633.50,479.21 1634.53,479.20 1635.57,479.20 1636.61,479.19 1637.64,479.18 1638.68,479.18 1639.72,479.17 1640.75,479.17 1641.79,479.16 1642.82,479.15 1643.86,479.15 1644.90,479.14 1645.93,479.14 1646.97,479.13 1648.00,479.13 1649.04,479.13 1650.08,479.12 1651.11,479.12 1652.15,479.11 1653.18,479.11 1654.22,479.11 1655.26,479.10 1656.29,479.10 1657.33,479.10 1658.37,479.09 1659.40,479.09 1660.44,479.09 1661.47,479.09 1662.51,479.08 1663.55,479.08 1664.58,479.08 1665.62,479.08 1666.65,479.08 1667.69,479.07 1668.73,479.07 1669.76,479.07 1670.80,479.07 1671.84,479.07 1672.87,479.07 1673.91,479.07 1674.94,479.07 1675.98,479.07 1677.02,479.06 1678.05,479.06 1679.09,479.06 1680.12,479.06 1681.16,479.06 1682.20,479.06 1683.23,479.06 1684.27,479.06 1685.31,479.06 1686.34,479.06 1687.38,479.06 1688.41,479.06 1689.45,479.06" fill="none" stroke="#f3c676" stroke-width="5.0" stroke-linejoin="round" stroke-linecap="square" clip-path="url(#c13)"/>
<polyline points="1376.45,792.06 1376.45,790.24 1376.45,789.99 1376.45,789.70 1376.45,789.38 1376.45,789.02 1376.45,788.61 1376.45,788.16 1376.45,787.64 1376.45,787.06 1376.45,786.40 1376.45,785.67 1376.45,784.85 1376.46,783.93 1376.46,782.90 1376.46,781.75 1376.46,780.46 1376.46,779.03 1376.47,777.44 1376.47,775.67 1376.48,773.71 1376.49,771.54 1376.49,769.13 1376.51,766.48 1376.52,763.55 1376.54,760.33 1376.56,756.79 1376.60,752.92 1376.63,748.67 1376.68,744.05 1376.75,739.01 1376.82,733.53 1376.92,727.60 1377.05,721.19 1377.21,714.29 1377.41,706.87 1377.67,698.93 1377.99,690.46 1378.40,681.45 1378.92,671.92 1379.58,661.87 1379.64,661.01 1380.68,648.36 1381.71,638.06 1382.75,629.35 1383.79,621.80 1384.82,615.15 1385.86,609.20 1386.90,603.82 1387.93,598.92 1388.97,594.42 1390.00,590.27 1391.04,586.41 1392.08,582.82 1393.11,579.46 1394.15,576.30 1395.18,573.32 1396.22,570.51 1397.26,567.85 1398.29,565.33 1399.33,562.93 1400.37,560.65 1401.40,558.47 1402.44,556.38 1403.47,554.39 1404.51,552.48 1405.55,550.65 1406.58,548.89 1407.62,547.20 1408.65,545.57 1409.69,544.00 1410.73,542.49 1411.76,541.03 1412.80,539.62 1413.84,538.26 1414.87,536.94 1415.91,535.67 1416.94,534.43 1417.98,533.24 1419.02,532.08 1420.05,530.95 1421.09,529.86 1422.12,528.80 1423.16,527.78 1424.20,526.78 1425.23,525.80 1426.27,524.86 1427.31,523.94 1428.34,523.04 1429.38,522.17 1430.41,521.32 1431.45,520.49 1432.49,519.68 1433.52,518.90 1434.56,518.13 1435.59,517.38 1436.63,516.65 1437.67,515.94 1438.70,515.24 1439.74,514.56 1440.78,513.89 1441.81,513.24 1442.85,512.61 1443.88,511.99 1444.92,511.38 1445.96,510.79 1446.99,510.21 1448.03,509.64 1449.06,509.08 1450.10,508.54 1451.14,508.00 1452.17,507.48 1453.21,506.97 1454.25,506.47 1455.28,505.98 1456.32,505.50 1457.35,505.03 1458.39,504.57 1459.43,504.11 1460.46,503.67 1461.50,503.24 1462.53,502.81 1463.57,502.39 1464.61,501.98 1465.64,501.58 1466.68,501.19 1467.71,500.80 1468.75,500.42 1469.79,500.04 1470.82,499.68 1471.86,499.32 1472.90,498.97 1473.93,498.62 1474.97,498.28 1476.00,497.95 1477.04,497.62 1478.08,497.30 1479.11,496.98 1480.15,496.67 1481.18,496.36 1482.22,496.06 1483.26,495.77 1484.29,495.48 1485.33,495.20 1486.37,494.92 1487.40,494.64 1488.44,494.37 1489.47,494.11 1490.51,493.84 1491.55,493.59 1492.58,493.34 1493.62,493.09 1494.65,492.84 1495.69,492.60 1496.73,492.37 1497.76,492.14 1498.80,491.91 1499.84,491.68 1500.87,491.46 1501.91,491.25 1502.94,491.03 1503.98,490.82 1505.02,490.62 1506.05,490.41 1507.09,490.21 1508.12,490.02 1509.16,489.82 1510.20,489.63 1511.23,489.45 1512.27,489.26 1513.31,489.08 1514.34,488.90 1515.38,488.73 1516.41,488.56 1517.45,488.39 1518.49,488.22 1519.52,488.05 1520.56,487.89 1521.59,487.73 1522.63,487.58 1523.67,487.42 1524.70,487.27 1525.74,487.12 1526.78,486.97 1527.81,486.83 1528.85,486.68 1529.88,486.54 1530.92,486.41 1531.96,486.27 1532.99,486.14 1534.03,486.00 1535.06,485.87 1536.10,485.75 1537.14,485.62 1538.17,485.50 1539.21,485.38 1540.25,485.26 1541.28,485.14 1542.32,485.02 1543.35,484.91 1544.39,484.80 1545.43,484.68 1546.46,484.58 1547.50,484.47 1548.53,484.36 1549.57,484.26 1550.61,484.16 1551.64,484.06 1552.68,483.96 1553.71,483.86 1554.75,483.76 1555.79,483.67 1556.82,483.58 1557.86,483.48 1558.90,483.39 1559.93,483.31 1560.97,483.22 1562.00,483.13 1563.04,483.05 1564.08,482.97 1565.11,482.88 1566.15,482.80 1567.18,482.72 1568.22,482.65 1569.26,482.57 1570.29,482.49 1571.33,482.42 1572.37,482.35 1573.40,482.27 1574.44,482.20 1575.47,482.13 1576.51,482.07 1577.55,482.00 1578.58,481.93 1579.62,481.87 1580.65,481.80 1581.69,481.74 1582.73,481.68 1583.76,481.62 1584.80,481.56 1585.84,481.50 1586.87,481.44 1587.91,481.39 1588.94,481.33 1589.98,481.27 1591.02,481.22 1592.05,481.17 1593.09,481.12 1594.12,481.06 1595.16,481.01 1596.20,480.96 1597.23,480.92 1598.27,480.87 1599.31,480.82 1600.34,480.78 1601.38,480.73 1602.41,480.69 1603.45,480.64 1604.49,480.60 1605.52,480.56 1606.56,480.52 1607.59,480.48 1608.63,480.44 1609.67,480.40 1610.70,480.36 1611.74,480.32 1612.78,480.28 1613.81,480.25 1614.85,480.21 1615.88,480.18 1616.92,480.14 1617.96,480.11 1618.99,480.08 1620.03,480.05 1621.06,480.01 1622.10,479.98 1623.14,479.95 1624.17,479.92 1625.21,479.90 1626.25,479.87 1627.28,479.84 1628.32,479.81 1629.35,479.79 1630.39,479.76 1631.43,479.73 1632.46,479.71 1633.50,479.69 1634.53,479.66 1635.57,479.64 1636.61,479.62 1637.64,479.59 1638.68,479.57 1639.72,479.55 1640.75,479.53 1641.79,479.51 1642.82,479.49 1643.86,479.47 1644.90,479.45 1645.93,479.44 1646.97,479.42 1648.00,479.40 1649.04,479.39 1650.08,479.37 1651.11,479.35 1652.15,479.34 1653.18,479.32 1654.22,479.31 1655.26,479.30 1656.29,479.28 1657.33,479.27 1658.37,479.26 1659.40,479.24 1660.44,479.23 1661.47,479.22 1662.51,479.21 1663.55,479.20 1664.58,479.19 1665.62,479.18 1666.65,479.17 1667.69,479.16 1668.73,479.15 1669.76,479.14 1670.80,479.14 1671.84,479.13 1672.87,479.12 1673.91,479.12 1674.94,479.11 1675.98,479.10 1677.02,479.10 1678.05,479.09 1679.09,479.09 1680.12,479.08 1681.16,479.08 1682.20,479.08 1683.23,479.07 1684.27,479.07 1685.31,479.07 1686.34,479.06 1687.38,479.06 1688.41,479.06 1689.45,479.06" fill="none" stroke="#ae5450" stroke-width="5.0" stroke-linejoin="round" stroke-linecap="square" clip-path="url(#c13)"/>
<rect x="1360.50" y="472.50" width="335.00" height="335.00" fill="none" stroke="#363636" stroke-width="1.25"/>
<rect x="1544.00" y="530.80" width="136.00" height="135.70" fill="#fff" stroke="none"/>
<clipPath id="i13"><rect x="1544.00" y="530.80" width="136.00" height="135.70"/></clipPath>
<polyline points="1539.31,803.87 1540.06,794.55 1540.82,785.80 1541.57,777.57 1542.33,769.81 1543.08,762.48 1543.84,755.54 1544.59,748.97 1545.34,742.73 1546.10,736.80 1546.85,731.16 1547.61,725.78 1548.36,720.65 1549.11,715.75 1549.87,711.06 1550.62,706.57 1551.38,702.28 1552.13,698.15 1552.88,694.19 1553.64,690.39 1554.39,686.73 1555.15,683.21 1555.90,679.83 1556.65,676.56 1557.41,673.41 1558.16,670.37 1558.92,667.44 1559.67,664.60 1560.43,661.86 1561.18,659.21 1561.93,656.65 1562.69,654.17 1563.44,651.76 1564.20,649.43 1564.95,647.17 1565.70,644.97 1566.46,642.85 1567.21,640.78 1567.97,638.77 1568.72,636.82 1569.47,634.93 1570.23,633.08 1570.98,631.29 1571.74,629.54 1572.49,627.84 1573.25,626.19 1574.00,624.58 1574.75,623.01 1575.51,621.48 1576.26,619.98 1577.02,618.53 1577.77,617.11 1578.52,615.72 1579.28,614.37 1580.03,613.05 1580.79,611.76 1581.54,610.50 1582.29,609.27 1583.05,608.06 1583.80,606.89 1584.56,605.74 1585.31,604.61 1586.07,603.51 1586.82,602.44 1587.57,601.38 1588.33,600.35 1589.08,599.34 1589.84,598.36 1590.59,597.39 1591.34,596.44 1592.10,595.51 1592.85,594.60 1593.61,593.71 1594.36,592.83 1595.11,591.98 1595.87,591.13 1596.62,590.31 1597.38,589.50 1598.13,588.71 1598.89,587.93 1599.64,587.16 1600.39,586.41 1601.15,585.68 1601.90,584.96 1602.66,584.25 1603.41,583.55 1604.16,582.86 1604.92,582.19 1605.67,581.53 1606.43,580.88 1607.18,580.24 1607.93,579.62 1608.69,579.00 1609.44,578.39 1610.20,577.80 1610.95,577.21 1611.71,576.64 1612.46,576.07 1613.21,575.51 1613.97,574.96 1614.72,574.42 1615.48,573.89 1616.23,573.37 1616.98,572.86 1617.74,572.35 1618.49,571.85 1619.25,571.36 1620.00,570.88 1620.75,570.40 1621.51,569.93 1622.26,569.47 1623.02,569.02 1623.77,568.57 1624.53,568.13 1625.28,567.70 1626.03,567.27 1626.79,566.85 1627.54,566.43 1628.30,566.02 1629.05,565.62 1629.80,565.22 1630.56,564.83 1631.31,564.44 1632.07,564.06 1632.82,563.68 1633.57,563.31 1634.33,562.95 1635.08,562.59 1635.84,562.23 1636.59,561.88 1637.35,561.54 1638.10,561.20 1638.85,560.86 1639.61,560.53 1640.36,560.20 1641.12,559.88 1641.87,559.56 1642.62,559.24 1643.38,558.93 1644.13,558.62 1644.89,558.32 1645.64,558.02 1646.39,557.73 1647.15,557.44 1647.90,557.15 1648.66,556.86 1649.41,556.58 1650.17,556.31 1650.92,556.03 1651.67,555.76 1652.43,555.50 1653.18,555.23 1653.94,554.97 1654.69,554.71 1655.44,554.46 1656.20,554.21 1656.95,553.96 1657.71,553.72 1658.46,553.47 1659.21,553.24 1659.97,553.00 1660.72,552.77 1661.48,552.53 1662.23,552.31 1662.99,552.08 1663.74,551.86 1664.49,551.64 1665.25,551.42 1666.00,551.20 1666.76,550.99 1667.51,550.78 1668.26,550.57 1669.02,550.37 1669.77,550.16 1670.53,549.96 1671.28,549.76 1672.03,549.57 1672.79,549.37 1673.54,549.18 1674.30,548.99 1675.05,548.80 1675.81,548.62 1676.56,548.43 1677.31,548.25 1678.07,548.07 1678.82,547.89 1679.58,547.72 1680.33,547.54 1681.08,547.37 1681.84,547.20 1682.59,547.03 1683.35,546.86 1684.10,546.70 1684.85,546.53 1685.61,546.37 1686.36,546.21 1687.12,546.05 1687.87,545.90 1688.63,545.74 1689.38,545.59" fill="none" stroke="#1fc9ef" stroke-width="5.0" stroke-linejoin="round" stroke-linecap="square" clip-path="url(#i13)"/>
<polyline points="1539.31,753.97 1540.06,745.96 1540.82,738.49 1541.57,731.50 1542.33,724.94 1543.08,718.77 1543.84,712.95 1544.59,707.45 1545.34,702.24 1546.10,697.29 1546.85,692.59 1547.61,688.11 1548.36,683.84 1549.11,679.76 1549.87,675.86 1550.62,672.13 1551.38,668.55 1552.13,665.12 1552.88,661.82 1553.64,658.65 1554.39,655.60 1555.15,652.66 1555.90,649.82 1556.65,647.09 1557.41,644.45 1558.16,641.91 1558.92,639.44 1559.67,637.06 1560.43,634.76 1561.18,632.52 1561.93,630.36 1562.69,628.26 1563.44,626.23 1564.20,624.26 1564.95,622.34 1565.70,620.48 1566.46,618.67 1567.21,616.91 1567.97,615.20 1568.72,613.54 1569.47,611.92 1570.23,610.34 1570.98,608.81 1571.74,607.31 1572.49,605.85 1573.25,604.43 1574.00,603.04 1574.75,601.69 1575.51,600.37 1576.26,599.08 1577.02,597.82 1577.77,596.60 1578.52,595.39 1579.28,594.22 1580.03,593.07 1580.79,591.95 1581.54,590.86 1582.29,589.78 1583.05,588.74 1583.80,587.71 1584.56,586.70 1585.31,585.72 1586.07,584.76 1586.82,583.81 1587.57,582.89 1588.33,581.98 1589.08,581.09 1589.84,580.22 1590.59,579.37 1591.34,578.54 1592.10,577.72 1592.85,576.91 1593.61,576.12 1594.36,575.35 1595.11,574.59 1595.87,573.84 1596.62,573.11 1597.38,572.40 1598.13,571.69 1598.89,571.00 1599.64,570.32 1600.39,569.65 1601.15,568.99 1601.90,568.35 1602.66,567.71 1603.41,567.09 1604.16,566.48 1604.92,565.88 1605.67,565.29 1606.43,564.71 1607.18,564.13 1607.93,563.57 1608.69,563.02 1609.44,562.47 1610.20,561.94 1610.95,561.41 1611.71,560.89 1612.46,560.38 1613.21,559.88 1613.97,559.39 1614.72,558.90 1615.48,558.42 1616.23,557.95 1616.98,557.49 1617.74,557.03 1618.49,556.58 1619.25,556.14 1620.00,555.70 1620.75,555.27 1621.51,554.84 1622.26,554.43 1623.02,554.02 1623.77,553.61 1624.53,553.21 1625.28,552.82 1626.03,552.43 1626.79,552.05 1627.54,551.67 1628.30,551.30 1629.05,550.93 1629.80,550.57 1630.56,550.21 1631.31,549.86 1632.07,549.51 1632.82,549.17 1633.57,548.83 1634.33,548.50 1635.08,548.17 1635.84,547.85 1636.59,547.53 1637.35,547.21 1638.10,546.90 1638.85,546.60 1639.61,546.29 1640.36,545.99 1641.12,545.70 1641.87,545.41 1642.62,545.12 1643.38,544.83 1644.13,544.55 1644.89,544.28 1645.64,544.00 1646.39,543.73 1647.15,543.47 1647.90,543.21 1648.66,542.95 1649.41,542.69 1650.17,542.44 1650.92,542.19 1651.67,541.94 1652.43,541.69 1653.18,541.45 1653.94,541.21 1654.69,540.98 1655.44,540.75 1656.20,540.52 1656.95,540.29 1657.71,540.07 1658.46,539.84 1659.21,539.62 1659.97,539.41 1660.72,539.19 1661.48,538.98 1662.23,538.77 1662.99,538.57 1663.74,538.36 1664.49,538.16 1665.25,537.96 1666.00,537.76 1666.76,537.57 1667.51,537.38 1668.26,537.19 1669.02,537.00 1669.77,536.81 1670.53,536.63 1671.28,536.44 1672.03,536.26 1672.79,536.08 1673.54,535.91 1674.30,535.73 1675.05,535.56 1675.81,535.39 1676.56,535.22 1677.31,535.06 1678.07,534.89 1678.82,534.73 1679.58,534.57 1680.33,534.41 1681.08,534.25 1681.84,534.09 1682.59,533.94 1683.35,533.78 1684.10,533.63 1684.85,533.48 1685.61,533.33 1686.36,533.19 1687.12,533.04 1687.87,532.90 1688.63,532.76 1689.38,532.61" fill="none" stroke="#f3c676" stroke-width="5.0" stroke-linejoin="round" stroke-linecap="square" clip-path="url(#i13)"/>
<polyline points="1539.31,780.93 1540.06,772.54 1540.82,764.69 1541.57,757.33 1542.33,750.42 1543.08,743.91 1543.84,737.76 1544.59,731.94 1545.34,726.42 1546.10,721.19 1546.85,716.21 1547.61,711.46 1548.36,706.93 1549.11,702.61 1549.87,698.47 1550.62,694.51 1551.38,690.71 1552.13,687.07 1552.88,683.57 1553.64,680.20 1554.39,676.96 1555.15,673.85 1555.90,670.84 1556.65,667.94 1557.41,665.14 1558.16,662.44 1558.92,659.82 1559.67,657.29 1560.43,654.85 1561.18,652.48 1561.93,650.18 1562.69,647.96 1563.44,645.80 1564.20,643.70 1564.95,641.67 1565.70,639.69 1566.46,637.77 1567.21,635.91 1567.97,634.09 1568.72,632.32 1569.47,630.61 1570.23,628.93 1570.98,627.30 1571.74,625.71 1572.49,624.16 1573.25,622.65 1574.00,621.18 1574.75,619.74 1575.51,618.34 1576.26,616.97 1577.02,615.63 1577.77,614.32 1578.52,613.05 1579.28,611.80 1580.03,610.58 1580.79,609.39 1581.54,608.22 1582.29,607.08 1583.05,605.96 1583.80,604.87 1584.56,603.79 1585.31,602.75 1586.07,601.72 1586.82,600.71 1587.57,599.73 1588.33,598.76 1589.08,597.81 1589.84,596.88 1590.59,595.97 1591.34,595.08 1592.10,594.20 1592.85,593.34 1593.61,592.50 1594.36,591.67 1595.11,590.86 1595.87,590.06 1596.62,589.28 1597.38,588.51 1598.13,587.75 1598.89,587.01 1599.64,586.28 1600.39,585.56 1601.15,584.86 1601.90,584.17 1602.66,583.49 1603.41,582.82 1604.16,582.16 1604.92,581.51 1605.67,580.87 1606.43,580.25 1607.18,579.63 1607.93,579.03 1608.69,578.43 1609.44,577.84 1610.20,577.26 1610.95,576.69 1611.71,576.13 1612.46,575.58 1613.21,575.04 1613.97,574.50 1614.72,573.98 1615.48,573.46 1616.23,572.95 1616.98,572.44 1617.74,571.95 1618.49,571.46 1619.25,570.97 1620.00,570.50 1620.75,570.03 1621.51,569.57 1622.26,569.11 1623.02,568.66 1623.77,568.22 1624.53,567.79 1625.28,567.35 1626.03,566.93 1626.79,566.51 1627.54,566.10 1628.30,565.69 1629.05,565.29 1629.80,564.89 1630.56,564.50 1631.31,564.11 1632.07,563.73 1632.82,563.36 1633.57,562.99 1634.33,562.62 1635.08,562.26 1635.84,561.90 1636.59,561.55 1637.35,561.20 1638.10,560.85 1638.85,560.51 1639.61,560.18 1640.36,559.85 1641.12,559.52 1641.87,559.20 1642.62,558.88 1643.38,558.56 1644.13,558.25 1644.89,557.94 1645.64,557.64 1646.39,557.34 1647.15,557.04 1647.90,556.75 1648.66,556.46 1649.41,556.17 1650.17,555.88 1650.92,555.60 1651.67,555.33 1652.43,555.05 1653.18,554.78 1653.94,554.51 1654.69,554.25 1655.44,553.99 1656.20,553.73 1656.95,553.47 1657.71,553.22 1658.46,552.97 1659.21,552.72 1659.97,552.48 1660.72,552.23 1661.48,551.99 1662.23,551.76 1662.99,551.52 1663.74,551.29 1664.49,551.06 1665.25,550.83 1666.00,550.61 1666.76,550.39 1667.51,550.17 1668.26,549.95 1669.02,549.73 1669.77,549.52 1670.53,549.31 1671.28,549.10 1672.03,548.89 1672.79,548.69 1673.54,548.49 1674.30,548.28 1675.05,548.09 1675.81,547.89 1676.56,547.69 1677.31,547.50 1678.07,547.31 1678.82,547.12 1679.58,546.94 1680.33,546.75 1681.08,546.57 1681.84,546.38 1682.59,546.21 1683.35,546.03 1684.10,545.85 1684.85,545.68 1685.61,545.50 1686.36,545.33 1687.12,545.16 1687.87,544.99 1688.63,544.83 1689.38,544.66" fill="none" stroke="#ae5450" stroke-width="5.0" stroke-linejoin="round" stroke-linecap="square" clip-path="url(#i13)"/>
<rect x="1544.50" y="530.50" width="136.00" height="136.00" fill="none" stroke="#363636" stroke-width="1.2"/>
<line x1="1553.38" y1="666.50" x2="1553.38" y2="668.50" stroke="#363636" stroke-width="0.9"/>
<text x="1553.38" y="682.00" font-size="13.9" text-anchor="middle" fill="#000">0.05</text>
<line x1="1582.69" y1="666.50" x2="1582.69" y2="668.50" stroke="#363636" stroke-width="0.9"/>
<text x="1582.69" y="682.00" font-size="13.9" text-anchor="middle" fill="#000">0.11</text>
<line x1="1612.00" y1="666.50" x2="1612.00" y2="668.50" stroke="#363636" stroke-width="0.9"/>
<text x="1612.00" y="682.00" font-size="13.9" text-anchor="middle" fill="#000">0.17</text>
<line x1="1641.31" y1="666.50" x2="1641.31" y2="668.50" stroke="#363636" stroke-width="0.9"/>
<text x="1641.31" y="682.00" font-size="13.9" text-anchor="middle" fill="#000">0.24</text>
<line x1="1670.62" y1="666.50" x2="1670.62" y2="668.50" stroke="#363636" stroke-width="0.9"/>
<text x="1670.62" y="682.00" font-size="13.9" text-anchor="middle" fill="#000">0.30</text>
<line x1="1544.00" y1="657.14" x2="1542.00" y2="657.14" stroke="#363636" stroke-width="0.9"/>
<text x="1537.60" y="662.04" font-size="13.9" text-anchor="end" fill="#000">0.70</text>
<line x1="1544.00" y1="627.90" x2="1542.00" y2="627.90" stroke="#363636" stroke-width="0.9"/>
<text x="1537.60" y="632.80" font-size="13.9" text-anchor="end" fill="#000">0.76</text>
<line x1="1544.00" y1="598.65" x2="1542.00" y2="598.65" stroke="#363636" stroke-width="0.9"/>
<text x="1537.60" y="603.55" font-size="13.9" text-anchor="end" fill="#000">0.82</text>
<line x1="1544.00" y1="569.40" x2="1542.00" y2="569.40" stroke="#363636" stroke-width="0.9"/>
<text x="1537.60" y="574.30" font-size="13.9" text-anchor="end" fill="#000">0.89</text>
<line x1="1544.00" y1="540.16" x2="1542.00" y2="540.16" stroke="#363636" stroke-width="0.9"/>
<text x="1537.60" y="545.06" font-size="13.9" text-anchor="end" fill="#000">0.95</text>
<rect x="1438.50" y="732.50" width="250.00" height="68.00" rx="3.5" fill="#fff" fill-opacity="0.85" stroke="#555" stroke-width="1.05"/>
<line x1="1442.51" y1="744.01" x2="1476.91" y2="744.01" stroke="#1fc9ef" stroke-width="5"/>
<text x="1486.31" y="749.01" font-size="14.8" text-anchor="start" fill="#000">10x AUC: 0.927 (0.893-0.962)</text>
<line x1="1442.51" y1="765.36" x2="1476.91" y2="765.36" stroke="#f3c676" stroke-width="5"/>
<text x="1486.31" y="770.36" font-size="14.8" text-anchor="start" fill="#000">20x AUC: 0.942 (0.913-0.971)</text>
<line x1="1442.51" y1="786.71" x2="1476.91" y2="786.71" stroke="#ae5450" stroke-width="5"/>
<text x="1486.31" y="791.71" font-size="14.8" text-anchor="start" fill="#000">40x AUC: 0.927 (0.893-0.960)</text>
<clipPath id="c14"><rect x="1777.20" y="472.80" width="334.91" height="334.91"/></clipPath>
<line x1="1792.85" y1="807.71" x2="1792.85" y2="810.21" stroke="#363636" stroke-width="1"/>
<line x1="1777.20" y1="792.06" x2="1774.70" y2="792.06" stroke="#363636" stroke-width="1"/>
<text x="1792.85" y="828.91" font-size="21" text-anchor="middle" fill="#000">0.0</text>
<text x="1771.40" y="799.56" font-size="21" text-anchor="end" fill="#000">0.0</text>
<line x1="1855.45" y1="807.71" x2="1855.45" y2="810.21" stroke="#363636" stroke-width="1"/>
<line x1="1777.20" y1="729.46" x2="1774.70" y2="729.46" stroke="#363636" stroke-width="1"/>
<text x="1855.45" y="828.91" font-size="21" text-anchor="middle" fill="#000">0.2</text>
<text x="1771.40" y="736.96" font-size="21" text-anchor="end" fill="#000">0.2</text>
<line x1="1918.05" y1="807.71" x2="1918.05" y2="810.21" stroke="#363636" stroke-width="1"/>
<line x1="1777.20" y1="666.86" x2="1774.70" y2="666.86" stroke="#363636" stroke-width="1"/>
<text x="1918.05" y="828.91" font-size="21" text-anchor="middle" fill="#000">0.4</text>
<text x="1771.40" y="674.36" font-size="21" text-anchor="end" fill="#000">0.4</text>
<line x1="1980.65" y1="807.71" x2="1980.65" y2="810.21" stroke="#363636" stroke-width="1"/>
<line x1="1777.20" y1="604.26" x2="1774.70" y2="604.26" stroke="#363636" stroke-width="1"/>
<text x="1980.65" y="828.91" font-size="21" text-anchor="middle" fill="#000">0.6</text>
<text x="1771.40" y="611.76" font-size="21" text-anchor="end" fill="#000">0.6</text>
<line x1="2043.25" y1="807.71" x2="2043.25" y2="810.21" stroke="#363636" stroke-width="1"/>
<line x1="1777.20" y1="541.66" x2="1774.70" y2="541.66" stroke="#363636" stroke-width="1"/>
<text x="2043.25" y="828.91" font-size="21" text-anchor="middle" fill="#000">0.8</text>
<text x="1771.40" y="549.16" font-size="21" text-anchor="end" fill="#000">0.8</text>
<line x1="2105.85" y1="807.71" x2="2105.85" y2="810.21" stroke="#363636" stroke-width="1"/>
<line x1="1777.20" y1="479.06" x2="1774.70" y2="479.06" stroke="#363636" stroke-width="1"/>
<text x="2105.85" y="828.91" font-size="21" text-anchor="middle" fill="#000">1.0</text>
<text x="1771.40" y="486.56" font-size="21" text-anchor="end" fill="#000">1.0</text>
<text x="1944.66" y="853.71" font-size="23" text-anchor="middle" fill="#000">1-Specificity</text>
<line x1="1792.85" y1="792.06" x2="2105.85" y2="479.06" stroke="#9a9a9a" stroke-width="1.75" stroke-dasharray="5.9,2.6"/>
<polyline points="1792.85,792.06 1792.85,767.82 1792.85,766.65 1792.85,765.42 1792.85,764.14 1792.85,762.80 1792.85,761.39 1792.85,759.93 1792.85,758.39 1792.85,756.79 1792.85,755.11 1792.85,753.36 1792.85,751.54 1792.86,749.63 1792.86,747.63 1792.86,745.55 1792.86,743.37 1792.86,741.10 1792.87,738.74 1792.87,736.27 1792.88,733.69 1792.89,731.00 1792.89,728.20 1792.91,725.28 1792.92,722.23 1792.94,719.06 1792.96,715.75 1793.00,712.31 1793.03,708.73 1793.08,704.99 1793.15,701.11 1793.22,697.07 1793.32,692.87 1793.45,688.50 1793.61,683.96 1793.81,679.24 1794.07,674.33 1794.39,669.24 1794.80,663.95 1795.32,658.46 1795.98,652.77 1796.04,652.28 1797.08,645.21 1798.11,639.48 1799.15,634.63 1800.19,630.43 1801.22,626.70 1802.26,623.34 1803.30,620.29 1804.33,617.49 1805.37,614.89 1806.40,612.47 1807.44,610.20 1808.48,608.07 1809.51,606.06 1810.55,604.14 1811.58,602.33 1812.62,600.59 1813.66,598.94 1814.69,597.35 1815.73,595.82 1816.77,594.36 1817.80,592.94 1818.84,591.58 1819.87,590.26 1820.91,588.98 1821.95,587.75 1822.98,586.55 1824.02,585.38 1825.05,584.25 1826.09,583.15 1827.13,582.08 1828.16,581.03 1829.20,580.01 1830.24,579.02 1831.27,578.05 1832.31,577.10 1833.34,576.17 1834.38,575.26 1835.42,574.38 1836.45,573.50 1837.49,572.65 1838.52,571.82 1839.56,571.00 1840.60,570.19 1841.63,569.40 1842.67,568.62 1843.71,567.86 1844.74,567.11 1845.78,566.38 1846.81,565.65 1847.85,564.94 1848.89,564.24 1849.92,563.55 1850.96,562.87 1851.99,562.20 1853.03,561.54 1854.07,560.89 1855.10,560.25 1856.14,559.61 1857.18,558.99 1858.21,558.38 1859.25,557.77 1860.28,557.17 1861.32,556.58 1862.36,555.99 1863.39,555.42 1864.43,554.85 1865.46,554.29 1866.50,553.73 1867.54,553.18 1868.57,552.64 1869.61,552.10 1870.65,551.57 1871.68,551.05 1872.72,550.53 1873.75,550.01 1874.79,549.51 1875.83,549.00 1876.86,548.51 1877.90,548.01 1878.93,547.53 1879.97,547.04 1881.01,546.57 1882.04,546.09 1883.08,545.62 1884.11,545.16 1885.15,544.70 1886.19,544.25 1887.22,543.79 1888.26,543.35 1889.30,542.90 1890.33,542.46 1891.37,542.03 1892.40,541.60 1893.44,541.17 1894.48,540.74 1895.51,540.32 1896.55,539.90 1897.58,539.49 1898.62,539.08 1899.66,538.67 1900.69,538.27 1901.73,537.87 1902.77,537.47 1903.80,537.07 1904.84,536.68 1905.87,536.29 1906.91,535.90 1907.95,535.52 1908.98,535.14 1910.02,534.76 1911.05,534.39 1912.09,534.01 1913.13,533.64 1914.16,533.27 1915.20,532.91 1916.24,532.55 1917.27,532.19 1918.31,531.83 1919.34,531.47 1920.38,531.12 1921.42,530.77 1922.45,530.42 1923.49,530.07 1924.52,529.73 1925.56,529.38 1926.60,529.04 1927.63,528.70 1928.67,528.37 1929.71,528.03 1930.74,527.70 1931.78,527.37 1932.81,527.04 1933.85,526.71 1934.89,526.39 1935.92,526.06 1936.96,525.74 1937.99,525.42 1939.03,525.11 1940.07,524.79 1941.10,524.47 1942.14,524.16 1943.18,523.85 1944.21,523.54 1945.25,523.23 1946.28,522.92 1947.32,522.62 1948.36,522.31 1949.39,522.01 1950.43,521.71 1951.46,521.41 1952.50,521.11 1953.54,520.82 1954.57,520.52 1955.61,520.23 1956.65,519.93 1957.68,519.64 1958.72,519.35 1959.75,519.06 1960.79,518.78 1961.83,518.49 1962.86,518.20 1963.90,517.92 1964.93,517.64 1965.97,517.35 1967.01,517.07 1968.04,516.79 1969.08,516.52 1970.11,516.24 1971.15,515.96 1972.19,515.69 1973.22,515.41 1974.26,515.14 1975.30,514.87 1976.33,514.60 1977.37,514.33 1978.40,514.06 1979.44,513.79 1980.48,513.52 1981.51,513.26 1982.55,512.99 1983.58,512.72 1984.62,512.46 1985.66,512.20 1986.69,511.94 1987.73,511.67 1988.77,511.41 1989.80,511.15 1990.84,510.90 1991.87,510.64 1992.91,510.38 1993.95,510.12 1994.98,509.87 1996.02,509.61 1997.05,509.36 1998.09,509.10 1999.13,508.85 2000.16,508.60 2001.20,508.35 2002.24,508.09 2003.27,507.84 2004.31,507.59 2005.34,507.34 2006.38,507.09 2007.42,506.85 2008.45,506.60 2009.49,506.35 2010.52,506.10 2011.56,505.86 2012.60,505.61 2013.63,505.37 2014.67,505.12 2015.71,504.88 2016.74,504.63 2017.78,504.39 2018.81,504.14 2019.85,503.90 2020.89,503.66 2021.92,503.42 2022.96,503.17 2023.99,502.93 2025.03,502.69 2026.07,502.45 2027.10,502.21 2028.14,501.97 2029.18,501.73 2030.21,501.49 2031.25,501.25 2032.28,501.01 2033.32,500.77 2034.36,500.53 2035.39,500.29 2036.43,500.05 2037.46,499.81 2038.50,499.57 2039.54,499.33 2040.57,499.09 2041.61,498.85 2042.65,498.61 2043.68,498.37 2044.72,498.13 2045.75,497.89 2046.79,497.65 2047.83,497.41 2048.86,497.17 2049.90,496.93 2050.93,496.69 2051.97,496.45 2053.01,496.21 2054.04,495.97 2055.08,495.73 2056.12,495.49 2057.15,495.24 2058.19,495.00 2059.22,494.76 2060.26,494.51 2061.30,494.27 2062.33,494.02 2063.37,493.77 2064.40,493.53 2065.44,493.28 2066.48,493.03 2067.51,492.78 2068.55,492.53 2069.58,492.27 2070.62,492.02 2071.66,491.77 2072.69,491.51 2073.73,491.25 2074.77,490.99 2075.80,490.73 2076.84,490.47 2077.87,490.20 2078.91,489.94 2079.95,489.67 2080.98,489.40 2082.02,489.12 2083.05,488.84 2084.09,488.56 2085.13,488.28 2086.16,487.99 2087.20,487.70 2088.24,487.40 2089.27,487.10 2090.31,486.80 2091.34,486.48 2092.38,486.16 2093.42,485.84 2094.45,485.50 2095.49,485.16 2096.52,484.80 2097.56,484.43 2098.60,484.04 2099.63,483.63 2100.67,483.19 2101.71,482.72 2102.74,482.20 2103.78,481.60 2104.81,480.85 2105.85,479.06" fill="none" stroke="#1fc9ef" stroke-width="5.0" stroke-linejoin="round" stroke-linecap="square" clip-path="url(#c14)"/>
<polyline points="1792.85,792.06 1792.85,790.56 1792.85,790.39 1792.85,790.19 1792.85,789.97 1792.85,789.72 1792.85,789.44 1792.85,789.14 1792.85,788.79 1792.85,788.41 1792.85,787.99 1792.85,787.52 1792.85,787.00 1792.86,786.42 1792.86,785.78 1792.86,785.07 1792.86,784.28 1792.86,783.40 1792.87,782.43 1792.87,781.36 1792.88,780.18 1792.89,778.87 1792.89,777.43 1792.91,775.83 1792.92,774.08 1792.94,772.14 1792.96,770.02 1793.00,767.68 1793.03,765.11 1793.08,762.30 1793.15,759.21 1793.22,755.84 1793.32,752.14 1793.45,748.11 1793.61,743.72 1793.81,738.93 1794.07,733.73 1794.39,728.08 1794.80,721.95 1795.32,715.33 1795.98,708.17 1796.04,707.55 1797.08,698.26 1798.11,690.44 1799.15,683.64 1800.19,677.61 1801.22,672.16 1802.26,667.18 1803.30,662.60 1804.33,658.34 1805.37,654.35 1806.40,650.61 1807.44,647.09 1808.48,643.75 1809.51,640.57 1810.55,637.55 1811.58,634.66 1812.62,631.89 1813.66,629.24 1814.69,626.69 1815.73,624.23 1816.77,621.87 1817.80,619.58 1818.84,617.37 1819.87,615.23 1820.91,613.16 1821.95,611.15 1822.98,609.20 1824.02,607.30 1825.05,605.45 1826.09,603.66 1827.13,601.91 1828.16,600.20 1829.20,598.54 1830.24,596.92 1831.27,595.33 1832.31,593.78 1833.34,592.27 1834.38,590.79 1835.42,589.34 1836.45,587.92 1837.49,586.54 1838.52,585.18 1839.56,583.84 1840.60,582.54 1841.63,581.25 1842.67,580.00 1843.71,578.76 1844.74,577.55 1845.78,576.36 1846.81,575.19 1847.85,574.04 1848.89,572.91 1849.92,571.80 1850.96,570.71 1851.99,569.64 1853.03,568.58 1854.07,567.54 1855.10,566.52 1856.14,565.51 1857.18,564.52 1858.21,563.54 1859.25,562.58 1860.28,561.64 1861.32,560.70 1862.36,559.78 1863.39,558.87 1864.43,557.98 1865.46,557.10 1866.50,556.23 1867.54,555.37 1868.57,554.52 1869.61,553.69 1870.65,552.86 1871.68,552.05 1872.72,551.25 1873.75,550.46 1874.79,549.68 1875.83,548.90 1876.86,548.14 1877.90,547.39 1878.93,546.64 1879.97,545.91 1881.01,545.18 1882.04,544.47 1883.08,543.76 1884.11,543.06 1885.15,542.37 1886.19,541.68 1887.22,541.01 1888.26,540.34 1889.30,539.68 1890.33,539.02 1891.37,538.38 1892.40,537.74 1893.44,537.11 1894.48,536.48 1895.51,535.86 1896.55,535.25 1897.58,534.65 1898.62,534.05 1899.66,533.46 1900.69,532.87 1901.73,532.29 1902.77,531.72 1903.80,531.15 1904.84,530.59 1905.87,530.03 1906.91,529.48 1907.95,528.93 1908.98,528.40 1910.02,527.86 1911.05,527.33 1912.09,526.81 1913.13,526.29 1914.16,525.78 1915.20,525.27 1916.24,524.76 1917.27,524.27 1918.31,523.77 1919.34,523.28 1920.38,522.80 1921.42,522.32 1922.45,521.84 1923.49,521.37 1924.52,520.91 1925.56,520.44 1926.60,519.99 1927.63,519.53 1928.67,519.08 1929.71,518.64 1930.74,518.19 1931.78,517.76 1932.81,517.32 1933.85,516.89 1934.89,516.47 1935.92,516.05 1936.96,515.63 1937.99,515.21 1939.03,514.80 1940.07,514.40 1941.10,513.99 1942.14,513.59 1943.18,513.19 1944.21,512.80 1945.25,512.41 1946.28,512.03 1947.32,511.64 1948.36,511.26 1949.39,510.89 1950.43,510.51 1951.46,510.14 1952.50,509.78 1953.54,509.41 1954.57,509.05 1955.61,508.69 1956.65,508.34 1957.68,507.99 1958.72,507.64 1959.75,507.29 1960.79,506.95 1961.83,506.61 1962.86,506.27 1963.90,505.94 1964.93,505.60 1965.97,505.27 1967.01,504.95 1968.04,504.62 1969.08,504.30 1970.11,503.99 1971.15,503.67 1972.19,503.36 1973.22,503.05 1974.26,502.74 1975.30,502.43 1976.33,502.13 1977.37,501.83 1978.40,501.53 1979.44,501.23 1980.48,500.94 1981.51,500.65 1982.55,500.36 1983.58,500.07 1984.62,499.79 1985.66,499.51 1986.69,499.23 1987.73,498.95 1988.77,498.68 1989.80,498.40 1990.84,498.13 1991.87,497.86 1992.91,497.60 1993.95,497.33 1994.98,497.07 1996.02,496.81 1997.05,496.55 1998.09,496.30 1999.13,496.05 2000.16,495.79 2001.20,495.54 2002.24,495.30 2003.27,495.05 2004.31,494.81 2005.34,494.57 2006.38,494.33 2007.42,494.09 2008.45,493.85 2009.49,493.62 2010.52,493.39 2011.56,493.16 2012.60,492.93 2013.63,492.70 2014.67,492.48 2015.71,492.25 2016.74,492.03 2017.78,491.81 2018.81,491.60 2019.85,491.38 2020.89,491.17 2021.92,490.95 2022.96,490.74 2023.99,490.54 2025.03,490.33 2026.07,490.12 2027.10,489.92 2028.14,489.72 2029.18,489.52 2030.21,489.32 2031.25,489.12 2032.28,488.93 2033.32,488.73 2034.36,488.54 2035.39,488.35 2036.43,488.16 2037.46,487.98 2038.50,487.79 2039.54,487.61 2040.57,487.43 2041.61,487.25 2042.65,487.07 2043.68,486.89 2044.72,486.71 2045.75,486.54 2046.79,486.37 2047.83,486.19 2048.86,486.03 2049.90,485.86 2050.93,485.69 2051.97,485.53 2053.01,485.36 2054.04,485.20 2055.08,485.04 2056.12,484.88 2057.15,484.72 2058.19,484.57 2059.22,484.41 2060.26,484.26 2061.30,484.11 2062.33,483.96 2063.37,483.81 2064.40,483.66 2065.44,483.52 2066.48,483.37 2067.51,483.23 2068.55,483.09 2069.58,482.95 2070.62,482.81 2071.66,482.67 2072.69,482.54 2073.73,482.41 2074.77,482.27 2075.80,482.14 2076.84,482.01 2077.87,481.89 2078.91,481.76 2079.95,481.63 2080.98,481.51 2082.02,481.39 2083.05,481.27 2084.09,481.15 2085.13,481.03 2086.16,480.92 2087.20,480.80 2088.24,480.69 2089.27,480.58 2090.31,480.47 2091.34,480.36 2092.38,480.26 2093.42,480.15 2094.45,480.05 2095.49,479.95 2096.52,479.85 2097.56,479.76 2098.60,479.66 2099.63,479.57 2100.67,479.48 2101.71,479.39 2102.74,479.30 2103.78,479.22 2104.81,479.14 2105.85,479.06" fill="none" stroke="#f3c676" stroke-width="5.0" stroke-linejoin="round" stroke-linecap="square" clip-path="url(#c14)"/>
<polyline points="1792.85,792.06 1792.85,788.77 1792.85,788.46 1792.85,788.13 1792.85,787.76 1792.85,787.36 1792.85,786.92 1792.85,786.44 1792.85,785.93 1792.85,785.36 1792.85,784.74 1792.85,784.07 1792.85,783.35 1792.86,782.55 1792.86,781.69 1792.86,780.75 1792.86,779.73 1792.86,778.62 1792.87,777.42 1792.87,776.11 1792.88,774.70 1792.89,773.16 1792.89,771.49 1792.91,769.69 1792.92,767.73 1792.94,765.61 1792.96,763.32 1793.00,760.85 1793.03,758.17 1793.08,755.28 1793.15,752.16 1793.22,748.80 1793.32,745.17 1793.45,741.26 1793.61,737.06 1793.81,732.54 1794.07,727.68 1794.39,722.46 1794.80,716.87 1795.32,710.87 1795.98,704.46 1796.04,703.90 1797.08,695.64 1798.11,688.74 1799.15,682.78 1800.19,677.49 1801.22,672.73 1802.26,668.39 1803.30,664.39 1804.33,660.68 1805.37,657.21 1806.40,653.95 1807.44,650.88 1808.48,647.97 1809.51,645.20 1810.55,642.56 1811.58,640.03 1812.62,637.62 1813.66,635.30 1814.69,633.06 1815.73,630.91 1816.77,628.83 1817.80,626.82 1818.84,624.88 1819.87,622.99 1820.91,621.16 1821.95,619.39 1822.98,617.66 1824.02,615.98 1825.05,614.34 1826.09,612.75 1827.13,611.19 1828.16,609.67 1829.20,608.19 1830.24,606.74 1831.27,605.32 1832.31,603.93 1833.34,602.58 1834.38,601.25 1835.42,599.94 1836.45,598.66 1837.49,597.41 1838.52,596.18 1839.56,594.97 1840.60,593.79 1841.63,592.62 1842.67,591.48 1843.71,590.35 1844.74,589.24 1845.78,588.16 1846.81,587.08 1847.85,586.03 1848.89,584.99 1849.92,583.97 1850.96,582.96 1851.99,581.97 1853.03,581.00 1854.07,580.03 1855.10,579.08 1856.14,578.15 1857.18,577.22 1858.21,576.31 1859.25,575.41 1860.28,574.52 1861.32,573.65 1862.36,572.78 1863.39,571.93 1864.43,571.09 1865.46,570.25 1866.50,569.43 1867.54,568.62 1868.57,567.82 1869.61,567.02 1870.65,566.24 1871.68,565.46 1872.72,564.69 1873.75,563.93 1874.79,563.18 1875.83,562.44 1876.86,561.71 1877.90,560.98 1878.93,560.26 1879.97,559.55 1881.01,558.85 1882.04,558.15 1883.08,557.46 1884.11,556.78 1885.15,556.10 1886.19,555.43 1887.22,554.77 1888.26,554.12 1889.30,553.46 1890.33,552.82 1891.37,552.18 1892.40,551.55 1893.44,550.92 1894.48,550.30 1895.51,549.69 1896.55,549.08 1897.58,548.48 1898.62,547.88 1899.66,547.28 1900.69,546.69 1901.73,546.11 1902.77,545.53 1903.80,544.96 1904.84,544.39 1905.87,543.83 1906.91,543.27 1907.95,542.71 1908.98,542.16 1910.02,541.62 1911.05,541.08 1912.09,540.54 1913.13,540.01 1914.16,539.48 1915.20,538.95 1916.24,538.43 1917.27,537.91 1918.31,537.40 1919.34,536.89 1920.38,536.39 1921.42,535.89 1922.45,535.39 1923.49,534.89 1924.52,534.40 1925.56,533.92 1926.60,533.43 1927.63,532.95 1928.67,532.48 1929.71,532.01 1930.74,531.54 1931.78,531.07 1932.81,530.61 1933.85,530.15 1934.89,529.69 1935.92,529.24 1936.96,528.78 1937.99,528.34 1939.03,527.89 1940.07,527.45 1941.10,527.01 1942.14,526.58 1943.18,526.14 1944.21,525.71 1945.25,525.29 1946.28,524.86 1947.32,524.44 1948.36,524.02 1949.39,523.60 1950.43,523.19 1951.46,522.78 1952.50,522.37 1953.54,521.96 1954.57,521.56 1955.61,521.16 1956.65,520.76 1957.68,520.36 1958.72,519.97 1959.75,519.58 1960.79,519.19 1961.83,518.80 1962.86,518.41 1963.90,518.03 1964.93,517.65 1965.97,517.27 1967.01,516.90 1968.04,516.52 1969.08,516.15 1970.11,515.78 1971.15,515.41 1972.19,515.05 1973.22,514.69 1974.26,514.33 1975.30,513.97 1976.33,513.61 1977.37,513.25 1978.40,512.90 1979.44,512.55 1980.48,512.20 1981.51,511.85 1982.55,511.51 1983.58,511.16 1984.62,510.82 1985.66,510.48 1986.69,510.14 1987.73,509.81 1988.77,509.47 1989.80,509.14 1990.84,508.81 1991.87,508.48 1992.91,508.15 1993.95,507.82 1994.98,507.50 1996.02,507.18 1997.05,506.85 1998.09,506.53 1999.13,506.22 2000.16,505.90 2001.20,505.59 2002.24,505.27 2003.27,504.96 2004.31,504.65 2005.34,504.34 2006.38,504.03 2007.42,503.73 2008.45,503.43 2009.49,503.12 2010.52,502.82 2011.56,502.52 2012.60,502.22 2013.63,501.93 2014.67,501.63 2015.71,501.34 2016.74,501.04 2017.78,500.75 2018.81,500.46 2019.85,500.17 2020.89,499.89 2021.92,499.60 2022.96,499.32 2023.99,499.03 2025.03,498.75 2026.07,498.47 2027.10,498.19 2028.14,497.91 2029.18,497.63 2030.21,497.36 2031.25,497.08 2032.28,496.81 2033.32,496.54 2034.36,496.27 2035.39,496.00 2036.43,495.73 2037.46,495.46 2038.50,495.19 2039.54,494.93 2040.57,494.66 2041.61,494.40 2042.65,494.14 2043.68,493.88 2044.72,493.62 2045.75,493.36 2046.79,493.10 2047.83,492.84 2048.86,492.58 2049.90,492.33 2050.93,492.08 2051.97,491.82 2053.01,491.57 2054.04,491.32 2055.08,491.07 2056.12,490.82 2057.15,490.57 2058.19,490.32 2059.22,490.08 2060.26,489.83 2061.30,489.59 2062.33,489.34 2063.37,489.10 2064.40,488.86 2065.44,488.61 2066.48,488.37 2067.51,488.13 2068.55,487.89 2069.58,487.65 2070.62,487.42 2071.66,487.18 2072.69,486.94 2073.73,486.71 2074.77,486.47 2075.80,486.24 2076.84,486.00 2077.87,485.77 2078.91,485.53 2079.95,485.30 2080.98,485.07 2082.02,484.83 2083.05,484.60 2084.09,484.37 2085.13,484.14 2086.16,483.91 2087.20,483.67 2088.24,483.44 2089.27,483.21 2090.31,482.98 2091.34,482.74 2092.38,482.51 2093.42,482.28 2094.45,482.04 2095.49,481.81 2096.52,481.57 2097.56,481.33 2098.60,481.09 2099.63,480.84 2100.67,480.59 2101.71,480.33 2102.74,480.07 2103.78,479.79 2104.81,479.48 2105.85,479.06" fill="none" stroke="#ae5450" stroke-width="5.0" stroke-linejoin="round" stroke-linecap="square" clip-path="url(#c14)"/>
<rect x="1777.50" y="472.50" width="335.00" height="335.00" fill="none" stroke="#363636" stroke-width="1.25"/>
<rect x="1960.40" y="530.80" width="136.00" height="135.70" fill="#fff" stroke="none"/>
<clipPath id="i14"><rect x="1960.40" y="530.80" width="136.00" height="135.70"/></clipPath>
<polyline points="1955.71,730.34 1956.46,725.12 1957.22,720.27 1957.97,715.74 1958.73,711.48 1959.48,707.48 1960.24,703.71 1960.99,700.13 1961.74,696.75 1962.50,693.52 1963.25,690.45 1964.01,687.53 1964.76,684.73 1965.51,682.04 1966.27,679.47 1967.02,677.00 1967.78,674.63 1968.53,672.34 1969.28,670.14 1970.04,668.02 1970.79,665.96 1971.55,663.98 1972.30,662.06 1973.05,660.20 1973.81,658.40 1974.56,656.66 1975.32,654.96 1976.07,653.32 1976.83,651.72 1977.58,650.16 1978.33,648.65 1979.09,647.18 1979.84,645.75 1980.60,644.35 1981.35,642.99 1982.10,641.66 1982.86,640.37 1983.61,639.10 1984.37,637.86 1985.12,636.66 1985.87,635.48 1986.63,634.32 1987.38,633.20 1988.14,632.09 1988.89,631.01 1989.65,629.95 1990.40,628.92 1991.15,627.90 1991.91,626.91 1992.66,625.93 1993.42,624.98 1994.17,624.04 1994.92,623.12 1995.68,622.21 1996.43,621.33 1997.19,620.46 1997.94,619.60 1998.69,618.76 1999.45,617.94 2000.20,617.13 2000.96,616.33 2001.71,615.55 2002.47,614.78 2003.22,614.02 2003.97,613.28 2004.73,612.55 2005.48,611.82 2006.24,611.11 2006.99,610.42 2007.74,609.73 2008.50,609.05 2009.25,608.39 2010.01,607.73 2010.76,607.08 2011.51,606.45 2012.27,605.82 2013.02,605.20 2013.78,604.59 2014.53,603.99 2015.29,603.39 2016.04,602.81 2016.79,602.23 2017.55,601.67 2018.30,601.10 2019.06,600.55 2019.81,600.01 2020.56,599.47 2021.32,598.94 2022.07,598.41 2022.83,597.89 2023.58,597.38 2024.33,596.88 2025.09,596.38 2025.84,595.89 2026.60,595.40 2027.35,594.92 2028.11,594.45 2028.86,593.98 2029.61,593.52 2030.37,593.06 2031.12,592.61 2031.88,592.16 2032.63,591.72 2033.38,591.29 2034.14,590.86 2034.89,590.43 2035.65,590.01 2036.40,589.59 2037.15,589.18 2037.91,588.78 2038.66,588.37 2039.42,587.98 2040.17,587.58 2040.93,587.19 2041.68,586.81 2042.43,586.43 2043.19,586.05 2043.94,585.68 2044.70,585.31 2045.45,584.94 2046.20,584.58 2046.96,584.23 2047.71,583.87 2048.47,583.52 2049.22,583.18 2049.97,582.83 2050.73,582.50 2051.48,582.16 2052.24,581.83 2052.99,581.50 2053.75,581.17 2054.50,580.85 2055.25,580.53 2056.01,580.21 2056.76,579.90 2057.52,579.59 2058.27,579.28 2059.02,578.98 2059.78,578.68 2060.53,578.38 2061.29,578.09 2062.04,577.79 2062.79,577.50 2063.55,577.22 2064.30,576.93 2065.06,576.65 2065.81,576.37 2066.57,576.09 2067.32,575.82 2068.07,575.55 2068.83,575.28 2069.58,575.01 2070.34,574.75 2071.09,574.48 2071.84,574.22 2072.60,573.97 2073.35,573.71 2074.11,573.46 2074.86,573.21 2075.61,572.96 2076.37,572.71 2077.12,572.47 2077.88,572.23 2078.63,571.99 2079.39,571.75 2080.14,571.52 2080.89,571.28 2081.65,571.05 2082.40,570.82 2083.16,570.59 2083.91,570.37 2084.66,570.14 2085.42,569.92 2086.17,569.70 2086.93,569.48 2087.68,569.27 2088.43,569.05 2089.19,568.84 2089.94,568.63 2090.70,568.42 2091.45,568.21 2092.21,568.01 2092.96,567.80 2093.71,567.60 2094.47,567.40 2095.22,567.20 2095.98,567.00 2096.73,566.80 2097.48,566.61 2098.24,566.42 2098.99,566.23 2099.75,566.04 2100.50,565.85 2101.25,565.66 2102.01,565.48 2102.76,565.29 2103.52,565.11 2104.27,564.93 2105.03,564.75 2105.78,564.57" fill="none" stroke="#1fc9ef" stroke-width="5.0" stroke-linejoin="round" stroke-linecap="square" clip-path="url(#i14)"/>
<polyline points="1955.71,847.36 1956.46,840.44 1957.22,833.76 1957.97,827.31 1958.73,821.08 1959.48,815.07 1960.24,809.26 1960.99,803.64 1961.74,798.22 1962.50,792.97 1963.25,787.89 1964.01,782.97 1964.76,778.21 1965.51,773.59 1966.27,769.12 1967.02,764.78 1967.78,760.56 1968.53,756.48 1969.28,752.51 1970.04,748.65 1970.79,744.90 1971.55,741.25 1972.30,737.70 1973.05,734.25 1973.81,730.89 1974.56,727.62 1975.32,724.43 1976.07,721.32 1976.83,718.29 1977.58,715.34 1978.33,712.45 1979.09,709.64 1979.84,706.89 1980.60,704.21 1981.35,701.59 1982.10,699.03 1982.86,696.53 1983.61,694.09 1984.37,691.70 1985.12,689.36 1985.87,687.08 1986.63,684.84 1987.38,682.65 1988.14,680.51 1988.89,678.41 1989.65,676.35 1990.40,674.34 1991.15,672.36 1991.91,670.43 1992.66,668.53 1993.42,666.68 1994.17,664.85 1994.92,663.07 1995.68,661.31 1996.43,659.59 1997.19,657.91 1997.94,656.25 1998.69,654.62 1999.45,653.03 2000.20,651.46 2000.96,649.92 2001.71,648.41 2002.47,646.92 2003.22,645.46 2003.97,644.03 2004.73,642.62 2005.48,641.23 2006.24,639.87 2006.99,638.53 2007.74,637.22 2008.50,635.92 2009.25,634.65 2010.01,633.39 2010.76,632.16 2011.51,630.95 2012.27,629.75 2013.02,628.58 2013.78,627.42 2014.53,626.28 2015.29,625.16 2016.04,624.06 2016.79,622.97 2017.55,621.90 2018.30,620.85 2019.06,619.81 2019.81,618.78 2020.56,617.78 2021.32,616.78 2022.07,615.81 2022.83,614.84 2023.58,613.89 2024.33,612.95 2025.09,612.03 2025.84,611.12 2026.60,610.22 2027.35,609.34 2028.11,608.46 2028.86,607.60 2029.61,606.75 2030.37,605.92 2031.12,605.09 2031.88,604.28 2032.63,603.47 2033.38,602.68 2034.14,601.90 2034.89,601.12 2035.65,600.36 2036.40,599.61 2037.15,598.87 2037.91,598.14 2038.66,597.41 2039.42,596.70 2040.17,595.99 2040.93,595.30 2041.68,594.61 2042.43,593.93 2043.19,593.26 2043.94,592.60 2044.70,591.95 2045.45,591.30 2046.20,590.67 2046.96,590.04 2047.71,589.41 2048.47,588.80 2049.22,588.19 2049.97,587.59 2050.73,587.00 2051.48,586.42 2052.24,585.84 2052.99,585.27 2053.75,584.70 2054.50,584.14 2055.25,583.59 2056.01,583.05 2056.76,582.51 2057.52,581.98 2058.27,581.45 2059.02,580.93 2059.78,580.42 2060.53,579.91 2061.29,579.40 2062.04,578.91 2062.79,578.42 2063.55,577.93 2064.30,577.45 2065.06,576.98 2065.81,576.51 2066.57,576.04 2067.32,575.58 2068.07,575.13 2068.83,574.68 2069.58,574.23 2070.34,573.79 2071.09,573.36 2071.84,572.93 2072.60,572.50 2073.35,572.08 2074.11,571.67 2074.86,571.26 2075.61,570.85 2076.37,570.45 2077.12,570.05 2077.88,569.65 2078.63,569.26 2079.39,568.88 2080.14,568.50 2080.89,568.12 2081.65,567.74 2082.40,567.37 2083.16,567.01 2083.91,566.65 2084.66,566.29 2085.42,565.93 2086.17,565.58 2086.93,565.23 2087.68,564.89 2088.43,564.55 2089.19,564.21 2089.94,563.88 2090.70,563.55 2091.45,563.22 2092.21,562.90 2092.96,562.58 2093.71,562.27 2094.47,561.95 2095.22,561.64 2095.98,561.34 2096.73,561.03 2097.48,560.73 2098.24,560.43 2098.99,560.14 2099.75,559.85 2100.50,559.56 2101.25,559.27 2102.01,558.99 2102.76,558.71 2103.52,558.43 2104.27,558.16 2105.03,557.89 2105.78,557.62" fill="none" stroke="#f3c676" stroke-width="5.0" stroke-linejoin="round" stroke-linecap="square" clip-path="url(#i14)"/>
<polyline points="1955.71,819.25 1956.46,813.51 1957.22,808.05 1957.97,802.85 1958.73,797.88 1959.48,793.13 1960.24,788.58 1960.99,784.20 1961.74,780.00 1962.50,775.95 1963.25,772.05 1964.01,768.29 1964.76,764.65 1965.51,761.14 1966.27,757.73 1967.02,754.44 1967.78,751.24 1968.53,748.14 1969.28,745.13 1970.04,742.20 1970.79,739.35 1971.55,736.58 1972.30,733.89 1973.05,731.26 1973.81,728.70 1974.56,726.21 1975.32,723.77 1976.07,721.39 1976.83,719.07 1977.58,716.80 1978.33,714.59 1979.09,712.42 1979.84,710.30 1980.60,708.23 1981.35,706.20 1982.10,704.21 1982.86,702.26 1983.61,700.35 1984.37,698.48 1985.12,696.65 1985.87,694.85 1986.63,693.09 1987.38,691.36 1988.14,689.66 1988.89,687.99 1989.65,686.35 1990.40,684.74 1991.15,683.16 1991.91,681.61 1992.66,680.08 1993.42,678.58 1994.17,677.11 1994.92,675.66 1995.68,674.23 1996.43,672.82 1997.19,671.44 1997.94,670.08 1998.69,668.74 1999.45,667.42 2000.20,666.13 2000.96,664.85 2001.71,663.59 2002.47,662.35 2003.22,661.13 2003.97,659.92 2004.73,658.73 2005.48,657.56 2006.24,656.41 2006.99,655.27 2007.74,654.15 2008.50,653.04 2009.25,651.95 2010.01,650.87 2010.76,649.81 2011.51,648.76 2012.27,647.72 2013.02,646.70 2013.78,645.69 2014.53,644.70 2015.29,643.71 2016.04,642.74 2016.79,641.78 2017.55,640.84 2018.30,639.90 2019.06,638.98 2019.81,638.06 2020.56,637.16 2021.32,636.27 2022.07,635.39 2022.83,634.52 2023.58,633.66 2024.33,632.81 2025.09,631.97 2025.84,631.13 2026.60,630.31 2027.35,629.50 2028.11,628.70 2028.86,627.90 2029.61,627.11 2030.37,626.34 2031.12,625.57 2031.88,624.81 2032.63,624.05 2033.38,623.31 2034.14,622.57 2034.89,621.84 2035.65,621.12 2036.40,620.40 2037.15,619.70 2037.91,619.00 2038.66,618.30 2039.42,617.62 2040.17,616.94 2040.93,616.27 2041.68,615.60 2042.43,614.94 2043.19,614.29 2043.94,613.64 2044.70,613.00 2045.45,612.37 2046.20,611.74 2046.96,611.12 2047.71,610.50 2048.47,609.89 2049.22,609.29 2049.97,608.69 2050.73,608.09 2051.48,607.51 2052.24,606.92 2052.99,606.34 2053.75,605.77 2054.50,605.21 2055.25,604.64 2056.01,604.09 2056.76,603.53 2057.52,602.99 2058.27,602.44 2059.02,601.91 2059.78,601.37 2060.53,600.84 2061.29,600.32 2062.04,599.80 2062.79,599.28 2063.55,598.77 2064.30,598.27 2065.06,597.76 2065.81,597.27 2066.57,596.77 2067.32,596.28 2068.07,595.80 2068.83,595.31 2069.58,594.84 2070.34,594.36 2071.09,593.89 2071.84,593.43 2072.60,592.96 2073.35,592.50 2074.11,592.05 2074.86,591.60 2075.61,591.15 2076.37,590.70 2077.12,590.26 2077.88,589.82 2078.63,589.39 2079.39,588.96 2080.14,588.53 2080.89,588.10 2081.65,587.68 2082.40,587.26 2083.16,586.85 2083.91,586.44 2084.66,586.03 2085.42,585.62 2086.17,585.22 2086.93,584.82 2087.68,584.42 2088.43,584.03 2089.19,583.64 2089.94,583.25 2090.70,582.86 2091.45,582.48 2092.21,582.10 2092.96,581.72 2093.71,581.35 2094.47,580.98 2095.22,580.61 2095.98,580.24 2096.73,579.88 2097.48,579.52 2098.24,579.16 2098.99,578.80 2099.75,578.45 2100.50,578.10 2101.25,577.75 2102.01,577.40 2102.76,577.06 2103.52,576.71 2104.27,576.37 2105.03,576.04 2105.78,575.70" fill="none" stroke="#ae5450" stroke-width="5.0" stroke-linejoin="round" stroke-linecap="square" clip-path="url(#i14)"/>
<rect x="1960.50" y="530.50" width="136.00" height="136.00" fill="none" stroke="#363636" stroke-width="1.2"/>
<line x1="1969.78" y1="666.50" x2="1969.78" y2="668.50" stroke="#363636" stroke-width="0.9"/>
<text x="1969.78" y="682.00" font-size="13.9" text-anchor="middle" fill="#000">0.05</text>
<line x1="1999.09" y1="666.50" x2="1999.09" y2="668.50" stroke="#363636" stroke-width="0.9"/>
<text x="1999.09" y="682.00" font-size="13.9" text-anchor="middle" fill="#000">0.11</text>
<line x1="2028.40" y1="666.50" x2="2028.40" y2="668.50" stroke="#363636" stroke-width="0.9"/>
<text x="2028.40" y="682.00" font-size="13.9" text-anchor="middle" fill="#000">0.17</text>
<line x1="2057.71" y1="666.50" x2="2057.71" y2="668.50" stroke="#363636" stroke-width="0.9"/>
<text x="2057.71" y="682.00" font-size="13.9" text-anchor="middle" fill="#000">0.24</text>
<line x1="2087.02" y1="666.50" x2="2087.02" y2="668.50" stroke="#363636" stroke-width="0.9"/>
<text x="2087.02" y="682.00" font-size="13.9" text-anchor="middle" fill="#000">0.30</text>
<line x1="1960.40" y1="657.14" x2="1958.40" y2="657.14" stroke="#363636" stroke-width="0.9"/>
<text x="1954.00" y="662.04" font-size="13.9" text-anchor="end" fill="#000">0.60</text>
<line x1="1960.40" y1="627.90" x2="1958.40" y2="627.90" stroke="#363636" stroke-width="0.9"/>
<text x="1954.00" y="632.80" font-size="13.9" text-anchor="end" fill="#000">0.66</text>
<line x1="1960.40" y1="598.65" x2="1958.40" y2="598.65" stroke="#363636" stroke-width="0.9"/>
<text x="1954.00" y="603.55" font-size="13.9" text-anchor="end" fill="#000">0.72</text>
<line x1="1960.40" y1="569.40" x2="1958.40" y2="569.40" stroke="#363636" stroke-width="0.9"/>
<text x="1954.00" y="574.30" font-size="13.9" text-anchor="end" fill="#000">0.79</text>
<line x1="1960.40" y1="540.16" x2="1958.40" y2="540.16" stroke="#363636" stroke-width="0.9"/>
<text x="1954.00" y="545.06" font-size="13.9" text-anchor="end" fill="#000">0.85</text>
<rect x="1855.50" y="732.50" width="249.00" height="68.00" rx="3.5" fill="#fff" fill-opacity="0.85" stroke="#555" stroke-width="1.05"/>
<line x1="1858.91" y1="744.01" x2="1893.31" y2="744.01" stroke="#1fc9ef" stroke-width="5"/>
<text x="1902.71" y="749.01" font-size="14.8" text-anchor="start" fill="#000">10x AUC: 0.833 (0.764-0.901)</text>
<line x1="1858.91" y1="765.36" x2="1893.31" y2="765.36" stroke="#f3c676" stroke-width="5"/>
<text x="1902.71" y="770.36" font-size="14.8" text-anchor="start" fill="#000">20x AUC: 0.839 (0.778-0.900)</text>
<line x1="1858.91" y1="786.71" x2="1893.31" y2="786.71" stroke="#ae5450" stroke-width="5"/>
<text x="1902.71" y="791.71" font-size="14.8" text-anchor="start" fill="#000">40x AUC: 0.809 (0.740-0.878)</text>
<text x="291.50" y="24.60" font-size="33.8" text-anchor="middle" font-weight="bold" fill="#000">Rejection</text>
<text x="704.00" y="24.60" font-size="33.8" text-anchor="middle" font-weight="bold" fill="#000">Cellular</text>
<text x="1110.40" y="24.60" font-size="33.8" text-anchor="middle" font-weight="bold" fill="#000">Antibody</text>
<text x="1529.70" y="24.60" font-size="33.8" text-anchor="middle" font-weight="bold" fill="#000">Quilty</text>
<text x="1925.70" y="24.60" font-size="33.8" text-anchor="middle" font-weight="bold" fill="#000">Grade</text>
<text x="1.00" y="24.80" font-size="33.8" text-anchor="start" font-weight="bold" fill="#000">a.</text>
<text x="2.00" y="474.30" font-size="33.8" text-anchor="start" font-weight="bold" fill="#000">b.</text>
<text x="3.50" y="888.60" font-size="33.8" text-anchor="start" font-weight="bold" fill="#000">c.</text>
<text x="28.00" y="207.00" font-size="33.8" text-anchor="middle" font-weight="bold" transform="rotate(-90 28.00 207.00)" fill="#000">Slide-level</text>
<text x="28.00" y="654.80" font-size="33.8" text-anchor="middle" font-weight="bold" transform="rotate(-90 28.00 654.80)" fill="#000">Patient-level</text>
<text x="29.50" y="1053.00" font-size="33.8" text-anchor="middle" font-weight="bold" transform="rotate(-90 29.50 1053.00)" fill="#000">Loss function</text>
<clipPath id="lc117"><rect x="117.80" y="907.60" width="396.00" height="289.40"/></clipPath>
<line x1="135.80" y1="907.60" x2="135.80" y2="1197.00" stroke="#cfcfcf" stroke-width="1.1"/>
<line x1="255.80" y1="907.60" x2="255.80" y2="1197.00" stroke="#cfcfcf" stroke-width="1.1"/>
<line x1="375.80" y1="907.60" x2="375.80" y2="1197.00" stroke="#cfcfcf" stroke-width="1.1"/>
<line x1="495.80" y1="907.60" x2="495.80" y2="1197.00" stroke="#cfcfcf" stroke-width="1.1"/>
<line x1="117.80" y1="1197.00" x2="513.80" y2="1197.00" stroke="#cfcfcf" stroke-width="1.1"/>
<line x1="117.80" y1="1124.65" x2="513.80" y2="1124.65" stroke="#cfcfcf" stroke-width="1.1"/>
<line x1="117.80" y1="1052.30" x2="513.80" y2="1052.30" stroke="#cfcfcf" stroke-width="1.1"/>
<line x1="117.80" y1="979.95" x2="513.80" y2="979.95" stroke="#cfcfcf" stroke-width="1.1"/>
<line x1="117.80" y1="907.60" x2="513.80" y2="907.60" stroke="#cfcfcf" stroke-width="1.1"/>
<polyline points="135.80,944.86 141.80,949.56 147.80,970.54 153.80,977.06 159.80,978.50 165.80,981.76 171.80,998.76 177.80,1016.49 183.80,1021.19 189.80,1028.06 195.80,1030.96 201.80,1038.19 207.80,1043.62 213.80,1045.07 219.80,1045.43 225.80,1050.85 231.80,1050.49 237.80,1056.64 243.80,1052.66 249.80,1055.92 255.80,1059.17 261.80,1055.19 267.80,1060.98 273.80,1060.26 279.80,1060.62 285.80,1060.98 291.80,1063.88 297.80,1061.71 303.80,1064.60 309.80,1066.05 315.80,1067.86 321.80,1069.66 327.80,1069.66 333.80,1070.39 339.80,1071.11 345.80,1071.47 351.80,1071.83 357.80,1071.47 363.80,1070.39 369.80,1072.20 375.80,1075.09 381.80,1075.81 387.80,1074.73 393.80,1073.64 399.80,1074.37 405.80,1075.81 411.80,1078.71 417.80,1078.71 423.80,1077.62 429.80,1080.52 435.80,1081.60 441.80,1081.96 447.80,1082.69 453.80,1082.33 459.80,1082.69 465.80,1082.33 471.80,1083.41 477.80,1084.13 483.80,1084.13 489.80,1085.58 495.80,1084.13" fill="none" stroke="#d9782a" stroke-width="5.0" stroke-linejoin="round" stroke-linecap="square" clip-path="url(#lc117)"/>
<polyline points="135.80,1071.83 141.80,1075.09 147.80,1078.35 153.80,1079.79 159.80,1081.60 165.80,1083.05 171.80,1083.77 177.80,1084.86 183.80,1085.58 189.80,1085.22 195.80,1084.86 201.80,1086.30 207.80,1088.11 213.80,1089.56 219.80,1091.37 225.80,1092.82 231.80,1095.35 237.80,1095.35 243.80,1097.52 249.80,1098.60 255.80,1100.05 261.80,1100.77 267.80,1101.50 273.80,1102.58 279.80,1103.31 285.80,1104.75 291.80,1104.75 297.80,1106.56 303.80,1107.29 309.80,1108.01 315.80,1109.09 321.80,1110.54 327.80,1109.82 333.80,1110.18 339.80,1111.27 345.80,1111.99 351.80,1112.71 357.80,1113.07 363.80,1113.80 369.80,1113.07 375.80,1112.71 381.80,1116.33 387.80,1117.78 393.80,1117.41 399.80,1117.78 405.80,1116.69 411.80,1117.78 417.80,1118.50 423.80,1119.22 429.80,1119.95 435.80,1119.22 441.80,1118.86 447.80,1121.03 453.80,1121.39 459.80,1121.76 465.80,1122.12 471.80,1122.48 477.80,1122.84 483.80,1122.84 489.80,1123.20 495.80,1123.20" fill="none" stroke="#f1c86c" stroke-width="5.0" stroke-linejoin="round" stroke-linecap="square" clip-path="url(#lc117)"/>
<polyline points="135.80,1012.51 141.80,1013.23 147.80,1014.68 153.80,1016.49 159.80,1016.85 165.80,1017.93 171.80,1027.70 177.80,1046.87 183.80,1055.19 189.80,1060.62 195.80,1064.60 201.80,1067.13 207.80,1068.58 213.80,1069.66 219.80,1072.56 225.80,1071.83 231.80,1072.56 237.80,1072.56 243.80,1074.37 249.80,1073.28 255.80,1075.09 261.80,1076.90 267.80,1077.62 273.80,1077.62 279.80,1077.26 285.80,1080.88 291.80,1080.52 297.80,1079.07 303.80,1078.71 309.80,1079.07 315.80,1081.24 321.80,1082.69 327.80,1081.96 333.80,1081.24 339.80,1081.96 345.80,1080.88 351.80,1082.33 357.80,1083.77 363.80,1084.50 369.80,1084.13 375.80,1084.13 381.80,1084.50 387.80,1084.13 393.80,1084.86 399.80,1085.58 405.80,1085.58 411.80,1086.30 417.80,1087.39 423.80,1085.58 429.80,1087.03 435.80,1086.30 441.80,1087.75 447.80,1089.56 453.80,1089.20 459.80,1088.84 465.80,1089.20 471.80,1089.56 477.80,1088.47 483.80,1086.30 489.80,1089.56 495.80,1090.28" fill="none" stroke="#62a983" stroke-width="5.0" stroke-linejoin="round" stroke-linecap="square" clip-path="url(#lc117)"/>
<rect x="117.50" y="907.50" width="396.00" height="290.00" fill="none" stroke="#363636" stroke-width="1.25"/>
<line x1="135.80" y1="1197.00" x2="135.80" y2="1199.50" stroke="#363636" stroke-width="1"/>
<text x="135.80" y="1219.60" font-size="22.2" text-anchor="middle" fill="#000">0</text>
<line x1="255.80" y1="1197.00" x2="255.80" y2="1199.50" stroke="#363636" stroke-width="1"/>
<text x="255.80" y="1219.60" font-size="22.2" text-anchor="middle" fill="#000">20</text>
<line x1="375.80" y1="1197.00" x2="375.80" y2="1199.50" stroke="#363636" stroke-width="1"/>
<text x="375.80" y="1219.60" font-size="22.2" text-anchor="middle" fill="#000">40</text>
<line x1="495.80" y1="1197.00" x2="495.80" y2="1199.50" stroke="#363636" stroke-width="1"/>
<text x="495.80" y="1219.60" font-size="22.2" text-anchor="middle" fill="#000">60</text>
<line x1="117.80" y1="1197.00" x2="115.30" y2="1197.00" stroke="#363636" stroke-width="1"/>
<text x="111.00" y="1204.90" font-size="22.2" text-anchor="end" fill="#000">0.0</text>
<line x1="117.80" y1="1124.65" x2="115.30" y2="1124.65" stroke="#363636" stroke-width="1"/>
<text x="111.00" y="1132.55" font-size="22.2" text-anchor="end" fill="#000">0.2</text>
<line x1="117.80" y1="1052.30" x2="115.30" y2="1052.30" stroke="#363636" stroke-width="1"/>
<text x="111.00" y="1060.20" font-size="22.2" text-anchor="end" fill="#000">0.4</text>
<line x1="117.80" y1="979.95" x2="115.30" y2="979.95" stroke="#363636" stroke-width="1"/>
<text x="111.00" y="987.85" font-size="22.2" text-anchor="end" fill="#000">0.6</text>
<line x1="117.80" y1="907.60" x2="115.30" y2="907.60" stroke="#363636" stroke-width="1"/>
<text x="111.00" y="915.50" font-size="22.2" text-anchor="end" fill="#000">0.8</text>
<text x="315.80" y="1243.50" font-size="22.5" text-anchor="middle" fill="#000">Epochs</text>
<text x="72.00" y="1052.30" font-size="22.5" text-anchor="middle" transform="rotate(-90 72.00 1052.30)" fill="#000">Training Loss</text>
<rect x="336.50" y="918.50" width="166.00" height="103.00" rx="4" fill="#fff" fill-opacity="0.8" stroke="#d9d9d9" stroke-width="1"/>
<line x1="343.10" y1="935.80" x2="392.10" y2="935.80" stroke="#d9782a" stroke-width="5"/>
<text x="408.20" y="943.60" font-size="22.1" text-anchor="start" fill="#000">Cellular</text>
<line x1="343.10" y1="967.90" x2="392.10" y2="967.90" stroke="#f1c86c" stroke-width="5"/>
<text x="408.20" y="975.70" font-size="22.1" text-anchor="start" fill="#000">Antibody</text>
<line x1="343.10" y1="999.80" x2="392.10" y2="999.80" stroke="#62a983" stroke-width="5"/>
<text x="408.20" y="1007.60" font-size="22.1" text-anchor="start" fill="#000">Quilty</text>
<clipPath id="lc637"><rect x="637.50" y="907.60" width="395.90" height="289.40"/></clipPath>
<line x1="655.50" y1="907.60" x2="655.50" y2="1197.00" stroke="#cfcfcf" stroke-width="1.1"/>
<line x1="775.50" y1="907.60" x2="775.50" y2="1197.00" stroke="#cfcfcf" stroke-width="1.1"/>
<line x1="895.50" y1="907.60" x2="895.50" y2="1197.00" stroke="#cfcfcf" stroke-width="1.1"/>
<line x1="1015.50" y1="907.60" x2="1015.50" y2="1197.00" stroke="#cfcfcf" stroke-width="1.1"/>
<line x1="637.50" y1="1197.00" x2="1033.40" y2="1197.00" stroke="#cfcfcf" stroke-width="1.1"/>
<line x1="637.50" y1="1124.65" x2="1033.40" y2="1124.65" stroke="#cfcfcf" stroke-width="1.1"/>
<line x1="637.50" y1="1052.30" x2="1033.40" y2="1052.30" stroke="#cfcfcf" stroke-width="1.1"/>
<line x1="637.50" y1="979.95" x2="1033.40" y2="979.95" stroke="#cfcfcf" stroke-width="1.1"/>
<line x1="637.50" y1="907.60" x2="1033.40" y2="907.60" stroke="#cfcfcf" stroke-width="1.1"/>
<polyline points="655.50,944.86 661.50,961.50 667.50,993.70 673.50,999.85 679.50,997.68 685.50,1016.49 691.50,1010.70 697.50,1031.32 703.50,1028.42 709.50,1044.34 715.50,1064.24 721.50,1069.30 727.50,1043.26 733.50,1021.19 739.50,1047.96 745.50,1076.18 751.50,1063.15 757.50,1080.15 763.50,1080.88 769.50,1086.30 775.50,1071.47 781.50,1081.24 787.50,1088.47 793.50,1083.05 799.50,1082.33 805.50,1084.86 811.50,1091.01 817.50,1087.39 823.50,1085.94 829.50,1085.58 835.50,1080.52 841.50,1102.22 847.50,1094.62 853.50,1072.92 859.50,1087.39 865.50,1089.56 871.50,1095.71 877.50,1058.45 883.50,1097.52 889.50,1094.62 895.50,1101.50 901.50,1083.77 907.50,1086.30 913.50,1092.45 919.50,1089.20 925.50,1106.92 931.50,1103.67 937.50,1107.29 943.50,1096.07 949.50,1072.56 955.50,1102.58 961.50,1104.39 967.50,1085.22 973.50,1103.31 979.50,1092.82 985.50,1093.54 991.50,1105.48 997.50,1101.86 1003.50,1105.48 1009.50,1095.35 1015.50,1099.69" fill="none" stroke="#d9782a" stroke-width="5.0" stroke-linejoin="round" stroke-linecap="square" clip-path="url(#lc637)"/>
<polyline points="655.50,1061.71 661.50,1089.20 667.50,1091.73 673.50,1093.90 679.50,1086.30 685.50,1095.35 691.50,1091.01 697.50,1096.07 703.50,1091.73 709.50,1096.80 715.50,1098.60 721.50,1096.80 727.50,1092.45 733.50,1100.77 739.50,1100.05 745.50,1099.33 751.50,1087.03 757.50,1106.92 763.50,1099.33 769.50,1109.82 775.50,1104.39 781.50,1109.09 787.50,1118.14 793.50,1114.88 799.50,1121.03 805.50,1108.37 811.50,1114.88 817.50,1111.27 823.50,1113.80 829.50,1111.99 835.50,1112.71 841.50,1125.37 847.50,1112.71 853.50,1104.75 859.50,1119.95 865.50,1105.48 871.50,1128.99 877.50,1104.75 883.50,1124.65 889.50,1096.80 895.50,1128.99 901.50,1100.77 907.50,1116.33 913.50,1133.33 919.50,1118.14 925.50,1119.59 931.50,1121.76 937.50,1126.10 943.50,1126.82 949.50,1117.78 955.50,1127.91 961.50,1129.71 967.50,1121.76 973.50,1127.18 979.50,1113.44 985.50,1114.52 991.50,1126.10 997.50,1123.56 1003.50,1125.01 1009.50,1120.67 1015.50,1124.29" fill="none" stroke="#f1c86c" stroke-width="5.0" stroke-linejoin="round" stroke-linecap="square" clip-path="url(#lc637)"/>
<polyline points="655.50,1001.29 661.50,1016.49 667.50,1024.45 673.50,1028.79 679.50,1022.64 685.50,1024.45 691.50,1053.39 697.50,1058.09 703.50,1041.81 709.50,1071.83 715.50,1075.45 721.50,1077.98 727.50,1047.96 733.50,1066.41 739.50,1051.94 745.50,1067.86 751.50,1071.83 757.50,1074.01 763.50,1078.71 769.50,1073.28 775.50,1062.07 781.50,1071.47 787.50,1080.15 793.50,1072.20 799.50,1070.39 805.50,1070.03 811.50,1075.81 817.50,1075.45 823.50,1076.54 829.50,1073.28 835.50,1072.20 841.50,1077.62 847.50,1066.77 853.50,1064.24 859.50,1075.09 865.50,1081.96 871.50,1075.81 877.50,1069.30 883.50,1074.73 889.50,1071.11 895.50,1085.58 901.50,1068.22 907.50,1070.75 913.50,1083.77 919.50,1085.22 925.50,1083.41 931.50,1082.69 937.50,1072.56 943.50,1085.58 949.50,1079.79 955.50,1072.56 961.50,1078.35 967.50,1080.88 973.50,1079.07 979.50,1063.88 985.50,1080.88 991.50,1077.26 997.50,1076.54 1003.50,1076.54 1009.50,1083.41 1015.50,1072.92" fill="none" stroke="#62a983" stroke-width="5.0" stroke-linejoin="round" stroke-linecap="square" clip-path="url(#lc637)"/>
<rect x="637.50" y="907.50" width="396.00" height="290.00" fill="none" stroke="#363636" stroke-width="1.25"/>
<line x1="655.50" y1="1197.00" x2="655.50" y2="1199.50" stroke="#363636" stroke-width="1"/>
<text x="655.50" y="1219.60" font-size="22.2" text-anchor="middle" fill="#000">0</text>
<line x1="775.50" y1="1197.00" x2="775.50" y2="1199.50" stroke="#363636" stroke-width="1"/>
<text x="775.50" y="1219.60" font-size="22.2" text-anchor="middle" fill="#000">20</text>
<line x1="895.50" y1="1197.00" x2="895.50" y2="1199.50" stroke="#363636" stroke-width="1"/>
<text x="895.50" y="1219.60" font-size="22.2" text-anchor="middle" fill="#000">40</text>
<line x1="1015.50" y1="1197.00" x2="1015.50" y2="1199.50" stroke="#363636" stroke-width="1"/>
<text x="1015.50" y="1219.60" font-size="22.2" text-anchor="middle" fill="#000">60</text>
<line x1="637.50" y1="1197.00" x2="635.00" y2="1197.00" stroke="#363636" stroke-width="1"/>
<text x="630.70" y="1204.90" font-size="22.2" text-anchor="end" fill="#000">0.0</text>
<line x1="637.50" y1="1124.65" x2="635.00" y2="1124.65" stroke="#363636" stroke-width="1"/>
<text x="630.70" y="1132.55" font-size="22.2" text-anchor="end" fill="#000">0.2</text>
<line x1="637.50" y1="1052.30" x2="635.00" y2="1052.30" stroke="#363636" stroke-width="1"/>
<text x="630.70" y="1060.20" font-size="22.2" text-anchor="end" fill="#000">0.4</text>
<line x1="637.50" y1="979.95" x2="635.00" y2="979.95" stroke="#363636" stroke-width="1"/>
<text x="630.70" y="987.85" font-size="22.2" text-anchor="end" fill="#000">0.6</text>
<line x1="637.50" y1="907.60" x2="635.00" y2="907.60" stroke="#363636" stroke-width="1"/>
<text x="630.70" y="915.50" font-size="22.2" text-anchor="end" fill="#000">0.8</text>
<text x="835.45" y="1243.50" font-size="22.5" text-anchor="middle" fill="#000">Epochs</text>
<text x="592.00" y="1052.30" font-size="22.5" text-anchor="middle" transform="rotate(-90 592.00 1052.30)" fill="#000">Validation Loss</text>
<rect x="856.50" y="918.50" width="166.00" height="103.00" rx="4" fill="#fff" fill-opacity="0.8" stroke="#d9d9d9" stroke-width="1"/>
<line x1="862.40" y1="935.80" x2="911.40" y2="935.80" stroke="#d9782a" stroke-width="5"/>
<text x="927.50" y="943.60" font-size="22.1" text-anchor="start" fill="#000">Cellular</text>
<line x1="862.40" y1="967.90" x2="911.40" y2="967.90" stroke="#f1c86c" stroke-width="5"/>
<text x="927.50" y="975.70" font-size="22.1" text-anchor="start" fill="#000">Antibody</text>
<line x1="862.40" y1="999.80" x2="911.40" y2="999.80" stroke="#62a983" stroke-width="5"/>
<text x="927.50" y="1007.60" font-size="22.1" text-anchor="start" fill="#000">Quilty</text>
<clipPath id="lc1196"><rect x="1196.30" y="907.60" width="397.10" height="289.40"/></clipPath>
<line x1="1215.50" y1="907.60" x2="1215.50" y2="1197.00" stroke="#cfcfcf" stroke-width="1.1"/>
<line x1="1356.70" y1="907.60" x2="1356.70" y2="1197.00" stroke="#cfcfcf" stroke-width="1.1"/>
<line x1="1497.90" y1="907.60" x2="1497.90" y2="1197.00" stroke="#cfcfcf" stroke-width="1.1"/>
<line x1="1196.30" y1="1197.00" x2="1593.40" y2="1197.00" stroke="#cfcfcf" stroke-width="1.1"/>
<line x1="1196.30" y1="1124.65" x2="1593.40" y2="1124.65" stroke="#cfcfcf" stroke-width="1.1"/>
<line x1="1196.30" y1="1052.30" x2="1593.40" y2="1052.30" stroke="#cfcfcf" stroke-width="1.1"/>
<line x1="1196.30" y1="979.95" x2="1593.40" y2="979.95" stroke="#cfcfcf" stroke-width="1.1"/>
<line x1="1196.30" y1="907.60" x2="1593.40" y2="907.60" stroke="#cfcfcf" stroke-width="1.1"/>
<polyline points="1215.50,948.12 1222.56,961.14 1229.62,977.42 1236.68,990.08 1243.74,999.12 1250.80,1004.19 1257.86,1009.98 1264.92,1008.17 1271.98,1019.02 1279.04,1020.47 1286.10,1024.08 1293.16,1025.89 1300.22,1030.60 1307.28,1026.25 1314.34,1028.42 1321.40,1031.32 1328.46,1037.11 1335.52,1036.02 1342.58,1039.64 1349.64,1040.36 1356.70,1038.92 1363.76,1037.83 1370.82,1050.49 1377.88,1045.07 1384.94,1052.30 1392.00,1053.39 1399.06,1042.89 1406.12,1054.11 1413.18,1057.73 1420.24,1057.73 1427.30,1061.34 1434.36,1053.75 1441.42,1062.79 1448.48,1059.54 1455.54,1058.45 1462.60,1063.88 1469.66,1056.64 1476.72,1065.68 1483.78,1067.86 1490.84,1070.75 1497.90,1074.37 1504.96,1068.22 1512.02,1072.56 1519.08,1077.26 1526.14,1075.09 1533.20,1075.09 1540.26,1072.56 1547.32,1080.88 1554.38,1075.09 1561.44,1079.43 1568.50,1083.77 1575.56,1085.94" fill="none" stroke="#176b82" stroke-width="5.0" stroke-linejoin="round" stroke-linecap="square" clip-path="url(#lc1196)"/>
<rect x="1196.50" y="907.50" width="397.00" height="290.00" fill="none" stroke="#363636" stroke-width="1.25"/>
<line x1="1215.50" y1="1197.00" x2="1215.50" y2="1199.50" stroke="#363636" stroke-width="1"/>
<text x="1215.50" y="1219.60" font-size="22.2" text-anchor="middle" fill="#000">0</text>
<line x1="1356.70" y1="1197.00" x2="1356.70" y2="1199.50" stroke="#363636" stroke-width="1"/>
<text x="1356.70" y="1219.60" font-size="22.2" text-anchor="middle" fill="#000">20</text>
<line x1="1497.90" y1="1197.00" x2="1497.90" y2="1199.50" stroke="#363636" stroke-width="1"/>
<text x="1497.90" y="1219.60" font-size="22.2" text-anchor="middle" fill="#000">40</text>
<line x1="1196.30" y1="1197.00" x2="1193.80" y2="1197.00" stroke="#363636" stroke-width="1"/>
<text x="1189.50" y="1204.90" font-size="22.2" text-anchor="end" fill="#000">0.0</text>
<line x1="1196.30" y1="1124.65" x2="1193.80" y2="1124.65" stroke="#363636" stroke-width="1"/>
<text x="1189.50" y="1132.55" font-size="22.2" text-anchor="end" fill="#000">0.2</text>
<line x1="1196.30" y1="1052.30" x2="1193.80" y2="1052.30" stroke="#363636" stroke-width="1"/>
<text x="1189.50" y="1060.20" font-size="22.2" text-anchor="end" fill="#000">0.4</text>
<line x1="1196.30" y1="979.95" x2="1193.80" y2="979.95" stroke="#363636" stroke-width="1"/>
<text x="1189.50" y="987.85" font-size="22.2" text-anchor="end" fill="#000">0.6</text>
<line x1="1196.30" y1="907.60" x2="1193.80" y2="907.60" stroke="#363636" stroke-width="1"/>
<text x="1189.50" y="915.50" font-size="22.2" text-anchor="end" fill="#000">0.8</text>
<text x="1394.85" y="1243.50" font-size="22.5" text-anchor="middle" fill="#000">Epochs</text>
<text x="1152.00" y="1052.30" font-size="22.5" text-anchor="middle" transform="rotate(-90 1152.00 1052.30)" fill="#000">Training loss</text>
<rect x="1441.50" y="918.50" width="141.00" height="38.00" rx="4" fill="#fff" fill-opacity="0.8" stroke="#d9d9d9" stroke-width="1"/>
<line x1="1447.20" y1="935.90" x2="1496.20" y2="935.90" stroke="#176b82" stroke-width="5"/>
<text x="1512.30" y="943.70" font-size="22.1" text-anchor="start" fill="#000">Grade</text>
<clipPath id="lc1712"><rect x="1712.40" y="907.60" width="397.30" height="289.40"/></clipPath>
<line x1="1731.30" y1="907.60" x2="1731.30" y2="1197.00" stroke="#cfcfcf" stroke-width="1.1"/>
<line x1="1872.50" y1="907.60" x2="1872.50" y2="1197.00" stroke="#cfcfcf" stroke-width="1.1"/>
<line x1="2013.70" y1="907.60" x2="2013.70" y2="1197.00" stroke="#cfcfcf" stroke-width="1.1"/>
<line x1="1712.40" y1="1197.00" x2="2109.70" y2="1197.00" stroke="#cfcfcf" stroke-width="1.1"/>
<line x1="1712.40" y1="1124.65" x2="2109.70" y2="1124.65" stroke="#cfcfcf" stroke-width="1.1"/>
<line x1="1712.40" y1="1052.30" x2="2109.70" y2="1052.30" stroke="#cfcfcf" stroke-width="1.1"/>
<line x1="1712.40" y1="979.95" x2="2109.70" y2="979.95" stroke="#cfcfcf" stroke-width="1.1"/>
<line x1="1712.40" y1="907.60" x2="2109.70" y2="907.60" stroke="#cfcfcf" stroke-width="1.1"/>
<polyline points="1731.30,973.08 1738.36,982.48 1745.42,1008.17 1752.48,990.44 1759.54,1018.30 1766.60,1012.15 1773.66,1006.36 1780.72,1017.93 1787.78,1030.96 1794.84,1026.62 1801.90,966.20 1808.96,1021.19 1816.02,1021.55 1823.08,1032.77 1830.14,1018.66 1837.20,1005.63 1844.26,1021.19 1851.32,997.68 1858.38,1030.23 1865.44,1030.23 1872.50,1021.55 1879.56,1037.47 1886.62,1027.34 1893.68,1019.02 1900.74,1039.64 1907.80,1043.98 1914.86,1046.15 1921.92,1026.25 1928.98,1030.96 1936.04,998.40 1943.10,1025.17 1950.16,1036.74 1957.22,1026.98 1964.28,1032.04 1971.34,1016.12 1978.40,1000.93 1985.46,1023.72 1992.52,1015.40 1999.58,955.71 2006.64,972.35 2013.70,1024.08 2020.76,1020.10 2027.82,1015.76 2034.88,1034.57 2041.94,998.76 2049.00,964.03 2056.06,993.70 2063.12,1006.72 2070.18,1009.25 2077.24,976.33 2084.30,1015.40 2091.36,1000.93" fill="none" stroke="#176b82" stroke-width="5.0" stroke-linejoin="round" stroke-linecap="square" clip-path="url(#lc1712)"/>
<rect x="1712.50" y="907.50" width="397.00" height="290.00" fill="none" stroke="#363636" stroke-width="1.25"/>
<line x1="1731.30" y1="1197.00" x2="1731.30" y2="1199.50" stroke="#363636" stroke-width="1"/>
<text x="1731.30" y="1219.60" font-size="22.2" text-anchor="middle" fill="#000">0</text>
<line x1="1872.50" y1="1197.00" x2="1872.50" y2="1199.50" stroke="#363636" stroke-width="1"/>
<text x="1872.50" y="1219.60" font-size="22.2" text-anchor="middle" fill="#000">20</text>
<line x1="2013.70" y1="1197.00" x2="2013.70" y2="1199.50" stroke="#363636" stroke-width="1"/>
<text x="2013.70" y="1219.60" font-size="22.2" text-anchor="middle" fill="#000">40</text>
<line x1="1712.40" y1="1197.00" x2="1709.90" y2="1197.00" stroke="#363636" stroke-width="1"/>
<text x="1705.60" y="1204.90" font-size="22.2" text-anchor="end" fill="#000">0.0</text>
<line x1="1712.40" y1="1124.65" x2="1709.90" y2="1124.65" stroke="#363636" stroke-width="1"/>
<text x="1705.60" y="1132.55" font-size="22.2" text-anchor="end" fill="#000">0.2</text>
<line x1="1712.40" y1="1052.30" x2="1709.90" y2="1052.30" stroke="#363636" stroke-width="1"/>
<text x="1705.60" y="1060.20" font-size="22.2" text-anchor="end" fill="#000">0.4</text>
<line x1="1712.40" y1="979.95" x2="1709.90" y2="979.95" stroke="#363636" stroke-width="1"/>
<text x="1705.60" y="987.85" font-size="22.2" text-anchor="end" fill="#000">0.6</text>
<line x1="1712.40" y1="907.60" x2="1709.90" y2="907.60" stroke="#363636" stroke-width="1"/>
<text x="1705.60" y="915.50" font-size="22.2" text-anchor="end" fill="#000">0.8</text>
<text x="1911.05" y="1243.50" font-size="22.5" text-anchor="middle" fill="#000">Epochs</text>
<text x="1668.50" y="1052.30" font-size="22.5" text-anchor="middle" transform="rotate(-90 1668.50 1052.30)" fill="#000">Validation loss</text>
<rect x="1957.50" y="1148.50" width="141.00" height="37.00" rx="4" fill="#fff" fill-opacity="0.8" stroke="#d9d9d9" stroke-width="1"/>
<line x1="1963.50" y1="1165.00" x2="2012.50" y2="1165.00" stroke="#176b82" stroke-width="5"/>
<text x="2028.60" y="1172.80" font-size="22.1" text-anchor="start" fill="#000">Grade</text>
</svg>
</body></html>
